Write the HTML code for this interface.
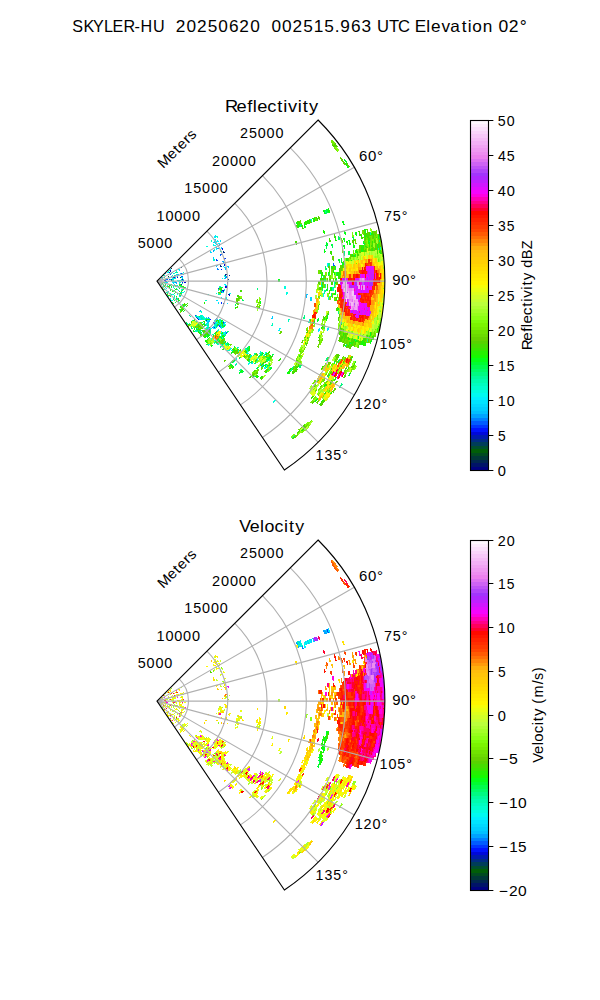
<!DOCTYPE html><html><head><meta charset="utf-8"><title>SKYLER-HU radar</title><style>html,body{margin:0;padding:0;background:#fff;overflow:hidden}svg{display:block}text{font-family:"Liberation Sans",sans-serif;fill:#000;white-space:pre}</style></head><body><svg width="600" height="1000" viewBox="0 0 600 1000"><rect width="600" height="1000" fill="#fff"/><defs><clipPath id="w0"><path d="M156.99 281.11L318.1 120A227.84 227.84 0 0 1 284.4 470Z"/></clipPath></defs><g clip-path="url(#w0)"><g shape-rendering="crispEdges"><path fill="#004b1f" d="M166 273.5l.2 .2 1.2-.9-.2-.3z"/><path fill="#005e07" d="M160 279.2l0 .1 1.3-.8-.1-.2zM159.2 280.2l0 .1 1.4-.6 0 0zM164.7 278.2l.1 .1 1.4-.5-.1-.2zM209.5 326.7l-1.1 1.2 1.1 1.1 1.1-1.3z"/><path fill="#004e2e" d="M164.6 273.7l.2 .2 1.1-1-.2-.2zM169.7 272.5l.2 .3 1.3-.8-.2-.3zM175.4 270.5l.2 .4 1.4-.7-.3-.5zM167.9 276.7l.1 .3 1.5-.6-.2-.3zM180.2 277l.1 .6 1.5-.3-.1-.5zM177 280.1l0 .4 1.6 0-.1-.5zM157 281.1l0 0 1.5 0 0 0zM166.4 281.1l0 .2 1.5 .1 .1-.3zM167.6 281.8l0 .3 1.5 .1 0-.2zM157 281.1l0 0 1.5 .2 0-.1zM175.8 282.8l-.1 .4 1.6 .2 0-.5zM169.9 282.5l-.1 .3 1.6 .2 0-.4z"/><path fill="#003d59" d="M157.8 280.3l.1 0 1.1-1-.1-.1zM170.1 269.3l.3 .3 1.2-1-.3-.3zM160.7 278.2l.1 .1 1.2-.9-.1-.1zM172.4 270.3l.3 .4 1.3-.9-.3-.4zM170.8 272.1l.2 .4 1.3-.9-.2-.3zM164.1 276.9l.1 .1 1.3-.7-.1-.2zM180.5 267.6l.3 .5 1.3-.7-.3-.6zM176.7 273.2l.1 .4 1.5-.5-.2-.5zM173.6 275.1l.1 .4 1.5-.5-.2-.5zM163.8 279.2l0 .1 1.5-.4 0-.2zM157 281.1l0 0 1.5-.4 0 0zM177.6 276l.1 .5 1.5-.4-.1-.5zM171 279.1l0 .4 1.6-.2-.1-.4zM171.1 280.4l0 .3 1.6 0-.1-.4zM165.2 281.1l0 .2 1.6 0 0-.2zM178.2 281.5l0 .5 1.5 0 0-.5zM161.7 281.5l0 .1 1.5 .2 0-.1z"/><path fill="#002b84" d="M157 281.1l0 0 2.1-1.7 0 0zM167.1 273l.2 .2 1.2-.9-.2-.3zM157.9 280.4l0 0 1.3-.9-.1-.1zM158.9 279.7l0 .1 1.3-.9-.1-.1zM158 280.5l0 0 1.3-.7 0-.1zM172.1 272l.3 .4 1.3-.8-.2-.4zM222.7 251.9l.6 1.5 1.5-.6-.7-1.6zM174 276.2l.1 .4 1.5-.3-.1-.5zM173 277.1l.1 .4 1.5-.3-.1-.5zM219.9 265.4l.3 1.5 1.5-.3-.3-1.5zM173.1 277.4l.1 .4 1.5-.3-.1-.4zM225 274l.1 1.6 1.5-.2-.1-1.6zM168.7 280.1l.1 .3 1.5-.1 0-.4zM171.1 280.1l0 .4 1.5-.1 0-.4zM181.7 279.4l0 .6 1.5-.1 0-.6zM178.2 280l0 .5 1.5 0 0-.6zM173.5 280.5l0 .4 1.5 0 0-.4zM227.7 278.6l0 1.7 1.5 0 0-1.7zM159.3 281.3l0 .1 1.6 .1 0-.1zM172.2 282.7l0 .4 1.5 .2 .1-.4zM227.8 293.6l-.3 1.7 1.5 .3 .3-1.7zM206.2 319.6l-.9 1.1 1.2 1 .9-1.2z"/><path fill="#001aaf" d="M163.7 274.4l.1 .2 1.1-1.1-.2-.1zM165.3 272.8l.2 .2 1.1-1.1-.2-.2zM165 274.2l.2 .1 1.1-.9-.1-.3zM169.4 272.1l.2 .3 1.3-.9-.3-.3zM166.6 276.6l.1 .3 1.4-.7-.1-.2zM164.6 278l.1 .2 1.4-.5 0-.3zM166 278.2l0 .2 1.5-.4-.1-.3zM168.4 278.1l0 .2 1.5-.3 0-.3zM166.1 278.8l.1 .2 1.5-.3-.1-.2zM160.4 280.3l.1 .1 1.5-.3-.1-.1zM172.2 279l0 .3 1.5-.1 0-.4zM228.6 274.8l.1 1.7 1.6-.1-.2-1.7zM159.3 280.9l0 .1 1.6-.1 0-.1zM165.2 281.4l0 .2 1.6 .1 0-.2zM180.4 284l-.1 .5 1.5 .3 .1-.6zM223.1 302.6l-.5 1.5 1.4 .6 .6-1.6z"/><path fill="#0008da" d="M157 281.1l0 0 1.1-1 0-.1zM160.4 277.8l.1 .1 1.1-1-.1-.1zM164.7 273.9l.2 .2 1.2-1.1-.2-.2zM169.8 270.7l.3 .3 1.2-.9-.3-.3zM168.6 273l.2 .3 1.2-.9-.2-.3zM176.6 270.3l.2 .4 1.4-.7-.3-.5zM221 248.5l.8 1.5 1.4-.7-.8-1.5zM157 281.1l0 0 1.4-.5 0 0zM157 281.1l0 0 1.5-.4 0 0zM171.8 277.1l.1 .4 1.5-.4-.1-.4zM223.3 264.6l.4 1.5 1.5-.3-.4-1.6zM173.1 277.7l.1 .4 1.5-.3-.1-.4zM165.1 279.5l0 .2 1.5-.2 0-.3zM176.7 277.3l0 .5 1.6-.3-.1-.5zM226.5 282.3l0 1.7 1.5 0 0-1.7zM160.5 281.2l0 .1 1.6 .1 0-.1zM178.2 281.8l0 .5 1.5 .1 0-.5zM184.1 282.1l0 .6 1.5 .1 0-.7zM225.2 285.9l-.2 1.6 1.6 .1 .1-1.6zM222.3 290.3l-.2 1.5 1.5 .3 .3-1.6zM228.9 293.8l-.3 1.7 1.5 .3 .4-1.7zM213.9 321l-.9 1.3 1.2 .9 1-1.3zM214.2 322.7l-1 1.3 1.2 .9 1-1.3zM197.3 317.4l-.9 .9 2 1.9 .9-1z"/><path fill="#0013ff" d="M157 281.1l0 0 1.1-1 0-.1zM158.7 279.5l.1 .1 1.1-1 0-.1zM157 281.1l0 0 1.3-.8 0 0zM162.3 278.6l.1 .1 1.4-.6-.1-.1zM173 273.6l.2 .4 1.4-.6-.2-.4zM157 281.1l0 0 1.4-.5 0-.1zM172.5 275.5l.1 .3 1.5-.5-.2-.4zM159.2 280.3l0 .1 1.5-.5 0-.1zM220.6 268.7l.3 1.5 1.5-.2-.3-1.6zM171 279.4l.1 .3 1.5-.1-.1-.4zM158.2 281l0 0 1.5-.1 0-.1zM157 281.1l0 0 1.5-.1 0 0zM162.9 280.6l0 .1 2.7-.1 0-.2zM173.5 281.1l0 .4 1.5 0 0-.4zM181.7 282l0 .6 1.5 0 .1-.6zM223.7 321.2l-1 1.5 1.3 .8 1-1.5zM210.1 318.3l-.9 1.2 1.2 .9 .9-1.2zM214.6 326.1l-1.1 1.3 1.2 1 1.1-1.4z"/><path fill="#0037ff" d="M163.8 274.6l.1 .1 1.2-1-.2-.2zM165.9 275.3l.1 .2 1.3-.8-.1-.2zM170.1 273.2l.2 .3 1.3-.7-.2-.4zM168.5 275.2l.2 .3 1.4-.7-.2-.3zM215.7 259.7l.5 1.4 1.4-.5-.5-1.4zM223.9 258.1l.5 1.6 1.4-.5-.5-1.6zM158.1 280.7l0 .1 1.5-.5 0 0zM180.5 273.5l.2 .5 1.5-.4-.2-.6zM172.8 276.3l.1 .4 1.5-.5-.2-.4zM176.3 275.9l.2 .5 1.4-.4-.1-.5zM178.2 280.7l0 .5 1.5 0 0-.5zM161.7 281.1l0 .1 1.5 .1 0-.2zM168.8 281.7l-.1 .3 1.6 .1 0-.3zM159.3 281.3l0 0 1.6 .2 0-.1zM181.6 283.7l-.1 .6 1.6 .2 0-.6zM217.9 287.5l-.1 1.4 1.5 .2 .2-1.4zM167.5 282.4l0 .2 1.5 .3 0-.3zM169.9 282.7l-.1 .3 1.5 .2 .1-.3zM220.9 301.9l-.5 1.5 1.4 .5 .5-1.6zM216 318l-.9 1.3 1.3 .9 .9-1.4zM219.7 325l-1 1.5 1.2 .9 1.1-1.5zM195.2 314.4l-.8 .8 1.2 1.1 .8-.9zM196.4 316.6l-.8 .9 1.1 1.1 .8-1z"/><path fill="#005cff" d="M164.5 275.4l.2 .2 1.2-.9-.2-.2zM164.7 275.7l.1 .2 1.3-.9-.1-.2zM163.8 276.5l.1 .2 1.3-.9-.1-.2zM167.2 275.2l.1 .3 1.4-.8-.2-.2zM169.7 274.9l.1 .3 1.4-.6-.1-.4zM177.4 272l.3 .5 1.4-.6-.3-.5zM178.7 271.9l.2 .5 1.4-.6-.2-.5zM219.9 254.4l.6 1.5 1.4-.6-.6-1.5zM170.6 277.2l.1 .3 1.5-.4-.1-.3zM181.9 274l.2 .6 1.5-.4-.2-.7zM167.4 278.9l0 .2 1.5-.2 0-.3zM181.3 276.4l.1 .6 1.5-.3-.1-.6zM166.3 279.5l0 .2 1.5-.2 0-.3zM169.8 279.1l0 .3 1.6-.2-.1-.4zM168.7 279.5l0 .2 1.5-.1 0-.3zM176.9 278.7l0 .4 1.6-.1-.1-.5zM168.7 279.9l0 .3 1.6-.2-.1-.3zM332.8 262.6l.4 4.2 1.5-.1-.4-4.2zM173.5 280l0 .3 1.5 0 0-.4zM182.9 280.2l0 .6 1.5 0 0-.6zM165.2 281.3l0 .1 1.6 .1 0-.2zM159.3 281.2l0 0 1.6 .1 0-.1zM221 291.2l-.2 1.6 1.5 .2 .2-1.5zM214.9 321.7l-1 1.3 1.3 .9 1-1.4zM226.6 331.7l-1.2 1.6 1.2 .9 1.2-1.6zM209.5 328.4l-1.1 1.2 1.1 1.1 1.2-1.3z"/><path fill="#0080ff" d="M161.9 277.8l.1 .1 1.2-.8-.1-.1zM158 280.5l0 0 1.3-.8 0-.1zM162.9 277.3l.1 .1 1.3-.8-.1-.2zM218.6 244.1l.9 1.4 1.3-.7-.9-1.5zM166.2 279.1l.1 .3 1.5-.3-.1-.3zM216.9 268.4l.3 1.4 1.5-.3-.3-1.5zM164 280.4l0 .1 1.6-.1-.1-.2zM160.5 280.8l0 .1 1.5-.1 0-.1zM225.2 276.3l.1 1.6 1.5 0-.1-1.7zM181.7 279.8l0 .6 1.6 0-.1-.7zM174.6 282l0 .5 1.5 .1 .1-.5zM173.4 282.5l0 .4 1.5 .2 .1-.4zM177 282.9l-.1 .4 1.5 .2 .1-.5zM223 322.3l-1 1.6 1.2 .8 1.1-1.6zM208.2 316.9l-.9 1.2 1.2 .9 .9-1.2zM218.8 324.4l-1.1 1.4 1.3 .9 1-1.5zM212.9 326.4l-1.1 1.3 1.1 .9 1.2-1.3zM197.9 316.7l-.8 .9 1.1 1.1 .9-1zM208.6 326l-1.1 1.2 1.1 1 1.1-1.2z"/><path fill="#00a4ff" d="M158.8 279.6l0 0 1.2-1-.1 0zM157 281.1l0 0 1.2-.9 0 0zM157 281.1l0 0 1.3-.8 0 0zM212.7 250.3l.7 1.3 1.3-.7-.7-1.4zM216.8 248l.7 1.4 1.4-.7-.8-1.5zM170.5 273.9l.2 .3 1.4-.6-.2-.4zM158.1 280.6l0 0 1.4-.6-.1-.1zM174.9 275.3l.2 .4 1.4-.4-.1-.5zM222.4 261.1l.4 1.6 1.5-.4-.5-1.6zM158.1 280.8l0 .1 1.5-.3 0-.1zM176.5 276.6l.1 .5 1.5-.3-.1-.5zM170.8 278.2l.1 .3 1.5-.3-.1-.3zM162.8 280.1l0 .1 1.5-.2 0-.2zM162.8 280.2l0 .1 1.6-.2-.1-.2zM165.2 280.2l0 .2 1.5-.1 0-.2zM180.5 279.1l0 .5 1.5-.1 0-.6zM169.9 280.7l.1 .3 1.5-.1 0-.3zM181.7 280.2l0 .6 1.6 0 0-.6zM174.7 280.8l0 .4 1.5 0 0-.4zM173.5 282l-.1 .4 1.6 .1 0-.4zM171.1 282.6l-.1 .3 1.5 .2 .1-.4zM175.7 283.1l0 .4 1.5 .2 .1-.5zM223.2 324.1l-1 1.6 1.2 .8 1.1-1.6zM200 310.1l-.7 1 1.2 .9 .8-1zM220.7 325.7l-1.1 1.5 1.3 .9 1.1-1.5zM216.1 324.1l-1 1.3 1.2 1 1-1.4zM200.6 315.2l-.8 1 1.2 1 .8-1zM222.9 332.6l-1.2 1.6 1.2 .9 1.2-1.5zM217.4 330.1l-1.1 1.4 1.1 1 1.2-1.5z"/><path fill="#00c1ff" d="M164.9 274l.1 .2 1.2-1-.2-.2zM213.9 241.2l1 1.4 1.2-.9-.9-1.4zM170.4 276.7l.1 .4 1.5-.5-.1-.3zM177.2 274.6l.1 .4 1.5-.4-.2-.5zM179.4 273.8l.2 .6 1.4-.5-.1-.5zM216.2 265.2l.3 1.4 1.5-.3-.3-1.4zM159.3 280.6l0 .1 1.5-.3 0-.1zM227.3 266.2l.3 1.6 1.5-.3-.3-1.7zM225.2 267.8l.3 1.7 1.6-.3-.3-1.7zM171 278.9l0 .3 1.5-.2 0-.3zM181.6 278.1l0 .6 1.5-.2 0-.6zM174.7 281.7l-.1 .4 1.6 .1 0-.4zM165.2 281.5l0 .2 1.5 .2 .1-.3zM175.8 282.1l0 .4 1.5 .2 .1-.5zM306.1 294.2l-.4 3.5 1.6 .1 .3-3.5zM199.5 310.9l-.7 .9 1.2 1 .7-1.1zM209.1 317.6l-.9 1.2 1.3 .9 .9-1.2zM209.4 319.2l-.9 1.2 1.2 1 1-1.3zM208.8 320.1l-1 1.2 1.2 1 1-1.3zM208.1 321l-1 1.2 1.2 1 1-1.2zM176.9 297.8l-.4 .4 1.1 1.1 .4-.5zM205.9 323.6l-1 1.2 1.1 1 1.1-1.2zM239.7 353l-1.7 1.9 1.1 1.1 1.8-2zM208.7 327.6l-1.1 1.2 1.1 1.1 1.1-1.2zM207.8 328.5l-1.1 1.2 1.1 1.1 1.2-1.2zM208.7 332.8l-1.3 1.2 1.1 1.1 1.2-1.2z"/><path fill="#00ceff" d="M166.2 271.9l.2 .3 1.1-1.1-.3-.2zM159.6 278.7l0 .1 1.2-1.1-.1 0zM160.9 278.5l.1 .1 1.3-.9-.1-.1zM216 244.3l.8 1.4 1.3-.8-.8-1.4zM165.1 276.3l.1 .1 1.3-.7-.1-.2zM172.3 272.3l.2 .3 1.4-.7-.3-.4zM160.1 279.4l.1 .1 1.3-.7 0-.1zM220.5 247.4l.7 1.5 1.4-.7-.8-1.6zM170.6 274.2l.2 .3 1.4-.7-.2-.3zM179.2 270.3l.3 .5 1.4-.7-.3-.5zM212.3 257.6l.6 1.3 1.4-.5-.6-1.4zM178.5 274.9l.2 .5 1.4-.3-.1-.6zM179.8 275l.1 .5 1.5-.3-.2-.6zM163.9 279.8l.1 .1 1.5-.2-.1-.2zM164 280.2l0 .2 1.6-.1-.1-.2zM180.5 282.8l0 .5 1.5 .1 0-.5zM173.3 283.4l0 .4 1.5 .2 0-.4zM157 281.1l0 0 1.5 .5 0-.1zM271.9 316.3l-.8 2.7 1.4 .4 .9-2.7zM164.8 283.8l-.1 .2 1.5 .5 0-.2zM215.6 320.6l-.9 1.4 1.2 .9 1-1.4zM161.7 284.7l-.1 .1 1.2 .9 .1-.1zM213.6 325.4l-1 1.3 1.2 1 1-1.4zM247.1 351.5l-1.7 2.1 1.2 1 1.7-2.2zM262.9 363.8l-2 2.5 1.2 1 2-2.5zM207.4 321.9l-1 1.2 1.2 1 1-1.2zM201.2 318.2l-.9 1.1 1.2 1 .9-1.1zM163.1 286.6l-.1 .2 1.1 1 .2-.1z"/><path fill="#00d9ff" d="M159.7 278.8l.1 .1 1.2-1-.1 0zM161.6 277.4l.1 .1 1.2-.9-.1-.2zM214.2 239.5l1 1.4 1.2-.9-1-1.4zM213 241.9l.9 1.3 1.3-.8-1-1.4zM214.6 242.2l.9 1.4 1.3-.8-.9-1.4zM219.3 240.7l.9 1.5 1.3-.9-1-1.5zM215.2 247.5l.7 1.4 1.4-.7-.8-1.4zM209.6 252l.6 1.2 1.4-.7-.7-1.3zM171.6 273.4l.1 .3 1.4-.7-.2-.4zM175.7 271.2l.3 .4 1.3-.7-.2-.5zM161.3 279.2l0 .1 1.5-.6-.1-.1zM164.6 277.9l.1 .2 1.4-.6-.1-.2zM157 281.1l0 0 1.5-.4 0 0zM171.7 276.9l.1 .3 1.5-.4-.1-.3zM182 274.4l.2 .6 1.5-.4-.2-.6zM165 279.3l.1 .1 1.5-.3-.1-.2zM223.9 266.9l.3 1.6 1.5-.3-.3-1.6zM174.3 277.7l.1 .4 1.5-.2-.1-.5zM173.3 278.5l0 .4 1.6-.2-.1-.4zM162.8 280.3l0 .1 1.6-.2-.1-.1zM169.9 279.5l0 .3 1.5-.1 0-.4zM182.8 278.8l.1 .7 1.5-.1-.1-.7zM174.6 279.9l.1 .4 1.5-.1 0-.4zM224.1 277.6l0 1.6 1.6-.1-.1-1.6zM179.4 280.7l0 .5 2.7 .1 0-.6zM174.7 281.1l0 .4 1.5 .1 0-.5zM178.2 281.1l0 .5 1.5 0 0-.5zM158.2 281.1l0 .1 1.5 0 0 0zM171.1 282.1l0 .3 1.5 .2 0-.4zM173.5 282.3l-.1 .3 1.5 .2 .1-.4zM310.5 297.2l-.4 3.7 1.5 .2 .5-3.7zM169.7 283.6l0 .3 1.5 .3 0-.3zM165.1 282.8l-.1 .2 1.5 .4 .1-.3zM159.3 281.6l0 .1 1.5 .4 0-.1zM183.3 287.7l-.2 .6 1.5 .4 .2-.7zM226.7 298.5l-.4 1.6 1.5 .4 .4-1.6zM158.1 281.4l0 0 1.5 .5 0-.1zM166 283.9l-.1 .2 1.5 .5 .1-.3zM181.8 288.7l-.2 .6 1.5 .5 .2-.7zM168.2 284.8l-.1 .2 1.5 .5 .1-.3zM176.4 292.3l-.3 .5 1.3 .8 .3-.5zM224.7 321.8l-1 1.6 1.3 .8 1-1.6zM180 295.5l-.4 .5 1.3 .9 .4-.6zM215.3 319l-.9 1.3 1.3 .9 .9-1.4zM207.5 317.8l-.9 1.2 1.3 .9 .9-1.2zM205 317.3l-.9 1.1 1.2 1 .9-1.2zM207.1 320.3l-.9 1.2 1.2 .9 .9-1.2zM223.9 333.3l-1.3 1.6 1.2 1 1.3-1.6zM200 316l-.8 1 1.2 1 .8-1.1zM198.5 316l-.8 .9 1.1 1 .9-1zM164.9 288.2l-.2 .2 1.1 1 .2-.2zM254.5 375.3l-2.3 2.2 1.1 1.1 2.3-2.3zM162.6 287.1l-.1 .2 1 1.1 .2-.1zM160.1 284.7l-.1 0 1 1.2 .1-.1zM157.7 282.1l0 0 .8 1.2 .1 0z"/><path fill="#00e4ff" d="M161.4 277.2l.1 .1 1.1-1-.1-.2zM166.8 272.6l.2 .2 1.2-.9-.3-.3zM168.9 271.5l.2 .3 1.2-1-.2-.3zM214.6 236.1l1 1.4 1.2-.9-1-1.4zM157.9 280.4l.1 0 1.2-.8 0-.1zM158 280.4l0 .1 1.2-.9 0 0zM165 276.1l.1 .2 1.3-.8-.1-.2zM158.1 280.7l0 0 1.4-.5 0-.1zM181.7 273.1l.1 .6 1.5-.5-.2-.6zM169.4 277.3l.1 .3 1.5-.4-.1-.3zM172.1 278.4l0 .4 1.6-.2-.1-.4zM167.6 280.6l0 .2 1.5 0 0-.3zM167.6 281.3l0 .2 1.5 .1 0-.3zM173.5 281.4l0 .4 1.5 0 0-.4zM164 281.8l0 .2 1.5 .2 0-.2zM166.4 282.3l-.1 .2 1.5 .2 .1-.3zM161.7 281.8l-.1 .1 1.6 .2 0-.1zM177.9 284.8l-.1 .5 1.5 .3 .1-.5zM221 297.1l-.4 1.5 1.5 .4 .4-1.6zM163.8 282.9l0 .2 1.4 .4 .1-.2zM327.7 326.9l-1.1 4 1.5 .4 1.1-4zM319 327.6l-1.1 3.8 1.4 .4 1.2-3.8zM216.7 299.4l-.4 1.4 1.4 .5 .5-1.5zM226.9 302.5l-.6 1.6 1.5 .5 .5-1.7zM218.3 302.2l-.5 1.4 1.4 .6 .5-1.5zM165.8 284.5l-.1 .2 1.4 .6 .1-.3zM177.6 289.9l-.2 .4 1.4 .7 .2-.5zM164.4 284.7l-.1 .2 1.4 .7 .1-.2zM161.2 283.2l-.1 .1 1.4 .8 .1-.2zM178 294.2l-.3 .5 1.2 .9 .4-.6zM217 318.6l-.9 1.4 1.2 .8 1-1.4zM267.7 353l-1.7 2.6 1.2 .8 1.8-2.6zM219.5 323.3l-1 1.4 1.3 .9 1-1.5zM164.7 286.5l-.1 .2 1.2 .9 .2-.2zM161.8 284.6l-.1 .1 1.2 .9 .1-.1zM171.3 291.5l-.3 .3 1.3 1 .2-.4zM225.6 331l-1.2 1.6 1.3 .9 1.2-1.6zM172.8 293.4l-.3 .4 1.2 1 .3-.4zM213.8 327.1l-1.1 1.3 1.1 1 1.2-1.3zM252.7 361.4l-1.9 2.2 1.1 1.1 2-2.3zM199.7 318.2l-.9 1 1.1 1 .9-1zM197.1 322.6l-1 1 1.1 1.1 1-.9zM164.1 289l-.2 .2 1 1.1 .2-.2zM170.5 299l-.5 .3 .9 1.2 .5-.3z"/><path fill="#00f0ff" d="M164.5 273.6l.2 .2 1.1-1.1-.2-.2zM157.9 280.3l0 0 1.1-1 0 0zM167.7 271.8l.2 .3 1.2-1-.3-.3zM169.4 270.3l.3 .3 1.2-1-.3-.3zM213.6 236.9l1.1 1.3 1.2-.9-1.1-1.4zM163.7 276.3l.1 .1 1.2-.9-.1-.1zM216.6 240.9l.9 1.4 1.3-.8-.9-1.4zM218 243l.8 1.5 1.4-.8-.9-1.5zM168.1 274.4l.2 .3 1.3-.8-.2-.3zM160.1 279.3l0 .1 1.3-.7 0-.1zM177.6 269.7l.3 .5 1.3-.7-.3-.6zM178.8 269.5l.3 .5 1.4-.7-.3-.5zM175.9 271.5l.2 .4 1.4-.6-.2-.5zM164.5 277.6l0 .2 1.5-.6-.1-.2zM223.8 261.9l.5 1.6 1.4-.4-.4-1.6zM160.5 280.6l0 .1 1.5-.2 0-.1zM172.2 279.2l0 .4 1.6-.1-.1-.4zM326.9 263.2l.4 4.1 1.5-.2-.3-4zM179.4 279.9l0 .6 1.5-.1 0-.5zM224.1 283.5l0 1.5 1.5 .1 .1-1.6zM172.3 282.4l-.1 .4 1.5 .2 .1-.4zM161.7 281.6l0 .1 1.5 .2 0-.1zM158.2 281.3l0 0 1.5 .2 0 0zM164 282.2l-.1 .2 1.6 .3 0-.2zM175.4 285l-.1 .5 1.5 .3 .1-.5zM181.2 286.3l-.1 .5 1.5 .4 .1-.6zM166.2 283.2l-.1 .2 1.5 .4 .1-.2zM180 286.4l-.2 .6 1.5 .3 .2-.5zM180.5 288.8l-.2 .5 1.5 .5 .2-.6zM279.1 328l-1.1 2.9 1.4 .5 1.1-2.9zM183 292.2l-.2 .6 1.4 .6 .2-.6zM157 281.1l0 0 1.4 .7 0 0zM177 293.6l-.3 .5 1.3 .8 .3-.5zM223.4 325.9l-1 1.6 1.2 .9 1.1-1.6zM217.1 324.7l-1.1 1.5 1.2 .9 1.1-1.4zM202.2 315.2l-.8 1 1.2 1 .8-1.1zM207.8 319.4l-.9 1.2 1.2 .9 .9-1.2zM162.6 285.5l-.1 .1 1.1 1 .2-.2zM221.1 331.2l-1.2 1.5 1.2 .9 1.2-1.5zM171.6 293l-.2 .3 1.1 1 .3-.4zM172.3 294l-.3 .3 1.2 1.1 .3-.4zM199.4 316.7l-.8 1 2 1.8 .9-1zM198.8 317.4l-.9 1 1.2 1.1 .9-1zM206.8 324.4l-1 1.2 1.1 1 1.1-1.2zM225.3 342.6l-1.5 1.6 1.2 1.1 1.4-1.7zM172.5 295.6l-.3 .3 1.1 1.1 .3-.4zM204.4 325.3l-1.1 1.1 1.1 1.1 1.1-1.1zM162.1 287.6l-.2 .1 .9 1.3 .2-.2zM159.8 284.9l-.1 .1 .8 1.2 .2 0zM163.1 289.8l-.2 .1 .8 1.3 .3-.1z"/><path fill="#00fbf1" d="M160.5 278l.1 0 1.1-1-.1-.1zM162.4 276.6l.1 .1 1.2-1-.1-.1zM164.2 275l.2 .2 1.2-.9-.2-.2zM166.9 272.8l.2 .2 1.2-.9-.2-.3zM167.2 273.1l.2 .3 1.2-.9-.2-.3zM157 281.1l0 0 1.3-.8-.1-.1zM167.6 273.7l.2 .2 1.3-.8-.2-.3zM215.6 241.6l.9 1.4 1.3-.9-.9-1.4zM214 245.5l.8 1.4 1.3-.8-.8-1.4zM160.1 279.4l0 .1 1.4-.7-.1-.1zM213.7 249.7l.7 1.3 1.4-.7-.8-1.4zM215.7 248.5l.8 1.4 1.4-.7-.8-1.4zM163.2 277.8l.1 .1 1.4-.6-.1-.2zM168.6 275.4l.2 .3 1.4-.6-.2-.3zM166.8 277.1l.1 .3 1.5-.6-.2-.2zM162.5 279l0 .1 1.5-.5-.1-.2zM168.2 277.5l.1 .2 1.5-.4-.1-.3zM222.4 266l.4 1.5 1.5-.3-.4-1.5zM181.4 276.8l.1 .6 1.5-.2-.1-.7zM161.6 280.4l.1 .1 1.5-.2 0-.2zM181.4 277.2l.1 .6 1.5-.2-.1-.6zM175.7 278.8l.1 .5 1.5-.2-.1-.5zM158.2 281l0 .1 1.5-.1 0-.1zM161.7 280.8l0 .1 1.5-.1 0-.1zM177 280.4l0 .5 1.6 0-.1-.5zM225.3 284.7l-.2 1.6 1.6 .1 .1-1.6zM164 281.6l0 .2 1.6 .1 0-.2zM322.8 292.7l-.4 3.9 1.6 .1 .3-3.9zM164 282.1l0 .2 1.5 .2 0-.2zM229.2 292.5l-.3 1.7 1.5 .3 .3-1.7zM173.2 284l0 .4 1.5 .3 0-.5zM181.1 286.7l-.1 .5 1.5 .4 .1-.6zM225.9 297l-.4 1.6 1.5 .4 .4-1.6zM165 283.2l-.1 .2 1.5 .5 0-.3zM179.8 287.2l-.2 .5 1.5 .5 .1-.6zM170.4 285.5l-.1 .3 1.5 .5 .1-.3zM161.4 282.6l0 .1 1.4 .6 .1-.2zM160.2 282.5l0 .1 2.4 1.2 .1-.2zM159.1 282.3l-.1 0 1.3 .8 .1-.1zM221 321.1l-1 1.5 1.3 .8 1-1.5zM214.6 320l-.9 1.3 1.3 .9 .9-1.4zM221.7 326.4l-1.1 1.5 1.2 .9 1.1-1.5zM206.6 317.1l-.9 1.2 1.2 .9 .9-1.2zM165.5 287.5l-.2 .2 1.2 .9 .2-.2zM204.1 316.6l-.9 1.1 1.2 .9 .9-1.1zM224.8 332.2l-1.3 1.6 1.2 .9 1.3-1.6zM267.1 364.1l-2 2.6 1.2 .9 2-2.6zM215.5 326.8l-1.1 1.4 1.2 1 1.1-1.4zM265.6 366l-2 2.5 1.2 1 2.1-2.6zM174.1 295.5l-.3 .4 1.2 1 .3-.4zM207.7 325.2l-1.1 1.2 1.2 1 1-1.2zM210.4 327.5l-1.1 1.2 1.1 1.1 1.1-1.3zM174.5 296.9l-.4 .4 1.1 1 .4-.4zM203.4 322.9l-1 1.1 1.1 1 1-1.1zM230.6 347.3l-1.6 1.8 1.1 1 1.6-1.7zM167.2 290.9l-.3 .3 1.1 1.1 .3-.3zM173.1 296.7l-.4 .3 1.1 1.1 .4-.4zM227.4 349.1l-1.7 1.6 1.1 1.1 1.7-1.7zM236.7 358.1l-1.9 1.8 1.1 1.1 1.9-1.9zM215.3 339.4l-1.4 1.4 1.1 1.1 1.4-1.4zM202 327.7l-1.1 1.1 1 1.1 1.2-1.1zM211.8 337.9l-1.3 1.3 1 1.1 1.4-1.3zM233.9 360.8l-1.9 1.8 1.1 1.1 1.9-1.8zM168.8 294.2l-.3 .3 1.8 2.1 .3-.3zM170.3 297.6l-.3 .3 .9 1.2 .4-.3zM172.6 300.3l-.5 .4 .9 1.2 .5-.4zM168.6 296l-.4 .2 1 1.3 .3-.3zM167.6 295.2l-.3 .3 .9 1.2 .4-.2zM171.2 299.9l-.5 .4 .9 1.2 .5-.3zM158.3 283l0 .1 .8 1.2 .1 0z"/><path fill="#00fee0" d="M160.6 278.1l.1 .1 1.2-1-.1-.1zM158.8 279.6l.1 .1 1.2-1-.1 0zM206.2 246.6l.8 1.2 1.3-.8-.8-1.2zM212.3 245.2l.9 1.3 1.3-.8-.9-1.4zM175.5 270.8l.3 .5 1.3-.7-.2-.5zM157 281.1l0 0 1.4-.7-.1 0zM172.9 273.4l.2 .3 1.4-.6-.2-.4zM174.2 273.4l.2 .4 1.4-.5-.2-.5zM182.6 272.3l.2 .6 1.5-.5-.2-.6zM171.6 276.4l.1 .3 1.4-.4-.1-.4zM160.4 280.3l0 0 1.5-.3 0-.1zM180 275.8l.1 .5 1.5-.3-.1-.5zM176.6 276.9l.1 .5 1.5-.3-.1-.5zM165.1 279.8l.1 .2 1.5-.2 0-.2zM158.2 280.9l0 .1 1.5-.2 0-.1zM173.3 278.8l.1 .4 1.5-.2-.1-.4zM223.9 275.3l.1 1.5 1.6-.1-.2-1.6zM182.9 279.3l0 .6 1.5-.1 0-.6zM221.7 277.7l.1 1.5 1.5 0 0-1.6zM171.1 280.6l0 .3 1.6 0 0-.3zM180.5 280.3l.1 .5 1.5 0 0-.6zM320.8 281.1l0 3.9 1.5 0 0-3.9zM284.2 285.6l-.1 2.9 1.5 .1 .1-3zM169.9 281.8l0 .3 1.5 .1 .1-.3zM286.1 292.4l-.3 3 1.6 .2 .3-3.1zM179.3 283.4l-.1 .6 1.5 .2 .1-.6zM222.2 291.4l-.3 1.6 1.5 .2 .3-1.5zM219.5 293.3l-.3 1.4 1.5 .3 .3-1.5zM163.9 282.6l0 .1 1.5 .4 0-.2zM169.7 283.8l-.1 .3 1.5 .4 .1-.4zM173.1 284.5l-.1 .4 1.5 .4 .1-.4zM163.8 283.1l-.1 .1 1.5 .5 .1-.2zM175.9 287.6l-.1 .5 1.4 .5 .2-.5zM180.2 289.6l-.2 .5 1.5 .6 .2-.6zM181.9 291.7l-.2 .6 1.4 .6 .3-.6zM176.9 291.3l-.2 .4 1.3 .8 .3-.5zM179.2 294.5l-.3 .5 1.3 .8 .3-.5zM219 319.8l-1 1.5 1.3 .8 1-1.5zM225 323.6l-1.1 1.6 1.3 .8 1.1-1.6zM217.3 320.3l-1 1.4 1.3 .8 1-1.4zM265.7 351.7l-1.7 2.6 1.3 .8 1.7-2.6zM216.6 321.3l-1 1.4 1.3 .9 1-1.4zM260.6 351l-1.7 2.4 1.2 .9 1.7-2.5zM164.6 286.7l-.1 .1 1.2 1 .2-.2zM203.1 315.9l-.8 1 1.2 1 .8-1.1zM214.4 324.4l-1 1.3 1.2 1 1-1.4zM257.7 357l-1.8 2.3 1.2 1 1.8-2.4zM248 352.2l-1.7 2.1 1.2 1 1.7-2.1zM207.5 323.5l-1 1.2 1.2 1 1-1.2zM221.1 334.9l-1.3 1.5 1.2 1 1.3-1.5zM249.5 361.5l-1.9 2.2 1.1 1 1.9-2.2zM168.4 291.4l-.3 .2 1.1 1.1 .3-.3zM275.3 399.4l-2.8 2.8 1.1 1.1 2.8-2.8zM209.3 343.4l-1.5 1.2 .9 1.2 1.5-1.2zM195.4 330.3l-1.1 .9 .9 1.3 1.2-1zM186.1 321.2l-1 .6 .9 1.3 1-.7zM172.5 303.3l-.5 .4 .9 1.2 .5-.3z"/><path fill="#00fdcf" d="M163.2 275.7l.1 .1 1.2-.9-.1-.2zM168.6 271.1l.2 .2 1.2-.9-.3-.3zM159.7 278.9l.1 0 1.2-.9-.1-.1zM216.3 236.4l1 1.4 1.3-.9-1.1-1.4zM161.8 277.7l.1 .1 1.3-.8-.1-.1zM168.7 273.2l.2 .3 1.3-.8-.2-.4zM159 279.9l0 0 1.4-.7-.1-.1zM162.3 278.5l0 .2 1.4-.7 0-.1zM164.4 277.5l.1 .2 1.4-.7-.1-.2zM157 281.1l0 0 1.4-.6 0 0zM213.1 259.6l.5 1.3 1.4-.5-.5-1.4zM171.4 275.9l.1 .3 1.5-.5-.2-.4zM175.9 274.6l.2 .4 1.4-.4-.1-.5zM181.8 273.5l.2 .6 1.4-.4-.1-.6zM158.1 280.8l0 .1 1.5-.4 0 0zM166.4 280l0 .2 1.5-.2 0-.2zM172.3 280.3l0 .4 1.5-.1 0-.4zM179.4 280.3l0 .6 1.5-.1 0-.5zM160.5 281.2l0 .1 1.6 0 0-.1zM172.3 281.4l0 .3 1.5 .1 0-.4zM174.7 281.4l0 .4 1.5 .1 0-.5zM173.5 281.7l0 .4 1.5 .1 0-.5zM179.4 282.3l-.1 .5 1.5 .1 .1-.5zM219.3 285.5l-.1 1.4 1.5 .2 .1-1.5zM176.9 283.6l-.1 .4 1.5 .2 .1-.5zM223.7 289.3l-.2 1.6 1.5 .2 .2-1.6zM217.7 289.6l-.2 1.5 1.5 .2 .2-1.4zM216 292.6l-.3 1.4 1.5 .3 .3-1.4zM309.1 319l-1 3.6 1.5 .4 1-3.6zM173.8 286.6l-.1 .4 1.4 .5 .2-.5zM173.5 287.4l-.2 .4 1.5 .6 .1-.4zM180.5 292.1l-.3 .5 1.4 .7 .3-.6zM158 281.6l0 .1 1.4 .7 0-.1zM158 281.7l0 0 1.3 .8 .1-.1zM161.1 283.4l0 .1 1.3 .8 .1-.2zM170.3 288.8l-.2 .3 1.3 .8 .2-.4zM220 320.5l-1 1.4 1.3 .9 1-1.5zM224 323l-1.1 1.5 1.3 .9 1.1-1.6zM178.5 295.6l-.4 .5 1.3 .9 .4-.5zM201 310.8l-.8 1 1.3 .9 .7-1.1zM218.5 322.6l-1 1.5 1.3 .9 1-1.5zM264.5 353.6l-1.8 2.5 1.3 .9 1.7-2.5zM180.2 297.3l-.4 .6 1.2 .9 .4-.6zM216.8 323l-1 1.4 1.3 .9 1-1.4zM215.3 325.1l-1 1.3 1.2 1 1.1-1.4zM223.8 331.5l-1.2 1.5 1.2 1 1.2-1.6zM245.5 347.8l-1.6 2 1.2 1 1.6-2.1zM204.4 318.1l-.9 1.1 1.2 1 .9-1.1zM251.7 355.1l-1.8 2.2 1.2 1 1.8-2.2zM172.6 293.7l-.3 .4 1.1 1 .4-.4zM174.4 295.2l-.3 .4 1.1 1 .4-.4zM208.3 322.6l-1 1.2 1.2 1 1-1.2zM220.2 332.3l-1.2 1.5 1.1 1 1.3-1.6zM163.3 286.4l-.1 .2 1.1 1 .2-.2zM177.8 298.5l-.5 .5 1.2 1 .4-.5zM222.9 336.4l-1.3 1.5 1.1 1.1 1.4-1.6zM163.2 286.5l-.1 .2 1.1 1 .2-.2zM166.6 289.8l-.2 .2 1.1 1.1 .3-.3zM170.1 292.9l-.3 .3 1.2 1.1 .3-.3zM195.5 315.8l-.8 .9 1.1 1.1 .9-1zM166.5 290l-.2 .2 1.1 1 .2-.2zM206.1 326.9l-1.1 1.2 1.1 1 1.1-1.1zM223.4 343l-1.5 1.5 1.1 1.1 1.5-1.6zM221.4 343.3l-1.5 1.5 1.1 1.1 1.5-1.5zM173.4 298.1l-.4 .3 1 1.2 .4-.4zM166.6 291.5l-.2 .2 1 1.1 .3-.2zM167.9 295l-.4 .3 1 1.2 .3-.3zM171.9 300.9l-.5 .3 .9 1.3 .5-.4zM161.7 287.9l-.1 .1 .8 1.3 .2-.2z"/><path fill="#00fcbf" d="M167 271.1l.2 .2 1.1-1-.2-.3zM162.9 275.4l.2 .1 1.1-1-.2-.2zM157 281.1l0 0 1.2-1-.1 0zM210.6 240.7l1 1.3 1.2-.9-.9-1.3zM158.9 279.8l.1 0 1.2-.8 0-.1zM219.5 250.6l.7 1.5 1.4-.6-.7-1.5zM175.3 273l.2 .4 1.4-.6-.2-.5zM171.9 277.4l0 .4 1.5-.4-.1-.4zM175.6 277.8l0 .5 1.5-.3 0-.4zM174.5 278.3l0 .5 1.5-.2 0-.5zM379.3 245.9l.8 5.2 1.5-.2-.8-5.2zM172.2 279.5l.1 .4 1.5-.2 0-.4zM158.2 281.1l0 0 1.5 0 0 0zM164.1 281l0 .2 1.5 0 0-.2zM328.4 296.1l-.4 4 1.5 .2 .4-4.1zM177.6 286.2l-.2 .5 1.5 .4 .2-.5zM207.3 293.7l-.3 1.1 1.5 .4 .3-1.2zM178.5 287.3l-.1 .5 1.4 .4 .2-.5zM288.4 318.8l-.9 3.1 1.4 .4 1-3.1zM183.6 290.8l-.3 .6 1.5 .6 .2-.7zM272.2 323l-1.1 2.7 1.5 .6 1-2.7zM205.4 299.7l-.4 1.1 1.4 .6 .4-1.2zM166.8 285.1l-.1 .2 1.4 .6 .1-.2zM176.7 289.1l-.2 .4 1.4 .6 .2-.5zM180.9 293.8l-.3 .6 1.4 .7 .3-.5zM164.1 285.2l-.1 .2 1.3 .8 .2-.2zM219.6 318.7l-.9 1.5 1.3 .8 .9-1.5zM222.7 320.6l-1 1.5 1.3 .8 1-1.5zM157 281.1l0 0 1.2 .9 0 0zM215.9 322.3l-1 1.4 1.2 .9 1-1.4zM159.9 283.2l-.1 .1 1.2 .9 .1-.1zM215.2 323.4l-1.1 1.3 1.3 1 1-1.4zM248.3 349.9l-1.7 2.1 1.2 1 1.7-2.2zM269.9 366.2l-2 2.7 1.2 .9 2.1-2.7zM202.5 316.7l-.9 1 2.1 1.7 .9-1.1zM218.3 329l-1.2 1.4 1.2 1 1.2-1.5zM159.7 283.3l0 .1 1.2 1 0-.1zM201 316.7l-.9 1 1.2 1 .8-1zM237.6 346.4l-1.6 1.9 1.2 .9 1.6-1.9zM250.4 356.8l-1.8 2.1 1.2 1 1.8-2.2zM176 297l-.4 .5 1.1 1 .4-.5zM206.6 322.8l-.9 1.1 1.1 1 1-1.1zM238.2 349.3l-1.6 1.9 1.2 1 1.6-1.9zM197 315.9l-.8 .9 1.1 1.1 .9-1zM221.9 337.6l-1.3 1.5 1.1 1 1.4-1.5zM224.6 339.9l-1.4 1.5 1.1 1.1 1.4-1.6zM232.3 348.9l-1.6 1.8 1.1 1 1.6-1.7zM177.7 300.4l-.5 .5 1.1 1.1 .5-.6zM213 333.4l-1.2 1.3 1.1 1 1.2-1.3zM229.4 348.6l-1.6 1.7 1.1 1.1 1.6-1.7zM223.1 345l-1.5 1.5 1.1 1.1 1.5-1.6zM174.5 298.6l-.4 .4 1 1.1 .5-.4zM218.7 342.8l-1.5 1.4 1 1.1 1.5-1.4zM235.3 359.4l-1.8 1.9 1 1.1 1.9-1.9zM164.4 288.7l-.2 .2 1 1.1 .2-.2zM201.8 332.7l-1.2 1 1 1.2 1.2-1zM163.8 289.2l-.2 .2 1 1.2 .2-.2zM166.1 291.9l-.3 .3 1 1.2 .3-.3zM160.7 285.7l-.1 .1 .9 1.2 .2-.1zM196.3 329.7l-1.2 .9 1.7 2.1 1.2-.9zM173.7 302.5l-.5 .4 .9 1.2 .5-.4zM189.6 322.9l-1 .8 1 1.2 1-.8zM166.5 294.6l-.4 .2 .9 1.3 .3-.2z"/><path fill="#00fbae" d="M167.8 272l.2 .3 1.2-1-.2-.3zM163.5 276l.1 .2 1.2-.9-.1-.2zM158 280.5l0 .1 1.4-.7 0-.1zM160.2 279.6l0 .1 1.4-.6 0-.1zM168.9 276l.1 .3 1.5-.5-.2-.4zM310 219.3l1.4 3.6 1.4-.5-1.4-3.7zM168.3 277.9l.1 .2 1.5-.4-.1-.3zM169.6 278.2l.1 .3 1.5-.3-.1-.4zM369.4 232.1l1.1 5 1.5-.3-1.1-5.1zM377 246.3l.7 5.2 1.6-.2-.8-5.3zM333.8 281.1l-.1 4.2 1.5 0 .1-4.2zM331.3 287.2l-.2 4.1 2.7 .2 .2-4.2zM181.6 283.3l0 .5 1.5 .2 .1-.6zM176.7 284.9l-.1 .5 1.5 .3 .1-.5zM218.3 293l-.3 1.5 1.5 .3 .3-1.5zM160.4 282l0 .1 1.5 .4 0-.1zM367.6 337.5l-1.4 5 1.5 .4 1.4-5zM158.1 281.5l0 0 1.5 .5 0-.1zM166.6 285.6l-.1 .2 1.4 .7 .1-.3zM165.5 285.2l-.1 .2 1.3 .7 .1-.2zM159.1 282.2l-.1 .1 1.4 .7 0-.1zM220.6 319.3l-.9 1.5 1.3 .9 .9-1.6zM220.2 322.2l-.9 1.5 1.2 .8 1-1.5zM291.4 368.4l-2.1 3.1 1.3 .9 2.1-3.2zM217.6 322l-1 1.4 1.2 .9 1-1.5zM201.2 314.4l-.8 1.1 1.2 .9 .9-1zM246.4 348.5l-1.6 2.1 1.2 .9 1.6-2.1zM253.9 354.2l-1.7 2.2 1.2 1 1.8-2.3zM201.6 315.9l-.9 1.1 1.2 .9 .9-1zM250.8 354.4l-1.8 2.2 1.2 1 1.8-2.3zM257.3 359.5l-1.9 2.3 1.2 1 1.9-2.4zM261 362.4l-1.9 2.4 1.1 1 2-2.5zM164.3 287l-.1 .2 1.1 1 .2-.2zM202.8 318.2l-.9 1.1 1.2 1 .9-1.1zM222 333.8l-1.2 1.5 1.1 1 1.3-1.6zM168.7 291l-.2 .2 1.1 1 .3-.3zM239.1 350l-1.6 2 1.1 1 1.7-2zM177.4 298.9l-.4 .5 1.2 1 .4-.5zM196.1 315.1l-.8 .9 1.1 1.1 .9-1zM182.4 304l-.6 .6 1.2 1 .5-.6zM226.2 343.4l-1.5 1.6 2 1.9 1.5-1.7zM168.2 291.6l-.3 .2 1.1 1.1 .3-.3zM176 298.8l-.5 .4 1.1 1.1 .5-.5zM196.2 320.3l-1 .9 1.1 1.1 .9-.9zM221.2 345.3l-1.6 1.5 1.1 1.1 1.5-1.5zM170.1 294.7l-.3 .3 1 1.1 .4-.3zM190.6 315.9l-.9 .7 1.1 1.2 .8-.8zM236.4 363.3l-2 1.9 1.1 1.1 2-1.9zM196.4 324.9l-1 .9 1 1.2 1-1zM166.3 291.8l-.3 .2 1 1.2 .3-.3zM197.2 327.4l-1.1 .9 1 1.2 1.1-1zM194.9 326.2l-1.1 .9 1 1.2 1.1-.9zM157 281.1l0 0 .9 1.3 0-.1zM187.5 323.1l-1 .7 .8 1.2 1.1-.7zM157.7 282.1l-.1 0 .9 1.3 0-.1z"/><path fill="#00fa9d" d="M163.4 278.1l.1 .2 1.4-.6-.1-.2zM175.1 272.6l.2 .5 1.4-.6-.2-.5zM176.4 272.5l.2 .4 1.4-.5-.2-.5zM324.1 210.2l1.6 4 1.4-.6-1.6-4zM173.8 275.6l.1 .4 1.5-.4-.1-.4zM169.8 279.3l.1 .3 1.5-.2-.1-.3zM162.9 280.9l0 .1 1.5 0 0-.1zM180.6 281.1l0 .6 1.5 0 0-.6zM324.3 284l-.1 4 1.5 0 .1-3.9zM333.7 284.2l-.1 4.2 1.5 0 .2-4.2zM324.1 289.9l-.2 3.9 1.5 .1 .2-4zM166.4 281.9l0 .3 1.5 .1 0-.2zM160.5 281.5l0 .1 1.5 .2 0-.2zM159.3 281.4l0 .1 1.5 .2 0 0zM159.3 281.5l0 .1 1.5 .3 0-.1zM163.9 282.5l0 .1 1.5 .3 0-.1zM181.3 285.8l-.1 .6 1.5 .3 .1-.6zM180 286l-.1 .6 1.5 .3 .1-.6zM182.4 286.5l-.2 .6 1.5 .3 .2-.6zM161.6 282.2l0 .1 1.4 .4 .1-.2zM169.4 284.9l-.1 .3 1.5 .5 .1-.4zM181.7 289.1l-.2 .6 1.4 .5 .2-.6zM175.8 288l-.1 .4 1.4 .6 .2-.5zM159.2 282l0 0 1.4 .7 0-.1zM170.1 286.4l-.1 .3 1.4 .6 .1-.3zM174.5 288.2l-.2 .4 1.4 .6 .2-.5zM180.7 291.7l-.3 .5 1.4 .7 .3-.6zM170.6 288.1l-.1 .3 1.3 .7 .2-.3zM178.8 292.7l-.2 .5 1.3 .8 .3-.6zM172.1 290.2l-.2 .4 1.3 .8 .3-.4zM173 291.1l-.3 .4 1.3 .8 .3-.4zM292.9 366l-2 3.2 1.3 .9 2-3.2zM167.9 288.2l-.2 .2 1.3 .9 .1-.3zM221.2 322.8l-1 1.5 1.3 .9 1-1.5zM171.6 291l-.2 .3 1.3 .9 .2-.3zM221.5 324.6l-1.1 1.5 1.3 .9 1-1.5zM261.5 351.6l-1.7 2.5 1.3 .9 1.7-2.5zM270.3 357.6l-1.8 2.6 1.2 .9 1.9-2.7zM255.2 352.5l-1.7 2.3 1.2 .9 1.7-2.3zM168.3 289.6l-.2 .3 1.2 .9 .2-.3zM225.7 332.9l-1.2 1.6 1.2 .9 1.2-1.6zM247.3 349.2l-1.6 2.1 1.2 1 1.7-2.2zM224.8 334.1l-1.3 1.6 1.2 .9 1.3-1.6zM165.2 287.8l-.1 .2 1.1 1 .2-.3zM201.9 317.5l-.9 1 1.2 1 .9-1.1zM208.5 324.3l-1.1 1.2 1.2 1 1-1.2zM222 335.7l-1.3 1.5 1.1 1 1.4-1.6zM164.1 287.3l-.1 .2 1.1 1 .2-.2zM171 293.7l-.3 .4 1.1 1 .3-.3zM184.1 305.6l-.5 .6 1.1 1 .6-.6zM207.8 326.8l-1.1 1.2 1.1 1.1 1.1-1.2zM210.4 329.2l-1.1 1.3 1.1 1 1.2-1.3zM157.9 281.9l-.1 0 1.1 1.1 .1 0zM219 339l-1.3 1.4 1.1 1.1 1.4-1.5zM210.4 332.7l-1.2 1.2 1 1.1 1.3-1.3zM157.8 281.9l0 .1 1.1 1.1 0-.1zM162 286.1l-.1 .1 1 1.1 .2-.1zM165.3 289.4l-.2 .2 1.1 1.1 .2-.2zM205.3 329.4l-1.1 1.2 1 1.1 1.2-1.2zM215.1 341.3l-1.4 1.4 1 1.1 1.5-1.4zM241.3 368.4l-2.1 2 1.1 1.1 2.1-2zM193.2 319.9l-1 .8 1.1 1.2 .9-.9zM295 434.4l-3.7 3.2 1 1.1 3.7-3.2zM199.5 330l-1.1 1 .9 1.2 1.2-1z"/><path fill="#00fa82" d="M163.3 278l.1 .2 1.4-.7-.1-.2zM299 223.7l1.4 3.4 1.4-.6-1.3-3.4zM165.1 279.4l0 .2 1.5-.3 0-.2zM343.2 251.6l.7 4.4 1.5-.2-.7-4.4zM328.1 263.1l.4 4.1 1.5-.2-.4-4zM320.8 284l-.1 3.8 1.5 .1 .1-3.9zM256.9 288.1l-.2 2.3 1.6 .2 .1-2.4zM331 293.3l-.3 4.1 1.5 .1 .3-4.1zM219.2 286.6l-.1 1.4 1.5 .2 .1-1.5zM217.8 288.6l-.2 1.4 1.5 .2 .2-1.4zM174.5 283.6l-.1 .4 1.5 .2 .1-.4zM220 290l-.2 1.4 1.5 .3 .2-1.5zM157 281.1l0 0 1.5 .3 0-.1zM338.6 309.9l-.8 4.2 1.6 .3 .7-4.3zM164 282.3l-.1 .2 1.5 .3 .1-.2zM184.7 287l-.2 .6 1.5 .4 .2-.7zM341.4 320.3l-.9 4.3 1.4 .4 1-4.4zM304 315l-.9 3.5 1.5 .4 .9-3.5zM159.3 281.7l0 0 1.4 .4 .1 0zM175.1 286.3l-.1 .4 1.5 .5 .1-.5zM172.8 285.9l-.1 .4 1.4 .5 .1-.4zM168.9 286.2l-.1 .3 1.4 .6 .1-.3zM327.1 356.8l-1.8 4 1.4 .7 1.8-4zM173.6 290l-.2 .4 1.4 .7 .2-.4zM341.5 383.4l-2.5 4.3 1.4 .8 2.4-4.4zM300.9 364.2l-2 3.4 1.3 .8 2-3.4zM161 283.5l0 .1 1.3 .9 0-.2zM179 294.8l-.4 .6 1.3 .8 .4-.5zM227.5 330.5l-1.2 1.6 1.2 .9 1.2-1.7zM248.7 345.3l-1.5 2.2 1.2 .9 1.6-2.2zM268 358.8l-1.9 2.6 1.3 .9 1.9-2.6zM160.8 283.9l-.1 .1 1.2 1 .1-.1zM205.9 318l-.8 1.1 1.2 1 .9-1.2zM205.3 318.8l-.9 1.2 1.2 .9 .9-1.1zM161.6 284.8l-.1 .1 1.2 1 .1-.1zM159.7 283.4l-.1 0 1.2 1.1 .1-.1zM159.7 283.4l-.1 .1 1.1 1 .1-.1zM173.9 295.8l-.4 .4 1.2 1 .3-.4zM227.3 342.2l-1.5 1.6 1.1 1.1 1.5-1.7zM201.7 321.3l-1 1.1 1.1 1 1-1zM219.2 337.1l-1.4 1.4 1.2 1.1 1.3-1.5zM159.6 283.5l-.1 .1 1.1 1.1 .1-.1zM210.4 330.9l-1.2 1.3 1.1 1.1 1.3-1.3zM198.7 322.8l-1 .9 1 1.2 1-1zM209.5 333.6l-1.3 1.2 1.1 1.1 1.3-1.2zM217.8 341.9l-1.4 1.5 1 1.1 1.5-1.5zM189.7 315l-.8 .8 1.1 1.1 .8-.8zM197.9 323.5l-1 .9 1.1 1.2 1-1zM202 329.4l-1.1 1 1 1.2 1.1-1.1zM206.8 334.5l-1.2 1.2 1 1.2 1.3-1.2zM198.7 329.1l-1.1 1 1 1.2 1.1-1zM191.8 325.7l-1 .8 .9 1.2 1.1-.8zM191.7 327.2l-1.1 .8 .9 1.3 1.2-.8z"/><path fill="#00fb67" d="M337.7 236.1l1 4.2 1.5-.3-1-4.3zM368.7 240l.9 5 1.5-.3-.9-5zM378 238.2l.9 5.2 1.5-.3-.9-5.2zM324.9 266.4l.3 4 1.5-.1-.3-4zM328.8 272.1l.2 4.1 1.5-.1-.2-4.1zM323.1 275.3l.1 3.9 1.5 0-.1-3.9zM324.3 278.2l0 3.9 1.6 0-.1-3.9zM320.4 292.5l-.3 3.9 1.5 .1 .3-3.9zM221.6 286.8l-.2 1.5 1.5 .1 .2-1.5zM176.8 283.9l0 .5 1.5 .2 0-.5zM162.8 282.2l-.1 .2 1.5 .3 .1-.2zM242.3 299.2l-.5 2 1.5 .4 .5-2zM177.7 285.9l-.2 .5 1.5 .3 .2-.5zM324.3 325.9l-1.1 4 1.5 .4 1.1-4zM235.2 303.5l-.6 1.9 1.5 .4 .5-1.9zM355.2 338l-1.4 4.6 1.5 .5 1.4-4.7zM350.8 340.4l-1.4 4.5 1.4 .5 1.5-4.6zM346.4 342.7l-1.5 4.4 1.5 .5 1.5-4.5zM165.9 284.3l-.1 .2 1.4 .6 .1-.2zM164.7 284.1l-.1 .1 1.4 .6 .1-.2zM179.9 290.4l-.2 .5 1.4 .6 .3-.5zM339.2 358.5l-1.8 4.2 1.4 .7 1.9-4.3zM329.7 373l-2.2 4 1.3 .7 2.3-4zM299.9 363.6l-2 3.3 1.3 .8 2-3.3zM177.2 293.2l-.3 .5 1.3 .8 .3-.5zM157 281.1l0 0 1.3 .9 0-.1zM161.9 284.3l0 .1 1.2 .9 .1-.1zM219.3 321.5l-1 1.5 1.3 .9 .9-1.5zM162.9 285.1l-.1 .1 1.2 .9 .1-.2zM220.5 323.9l-1 1.5 1.2 .9 1.1-1.5zM173.4 292.6l-.3 .4 1.3 .9 .3-.4zM260.3 353.4l-1.7 2.5 2.1 1.6 1.8-2.5zM216.3 325.8l-1.1 1.4 1.2 .9 1.1-1.4zM268.1 364.8l-2 2.6 1.2 .9 2-2.6zM268.4 368.2l-2 2.6 1.1 .9 2.1-2.6zM255.9 361.2l-1.9 2.3 1.2 1 1.9-2.3zM185 304.6l-.6 .6 1.2 1.1 .6-.7zM223.8 337.2l-1.3 1.5 1.1 1 1.4-1.5zM250 359.1l-1.9 2.2 1.2 1 1.9-2.2zM160.6 284.2l-.1 .1 1.1 1 .1-.1zM220.1 336l-1.3 1.5 1.2 1 1.3-1.5zM164 287.4l-.2 .2 1.2 1 .1-.2zM222.3 344.1l-1.5 1.6 1 1.1 1.6-1.6zM207 331.1l-1.2 1.2 1.1 1.1 1.2-1.2zM161.1 285.3l-.1 .1 1 1.2 .1-.1zM165.2 289.6l-.2 .2 1 1.1 .2-.2zM183.2 308.2l-.7 .6 1.1 1.2 .7-.7zM174.7 300.1l-.5 .4 1 1.1 .5-.4zM202.8 330.2l-1.2 1.1 1.1 1.1 1.2-1zM173.6 299.5l-.5 .4 1 1.1 .5-.4zM175.1 301.3l-.5 .4 1 1.1 .6-.4zM182.2 309.1l-.6 .6 1 1.2 .7-.6zM200.4 329.3l-1.2 1 1 1.1 1.2-1zM203.5 332.8l-1.2 1.1 1 1.1 1.2-1.1zM167 292.7l-.2 .2 .9 1.2 .3-.3zM200.3 330.9l-1.2 1 1 1.2 1.2-1zM197.1 329l-1.1 .9 1 1.2 1.1-1z"/><path fill="#00fc4c" d="M325.1 209.7l1.7 4 1.4-.5-1.7-4.1zM352.2 236l1 4.7 1.5-.4-1-4.6zM325.3 245.3l.8 4 1.5-.3-.8-4zM331.1 244.1l.8 4.1 1.5-.3-.8-4.1zM347.9 250.9l.6 4.5 1.6-.2-.7-4.6zM335.9 271.7l.2 4.3 1.5-.1-.2-4.2zM321.9 286.9l-.2 3.9 1.5 0 .2-3.9zM220.4 286.7l-.2 1.4 1.6 .2 .1-1.5zM159.3 281.5l0 0 1.5 .3 0-.1zM177.9 284.4l0 .5 1.5 .3 .1-.5zM180.1 285.6l-.1 .6 1.5 .3 .1-.6zM163.9 282.7l-.1 .2 1.5 .3 .1-.2zM182.9 289l-.2 .6 1.5 .5 .2-.6zM160.3 282.4l-.1 .1 1.4 .6 .1-.1zM158.1 281.6l0 0 1.4 .6 0 0zM171.1 287.1l-.1 .3 1.3 .7 .2-.4zM176.1 290.4l-.3 .5 1.4 .7 .2-.5zM181.4 293l-.3 .6 1.3 .7 .3-.6zM163.3 284.3l-.1 .2 1.4 .7 .1-.2zM169.2 288.2l-.1 .3 1.3 .8 .2-.4zM272.9 353.6l-1.7 2.7 1.3 .8 1.7-2.7zM222.5 325.3l-1.1 1.5 1.2 .9 1.1-1.6zM267.4 355.6l-1.8 2.6 2.2 1.5 1.8-2.6zM267 358.2l-1.8 2.5 1.2 .9 1.9-2.6zM247.6 346.9l-1.6 2.1 2.1 1.7 1.7-2.2zM259 355.2l-1.8 2.4 1.3 .9 1.7-2.4zM166.9 289.4l-.2 .3 1.2 1 .2-.3zM234.6 346.3l-1.5 1.8 1.1 1 1.6-1.9zM251.8 360.6l-1.9 2.3 1.1 1 2-2.3zM258.1 366l-2 2.3 1.1 1 2.1-2.4zM184.6 305.1l-.6 .6 1.1 1.1 .6-.7zM219.3 335.2l-1.3 1.5 1.1 1 1.3-1.5zM229 343.7l-1.5 1.7 1.2 1 1.5-1.7zM223.6 341l-1.5 1.6 1.1 1 1.5-1.5zM240.2 356l-1.8 2 1.1 1 1.8-2zM163 286.7l-.1 .2 1.1 1 .1-.1zM208.7 329.3l-1.1 1.2 1.1 1.1 1.1-1.2zM218.2 338.2l-1.4 1.4 1.1 1.1 1.4-1.5zM218 340.1l-1.4 1.4 1.1 1.1 1.4-1.5zM162.8 286.9l-.1 .2 1 1.1 .2-.2zM216.2 340.3l-1.5 1.4 1.1 1.1 1.4-1.4zM243 370.1l-2.2 2 1.1 1.1 2.1-2zM210.8 338.9l-1.3 1.2 1 1.2 1.4-1.3zM231.7 361.3l-1.9 1.7 1 1.1 2-1.7zM172.8 298.6l-.5 .4 1 1.2 .5-.4zM183 310l-.7 .6 1 1.2 .7-.7zM208.2 338l-1.3 1.2 1 1.2 1.4-1.2zM232.7 365.2l-2 1.7 1 1.2 2-1.8zM181 308.7l-.7 .5 1 1.2 .7-.6zM201.1 331.8l-1.2 1 .9 1.2 1.3-1zM164.6 290.1l-.2 .2 .9 1.2 .3-.2zM180 309.5l-.7 .5 .9 1.2 .7-.5zM191.1 323.2l-1 .8 .9 1.2 1.1-.8zM207.4 343.4l-1.5 1.2 1 1.2 1.5-1.2zM161.8 287.8l-.1 .1 .9 1.3 .1-.2zM186.8 322.1l-1 .7 .9 1.3 1-.8zM165.1 292.7l-.3 .2 .9 1.3 .3-.3zM188.1 325.5l-1.1 .7 .9 1.3 1.1-.7z"/><path fill="#00fd31" d="M343.8 159.8l2.8 4.4 1.3-.8-2.8-4.4zM326.2 209.3l1.7 4 1.4-.6-1.7-4zM297.9 224.2l1.4 3.3 1.4-.5-1.3-3.4zM300.1 223.3l1.4 3.4 1.4-.6-1.3-3.4zM325.8 242.1l.9 4 1.5-.3-.9-4zM362.9 241.1l.9 4.8 1.5-.2-.9-4.9zM354.2 253.4l.6 4.6 1.5-.1-.6-4.7zM338.3 258.8l.5 4.3 1.5-.1-.5-4.3zM340.6 258.6l.5 4.3 1.5-.2-.4-4.3zM334.3 265.6l.3 4.2 1.5-.1-.3-4.2zM319.2 269.8l.3 3.8 1.5-.1-.2-3.8zM320.7 275.4l.1 3.9 1.5-.1-.1-3.9zM322 284l-.2 3.9 1.6 0 .1-3.9zM326.6 287l-.2 4 1.5 .1 .2-4zM168.6 283l0 .2 1.5 .3 0-.3zM180.2 285.2l-.1 .5 1.5 .3 .1-.5zM184.8 286.5l-.2 .7 1.5 .3 .2-.7zM160.5 281.8l-.1 .1 1.5 .4 0-.1zM169.6 284l0 .3 1.4 .4 .1-.3zM317.8 318.2l-1 3.8 1.5 .4 .9-3.8zM170.7 284.5l-.1 .4 1.5 .4 .1-.4zM369.7 334.1l-1.3 5 1.5 .4 1.3-5zM358.5 335.1l-1.3 4.7 1.4 .5 1.4-4.8zM170.5 285.2l-.1 .4 1.5 .4 .1-.3zM179.4 288.4l-.2 .5 1.5 .5 .2-.5zM161.4 282.7l0 .1 1.4 .6 .1-.2zM170.3 285.9l-.1 .4 1.4 .5 .1-.3zM166.8 285.3l-.1 .2 1.4 .6 .1-.2zM178.7 290.3l-.2 .5 1.4 .7 .2-.6zM158.1 281.6l0 0 1.3 .7 .1-.1zM334.6 360.2l-1.9 4.2 1.4 .6 1.9-4.2zM350.3 371.3l-2.2 4.5 1.4 .7 2.2-4.6zM158.1 281.6l-.1 .1 1.4 .7 0-.1zM171.8 288.3l-.2 .4 1.4 .7 .2-.4zM160 282.9l0 .1 1.3 .8 0-.1zM170 289.2l-.2 .3 1.3 .9 .2-.4zM172 290.5l-.2 .3 1.2 .9 .3-.4zM170.8 290.1l-.2 .3 1.3 .9 .2-.4zM169.7 289.7l-.2 .3 1.2 .9 .3-.4zM262.5 352.3l-1.7 2.4 1.3 .9 1.7-2.5zM158 281.8l-.1 0 1.3 .9 0 0zM158.9 282.5l0 0 1.2 1 0-.1zM269.5 362.8l-2 2.7 1.3 .9 1.9-2.7zM270.9 366.9l-2.1 2.7 1.2 .9 2.1-2.7zM169.1 290.5l-.3 .3 1.2 1 .3-.3zM175.6 295.6l-.4 .5 1.2 .9 .4-.4zM263.8 364.5l-2 2.5 1.2 1 2-2.5zM199.1 315.2l-.8 1 1.2 1 .8-1zM160.6 284.1l-.1 .1 1.2 1 .1-.1zM178.7 299.3l-.5 .5 1.2 1 .4-.5zM215.7 332.1l-1.2 1.4 1.1 1 1.3-1.4zM221 336.8l-1.3 1.5 1.1 1 1.4-1.5zM228.1 343l-1.4 1.6 1.1 1.1 1.5-1.7zM204.3 323.7l-1 1.1 1.1 1 1-1.1zM168 291.8l-.2 .2 1 1.1 .3-.3zM207.9 330.2l-1.2 1.2 1.1 1.1 1.2-1.2zM217.2 339.2l-1.4 1.4 1.1 1.1 1.4-1.4zM157 281.1l0 0 1 1.1 .1 0zM193.8 319.3l-.9 .8 1.1 1.1 .9-.8zM170.7 295.8l-.4 .3 1 1.1 .4-.3zM207.6 335.4l-1.3 1.2 1.1 1.1 1.3-1.2zM209.2 337.1l-1.3 1.2 1 1.2 1.4-1.2zM240.6 370.7l-2.2 2 1.1 1.1 2.1-1.9zM181.4 308.3l-.6 .5 1 1.2 .7-.6zM204.3 333.7l-1.2 1.1 1 1.1 1.2-1.1zM231.1 363.4l-1.9 1.8 1 1.1 1.9-1.7zM196.4 328.1l-1.1 .9 .9 1.2 1.2-1zM199.4 331.7l-1.2 1 1 1.1 1.2-1zM159.2 283.9l0 0 .9 1.2 .1-.1zM172.6 301.8l-.5 .4 .9 1.2 .5-.4zM159.7 285l-.1 0 .9 1.3 .1-.1z"/><path fill="#05ff17" d="M344.9 163.7l2.7 4.5 1.3-.8-2.7-4.5zM295.8 222.2l1.4 3.3 1.4-.6-1.3-3.3zM323 210.7l1.6 3.9 1.4-.6-1.6-3.9zM313.2 218l1.5 3.7 1.4-.6-1.4-3.7zM303.3 224.9l1.3 3.5 1.4-.5-1.2-3.5zM341.9 221l1.4 4.4 1.5-.4-1.4-4.5zM343.7 231.1l1.1 4.4 1.5-.4-1.1-4.4zM354.8 231.8l1.1 4.7 1.5-.4-1.1-4.7zM364 229.5l1.1 4.9 1.5-.3-1.1-5zM343 238.2l1 4.4 1.5-.4-1-4.4zM348.3 240.4l1 4.6 1.5-.3-1-4.6zM377.2 234.3l1 5.2 1.5-.3-1-5.2zM323.6 248.7l.7 4 1.5-.3-.7-4zM343.2 244.9l.8 4.4 1.6-.3-.9-4.4zM352.5 243.1l.8 4.6 1.6-.2-.9-4.7zM362.4 244.9l.8 4.8 1.5-.2-.8-4.9zM364.7 244.5l.8 4.9 1.6-.2-.9-5zM376.3 242.4l.9 5.2 1.5-.2-.8-5.2zM361.9 248.7l.7 4.8 1.5-.2-.7-4.9zM351.9 253.7l.6 4.6 1.5-.2-.6-4.6zM342.2 261.6l.4 4.4 1.5-.1-.4-4.4zM327.6 272.2l.2 4 1.5-.1-.1-4zM338.2 271.6l.2 4.3 1.5-.1-.1-4.3zM278.4 279l0 2.9 1.5 0 0-2.9zM334.9 278l0 4.2 1.6 0 0-4.2zM334.9 281.1l0 4.2 1.5 0 .1-4.2zM330.1 287.2l-.2 4 1.6 .1 .2-4.1zM334.7 290.4l-.3 4.2 1.6 .1 .2-4.2zM337.9 306.5l-.7 4.3 1.5 .2 .7-4.3zM179 285l-.1 .5 1.5 .3 .2-.5zM260 301.1l-.5 2.4 1.4 .4 .6-2.5zM327 314.2l-.8 4 1.5 .3 .9-4zM162.8 282.3l-.1 .2 1.5 .3 .1-.1zM370.6 330.4l-1.2 5 1.4 .4 1.3-5zM157 281.1l0 0 1.5 .4 0 0zM313.7 320.2l-1 3.6 1.5 .5 .9-3.8zM371 338.5l-1.4 5 1.5 .4 1.4-5.1zM362 339.9l-1.4 4.8 1.5 .5 1.4-4.9zM169.2 285.5l-.1 .3 1.4 .6 .1-.3zM161.3 283l0 .1 1.4 .6 0-.2zM174.3 288.5l-.1 .4 1.4 .6 .2-.4zM168.7 286.6l-.1 .3 1.4 .6 .1-.3zM180.3 292.5l-.3 .5 1.4 .7 .3-.6zM173.5 290.3l-.2 .3 1.3 .8 .2-.4zM165.2 285.8l-.2 .2 1.4 .8 .1-.2zM179.4 294.1l-.3 .5 1.3 .8 .4-.6zM221.6 320l-.9 1.5 1.3 .8 1-1.6zM325.7 382.5l-2.4 3.9 1.3 .8 2.4-3.9zM218 319.2l-1 1.4 1.3 .9 1-1.5zM224.2 324.8l-1 1.5 1.2 .9 1.1-1.6zM270.7 354.9l-1.8 2.7 1.2 .8 1.8-2.6zM269.3 356.9l-1.8 2.6 1.3 .9 1.8-2.6zM288.9 370.1l-2.1 3.1 1.2 .8 2.2-3.1zM208.5 318.5l-.9 1.2 1.2 .9 .9-1.2zM317.2 397.5l-2.8 3.7 1.2 1 2.8-3.8zM206.9 318.7l-.9 1.2 1.2 .9 .9-1.2zM266.2 363.4l-2 2.5 1.2 1 2-2.6zM159.8 283.3l-.1 .1 1.2 .9 .1-.1zM165.4 287.6l-.2 .2 1.2 1 .2-.2zM223.9 335.3l-1.3 1.5 1.1 1 1.3-1.6zM183.3 304.8l-.6 .6 1.1 1 .6-.6zM232 351l-1.7 1.8 1.1 1.1 1.7-1.8zM209.6 331.9l-1.3 1.2 1.1 1.1 1.3-1.3zM213.8 336l-1.3 1.3 1.1 1.1 1.3-1.4zM206.2 330.3l-1.2 1.1 1 1.1 1.2-1.1zM182.4 307.4l-.7 .6 1.1 1.1 .6-.6zM208.6 334.5l-1.3 1.2 1 1.1 1.3-1.2zM180.3 306.1l-.6 .5 1 1.2 .6-.6zM205.2 332.8l-1.2 1.1 1 1.2 1.3-1.2zM205.9 335.4l-1.3 1.1 1 1.2 1.3-1.2zM159.3 283.8l-.1 0 1 1.2 .1-.1zM204.9 336.3l-1.3 1.1 1 1.1 1.3-1.1zM211.9 344.3l-1.5 1.2 1 1.2 1.5-1.3zM207 340.7l-1.4 1.2 1.7 2.1 1.4-1.2zM162.9 288.4l-.1 .2 .9 1.2 .2-.2zM193.9 330.1l-1.2 .8 .9 1.3 1.2-.9z"/><path fill="#16fa00" d="M327.3 208.8l1.7 4 1.4-.5-1.7-4.1zM296.9 224.6l1.2 3.3 1.5-.5-1.3-3.4zM303.4 222l1.4 3.4 1.4-.5-1.4-3.5zM305.6 221.1l1.4 3.5 1.4-.6-1.4-3.5zM312.2 218.4l1.4 3.7 1.4-.5-1.4-3.8zM322.7 230.5l1.1 3.9 1.5-.4-1.2-4zM334.2 236.9l1 4.2 1.5-.3-1-4.3zM363.7 233.4l1.1 4.9 1.5-.3-1.1-5zM370.6 231.8l1.1 5 1.5-.3-1.1-5zM346 240.9l.9 4.5 1.5-.3-.9-4.5zM366.8 236.5l1 5 1.5-.3-1-5zM367.5 240.2l.9 5 1.6-.3-1-5zM360.1 245.3l.8 4.8 1.5-.2-.8-4.9zM368.2 243.9l.8 5 1.6-.3-.9-5zM356 249.6l.7 4.7 1.5-.2-.7-4.8zM360.7 248.8l.7 4.9 1.5-.2-.7-4.9zM378.7 249.9l.7 5.3 1.5-.2-.7-5.3zM332.2 268.9l.2 4.1 1.5-.1-.2-4.1zM321.8 272.5l.1 3.9 1.5-.1-.1-3.9zM333.5 271.9l.2 4.1 1.5 0-.1-4.2zM160.5 281.7l0 .1 1.5 .3 0-.1zM165.1 282.5l0 .2 1.5 .3 0-.2zM324.1 316.6l-.8 4 1.4 .3 .9-3.9zM326.4 317.1l-.8 4 1.4 .4 .9-4.1zM237 301.1l-.5 1.8 1.5 .5 .5-2zM258.8 306.5l-.7 2.4 1.5 .4 .6-2.4zM372 334.7l-1.4 5.1 1.5 .4 1.4-5.1zM236.7 302.5l-.5 1.8 1.4 .5 .6-1.9zM343.7 331.1l-1.2 4.4 1.4 .4 1.3-4.4zM164.9 283.4l0 .2 1.4 .4 .1-.2zM348.4 336l-1.3 4.5 1.5 .5 1.3-4.6zM356.4 338.3l-1.4 4.7 1.4 .4 1.4-4.7zM363.2 340.2l-1.5 4.9 1.5 .4 1.4-4.8zM365.4 340.9l-1.4 4.9 1.4 .4 1.5-4.9zM164.9 283.5l-.1 .2 1.5 .5 0-.2zM349.7 340l-1.4 4.6 1.4 .4 1.5-4.5zM166 284l-.1 .2 1.4 .5 .1-.2zM235.4 306.6l-.6 1.8 1.5 .6 .6-1.9zM348.7 343.4l-1.6 4.5 1.5 .5 1.5-4.5zM169.2 285.3l-.1 .3 1.5 .6 .1-.4zM175.4 288.9l-.2 .5 1.4 .6 .2-.5zM171 287.3l-.2 .4 1.4 .6 .2-.3zM173.9 289.4l-.2 .4 1.4 .7 .2-.5zM168.5 287l-.1 .3 1.3 .7 .2-.3zM336 376.3l-2.3 4.2 1.3 .7 2.3-4.2zM172.5 289.7l-.3 .3 1.4 .8 .2-.4zM166.2 286.4l-.1 .2 1.3 .8 .1-.2zM166.1 286.6l-.1 .2 1.2 .8 .2-.2zM175.2 292l-.3 .5 1.3 .8 .3-.5zM180.2 295.1l-.3 .5 1.3 .8 .3-.5zM318.6 378.2l-2.3 3.8 1.3 .8 2.3-3.8zM249.7 346l-1.6 2.2 1.2 .9 1.6-2.2zM324 398.1l-2.8 3.9 1.2 .9 2.9-4zM222 331.9l-1.2 1.5 1.2 1 1.2-1.6zM222.9 334.5l-1.2 1.5 1.1 1 1.3-1.5zM266.9 370.1l-2.1 2.6 1.1 1 2.2-2.6zM165 288.1l-.2 .2 1.2 1 .2-.2zM175.7 297.3l-.4 .5 1.1 1 .4-.4zM204.1 322.1l-.9 1.1 1.1 1 1-1.1zM234.4 348.4l-1.6 1.8 2 1.8 1.6-1.8zM157.9 281.9l-.1 0 1.2 1.1 0-.1zM165.8 289l-.2 .2 1.1 1.1 .2-.3zM200.9 322.1l-.9 1 1.1 1.1 1-1.1zM213.9 334.2l-1.3 1.3 1.1 1.1 1.3-1.4zM257.8 375.1l-2.2 2.4 1.1 1.1 2.3-2.4zM218.9 340.9l-1.4 1.4 1 1.1 1.5-1.5zM181.2 305.3l-.6 .5 1 1.1 .6-.5zM234.5 358.6l-1.9 1.8 1.1 1.1 1.9-1.8zM242.1 369.3l-2.1 2 1.1 1.1 2.1-2zM198.8 325.9l-1.1 1 1 1.1 1.1-1zM206 333.7l-1.2 1.1 1 1.2 1.3-1.2zM158.6 282.9l-.1 0 1 1.2 .1-.1zM201.7 334.4l-1.3 1 1 1.2 1.3-1.1zM206.2 339.8l-1.4 1.1 1 1.2 1.4-1.1zM194.8 327.8l-1.1 .9 .9 1.2 1.2-.9zM160.5 285.8l-.1 .1 .9 1.2 .2-.1zM188.9 323.5l-1 .7 .9 1.2 1-.7zM158.4 283l-.1 0 .9 1.3 .1 0z"/><path fill="#26f000" d="M298 221.2l1.4 3.4 1.4-.6-1.4-3.4zM306.7 220.6l1.4 3.6 2.5-1-1.4-3.6zM371.7 231.5l1.1 5.1 1.5-.3-1.1-5.1zM371 239.5l.9 5.1 1.5-.3-.9-5.1zM354.9 249.8l.7 4.6 1.5-.2-.7-4.7zM371.2 247.2l.7 5 1.5-.2-.7-5.1zM374.7 246.6l.7 5.2 1.5-.2-.7-5.2zM379.9 249.8l.7 5.2 1.5-.1-.7-5.3zM345.3 258l.5 4.4 2.7-.2-.5-4.5zM330.7 265.9l.4 4.1 2.7-.2-.4-4.1zM337.1 271.7l.1 4.2 1.6 0-.2-4.3zM339.4 271.5l.2 4.3 1.5 0-.2-4.3zM320.8 278.3l0 3.8 1.5 0 0-3.9zM335.4 296.7l-.4 4.2 1.5 .2 .5-4.2zM220.2 288.9l-.2 1.5 1.5 .2 .2-1.5zM169.8 282.9l0 .3 1.5 .3 0-.4zM182.7 284.7l-.1 .6 1.5 .3 .1-.7zM170.9 283.6l0 .3 1.5 .3 0-.4zM379.8 320.4l-1 5.2 1.5 .3 1-5.2zM159.3 281.6l0 0 1.5 .3 0 0zM239.1 297.1l-.4 1.9 1.5 .3 .4-1.9zM378 324.1l-1.1 5.2 1.5 .3 1.1-5.2zM157 281.1l0 0 1.5 .4 0-.1zM377.2 327.9l-1.2 5.2 1.5 .3 1.2-5.2zM170.8 284.3l-.1 .3 1.5 .4 .1-.4zM174.2 285.1l-.1 .4 1.5 .4 .1-.5zM340.7 323.5l-1 4.3 1.5 .4 1-4.3zM367.4 333.6l-1.3 4.9 1.5 .4 1.3-5zM322.1 325.3l-1.1 3.9 1.4 .4 1.1-3.9zM364.2 336.6l-1.4 4.9 1.5 .4 1.4-4.9zM342.8 334.4l-1.3 4.3 1.4 .5 1.4-4.4zM349.6 336.3l-1.4 4.6 1.5 .4 1.3-4.5zM354.1 337.6l-1.4 4.7 1.5 .4 1.4-4.6zM364.3 340.6l-1.5 4.8 1.5 .5 1.5-4.9zM352 340.7l-1.5 4.6 2.6 .8 1.5-4.6zM319.5 333.9l-1.3 3.8 1.5 .5 1.3-3.8zM182.5 290.4l-.3 .6 1.5 .5 .2-.6zM181 290.8l-.2 .6 1.4 .6 .3-.6zM305.6 341.1l-1.5 3.5 1.4 .6 1.5-3.5zM354.8 361l-2 4.7 1.4 .6 2-4.7zM162.4 283.4l0 .1 1.4 .7 0-.2zM167.8 285.9l-.2 .3 1.4 .6 .2-.3zM204.4 302.2l-.5 1.1 1.3 .7 .6-1.2zM341.8 367.3l-2.1 4.3 1.4 .7 2.1-4.4zM159.1 282.2l0 0 1.3 .8 .1-.1zM165.4 285.4l-.1 .2 1.3 .7 .2-.2zM299.8 353.9l-1.8 3.3 1.4 .7 1.8-3.3zM162.1 284l0 .1 2.3 1.4 .1-.2zM174.5 290.8l-.2 .4 1.3 .8 .3-.4zM297.4 365.5l-2 3.3 1.3 .8 2-3.3zM222 321.7l-1 1.5 1.3 .9 1-1.6zM279.9 357.9l-1.8 2.9 1.3 .8 1.8-2.9zM293.9 366.7l-2 3.2 1.2 .8 2.1-3.2zM331.9 390.4l-2.6 4.1 1.2 .8 2.7-4.1zM171.8 290.7l-.2 .4 1.3 .8 .2-.3zM216.3 319.6l-.9 1.4 1.2 .9 1-1.4zM222.2 323.5l-1 1.5 1.3 .9 1-1.6zM266.7 352.4l-1.7 2.5 1.3 .9 1.7-2.6zM290.4 367.8l-2.1 3.1 1.3 .8 2.1-3.1zM289.9 370.7l-2.2 3.1 1.3 .9 2.1-3.1zM217.8 323.7l-1 1.4 1.2 .9 1.1-1.4zM249.5 348.3l-1.6 2.2 1.2 .9 1.6-2.2zM160.7 284l-.1 .1 1.2 1 .1-.1zM185.8 303.6l-.6 .7 1.2 .9 .6-.7zM246.1 350.8l-1.6 2 1.2 1 1.7-2.1zM240.3 348.6l-1.6 1.9 1.2 1 1.6-1.9zM157 281.1l0 0 1.1 1.1 0-.1zM262.1 375.7l-2.3 2.5 1.1 1 2.3-2.4zM202.7 323.7l-1 1.1 1.1 1 1-1zM209.6 330.1l-1.2 1.3 1.1 1 1.2-1.2zM219.9 339.8l-1.4 1.4 1.1 1.1 1.4-1.5zM257 374.3l-2.3 2.4 1.1 1 2.3-2.3zM162.9 286.8l-.1 .2 1.1 1.1 .1-.2zM174.8 298.3l-.4 .4 1.1 1.1 .4-.4zM194.5 318.6l-.9 .9 1.1 1.1 .9-.9zM202.8 326.9l-1.1 1.1 1.1 1.1 1.1-1.1zM223.7 347.8l-1.6 1.5 1 1.1 1.6-1.5zM303.7 427.8l-3.5 3.4 1 1.1 3.5-3.4zM180.7 305.7l-.6 .5 1.1 1.2 .6-.6zM199.6 325.2l-1.1 1 1.1 1.1 1-1zM207.7 333.7l-1.2 1.2 1 1.1 1.3-1.2zM233.1 359.9l-1.9 1.8 1.1 1.1 1.9-1.7zM203.6 331.1l-1.2 1.1 1 1.1 1.3-1.1zM160.1 284.6l0 .1 1 1.1 .1 0zM231.9 364.3l-2 1.8 1 1.1 2-1.8zM233.5 366.1l-2 1.7 1 1.2 2-1.8zM198.7 330.8l-1.2 .9 .9 1.2 1.2-1zM179.2 308.6l-.6 .5 .9 1.2 .7-.5zM158.4 283l0 0 .9 1.2 .1 0zM159.1 284l-.1 0 .9 1.3 .1-.1zM170.2 299.2l-.5 .3 .9 1.3 .5-.3z"/><path fill="#37e600" d="M295.8 225l1.2 3.3 1.5-.5-1.3-3.3zM304.5 221.5l1.4 3.5 1.4-.5-1.4-3.6zM315.4 217.1l1.5 3.7 1.4-.5-1.4-3.8zM333.4 233.8l1.1 4.2 1.5-.4-1.1-4.2zM360.2 234.2l1.1 4.8 1.5-.3-1.1-4.9zM364.8 233.1l1.1 4.9 1.5-.3-1.1-4.9zM364.5 237l1 4.9 1.5-.3-1-4.9zM367.9 236.3l1 5 1.5-.3-1-5zM372.6 235.3l1 5.1 1.5-.3-1-5.1zM374.9 234.8l1 5.1 1.5-.2-1-5.2zM329.9 250.6l.7 4.1 1.5-.2-.7-4.1zM361.3 245.1l.7 4.8 1.6-.2-.8-4.9zM377.5 242.2l.9 5.2 1.5-.2-.9-5.2zM363 248.5l.7 4.8 1.5-.2-.7-4.9zM353.1 253.6l.5 4.6 1.6-.2-.6-4.7zM356.6 253.1l.6 4.7 1.5-.2-.6-4.8zM350 257.4l.5 4.6 1.5-.2-.5-4.6zM341.3 265l.3 4.3 1.6-.1-.4-4.4zM328.6 269.1l.3 4.1 1.5-.1-.2-4.1zM338.4 274.8l.1 4.3 1.5-.1-.1-4.3zM237.1 295.2l-.4 1.9 1.5 .3 .4-1.9zM182.4 286.1l-.1 .6 1.5 .3 .1-.7zM339.6 323.3l-1.1 4.3 1.5 .3 1.1-4.3zM340 326.7l-1.2 4.3 1.5 .4 1.1-4.3zM346 331.7l-1.3 4.5 1.5 .4 1.2-4.5zM345 335l-1.3 4.4 1.5 .5 1.3-4.4zM357.5 338.6l-1.4 4.7 1.5 .5 1.4-4.8zM360.9 339.6l-1.4 4.8 1.4 .4 1.5-4.8zM163.6 283.5l0 .2 1.4 .5 .1-.1zM179.6 291.2l-.2 .5 1.3 .7 .3-.6zM346.5 365.5l-2.1 4.4 1.4 .7 2.1-4.5zM168.6 286.8l-.1 .3 1.4 .7 .1-.3zM322.9 365.6l-2 3.9 1.3 .8 2.1-4zM332.2 378.2l-2.3 4.1 1.3 .8 2.4-4.1zM172.3 289.9l-.2 .4 1.3 .8 .2-.4zM170.1 289l-.2 .3 1.3 .8 .2-.3zM296.4 364.9l-2 3.2 1.3 .9 2-3.3zM326.7 383.1l-2.4 4 1.2 .8 2.5-4zM268.9 351.1l-1.7 2.6 1.3 .8 1.7-2.6zM218.3 320.9l-1 1.4 1.3 .9 1-1.5zM293.4 369.7l-2.1 3.2 1.2 .8 2.2-3.2zM187.5 303.3l-.5 .7 1.2 .9 .5-.7zM313.4 394.7l-2.8 3.7 1.3 .9 2.7-3.7zM321.9 400.9l-2.8 3.9 1.2 .9 2.9-3.9zM263.3 361.3l-1.9 2.4 1.2 1 2-2.5zM158.8 282.6l0 0 1.2 1 .1-.1zM157 281.1l0 0 1.1 1 .1 0zM184.1 303.8l-.6 .7 1.2 1 .5-.7zM249.1 358.4l-1.9 2.1 1.2 1 1.8-2.1zM217.5 333.7l-1.3 1.4 1.2 1 1.2-1.4zM225.5 340.6l-1.4 1.6 1.1 1.1 1.4-1.7zM215.7 333.9l-1.3 1.4 1.1 1.1 1.3-1.4zM257.7 371.8l-2.2 2.3 1.2 1.1 2.1-2.4zM183.3 306.5l-.6 .6 1 1.1 .7-.6zM207 329.4l-1.1 1.2 1 1.1 1.2-1.2zM219.7 341.7l-1.4 1.5 1.1 1 1.4-1.4zM253.6 374.4l-2.2 2.3 1.1 1.1 2.2-2.3zM157 281.1l0 0 1 1.2 0-.1zM199.6 328.4l-1.2 1 1 1.2 1.2-1.1zM181.7 309.6l-.6 .5 .9 1.2 .7-.6zM191.8 321.1l-1 .8 1 1.2 1-.8zM198 328.2l-1.2 1 1 1.2 1.2-1zM202.6 333.6l-1.2 1 .9 1.2 1.3-1.1zM200.2 332.6l-1.3 1 1 1.2 1.3-1.1zM162 287.7l-.2 .1 .9 1.3 .2-.2z"/><path fill="#47dd00" d="M332.5 144l3.2 4.2 1.2-1-3.2-4.2zM296.9 221.7l1.4 3.3 1.4-.5-1.4-3.4zM301.1 225.8l1.3 3.4 1.4-.5-1.2-3.5zM295.2 241.5l.9 3.2 1.5-.3-.9-3.3zM328.5 238.3l1 4.1 1.5-.3-1-4.1zM358.2 230.9l1.2 4.8 1.5-.3-1.2-4.8zM366 232.9l1.1 4.9 3.8-.8-1.1-5zM378.3 234.1l1.1 5.2 1.5-.3-1.1-5.3zM373.3 239.1l1 5.1 1.5-.3-1-5.1zM379.1 237.9l1 5.3 1.5-.3-1-5.3zM365.9 244.3l.8 4.9 1.5-.2-.8-5zM370.5 243.5l.9 5 2.6-.4-.8-5.1zM378.7 242l.8 5.3 1.5-.3-.8-5.2zM364.2 248.3l.7 4.9 1.5-.2-.7-4.9zM370 247.4l.7 5 1.6-.2-.8-5.1zM378.2 246.1l.7 5.2 1.5-.2-.7-5.3zM376.4 250.3l.7 5.2 1.5-.2-.7-5.2zM320.4 269.7l.2 3.8 1.6 0-.3-3.9zM339.2 268.4l.3 4.3 1.5-.1-.3-4.3zM320.6 272.5l.1 3.9 1.6-.1-.2-3.8zM322 278.2l0 3.9 1.5 0 0-3.9zM326.7 278.1l0 4 1.5 .1 0-4.1zM329 278.1l.1 4.1 1.5 0 0-4.1zM331.4 281.1l0 4.1 1.5 .1 0-4.2zM326.7 284.1l-.1 4 1.5 0 .1-4zM319.5 286.8l-.2 3.8 1.6 .1 .2-3.9zM240.2 289.9l-.2 1.9 1.5 .2 .2-2zM179.2 284.2l-.1 .5 1.5 .3 .1-.6zM336.7 306.4l-.6 4.2 1.5 .2 .6-4.2zM166.3 282.7l-.1 .3 1.5 .3 .1-.3zM238.2 295.4l-.3 1.9 1.5 .3 .3-1.9zM338.6 316.4l-.9 4.3 1.5 .3 .9-4.3zM183.4 287.2l-.1 .6 1.4 .4 .2-.6zM236.2 299.4l-.4 1.9 1.5 .3 .4-1.9zM373.1 335l-1.3 5.1 1.5 .4 1.3-5.1zM176.3 286.3l-.1 .4 1.5 .5 .1-.5zM339.1 329.9l-1.2 4.3 2.6 .8 1.2-4.4zM363 336.3l-1.3 4.9 1.4 .4 1.4-4.9zM365.3 336.9l-1.4 4.9 1.5 .5 1.4-5zM351.8 337l-1.3 4.6 1.4 .4 1.4-4.6zM358.6 338.9l-1.4 4.8 2.6 .8 1.4-4.8zM237 305.6l-.6 1.9 1.5 .4 .6-1.9zM340.7 337.3l-1.4 4.3 1.5 .5 1.4-4.4zM355.3 341.8l-1.4 4.6 1.4 .5 1.5-4.7zM358.7 342.8l-1.5 4.7 1.5 .5 1.5-4.8zM344.2 341.9l-1.5 4.4 1.4 .5 1.5-4.4zM163.7 283.4l-.1 .2 1.5 .5 0-.2zM351.7 355.9l-1.8 4.5 1.4 .6 1.9-4.6zM162.5 283.3l-.1 .1 1.4 .7 .1-.2zM338.4 354.4l-1.8 4.2 1.4 .7 1.8-4.3zM343.6 360.3l-1.9 4.4 1.4 .6 1.9-4.4zM301.2 348.3l-1.6 3.4 1.3 .7 1.7-3.4zM339.6 366.3l-2 4.3 1.4 .6 2-4.3zM166.5 285.8l-.1 .2 1.4 .7 .1-.3zM180.1 292.9l-.3 .5 1.4 .7 .3-.5zM331.3 369.9l-2.1 4.1 1.3 .7 2.2-4.1zM164.2 285.1l-.1 .2 1.3 .8 .1-.2zM297.2 358.8l-1.9 3.3 1.3 .8 1.9-3.3zM298.9 363l-2 3.3 1.3 .8 2-3.3zM330.5 381.3l-2.4 4 1.3 .8 2.4-4.1zM295.9 367.9l-2.1 3.3 2.3 1.5 2.1-3.3zM169.8 289.5l-.2 .3 1.3 .8 .2-.3zM269.7 354.3l-1.8 2.6 1.3 .9 1.8-2.7zM271.6 355.6l-1.7 2.6 1.2 .9 1.8-2.7zM294.4 370.3l-2.2 3.2 1.3 .9 2.2-3.2zM326 390.9l-2.6 3.9 1.2 .9 2.7-4zM266.4 354.9l-1.8 2.6 1.3 .9 1.8-2.6zM256.1 353.2l-1.7 2.3 1.2 .9 1.8-2.3zM270.5 363.5l-2 2.7 1.2 .9 2-2.7zM157.9 281.8l0 0 1.2 1 .1-.1zM173 293.2l-.3 .3 1.2 1 .3-.4zM256.4 358.7l-1.9 2.4 1.2 .9 1.9-2.3zM261.9 363.1l-1.9 2.4 1.2 1 1.9-2.5zM267.5 367.5l-2.1 2.5 1.2 1 2.1-2.6zM184.5 303.4l-.6 .6 1.2 1 .6-.7zM248.6 355.3l-1.8 2.1 1.2 1 1.8-2.2zM185.9 305.4l-.6 .6 1.2 1 .6-.7zM203.9 320.5l-.9 1.1 1.1 1 1-1.1zM216.6 331.1l-1.2 1.4 1.1 1 1.2-1.4zM237.3 348.5l-1.6 1.9 1.2 1 1.6-1.9zM222.8 338.3l-1.4 1.6 1.2 1 1.4-1.6zM237.9 351.5l-1.6 1.9 1.1 1 1.7-1.9zM178 300l-.4 .5 1.1 1.1 .5-.5zM205.2 324.5l-1.1 1.1 1.1 1.1 1.1-1.2zM234.1 350.5l-1.7 1.8 2 1.9 1.7-1.9zM255.1 369.4l-2.1 2.3 1.1 1.1 2.1-2.3zM222.5 342.2l-1.5 1.5 1.1 1.1 1.5-1.6zM201.9 324.5l-1 1 1.1 1.1 1-1zM208.7 331l-1.2 1.3 1.1 1 1.2-1.2zM304.5 423.6l-3.4 3.4 1.9 1.9 3.4-3.5zM182.8 306.9l-.6 .6 1.1 1.2 .6-.7zM251.2 375.3l-2.3 2.2 1.1 1.1 2.2-2.2zM157.8 282l0 0 1 1.1 .1 0zM162.7 287l-.1 .2 1 1.1 .2-.2zM175.8 300.6l-.4 .4 1 1.2 .5-.5zM184 309.1l-.7 .6 1.1 1.1 .7-.6zM204.5 330.3l-1.2 1.1 1.8 2 1.3-1.2zM300.3 429.5l-3.6 3.3 1.1 1.1 3.5-3.3zM182.7 308.7l-.6 .6 1 1.1 .7-.6zM198 325.1l-1.1 .9 1.1 1.2 1-1zM295.8 435.2l-3.7 3.3 1 1.1 3.7-3.2zM169.4 295.3l-.4 .3 1.8 2.1 .3-.3zM204.2 335.4l-1.3 1.1 .9 1.1 1.4-1.1zM231.2 366.5l-2 1.7 1 1.2 2-1.7zM180.5 309.1l-.7 .5 1 1.2 .7-.5zM168.1 294.8l-.3 .3 .9 1.2 .4-.3zM173.3 302.8l-.5 .3 .9 1.3 .5-.4z"/><path fill="#57d300" d="M331.6 144.7l3.1 4.2 1.3-1-3.2-4.1zM333.4 143.3l3.2 4.1 1.3-.9-3.3-4.2zM345.9 163.1l2.7 4.5 1.3-.8-2.7-4.5zM308.9 219.7l1.4 3.6 1.4-.5-1.4-3.6zM317.6 216.2l1.5 3.8 1.4-.5-1.5-3.9zM362.8 229.8l1.2 4.9 1.5-.4-1.2-4.9zM351.8 239.7l.9 4.6 1.5-.3-.9-4.6zM374.5 238.8l.9 5.2 1.5-.3-.9-5.2zM374 242.8l.9 5.2 1.5-.3-.9-5.1zM358.4 249.2l.7 4.8 2.6-.4-.7-4.8zM375.8 246.5l.8 5.1 1.5-.2-.8-5.2zM350.7 253.9l.6 4.6 1.5-.2-.6-4.6zM357.7 252.9l.6 4.7 1.6-.1-.7-4.8zM381.6 253.5l.6 5.3 1.5-.1-.6-5.4zM319.6 278.3l0 3.8 1.6 0-.1-3.9zM318.4 281.1l0 3.8 1.5 0 .1-3.8zM322 281.1l-.1 3.9 1.6 0 0-3.9zM318.3 286.7l-.1 3.8 1.5 .1 .2-3.8zM318 303.7l-.5 3.8 1.5 .3 .6-3.8zM218.5 292l-.3 1.4 1.5 .3 .3-1.5zM157 281.1l0 0 1.5 .3 0 0zM258.8 300.9l-.5 2.4 1.5 .3 .5-2.4zM379.1 324.3l-1.1 5.2 1.5 .3 1.1-5.2zM310.2 319.3l-.9 3.6 1.5 .4 .9-3.6zM343.4 327.6l-1.2 4.4 1.5 .4 1.2-4.4zM344.8 331.4l-1.2 4.4 1.5 .5 1.2-4.5zM161.5 282.4l0 .1 1.5 .5 0-.2zM341.6 334.1l-1.3 4.3 1.5 .5 1.3-4.4zM353 337.3l-1.4 4.6 1.5 .5 1.3-4.7zM159.2 281.8l0 .1 1.5 .4 0-.1zM339.6 336.9l-1.4 4.3 1.5 .5 1.3-4.3zM341.8 337.6l-1.4 4.4 1.5 .4 1.4-4.3zM344.1 338.3l-1.4 4.4 1.4 .5 1.4-4.4zM307.2 329.9l-1.2 3.5 1.4 .5 1.2-3.5zM350.9 344.1l-1.5 4.6 1.4 .5 1.6-4.6zM319.7 337.1l-1.4 3.8 1.5 .6 1.3-3.9zM307.6 335.9l-1.3 3.6 1.4 .5 1.3-3.5zM337.3 354l-1.8 4.2 1.4 .6 1.8-4.3zM344.9 357l-1.8 4.4 1.4 .7 1.9-4.5zM165.7 284.8l-.1 .2 1.4 .6 .1-.2zM180.9 291.2l-.3 .6 1.4 .6 .3-.6zM336 357.1l-1.9 4.2 1.4 .6 1.9-4.2zM352.3 364l-2 4.6 2.4 1.1 2.1-4.6zM342.2 363.6l-2 4.3 1.4 .7 2-4.4zM348.6 366.4l-2 4.5 1.4 .7 2-4.5zM164.5 284.6l-.1 .2 1.4 .7 .1-.3zM331.8 366.4l-2.1 4 1.4 .7 2-4.1zM345.5 373.1l-2.2 4.4 1.4 .7 2.2-4.5zM158 281.7l0 0 1.3 .9 0-.1zM315.1 383.8l-2.4 3.7 1.2 .9 2.5-3.8zM325 398.7l-2.9 4 1.3 .9 2.8-4zM265.7 360.1l-1.9 2.5 1.2 .9 1.9-2.5zM322.9 401.6l-2.9 3.9 1.2 .9 2.9-3.9zM175.8 295.3l-.3 .4 1.2 1 .3-.5zM314.2 399.6l-2.9 3.6 1.2 1 2.9-3.7zM178.4 297.8l-.4 .5 1.1 1 .5-.6zM186.7 304.3l-.5 .7 1.1 1 .6-.7zM245.2 350l-1.6 2.1 1.2 1 1.6-2.1zM249.9 353.7l-1.8 2.1 1.2 1 1.8-2.2zM244.6 354.6l-1.8 2 1.2 1 1.7-2zM248.2 357.6l-1.9 2.1 1.2 1.1 1.8-2.2zM233.5 347.6l-1.6 1.8 1.1 1 1.6-1.8zM236.2 349.9l-1.7 1.9 1.1 1 1.7-1.9zM217.4 335.5l-1.3 1.4 1.1 1.1 1.4-1.5zM221.8 339.5l-1.4 1.5 2 1.8 1.4-1.5zM263 376.5l-2.3 2.5 1.1 1 2.3-2.4zM167.3 290.8l-.2 .2 1.1 1.1 .3-.3zM182.8 305.2l-.5 .6 1.1 1.1 .6-.6zM201.1 323.7l-1 1 1 1.1 1.1-1.1zM252.8 373.6l-2.2 2.2 1.1 1.1 2.2-2.2zM166.2 290.3l-.3 .2 1.1 1.1 .2-.2zM182 306.1l-.6 .6 1.1 1.1 .6-.6zM207.8 331.9l-1.2 1.2 1.1 1.1 1.2-1.2zM217 341.1l-1.4 1.4 1 1.1 1.5-1.4zM194.7 320.1l-1 .9 1.1 1.1 .9-.9zM198.7 324.3l-1 1 1.1 1.1 1-1zM203.7 329.4l-1.2 1.1 1 1.1 1.2-1.1zM206.9 332.8l-1.2 1.2 1 1.1 1.3-1.2zM170.4 296l-.4 .3 1 1.2 .4-.4zM198 326.7l-1.1 .9 1.8 2.1 1.1-1zM205.1 334.5l-1.3 1.2 1 1.1 1.3-1.1zM229.7 364.7l-2 1.7 1 1.2 2-1.7zM159.3 283.8l-.1 .1 1 1.2 0-.1zM181.2 310l-.7 .6 1 1.2 .7-.6zM200.9 333.5l-1.2 1 .9 1.2 1.3-1.1zM164.1 290.5l-.2 .2 .9 1.2 .2-.2zM189.6 324.4l-1 .8 .9 1.2 1-.8z"/><path fill="#66d200" d="M339.7 157.9l2.8 4.3 1.3-.8-2.8-4.4zM341.8 161.1l2.8 4.4 1.3-.8-2.8-4.5zM366.3 228.9l1.1 5 1.5-.4-1.2-4.9zM372.9 231.3l1.1 5.1 2.6-.6-1.1-5.1zM363.3 237.3l1 4.8 1.5-.3-1-4.9zM371.4 235.5l1 5.1 1.5-.3-1-5.1zM358.9 245.5l.8 4.8 1.5-.3-.8-4.8zM375.2 242.6l.8 5.2 1.5-.2-.8-5.2zM368.8 247.6l.8 5 1.5-.2-.7-5.1zM372.3 247l.8 5.1 2.7-.4-.8-5.1zM332 256.5l.6 4.1 1.5-.1-.5-4.2zM349.6 254l.5 4.6 1.6-.2-.6-4.6zM381.1 249.6l.6 5.3 1.6-.2-.7-5.3zM347.7 257.7l.5 4.5 1.5-.2-.5-4.5zM343.3 261.5l.5 4.4 1.5-.1-.4-4.4zM328.4 266.1l.3 4.1 1.5-.1-.3-4.1zM333.1 265.7l.3 4.2 1.5-.1-.3-4.2zM340.1 265.1l.4 4.3 1.5-.1-.3-4.3zM340.4 268.3l.2 4.3 1.6-.1-.3-4.3zM324.2 275.3l.1 3.9 1.6 0-.1-4zM336.1 281.1l0 4.2 1.5 .1 .1-4.3zM328.8 290.1l-.2 4.1 1.5 .1 .2-4.1zM219.1 287.6l-.2 1.5 2.7 .3 .2-1.5zM219 288.7l-.2 1.5 1.5 .2 .2-1.5zM239.4 295.6l-.4 2 1.5 .3 .4-2zM256.8 298.7l-.4 2.4 1.5 .3 .4-2.4zM339.2 313.2l-.8 4.3 1.5 .3 .8-4.3zM238 296.9l-.4 1.9 1.5 .3 .4-2zM240.3 297.3l-.4 2 1.5 .3 .4-2zM325.9 313.9l-.8 4 1.5 .3 .8-4zM236.5 298l-.4 1.9 2.6 .6 .5-1.9zM323 316.4l-.9 3.9 1.5 .3 .9-3.9zM171.9 284.6l-.1 .3 1.5 .4 .1-.4zM237.4 299.7l-.5 1.9 1.5 .3 .5-1.9zM371.7 330.7l-1.2 5 1.5 .4 1.2-5.1zM374 331.2l-1.2 5.1 1.5 .4 1.2-5.1zM341.1 327l-1.1 4.3 1.4 .4 1.2-4.3zM347.1 332l-1.3 4.5 1.5 .4 1.3-4.5zM368.7 337.8l-1.4 5 1.5 .4 1.4-5zM183 288.6l-.1 .6 1.4 .4 .2-.6zM343.9 334.7l-1.3 4.4 1.5 .5 1.3-4.5zM346.2 335.4l-1.4 4.4 2.6 .8 1.4-4.5zM321.5 331.4l-1.2 3.9 1.5 .5 1.2-3.9zM354.2 341.4l-1.5 4.6 1.5 .5 1.5-4.6zM347.5 343l-1.5 4.5 1.5 .5 1.5-4.5zM349.8 343.7l-1.6 4.6 1.5 .5 1.5-4.6zM305.4 335.1l-1.3 3.5 1.4 .6 1.3-3.6zM319.8 340.4l-1.5 3.8 1.5 .5 1.4-3.8zM350.6 355.4l-1.8 4.6 1.4 .6 1.9-4.6zM175.6 288.6l-.2 .5 1.4 .6 .2-.5zM302.3 339.8l-1.4 3.4 1.4 .6 1.4-3.4zM306.7 341.6l-1.5 3.5 1.4 .6 1.5-3.5zM342.7 356.2l-1.8 4.3 1.4 .6 1.9-4.4zM328.2 357.3l-1.9 4 1.4 .7 1.9-4.1zM329 361.3l-2 4 1.4 .7 1.9-4.1zM166.4 285.9l-.1 .2 1.4 .8 .1-.3zM332.4 370.5l-2.2 4.1 1.3 .7 2.2-4.1zM328.7 372.4l-2.2 4 1.3 .8 2.2-4.1zM336.3 380.5l-2.4 4.2 1.4 .8 2.4-4.2zM169.1 288.4l-.2 .3 1.3 .8 .2-.3zM334.8 387.9l-2.6 4.2 1.3 .8 2.6-4.2zM321.9 384.2l-2.5 3.8 1.3 .9 2.5-3.9zM170.3 290.8l-.2 .3 1.2 .9 .3-.3zM162.6 285.4l-.1 .1 1.2 .9 .2-.1zM170 291.3l-.2 .3 1.1 .9 .3-.3zM266 369.4l-2.1 2.5 1.1 1 2.2-2.6zM245.5 355.3l-1.8 2.1 1.1 1 1.8-2.1zM223.7 339.1l-1.4 1.6 1.1 1 1.5-1.6zM237 350.7l-1.6 1.9 1.1 1 1.7-1.9zM224.4 341.8l-1.4 1.6 1.1 1.1 1.5-1.6zM256.8 371l-2.1 2.3 1.1 1.1 2.2-2.4zM221.6 341.4l-1.4 1.5 1.1 1.1 1.5-1.6zM254.4 371.9l-2.2 2.3 1.1 1.1 2.2-2.3zM157 281.1l0 0 1.1 1.1 0 0zM202.8 325.3l-1.1 1.1 1.1 1.1 1.1-1.1zM220.6 342.5l-1.5 1.5 1.1 1.1 1.5-1.5zM306.2 425.2l-3.4 3.5 1 1.1 3.5-3.5zM200.3 324.4l-1 1.1 1 1.1 1.1-1.1zM200.4 326l-1.1 1 1.8 2 1.2-1zM206.1 332l-1.2 1.1 1 1.1 1.3-1.1zM181.9 307.8l-.6 .6 1 1.2 .7-.7zM195.7 325.6l-1.1 .9 1 1.2 1.1-1zM203.4 334.5l-1.3 1.1 1 1.1 1.3-1.1zM225 359.4l-1.8 1.6 .9 1.1 1.9-1.6zM167.4 293.9l-.3 .3 .9 1.2 .3-.3z"/><path fill="#6cdb00" d="M299.1 220.8l1.4 3.4 1.4-.6-1.4-3.4zM314.3 217.5l1.5 3.8 1.4-.6-1.4-3.7zM340.7 238.7l1 4.3 1.5-.3-1-4.4zM375.2 230.7l1.1 5.2 1.5-.3-1.1-5.2zM354.1 239.2l.9 4.7 1.6-.3-1-4.7zM369.1 236l1 5 1.5-.2-1-5.1zM364.1 240.9l.9 4.8 1.5-.2-.9-4.9zM376.8 238.4l.9 5.2 1.5-.3-.9-5.2zM379.8 241.8l.9 5.3 1.5-.3-.9-5.2zM367.7 247.7l.7 5 1.5-.2-.7-5zM342.5 264.9l.3 4.4 1.5-.1-.3-4.5zM339.5 274.7l.1 4.3 1.6 0-.1-4.3zM332.6 278l0 4.2 1.5 0 0-4.2zM317.8 295.2l-.3 3.8 1.5 .1 .4-3.8zM327.6 311.2l-.8 4 1.5 .3 .8-4zM175.4 285.4l-.1 .4 1.4 .4 .2-.5zM259.2 304.7l-.6 2.4 1.5 .4 .6-2.5zM314.3 317.4l-.9 3.7 1.5 .4 .9-3.7zM167.3 283.7l-.1 .2 1.5 .4 .1-.3zM366.3 333.3l-1.3 4.9 1.4 .4 1.3-4.9zM341.4 330.5l-1.2 4.4 1.5 .4 1.2-4.4zM172.9 285.7l-.2 .3 1.5 .5 .1-.4zM340.5 333.7l-1.3 4.3 1.5 .5 1.3-4.3zM160.4 282.1l-.1 .1 1.5 .5 0-.1zM346.3 339l-1.4 4.4 2.6 .9 1.4-4.5zM321.9 337.9l-1.4 3.9 1.5 .5 1.4-3.9zM318.7 343.2l-1.5 3.8 1.4 .6 1.6-3.9zM280.5 331l-1.2 2.9 1.4 .6 1.2-2.9zM336.2 353.5l-1.8 4.2 1.4 .6 1.8-4.2zM337.1 357.5l-1.9 4.3 1.4 .6 1.9-4.3zM304.5 346.8l-1.6 3.4 1.4 .7 1.6-3.5zM330 361.8l-1.9 4 1.3 .7 2-4.1zM345 368.8l-2.1 4.4 1.3 .7 2.2-4.5zM327.4 379.5l-2.3 4 1.3 .8 2.4-4zM295.4 364.3l-2 3.2 1.3 .8 2-3.2zM329.9 389.1l-2.6 4.1 1.3 .8 2.6-4zM163.8 285.8l-.2 .2 1.3 .9 .1-.2zM257.1 353.8l-1.7 2.4 1.2 .9 1.7-2.4zM319.1 398.9l-2.8 3.8 1.2 .9 2.8-3.8zM249.5 356l-1.8 2.2 1.2 1 1.8-2.2zM262.3 366.4l-2 2.5 1.1 .9 2.1-2.4zM224.7 337.9l-1.4 1.6 1.2 1 1.4-1.6zM183.7 304.3l-.6 .6 1.2 1.1 .5-.7zM235.8 352.1l-1.7 1.8 1.1 1.1 1.8-1.9zM200.1 321.3l-1 1 1.1 1.1 1-1.1zM220.8 340.6l-1.4 1.5 1 1 1.5-1.5zM255.2 372.7l-2.1 2.3 1.1 1.1 2.2-2.3zM308.7 422.6l-3.4 3.5 1.1 1.1 3.4-3.6zM302 426.1l-3.5 3.4 1.1 1.1 3.5-3.4zM197.2 324.2l-1 .9 1 1.2 1-1zM200.4 327.7l-1.1 1 1 1.1 1.1-1zM204.4 332l-1.2 1.1 1 1.1 1.3-1.1zM298.4 432.8l-3.6 3.3 1.1 1.1 3.6-3.3zM197.2 325.8l-1.1 .9 1 1.2 1.1-1zM162.4 287.3l-.1 .2 .9 1.1 .2-.1zM196.4 326.5l-1.1 .9 1 1.2 1.1-1zM210.3 342.5l-1.4 1.2 1 1.2 1.4-1.3zM188.9 325l-1.1 .7 .9 1.3 1.1-.8z"/><path fill="#71e300" d="M361.7 230.1l1.1 4.8 1.5-.3-1.1-4.9zM365.6 236.8l1 4.9 1.5-.3-1-5zM373.7 235l1 5.2 1.5-.3-1-5.2zM369.9 239.7l.9 5.1 1.5-.3-.9-5.1zM341.5 248.6l.7 4.3 1.6-.2-.8-4.4zM363.6 244.7l.8 4.9 1.5-.3-.8-4.9zM365.3 248.1l.8 4.9 1.5-.2-.7-4.9zM318.1 269.8l.2 3.8 1.5 0-.2-3.9zM331 268.9l.2 4.1 1.6 0-.3-4.2zM341.6 268.2l.2 4.4 1.5-.1-.2-4.4zM328.9 275.1l.1 4.1 1.6-.1-.1-4zM323.1 284l-.1 3.9 1.6 .1 .1-4zM320.7 286.8l-.2 3.9 1.6 .1 .1-3.9zM332.2 293.4l-.4 4.1 1.5 .1 .4-4.1zM334.3 296.6l-.4 4.2 1.5 .2 .4-4.2zM174.3 284.8l-.1 .4 1.5 .3 .1-.4zM374.9 327.4l-1.2 5.1 1.5 .4 1.2-5.2zM378.3 328.2l-1.2 5.2 1.5 .3 1.2-5.2zM256.9 304.2l-.6 2.3 1.5 .4 .6-2.4zM375.2 331.5l-1.3 5.1 1.5 .4 1.3-5.2zM338.8 326.4l-1.1 4.3 1.5 .4 1.1-4.3zM342.2 327.3l-1.1 4.3 1.5 .5 1.1-4.4zM237.8 302.8l-.5 1.9 1.5 .4 .5-1.9zM323.2 325.6l-1.1 3.9 1.5 .5 1.1-4zM342.5 330.8l-1.2 4.4 1.5 .4 1.2-4.4zM366.4 337.2l-1.3 5 1.4 .4 1.4-5zM342.9 338l-1.3 4.3 1.4 .5 1.4-4.4zM345.2 338.7l-1.4 4.4 1.4 .5 1.5-4.5zM348.6 339.7l-1.5 4.5 1.5 .5 1.4-4.6zM305.5 338.1l-1.4 3.5 1.5 .6 1.4-3.5zM307.7 339l-1.4 3.5 1.4 .6 1.5-3.6zM336.8 361.2l-1.9 4.2 1.3 .6 2-4.2zM303.3 349.3l-1.6 3.5 1.3 .7 1.7-3.5zM297.5 355.8l-1.8 3.3 1.3 .7 1.8-3.3zM326.6 371.3l-2.2 4 1.4 .7 2.2-4zM296.8 361.8l-1.9 3.3 1.3 .8 1.9-3.3zM324.4 377.7l-2.4 4 1.4 .8 2.3-4zM331.5 381.9l-2.4 4.1 1.3 .8 2.4-4.2zM294.9 367.3l-2.1 3.2 1.3 .9 2.1-3.3zM320.1 387l-2.6 3.8 1.3 .9 2.6-3.8zM316.2 388.5l-2.5 3.7 1.2 .9 2.6-3.7zM320.2 391.2l-2.7 3.8 1.3 .9 2.6-3.9zM185.4 304.1l-.6 .7 1.2 1 .6-.7zM246.7 353.8l-1.7 2.1 1.2 1 1.7-2.1zM231 343.2l-1.5 1.8 1.2 1 1.5-1.8zM258.4 369.3l-2.1 2.3 1.1 1 2.1-2.3zM203.6 326.1l-1.1 1.1 1.1 1.1 1.1-1.1zM199.5 323.6l-1 1 1 1.1 1.1-1zM202 326.1l-1.1 1.1 1.1 1.1 1.1-1.1z"/><path fill="#76ec00" d="M330.1 140.9l3.2 4.2 2.2-1.7-3.3-4.2zM333.9 147.8l3.1 4.2 1.3-.9-3.1-4.2zM370.3 235.8l1 5 1.5-.3-1.1-5zM376 234.6l1.1 5.1 1.5-.3-1.1-5.2zM365.2 240.6l.9 5 1.5-.3-.9-5zM352.5 250.1l.7 4.7 1.5-.3-.6-4.6zM357 256.5l.5 4.8 1.6-.2-.6-4.7zM355.1 260.3l.4 4.7 1.5-.2-.4-4.7zM377.3 258l.5 5.1 1.5-.1-.4-5.2zM331.2 272l.1 4.1 1.6-.1-.2-4.1zM334.8 274.9l.1 4.2 1.6 0-.1-4.3zM336.9 293.7l-.4 4.2 1.5 .2 .4-4.3zM319 295.3l-.4 3.8 1.6 .2 .3-3.9zM329.6 296.2l-.4 4.1 1.5 .1 .4-4.1zM337.8 296.9l-.4 4.3 1.5 .2 .4-4.3zM377.6 312.1l-.8 5.2 1.5 .2 .8-5.2zM317.6 306.6l-.6 3.7 1.5 .3 .6-3.8zM325.3 316.9l-.9 3.9 1.5 .4 .9-4zM339.1 319.8l-.9 4.3 1.5 .4 .9-4.4zM322.3 319.3l-.9 3.9 1.5 .3 .9-3.9zM257.6 306.2l-.6 2.4 1.5 .4 .6-2.4zM323.9 322.7l-1 4 1.5 .4 1-4zM370.8 334.4l-1.3 5 1.5 .5 1.3-5.1zM369.9 338.1l-1.4 5 1.4 .5 1.4-5.1zM306.9 326.9l-1.1 3.6 1.4 .4 1.1-3.5zM350.4 359.3l-1.9 4.5 1.4 .6 1.9-4.6zM354.4 364.9l-2 4.6 1.4 .7 2-4.7zM351.9 367.9l-2.1 4.5 1.3 .7 2.2-4.6zM346 369.3l-2.1 4.4 1.4 .7 2.1-4.5zM327.5 364.3l-2 4 1.4 .7 2-4zM300.8 354.4l-1.7 3.4 1.3 .7 1.8-3.4zM300.3 360.5l-1.9 3.4 1.3 .8 1.9-3.4zM323.4 377.2l-2.4 3.8 1.4 .8 2.3-3.9zM324.7 381.9l-2.4 3.9 1.3 .8 2.4-3.9zM314.9 379.8l-2.4 3.7 1.3 .8 2.4-3.7zM262.8 358l-1.8 2.5 1.2 .9 1.9-2.5zM315.3 396.1l-2.8 3.7 1.2 .9 2.8-3.7zM313.2 398.8l-2.8 3.7 1.2 .9 2.9-3.6zM257.5 368.5l-2.1 2.3 1.1 1.1 2.2-2.4zM311.1 419.9l-3.3 3.6 1.1 1 3.4-3.6zM201.8 322.9l-1 1 1.1 1.1 1-1.1zM199.4 322l-1 1 1.9 2 1-1.1zM206.2 328.6l-1.2 1.1 1.1 1.1 1.2-1.1zM201.2 325.3l-1.1 1 1.1 1.1 1-1zM181.1 307l-.6 .5 1 1.2 .6-.6zM208 339.8l-1.4 1.2 1 1.2 1.4-1.2zM230.4 365.6l-2 1.7 1 1.2 2-1.7zM180.2 310.8l-.7 .6 .9 1.2 .8-.6z"/><path fill="#7bf400" d="M372.2 239.3l.9 5.1 1.5-.3-.9-5.1zM367.1 244.1l.8 4.9 1.5-.2-.8-5zM369.4 243.7l.8 5 1.5-.3-.8-5zM380.5 245.7l.8 5.3 1.5-.2-.8-5.3zM325.3 272.3l.1 4 1.6-.1-.2-4zM317.2 286.7l-.2 3.8 1.5 .1 .2-3.8zM219.7 292.2l-.3 1.4 1.5 .3 .3-1.5zM259.1 299.1l-.4 2.4 1.5 .3 .4-2.4zM343 324.1l-1 4.3 1.4 .4 1.1-4.4zM235.9 300.8l-.5 1.8 1.5 .4 .5-1.8zM362.8 332.4l-1.2 4.9 1.4 .4 1.3-4.9zM368.5 333.9l-1.3 4.9 1.5 .4 1.3-5zM350.7 336.7l-1.4 4.5 1.5 .5 1.4-4.6zM357.6 342.4l-1.5 4.8 1.5 .4 1.5-4.7zM309.4 330.6l-1.2 3.6 1.5 .5 1.2-3.6zM308.7 336.3l-1.3 3.6 1.4 .5 1.3-3.5zM320.9 340.8l-1.5 3.8 1.5 .6 1.4-3.9zM343.8 356.6l-1.8 4.4 1.4 .6 1.9-4.4zM302.3 345.8l-1.5 3.4 1.4 .7 1.5-3.5zM341.1 363.1l-2 4.3 1.4 .6 2-4.3zM300.1 347.8l-1.6 3.4 1.4 .7 1.6-3.4zM302.3 348.8l-1.7 3.4 1.4 .7 1.6-3.4zM332.2 362.8l-2 4.1 1.4 .7 1.9-4.2zM301 351.4l-1.6 3.3 1.3 .7 1.7-3.4zM325.4 363.3l-2 3.9 1.4 .7 2-4zM299.5 356.9l-1.8 3.3 1.4 .8 1.8-3.4zM333.2 378.8l-2.3 4.1 1.3 .8 2.4-4.1zM321.7 380l-2.4 3.9 1.3 .8 2.4-3.9zM330.7 385.5l-2.5 4.1 1.3 .8 2.6-4.1zM268.7 353.6l-1.8 2.7 1.3 .8 1.8-2.6zM316.1 384.4l-2.5 3.8 1.3 .8 2.5-3.7zM314.3 387.2l-2.6 3.7 1.3 .9 2.6-3.7zM324.1 393.8l-2.7 3.9 1.2 .9 2.7-3.9zM263.2 355.5l-1.8 2.4 2.2 1.7 1.8-2.6zM259.6 358.4l-1.9 2.4 1.2 1 1.9-2.5zM247.7 354.5l-1.8 2.1 1.2 1 1.8-2.1zM246.4 356.1l-1.8 2.1 1.1 1 1.8-2.1zM256 370.2l-2.2 2.3 1.1 1.1 2.2-2.4zM182 304.4l-.6 .6 1.1 1.1 .6-.6zM253.5 371.1l-2.1 2.3 1.1 1 2.1-2.2zM309.5 423.4l-3.3 3.5 1.1 1.1 3.4-3.6zM304.5 428.6l-3.5 3.4 1 1.2 3.6-3.5zM199.6 326.8l-1.1 1 1 1.1 1.1-1zM193.3 326l-1 .8 .9 1.2 1.1-.8z"/><path fill="#80fc09" d="M351.4 232.6l1.1 4.6 1.5-.3-1.1-4.6zM366.4 240.4l.9 5 1.5-.3-.9-5zM348.8 257.6l.5 4.5 1.6-.2-.6-4.5zM352.3 257.1l.5 4.6 1.6-.1-.5-4.7zM348 261l.5 4.5 1.5-.1-.4-4.5zM334.7 271.8l.2 4.2 1.5-.1-.2-4.2zM383.2 285.1l-.1 5.3 1.5 .1 .2-5.4zM327.5 293l-.4 4 1.6 .2 .3-4.1zM380.4 308.5l-.7 5.3 1.5 .2 .7-5.3zM377 316l-.9 5.1 1.5 .3 .9-5.2zM380.5 316.5l-.9 5.3 1.5 .2 .9-5.3zM366 329.4l-1.2 4.9 1.5 .3 1.2-4.9zM372.9 330.9l-1.3 5.1 1.5 .4 1.3-5.1zM348 328.7l-1.2 4.5 1.5 .4 1.1-4.5zM352.5 329.9l-1.2 4.6 1.5 .4 1.2-4.7zM314.1 323.2l-1.1 3.7 1.5 .4 1.1-3.7zM360.8 335.7l-1.4 4.8 1.5 .4 1.3-4.8zM320.6 334.3l-1.3 3.8 1.5 .5 1.3-3.8zM320.8 337.5l-1.4 3.9 1.5 .5 1.3-3.9zM348.4 354.6l-1.8 4.5 1.5 .6 1.8-4.6zM340.3 358.9l-1.9 4.3 1.4 .7 1.9-4.4zM344.7 360.8l-2 4.4 1.4 .6 2-4.4zM333.2 363.3l-2 4.1 1.4 .7 2-4.2zM338.1 369.5l-2.1 4.2 1.3 .7 2.2-4.3zM301.9 354.9l-1.8 3.4 1.4 .8 1.8-3.5zM330.3 369.4l-2.2 4 1.4 .8 2.1-4.1zM298.2 359.4l-1.9 3.3 2.4 1.4 1.9-3.4zM327.9 387.9l-2.6 4 1.3 .8 2.6-4zM271.3 358.2l-1.8 2.7 1.2 .9 1.9-2.7zM269.4 368.9l-2.1 2.6 1.1 1 2.2-2.7zM235.5 347l-1.5 1.8 1.1 1.1 1.6-1.9zM227.7 347l-1.6 1.7 1.1 1 1.6-1.6zM307.8 421.8l-3.3 3.5 1.1 1 3.3-3.5zM210.6 340.7l-1.4 1.2 1 1.2 1.4-1.3zM294.2 433.5l-3.6 3.2 1 1.2 3.6-3.3zM208.5 342.5l-1.5 1.2 1 1.2 1.5-1.2z"/><path fill="#8cff13" d="M334.9 147.1l3.1 4.2 1.2-.9-3.1-4.3zM369.7 228.1l1.2 5 1.5-.3-1.2-5.1zM357.2 249.4l.7 4.7 1.5-.2-.7-4.7zM363.6 252.1l.6 4.9 1.5-.2-.6-4.9zM374.6 254.4l.5 5.1 1.6-.1-.6-5.2zM376.9 254.1l.6 5.2 1.5-.2-.6-5.2zM331.3 275l.1 4.1 1.5 0-.1-4.1zM382.4 300.8l-.5 5.3 1.5 .2 .5-5.3zM339 306.7l-.6 4.3 1.5 .2 .7-4.3zM259.4 297.3l-.4 2.4 1.5 .3 .4-2.4zM240.6 295.8l-.4 2 1.5 .3 .4-2zM316 309.1l-.7 3.8 2.6 .5 .8-3.8zM256.5 300.4l-.5 2.4 1.5 .3 .5-2.4zM343.7 320.8l-.9 4.4 1.4 .3 1-4.4zM376 327.7l-1.1 5.1 1.4 .4 1.2-5.2zM338.4 323l-1 4.3 1.5 .3 1-4.3zM345.3 324.6l-1.1 4.4 1.5 .4 1.1-4.5zM368.3 329.9l-1.2 5 1.5 .3 1.2-5zM321.7 322.2l-1.1 3.8 1.5 .4 1-3.9zM351.4 329.6l-1.2 4.5 1.5 .4 1.2-4.6zM352.8 333.6l-1.3 4.6 1.5 .4 1.3-4.6zM357.3 334.8l-1.3 4.7 1.5 .4 1.3-4.7zM312.5 328.7l-1.1 3.6 1.4 .5 1.2-3.7zM356.5 342.1l-1.5 4.7 1.4 .5 1.5-4.8zM310.5 331l-1.2 3.6 1.5 .5 1.2-3.6zM304.4 337.7l-1.4 3.5 1.5 .5 1.4-3.4zM304.5 343.7l-1.5 3.5 1.4 .6 1.5-3.5zM334.9 356.6l-1.8 4.2 1.4 .6 1.8-4.2zM349 362.6l-2 4.5 1.4 .6 2-4.5zM355.5 365.4l-2 4.6 1.4 .7 2-4.7zM347.1 369.8l-2.1 4.4 1.3 .7 2.2-4.5zM339.2 370l-2.2 4.2 1.4 .7 2.2-4.3zM298.7 353.3l-1.7 3.4 1.4 .7 1.7-3.4zM328.2 368.3l-2.2 4 1.4 .8 2.1-4.1zM324.9 386l-2.5 4 1.3 .8 2.5-4zM328.9 388.5l-2.6 4 1.3 .9 2.6-4.1zM319.2 390.5l-2.6 3.8 1.2 .9 2.6-3.8zM265.1 356.8l-1.8 2.5 1.2 1 1.9-2.6zM316.2 396.8l-2.8 3.7 1.3 .9 2.8-3.7zM269 365.5l-2 2.6 1.2 1 2-2.7zM258.2 360.2l-1.9 2.4 1.2 .9 1.9-2.4zM236.4 347.8l-1.6 1.8 1.2 1 1.6-1.8zM220.9 338.7l-1.3 1.5 1.1 1 1.4-1.5zM212.8 336.9l-1.3 1.3 1.1 1.2 1.3-1.4zM196.3 321.8l-1 .9 1.1 1.1 1-.9zM301.1 430.3l-3.6 3.4 1.1 1.1 3.5-3.4zM211.6 339.7l-1.3 1.3 1 1.1 1.4-1.3zM209 338.9l-1.3 1.2 1 1.2 1.4-1.2zM211.4 341.5l-1.4 1.3 1 1.2 1.4-1.3zM194.1 325.3l-1 .9 .9 1.2 1.1-.9z"/><path fill="#98ff1d" d="M372.9 243l.8 5.1 1.5-.2-.8-5.1zM368.2 251.4l.7 5 1.5-.2-.7-5zM344.1 258.1l.5 4.4 1.6-.1-.5-4.5zM353.5 257l.5 4.6 1.5-.1-.5-4.7zM375.7 254.3l.6 5.1 1.5-.1-.6-5.2zM378.1 254l.5 5.2 1.6-.2-.6-5.2zM378.5 257.8l.5 5.3 1.5-.2-.5-5.2zM382.7 265.3l.3 5.3 1.6 0-.4-5.4zM334.9 284.2l-.1 4.2 1.5 .1 .2-4.3zM379.2 308.4l-.7 5.2 1.5 .2 .8-5.2zM374.7 315.6l-.9 5.1 1.5 .3 .9-5.2zM376.3 319.8l-.9 5.1 1.5 .3 1-5.1zM378.7 320.2l-1 5.2 1.5 .3 1-5.2zM238.8 298.5l-.4 1.9 1.5 .4 .4-2zM372.6 326.9l-1.2 5.1 1.5 .3 1.2-5.1zM369.4 330.2l-1.2 4.9 1.5 .4 1.2-5zM344.5 327.9l-1.1 4.4 2.6 .7 1.2-4.5zM360.5 331.9l-1.2 4.7 1.5 .4 1.2-4.8zM257.2 308l-.7 2.3 1.5 .4 .6-2.4zM353.7 360.6l-2 4.6 1.5 .6 1.9-4.7zM301.3 345.3l-1.6 3.4 1.4 .7 1.6-3.4zM349.7 366.9l-2.1 4.5 1.4 .7 2.1-4.6zM328.6 364.8l-2 4 1.3 .7 2.1-4zM301.3 361.1l-1.9 3.4 1.3 .7 1.9-3.4zM320.9 372l-2.2 3.8 1.3 .8 2.2-3.9zM297.8 362.4l-1.9 3.3 1.3 .8 2-3.3zM322.9 384.8l-2.5 3.9 1.3 .8 2.5-3.9zM322.1 388.3l-2.6 3.9 1.2 .8 2.6-3.9zM272.3 358.9l-1.9 2.7 1.3 .9 1.9-2.8zM261.5 359.8l-1.9 2.5 1.2 .9 1.9-2.4zM220 337.9l-1.3 1.5 1.1 1 1.4-1.5zM256.1 373.5l-2.2 2.3 1.1 1.1 2.2-2.3zM307.9 426.8l-3.5 3.5 1.1 1.1 3.5-3.5zM194.8 323.1l-1 .9 1 1.2 1.1-.9zM209.8 339.8l-1.4 1.2 1 1.2 1.5-1.3zM211.1 343.4l-1.5 1.2 1 1.2 1.5-1.3z"/><path fill="#a4ff27" d="M375.6 238.6l1 5.2 1.5-.3-1-5.2zM355.4 253.2l.6 4.7 1.5-.2-.6-4.7zM358.9 252.7l.6 4.8 1.5-.2-.6-4.8zM370.6 251.1l.6 5 1.5-.1-.6-5.1zM374.1 250.6l.6 5.1 1.5-.2-.6-5.1zM351.2 257.3l.5 4.5 1.5-.1-.5-4.6zM355.8 256.7l.6 4.7 1.5-.2-.5-4.7zM359.4 256.3l.5 4.7 1.5-.1-.5-4.8zM373.4 254.5l.6 5.1 1.5-.1-.6-5.1zM382 257.5l.5 5.3 1.5-.2-.5-5.3zM325.5 278.2l0 3.9 1.5 0 0-4zM317.2 283.9l-.1 3.8 1.6 0 .1-3.8zM315.9 289.4l-.3 3.8 1.6 .1 .2-3.8zM320.6 289.7l-.3 3.8 1.6 .2 .2-3.9zM321.6 292.6l-.3 3.9 1.5 .1 .3-3.9zM377.7 300.4l-.5 5.2 1.5 .2 .5-5.2zM378.2 316.1l-.9 5.2 1.5 .3 .9-5.2zM339.8 316.6l-.9 4.3 1.5 .4 .9-4.4zM258.4 302.7l-.5 2.4 1.5 .3 .5-2.4zM369.1 326.2l-1.1 5 1.5 .3 1.1-5zM344.2 324.3l-1.1 4.4 1.5 .4 1.1-4.4zM346.5 324.9l-1.1 4.4 1.5 .4 1.1-4.5zM367.1 329.6l-1.2 5 1.5 .3 1.2-4.9zM349.1 329l-1.2 4.5 1.5 .4 1.2-4.5zM310.7 322.3l-1 3.6 1.4 .4 1-3.6zM323.5 328.9l-1.2 3.9 1.5 .4 1.2-3.9zM311.4 328.3l-1.2 3.6 1.5 .5 1.2-3.6zM298.5 356.4l-1.8 3.3 1.3 .7 1.9-3.3zM300.6 357.5l-1.8 3.3 1.3 .8 1.8-3.4zM317.1 385.1l-2.5 3.7 1.3 .9 2.5-3.8zM323 388.9l-2.5 3.9 1.2 .9 2.6-3.9zM311.4 385.2l-2.5 3.6 1.2 .9 2.5-3.6zM254.5 357.3l-1.8 2.3 1.2 .9 1.8-2.3zM264.6 374.7l-2.2 2.5 1.1 1 2.3-2.5zM227.9 345l-1.5 1.6 1.1 1.1 1.6-1.7zM238.4 354.4l-1.7 1.9 1.1 1.1 1.8-1.9zM312 420.7l-3.3 3.6 1.1 1.1 3.3-3.7zM195.5 321l-1 .8 1.1 1.2 .9-.9zM212.7 338.8l-1.4 1.3 2.6 2.8 1.5-1.3zM193.3 322.9l-1 .9 1 1.1 1-.8zM208.8 340.7l-1.4 1.2 1.7 2.1 1.5-1.3z"/><path fill="#afff32" d="M360.1 252.6l.6 4.8 1.5-.2-.6-4.8zM365.9 251.8l.6 4.9 1.5-.2-.6-5zM371.7 250.9l.7 5.1 1.5-.2-.7-5.1zM377.6 250.1l.6 5.2 1.6-.2-.7-5.2zM361.7 256l.5 4.8 1.6-.1-.6-4.9zM379.2 253.8l.6 5.3 1.5-.2-.5-5.3zM379.7 257.7l.5 5.3 2.7-.3-.5-5.3zM343.7 264.8l.3 4.4 1.5-.1-.3-4.5zM315.5 295l-.4 3.7 1.5 .2 .4-3.8zM379.7 304.5l-.6 5.3 1.5 .2 .6-5.3zM375.8 315.8l-.9 5.1 1.6 .3 .8-5.2zM379.3 316.3l-.9 5.2 1.5 .3 .9-5.2zM340.4 313.4l-.8 4.4 1.5 .3 .8-4.4zM374 319.4l-.9 5.1 2.6 .5 1-5.2zM374.5 323.4l-1.1 5.1 3.8 .8 1.1-5.2zM373.7 327.2l-1.1 5.1 1.5 .3 1.1-5.1zM324.6 319.8l-.9 4 1.5 .3 .9-3.9zM364 332.7l-1.3 4.9 1.5 .4 1.3-4.9zM349.4 332.7l-1.3 4.5 1.5 .4 1.3-4.5zM353.9 333.9l-1.3 4.6 1.5 .4 1.3-4.6zM321.8 334.6l-1.4 3.9 1.5 .5 1.3-3.9zM309.7 333.7l-1.3 3.6 1.4 .5 1.3-3.6zM325 366.7l-2.1 3.9 1.4 .8 2.1-4zM325.6 370.7l-2.2 4 1.3 .7 2.2-3.9zM333.9 375.2l-2.3 4.1 1.4 .8 2.2-4.2zM321.1 387.7l-2.6 3.8 1.3 .9 2.5-3.9zM312.3 385.9l-2.5 3.6 1.3 .9 2.5-3.7zM260 355.9l-1.8 2.4 2.1 1.7 1.9-2.5zM264.7 359.4l-1.8 2.5 1.2 .9 1.9-2.5zM268.5 362.2l-1.9 2.6 1.2 .9 2-2.6zM260.5 359.1l-1.8 2.4 1.2 1 1.8-2.5zM255.4 358l-1.8 2.3 1.2 1 1.8-2.3zM259.6 364.2l-2 2.4 1.2 1 2-2.5zM225.1 344.6l-1.5 1.6 1.1 1.1 1.5-1.7zM224.8 346.6l-1.6 1.6 1.1 1.1 1.6-1.6zM210 338l-1.3 1.2 1 1.2 1.4-1.3zM191.8 322.6l-.9 .8 1.6 2.2 1.1-.9zM192.6 325.1l-1.1 .8 1 1.2 1.1-.8z"/><path fill="#bbff3b" d="M367.1 251.6l.6 4.9 1.5-.1-.6-5zM369.4 251.3l.6 5 1.6-.2-.7-5.1zM372.9 250.8l.6 5.1 1.6-.2-.7-5.1zM375.2 250.4l.7 5.2 1.5-.2-.7-5.2zM354.7 256.8l.5 4.7 1.5-.1-.5-4.7zM350.4 260.8l.4 4.5 1.5-.1-.4-4.6zM382.4 261.4l.4 5.3 1.5-.1-.4-5.3zM333.7 274.9l.1 4.2 1.5 0-.1-4.2zM383 293l-.4 5.3 1.5 .1 .4-5.4zM381.5 296.8l-.4 5.3 1.5 .1 .5-5.3zM378.7 312.3l-.8 5.2 2.7 .4 .8-5.3zM339.7 310.1l-.7 4.3 1.5 .2 .8-4.3zM371.7 319l-.9 5 1.5 .3 .9-5.1zM372.2 322.9l-1.1 5.1 1.5 .3 1.1-5.1zM340.3 320.1l-1 4.3 1.5 .3 1-4.3zM342.6 320.6l-1 4.3 1.5 .4 1-4.4zM347.6 325.1l-1.1 4.5 1.5 .4 1.1-4.5zM350.2 329.3l-1.1 4.5 1.4 .4 1.2-4.5zM357.1 331l-1.2 4.7 1.5 .4 1.2-4.7zM303.4 343.3l-1.5 3.4 1.4 .6 1.6-3.4zM333.8 356.2l-1.8 4.1 1.4 .6 1.8-4.1zM303.4 346.3l-1.6 3.4 1.4 .7 1.6-3.5zM330.7 365.8l-2 4.1 1.3 .7 2.1-4.1zM331.8 374.1l-2.2 4.1 1.3 .7 2.3-4.1zM318.9 382.3l-2.4 3.8 1.3 .8 2.4-3.8zM330.9 389.8l-2.6 4 1.3 .9 2.6-4.1zM324 389.6l-2.6 3.9 1.3 .9 2.6-4zM325 394.5l-2.7 3.9 1.3 .9 2.7-4zM266.1 357.5l-1.9 2.5 1.3 .9 1.8-2.5zM269.9 360.2l-1.9 2.6 1.3 .9 1.9-2.6zM271.9 361.5l-2 2.7 1.3 .9 1.9-2.7zM262.4 360.5l-1.9 2.5 1.2 1 1.9-2.5zM251.3 357.5l-1.8 2.2 1.2 1 1.8-2.2zM247.3 356.9l-1.8 2.1 1.1 1 1.8-2.2zM307 426l-3.4 3.5 1.1 1.1 3.4-3.5zM302.8 426.9l-3.5 3.4 1.1 1.1 3.5-3.4zM212.5 340.6l-1.5 1.3 1.8 2 1.5-1.3zM194.1 322.3l-1 .8 1 1.2 1-.9zM191.1 324.8l-1 .7 .9 1.3 1-.8z"/><path fill="#c7ff31" d="M364.7 251.9l.7 4.9 1.5-.2-.7-4.9zM358.2 256.4l.5 4.8 1.5-.2-.5-4.8zM366.4 255.4l.5 4.9 1.5-.1-.5-5zM372.2 254.7l.6 5.1 1.5-.2-.6-5.1zM344.5 261.4l.4 4.4 1.6-.1-.5-4.5zM352.7 260.5l.5 4.7 1.5-.2-.5-4.6zM376.2 258.1l.4 5.1 1.6-.1-.5-5.2zM319.4 289.6l-.2 3.8 1.5 .2 .2-3.9zM382.7 296.9l-.4 5.3 1.5 .1 .4-5.3zM378.5 304.4l-.6 5.2 1.5 .2 .6-5.2zM380.9 304.6l-.7 5.3 1.6 .2 .6-5.3zM318.4 300.9l-.5 3.8 1.5 .2 .5-3.8zM373.3 323.2l-1 5 1.5 .4 1-5.1zM353 322.8l-1.1 4.6 1.5 .3 1.1-4.6zM371.4 326.7l-1.1 5 1.5 .4 1.1-5.1zM361.4 328.3l-1.2 4.8 1.5 .4 1.2-4.9zM353.7 330.1l-1.2 4.7 1.4 .4 1.3-4.7zM361.7 332.1l-1.3 4.9 1.5 .4 1.3-4.9zM365.1 333l-1.3 4.9 1.5 .4 1.3-4.9zM355.1 334.2l-1.3 4.6 1.4 .5 1.3-4.7zM306.6 338.5l-1.4 3.6 1.4 .5 1.5-3.5zM295.8 361.2l-1.9 3.3 1.3 .8 1.9-3.3zM328 396.4l-2.8 4 1.3 .9 2.7-4zM311.5 389.3l-2.6 3.6 2.1 1.6 2.7-3.7zM226.8 346.2l-1.5 1.6 1 1.1 1.6-1.6zM194 320.8l-1 .8 1.8 2 1-.9zM193.4 324.4l-1.1 .9 1 1.2 1-.9z"/><path fill="#d2ff27" d="M361.2 252.4l.6 4.8 1.6-.2-.7-4.8zM380.4 253.7l.6 5.2 1.5-.1-.6-5.3zM358.6 259.9l.4 4.8 1.6-.1-.5-4.8zM380.1 261.6l.4 5.3 1.5-.1-.4-5.3zM344.1 271.3l.2 4.4 1.5 0-.2-4.5zM383.2 277.2l.1 5.3 1.5 0 0-5.4zM380.1 300.6l-.6 5.3 1.6 .1 .5-5.2zM381.1 312.6l-.8 5.3 1.5 .2 .8-5.3zM326.4 311l-.7 4 1.5 .3 .7-4zM342.1 317.1l-.9 4.3 1.5 .4 .9-4.4zM356 330.7l-1.3 4.7 1.5 .4 1.2-4.7zM348.2 332.4l-1.2 4.4 1.4 .5 1.3-4.6zM350.5 333l-1.3 4.5 1.5 .4 1.3-4.5zM361.9 336l-1.4 4.8 1.5 .5 1.4-4.9zM350.8 367.4l-2.1 4.5 1.4 .7 2.1-4.6zM303.2 352.4l-1.8 3.4 1.4 .7 1.7-3.4zM313.3 386.6l-2.5 3.6 1.2 .9 2.6-3.7zM315.3 392l-2.6 3.7 1.2 .9 2.7-3.8zM256.8 356.3l-1.8 2.3 1.2 1 1.8-2.4zM244.9 352.3l-1.7 2.1 1.2 1 1.7-2.1zM252.2 358.2l-1.8 2.3 1.2 1 1.8-2.3zM240.6 353.8l-1.7 1.9 1.1 1.1 1.8-2zM190.3 325.3l-1 .8 .9 1.3 1-.8z"/><path fill="#deff1d" d="M366.5 247.9l.7 5 1.6-.2-.8-5zM362.4 252.2l.6 4.9 1.5-.2-.6-4.9zM365.2 255.5l.5 5 1.6-.2-.6-4.9zM345.7 261.3l.4 4.4 1.5-.1-.4-4.5zM349.2 260.9l.4 4.5 1.6-.1-.5-4.6zM351.6 260.7l.4 4.5 1.5-.1-.4-4.6zM351.9 264.1l.3 4.6 1.6-.1-.4-4.7zM348.8 271.1l.2 4.5 1.5-.1-.1-4.5zM378 296.6l-.4 5.2 1.5 .1 .4-5.2zM376.9 308.1l-.7 5.2 1.5 .2 .7-5.2zM371.2 315l-.9 5.1 1.5 .2 .9-5zM377.5 320l-1 5.2 1.5 .3 1-5.2zM346 321.3l-1 4.4 1.5 .4 1-4.5zM356.8 327.2l-1.1 4.7 1.4 .4 1.2-4.7zM354.8 330.4l-1.2 4.7 1.5 .4 1.2-4.7zM359.6 335.4l-1.3 4.8 1.5 .4 1.3-4.8zM320.4 331.1l-1.2 3.8 1.4 .5 1.3-3.9zM306.5 335.5l-1.3 3.5 1.4 .6 1.3-3.6zM336.4 364.8l-2 4.2 1.4 .7 2-4.3zM315.3 387.9l-2.6 3.7 1.3 .9 2.5-3.8zM326 395.1l-2.7 4 1.2 .9 2.8-4zM262.2 354.8l-1.7 2.4 1.2 1 1.8-2.5zM313.4 390.6l-2.6 3.7 1.2 .9 2.6-3.7zM263.8 358.7l-1.9 2.5 1.2 .9 1.9-2.5zM254.9 354.9l-1.8 2.3 2.1 1.6 1.8-2.3zM244.3 349.3l-1.6 2 1.1 1 1.7-2zM253.6 356.6l-1.8 2.2 1.2 1 1.8-2.3zM242.2 350.1l-1.7 2 1.2 1 1.7-2.1zM244 351.6l-1.7 2 1.2 1 1.7-2.1zM241.9 352.3l-1.7 2 1.1 1 1.7-2zM195.6 322.5l-1 .9 1 1.1 1-.9zM193.3 321.4l-1 .8 1 1.2 1-.9zM192.6 322l-1 .8 1 1.2 1-.8zM191.9 324.2l-1.1 .8 1 1.2 1-.9z"/><path fill="#eaff12" d="M360.5 256.1l.6 4.8 1.5-.1-.6-4.9zM378.9 261.7l.4 5.2 1.5-.1-.4-5.2zM382.1 281.1l-.1 5.3 1.6 0 0-5.3zM378.2 292.7l-.3 5.2 1.5 .1 .4-5.2zM381.2 300.7l-.5 5.3 1.5 .2 .6-5.3zM378.1 308.3l-.7 5.2 1.5 .2 .7-5.3zM381.6 308.7l-.7 5.3 1.5 .2 .7-5.3zM370.3 326.4l-1.2 5.1 1.5 .3 1.1-5zM341.9 323.8l-1.1 4.3 1.5 .4 1.1-4.4zM351.1 325.9l-1.2 4.6 1.5 .4 1.1-4.6zM359.4 331.6l-1.3 4.7 1.5 .4 1.3-4.8zM351.6 333.3l-1.2 4.5 1.4 .5 1.3-4.6zM306.3 332.5l-1.2 3.5 1.4 .6 1.3-3.6zM333.9 367.4l-2.1 4.1 1.4 .7 2.1-4.1zM330.2 377.1l-2.4 4 1.4 .8 2.3-4.1zM329.5 380.7l-2.4 4 1.3 .8 2.4-4zM328.7 384.3l-2.5 4 1.3 .8 2.5-4zM321.1 391.8l-2.6 3.9 1.2 .8 2.7-3.8zM314.3 391.3l-2.6 3.7 1.2 .9 2.7-3.7zM261.9 357.3l-1.9 2.5 1.3 .9 1.8-2.5zM252.6 355.8l-1.7 2.3 1.1 .9 1.9-2.2zM254.1 359.7l-1.9 2.3 1.2 1 1.9-2.3zM217.5 331.9l-1.2 1.4 1.1 1 1.3-1.5zM228.8 345.8l-1.5 1.6 1.1 1.1 1.5-1.7zM224.2 343.8l-1.5 1.6 1.1 1 1.5-1.6zM228.5 347.8l-1.6 1.7 1.1 1.1 1.7-1.7zM225.7 347.4l-1.6 1.6 1.9 1.9 1.6-1.6zM197.8 321.9l-.9 1 1 1.1 1-1zM194.1 323.8l-1 .9 1.7 2.1 1.1-1z"/><path fill="#f6fd08" d="M346.9 261.2l.4 4.4 1.5-.1-.4-4.5zM381.2 261.5l.4 5.3 1.6-.1-.4-5.3zM345.1 268l.3 4.4 1.5-.1-.3-4.5zM317 289.5l-.2 3.8 1.5 .1 .3-3.8zM372.9 319.2l-1 5 1.5 .4 1-5.2zM344.9 321l-1 4.5 1.5 .3 1-4.4zM347.2 321.5l-1 4.5 1.5 .4 1-4.5zM348.8 325.4l-1.1 4.5 1.4 .4 1.2-4.6zM362.5 328.6l-1.1 4.8 2.6 .7 1.2-4.9zM346.8 328.4l-1.2 4.5 1.5 .4 1.2-4.5zM356.2 334.5l-1.3 4.7 1.5 .4 1.3-4.7zM308.5 333.3l-1.2 3.5 1.4 .6 1.3-3.6zM330.8 373.5l-2.3 4.1 1.4 .7 2.2-4.1zM328.5 380.1l-2.4 4 1.3 .8 2.4-4zM329 392.8l-2.7 4 1.3 .9 2.7-4.1zM219.3 331.5l-1.2 1.5 1.1 1 1.3-1.5zM243.1 350.8l-1.7 2 1.2 1 1.7-2zM245.8 353l-1.7 2.1 1.2 1 1.7-2.1zM242.4 355.3l-1.8 2 1.1 1.1 1.8-2.1zM225.9 345.4l-1.5 1.6 1.1 1.1 1.6-1.6zM196.4 323.3l-1 1 1 1.1 1-.9zM195.6 324l-1 .9 1 1.2 1.1-.9z"/><path fill="#fff600" d="M364 255.7l.6 4.9 1.5-.2-.5-4.9zM347.2 264.5l.3 4.5 1.6-.1-.4-4.6zM360.1 263.3l.4 4.8 2.7-.1-.4-4.9zM374.2 262.1l.4 5.1 1.5-.1-.4-5.1zM377.7 261.8l.4 5.2 1.5-.1-.4-5.2zM342.7 268.1l.3 4.4 1.5-.1-.2-4.4zM378 265.7l.3 5.2 1.5-.1-.3-5.3zM347.6 271.1l.2 4.5 1.6 0-.2-4.6zM375.4 300.2l-.6 5.2 1.6 .1 .5-5.2zM382 304.8l-.6 5.3 1.5 .2 .6-5.4zM355.3 323.3l-1.1 4.6 1.5 .4 1.1-4.7zM367.9 325.9l-1.1 5 1.5 .4 1.1-5zM352.2 326.2l-1.1 4.6 1.5 .3 1.1-4.6zM311.4 319.6l-1 3.6 1.5 .4 1-3.6zM304.5 340.7l-1.4 3.5 1.4 .6 1.4-3.5zM324 373.7l-2.3 3.9 1.4 .8 2.2-4zM331.2 377.7l-2.3 4 1.3 .8 2.3-4.1zM328 392.2l-2.7 3.9 1.3 .9 2.7-4zM218.4 330.8l-1.2 1.4 1.1 1 1.2-1.4zM218.4 332.6l-1.2 1.5 1.1 1 1.3-1.5zM243.7 353.8l-1.8 2.1 1.2 1 1.7-2.1zM241.5 354.6l-1.8 1.9 1.2 1.1 1.7-2zM192.5 320.5l-1 .8 1 1.2 1-.8z"/><path fill="#fff000" d="M356.2 260.2l.5 4.7 1.5-.2-.4-4.7zM362.1 259.6l.5 4.8 1.5-.1-.5-4.9zM372.6 258.4l.5 5.1 1.5-.1-.4-5.1zM346.3 267.9l.2 4.4 1.6 0-.3-4.5zM351 267.5l.2 4.6 1.6-.1-.3-4.6zM356.8 267.1l.3 4.7 1.6 0-.3-4.8zM346.5 271.2l.2 4.4 1.5 0-.2-4.5zM382.1 277.2l0 5.3 1.5 0 0-5.3zM383.1 289l-.2 5.3 1.5 .1 .3-5.3zM379.2 296.6l-.4 5.3 1.5 .1 .4-5.2zM375 304l-.6 5.2 1.5 .1 .6-5.1zM377.3 304.3l-.6 5.2 1.5 .1 .7-5.2zM374.1 311.6l-.8 5.1 1.5 .3 .8-5.2zM376.4 311.9l-.8 5.2 1.5 .3 .8-5.2zM340.9 316.9l-.9 4.3 1.5 .3 .9-4.3zM343.2 317.3l-.9 4.4 1.5 .3 .9-4.4zM354.1 323l-1 4.6 1.5 .4 1-4.7zM357.6 323.7l-1.1 4.8 2.6 .6 1.1-4.8zM363.3 325l-1.1 4.8 1.5 .4 1.1-4.9zM366.8 325.7l-1.1 4.9 1.5 .4 1.1-5zM355.6 327l-1.1 4.6 1.5 .4 1.1-4.7zM308.3 330.3l-1.2 3.5 1.4 .5 1.3-3.6zM334.9 367.9l-2.1 4.2 1.4 .7 2.1-4.2zM326.9 387.3l-2.6 3.9 1.3 .9 2.6-4zM327 391.5l-2.7 4 1.3 .8 2.7-4zM220.1 330.4l-1.1 1.5 1.1 1 1.2-1.5z"/><path fill="#ffea00" d="M369.9 255l.5 5 1.6-.2-.6-5zM363.3 259.4l.4 4.9 1.6-.1-.5-4.9zM373.8 258.3l.5 5.1 1.5-.1-.5-5.1zM347.4 267.8l.3 4.5 1.5-.1-.2-4.5zM355.7 267.2l.2 4.7 1.6-.1-.3-4.7zM381.9 273.3l.2 5.3 1.5-.1-.1-5.3zM383.3 281.1l-.1 5.3 1.5 .1 .1-5.4zM379.4 292.8l-.3 5.2 1.5 .1 .4-5.3zM319.2 292.5l-.3 3.8 1.5 .1 .4-3.8zM317.6 298l-.5 3.8 1.5 .2 .5-3.9zM316.9 303.6l-.6 3.7 1.5 .3 .6-3.8zM345.6 317.8l-1 4.4 1.5 .3 1-4.4zM359.9 324.2l-1.1 4.8 1.5 .4 1.1-4.8zM362.2 324.7l-1.1 4.8 1.5 .4 1.1-4.9zM365.6 325.5l-1.1 4.9 1.5 .3 1.1-4.9zM354.5 326.7l-1.1 4.6 1.5 .4 1.1-4.6zM329.6 365.3l-2 4.1 1.4 .7 2-4.1zM332.8 374.6l-2.2 4.1 1.3 .8 2.3-4.2zM329.1 376.5l-2.3 4.1 1.4 .7 2.3-4zM320.6 379.4l-2.3 3.9 1.3 .8 2.4-3.9zM322.1 392.5l-2.7 3.8 1.3 .9 2.7-3.9zM327 395.8l-2.8 4 1.3 .8 2.8-4zM241 351.6l-1.7 1.9 1.1 1 1.7-2zM229.7 346.6l-1.6 1.7 1.1 1 1.6-1.7z"/><path fill="#ffe300" d="M346 264.6l.3 4.4 1.6-.1-.4-4.5zM348.4 264.4l.3 4.5 1.5-.1-.3-4.6zM352.1 267.5l.3 4.6 2.7-.2-.2-4.6zM380.4 265.5l.3 5.3 1.5-.1-.3-5.3zM341.8 271.4l.1 4.4 1.6-.1-.2-4.4zM351.2 270.9l.2 4.6 1.5 0-.2-4.6zM381.8 269.3l.2 5.3 2.7 0-.2-5.4zM378.4 273.4l.1 5.2 1.6 0-.2-5.3zM319.6 281.1l0 3.8 1.5 .1 .1-3.9zM374.6 307.8l-.7 5.1 1.5 .3 .7-5.2zM369.4 318.6l-1 5 1.5 .3 1-5.1zM313.2 311.5l-.8 3.6 1.5 .4 .8-3.7zM367.5 322l-1 5 1.5 .3 1-5zM350.7 322.3l-1.1 4.5 1.5 .4 1.1-4.6zM364.5 325.2l-1.1 4.9 1.5 .3 1.1-4.9zM312 316.9l-.9 3.6 1.5 .4 .9-3.7zM349.9 325.6l-1.1 4.6 1.5 .4 1.1-4.6zM358.2 331.3l-1.2 4.7 1.5 .4 1.2-4.7zM307.4 332.9l-1.2 3.5 1.4 .6 1.3-3.6zM342.5 359.9l-1.9 4.3 1.4 .6 1.9-4.4zM334.3 363.8l-2 4.1 1.4 .7 2-4.2zM322.3 376.6l-2.3 3.8 1.3 .8 2.4-3.9zM330 393.4l-2.7 4.1 1.2 .8 2.7-4zM240 350.8l-1.6 1.9 1.1 1.1 1.7-2zM216.6 332.9l-1.3 1.4 1.2 1 1.2-1.4z"/><path fill="#ffdd00" d="M353.9 260.4l.4 4.7 1.6-.2-.5-4.6zM359.8 259.8l.4 4.8 1.5-.1-.4-4.9zM369.1 258.8l.5 5 1.5-.1-.4-5zM349.5 264.3l.4 4.5 2.7-.2-.4-4.6zM354.2 263.9l.4 4.6 2.7-.2-.4-4.7zM375.4 262l.3 5.2 2.8-.2-.4-5.2zM354.5 267.3l.3 4.7 1.5-.1-.3-4.7zM381.5 265.4l.3 5.3 1.6-.1-.3-5.3zM340.7 274.7l.1 4.3 1.6 0-.1-4.4zM380.9 277.2l0 5.3 1.5 0 0-5.3zM380.9 285l-.2 5.3 2.7 .1 .2-5.3zM380.8 288.9l-.3 5.3 2.7 .2 .3-5.4zM380.4 296.7l-.5 5.3 1.6 .1 .4-5.3zM316.1 300.6l-.5 3.8 1.5 .2 .5-3.8zM341.5 313.6l-.8 4.4 1.5 .3 .8-4.4zM364.1 321.4l-1 4.8 1.5 .4 1-4.9zM366.4 321.8l-1 4.9 1.5 .4 1-5zM349.5 322l-1 4.6 1.5 .3 1-4.6zM360.2 328l-1.1 4.8 1.5 .4 1.1-4.8zM364.8 329.1l-1.2 4.9 1.5 .4 1.2-5zM310.3 328l-1.2 3.6 1.5 .4 1.1-3.6zM336 368.4l-2.1 4.2 1.4 .7 2.1-4.2zM321.9 372.5l-2.2 3.9 1.3 .8 2.3-3.9zM325 374.2l-2.2 4 1.3 .7 2.2-3.9zM319.3 374.8l-2.3 3.8 2.3 1.4 2.3-3.8zM334.6 383.6l-2.5 4.2 1.3 .8 2.5-4.2zM331.8 386.1l-2.6 4.1 1.3 .8 2.6-4.1zM218.4 334.5l-1.3 1.4 1.1 1 1.3-1.4zM238.8 352.2l-1.7 1.9 1.2 1.1 1.7-2z"/><path fill="#ffd701" d="M362.9 255.8l.5 4.9 1.5-.2-.5-4.9zM367.5 255.3l.6 4.9 1.5-.1-.5-5zM356.6 263.6l.3 4.8 1.6-.1-.4-4.8zM373 262.2l.4 5.1 1.5-.1-.4-5.1zM343.9 268l.3 4.4 1.5 0-.3-4.5zM340.6 271.5l.2 4.3 1.5 0-.2-4.4zM350 271l.2 4.5 1.5 0-.2-4.6zM379.4 269.5l.2 5.2 2.7-.1-.2-5.3zM380.6 292.8l-.3 5.3 2.7 .2 .3-5.3zM378.9 300.5l-.5 5.2 1.5 .2 .5-5.2zM373.8 303.9l-.6 5.1 1.5 .2 .6-5.1zM375.7 308l-.7 5.1 1.6 .2 .6-5.1zM375.2 311.8l-.8 5.1 1.6 .3 .7-5.2zM373.5 315.4l-.9 5.1 1.5 .3 .9-5.2zM344.4 317.5l-.9 4.4 1.5 .4 .9-4.5zM371 322.7l-1 5 1.5 .4 1-5.1zM356.4 323.5l-1 4.7 1.5 .3 1-4.7zM361 324.5l-1 4.8 1.4 .3 1.1-4.8zM313.2 317.2l-.9 3.6 1.5 .4 .9-3.7zM359.1 327.8l-1.2 4.7 1.5 .4 1.2-4.8zM349.5 355l-1.8 4.5 1.5 .6 1.8-4.5zM345.8 361.2l-2 4.5 1.4 .6 2-4.5zM324 366.2l-2.1 3.9 1.3 .7 2.1-3.9zM327.7 383.7l-2.5 4 1.3 .8 2.5-4z"/><path fill="#ffd004" d="M368.7 255.1l.6 5 1.5-.1-.6-5.1zM371.1 254.8l.5 5.1 1.5-.2-.5-5.1zM357.4 260l.5 4.8 1.5-.2-.5-4.7zM366.8 259.1l.4 4.9 1.6-.1-.5-5zM375 258.2l.5 5.1 1.5-.1-.5-5.2zM352.4 270.9l.1 4.6 1.6-.1-.2-4.6zM383.1 273.2l.1 5.3 1.6 0-.1-5.3zM377.4 281.1l-.1 5.2 1.5 0 .1-5.2zM318.1 292.4l-.4 3.8 1.6 .1 .3-3.8zM376.5 300.3l-.5 5.2 1.5 .2 .6-5.2zM317.2 300.8l-.5 3.8 1.6 .2 .5-3.8zM367.1 318.2l-1 4.9 1.5 .3 1-5zM365.2 321.6l-1 4.9 1.5 .3 1-4.9zM368.7 322.3l-1 4.9 2.6 .6 1.1-5zM348.3 321.8l-1 4.5 1.5 .3 1-4.5zM353.4 326.4l-1.2 4.7 1.5 .3 1.1-4.6zM309.1 327.6l-1.1 3.6 1.5 .5 1.1-3.6zM335.4 364.3l-2 4.2 1.3 .6 2.1-4.2zM338.6 365.8l-2.1 4.2 1.4 .7 2.1-4.3zM326.5 363.8l-2 3.9 1.3 .7 2-4zM332.8 366.9l-2 4.1 1.3 .7 2.1-4.2zM327.1 367.8l-2.1 4 1.4 .7 2.1-4zM332.5 382.5l-2.4 4.1 1.3 .8 2.5-4.2zM329.7 384.9l-2.5 4 1.3 .9 2.5-4.1zM325.9 386.7l-2.5 3.9 1.2 .8 2.6-3.9zM323.1 393.1l-2.7 3.9 1.2 .9 2.8-3.9zM320.1 395.3l-2.7 3.9 1.2 .9 2.8-3.9zM219.3 333.4l-1.3 1.4 1.2 1 1.3-1.4z"/><path fill="#ffca07" d="M344.8 264.7l.4 4.4 1.5-.1-.3-4.5zM353.1 264l.3 4.6 1.5-.1-.3-4.7zM362.4 263.1l.4 4.9 1.5-.1-.3-4.9zM348.6 267.7l.3 4.5 2.7-.1-.3-4.6zM379.6 288.9l-.3 5.2 1.6 .1 .2-5.3zM372.1 296.2l-.4 5 1.5 .2 .5-5.1zM376.2 304.1l-.6 5.2 1.5 .2 .6-5.2zM338.3 303.4l-.6 4.2 1.5 .3 .6-4.3zM372.9 311.5l-.8 5 1.5 .3 .8-5.1zM342.1 310.4l-.8 4.4 1.5 .2 .8-4.3zM372.3 315.2l-.8 5.1 1.5 .3 .8-5.1zM347.3 314.7l-.8 4.4 1.5 .3 .8-4.5zM370.5 318.8l-.9 5 1.5 .3 1-5.1zM346.7 318l-.9 4.4 1.5 .4 .9-4.5zM351.8 322.5l-1 4.6 1.5 .4 1-4.7zM357.9 327.5l-1.1 4.7 1.5 .4 1.1-4.8zM346.8 361.7l-1.9 4.4 1.4 .7 1.9-4.5zM340.7 366.8l-2.1 4.3 1.4 .7 2.1-4.4zM326.1 367.2l-2.1 4 1.3 .7 2.1-4zM319.6 378.8l-2.3 3.8 1.3 .9 2.3-3.9zM214.7 335l-1.2 1.3 1.1 1.1 1.3-1.4z"/><path fill="#ffc40a" d="M360.9 259.7l.5 4.8 1.5-.1-.4-4.9zM358.9 263.4l.4 4.8 1.5-.1-.4-4.8zM360.4 266.9l.3 4.8 1.5-.1-.3-4.8zM379.2 265.6l.3 5.2 1.5-.1-.3-5.2zM354.7 270.7l.2 4.7 1.5 0-.2-4.7zM345.4 274.5l.1 4.5 2.8-.1-.2-4.5zM375 284.9l-.2 5.1 1.6 .1 .1-5.2zM371 296.1l-.5 5 1.6 .2 .4-5.1zM373.3 296.2l-.4 5.1 1.5 .2 .4-5.2zM376.8 296.5l-.4 5.2 1.5 .1 .5-5.2zM339.5 303.5l-.6 4.3 1.5 .2 .6-4.3zM373.4 307.7l-.7 5.1 1.5 .2 .7-5.1zM315.7 303.4l-.6 3.7 1.6 .3 .5-3.8zM371.7 311.3l-.7 5 1.5 .3 .7-5.1zM342.7 313.9l-.8 4.3 2.6 .6 .9-4.5zM349.7 315.1l-.9 4.5 1.5 .3 .9-4.6zM368.2 318.4l-.9 4.9 1.5 .3 .9-5zM349 318.4l-.9 4.6 1.5 .3 .9-4.6zM351.3 318.9l-.9 4.6 1.5 .3 .9-4.6zM361.8 320.9l-1 4.8 1.5 .4 1-4.9zM340 362.6l-2 4.3 1.4 .6 2-4.3zM343.2 364l-2 4.4 1.4 .7 2-4.4zM337.5 365.3l-2 4.2 1.3 .7 2.1-4.3zM322.9 373.1l-2.2 3.9 1.4 .8 2.2-4zM213.7 337.8l-1.4 1.3 1.1 1.1 1.3-1.3z"/><path fill="#ffbd0d" d="M371.5 258.6l.4 5 1.6-.1-.5-5.1zM363.6 263l.4 4.9 1.5-.1-.4-4.9zM374.5 265.9l.3 5.1 2.7-.1-.3-5.2zM358.2 270.6l.2 4.7 1.6 0-.2-4.8zM343.1 274.6l.1 4.4 1.5 0-.1-4.4zM376.2 281.1l-.1 5.2 1.6 0 0-5.2zM378.6 281.1l-.1 5.2 3.9 .1 0-5.3zM379.7 285l-.2 5.2 1.6 .1 .1-5.3zM373.7 288.7l-.2 5.1 2.7 .1 .2-5.1zM378.4 288.8l-.2 5.3 1.5 0 .2-5.2zM375.7 296.4l-.5 5.1 1.6 .2 .4-5.2zM340.2 306.9l-.6 4.3 1.5 .2 .6-4.3zM370.6 311.1l-.8 5 1.5 .3 .8-5.1zM315.3 306.2l-.6 3.7 2.6 .5 .7-3.8zM370 314.8l-.9 5.1 1.6 .2 .8-5zM314.8 308.9l-.7 3.8 1.5 .3 .7-3.8zM345 314.3l-.8 4.4 2.6 .5 .9-4.5zM348.5 314.9l-.9 4.5 1.5 .3 .9-4.6zM364.7 317.7l-.9 4.9 2.7 .6 .9-5zM354.8 319.6l-.9 4.6 3.8 .8 .9-4.7zM360.6 320.7l-1 4.8 1.5 .3 1-4.8zM344.3 364.5l-2 4.4 1.4 .7 2-4.5zM332.8 386.7l-2.6 4.1 1.3 .9 2.6-4.2z"/><path fill="#ffb00d" d="M364.4 259.3l.5 4.9 1.5-.1-.4-5zM357.7 263.5l.4 4.8 1.5-.1-.3-4.8zM371.8 262.3l.4 5.1 1.5-.1-.3-5.1zM362.7 266.7l.3 4.9 1.5-.1-.2-4.9zM376.8 265.7l.3 5.2 1.6-.1-.3-5.2zM345.3 271.2l.2 4.5 1.5-.1-.2-4.4zM357.1 270.6l.2 4.7 1.5 0-.2-4.8zM347.8 274.4l.1 4.5 1.5 0-.1-4.5zM350.1 274.4l.2 4.5 2.7 0-.1-4.6zM377.3 285l-.1 5.1 2.7 .2 .1-5.3zM372.4 292.4l-.4 5.1 1.6 .1 .3-5.1zM375.9 292.6l-.3 5.1 2.7 .2 .3-5.2zM374.2 300.1l-.5 5.1 1.5 .2 .5-5.2zM316.4 297.9l-.4 3.7 1.5 .2 .4-3.8zM338.7 300.2l-.5 4.3 1.5 .2 .5-4.3zM370.3 303.5l-.6 5 3.9 .5 .6-5.1zM369.9 307.2l-.7 5.1 3.9 .5 .6-5.1zM340.9 310.2l-.7 4.4 1.5 .2 .7-4.3zM344.4 310.8l-.8 4.4 1.6 .3 .7-4.5zM347.9 318.2l-1 4.5 1.5 .3 1-4.5zM350.2 318.7l-1 4.5 1.5 .3 1-4.5zM352.5 319.1l-1 4.6 1.5 .3 1-4.6zM358.3 320.2l-1 4.8 2.7 .5 .9-4.7zM347.9 362.2l-1.9 4.4 1.4 .7 1.9-4.5zM321.3 376l-2.3 3.8 1.3 .8 2.3-3.9zM333.6 383l-2.5 4.2 1.3 .8 2.5-4.2zM321.1 396l-2.7 3.9 1.2 .9 2.8-3.9zM216.5 336.6l-1.4 1.4 1.1 1 1.4-1.4zM214.6 336.8l-1.3 1.3 1.1 1.1 1.3-1.4z"/><path fill="#ff9a0a" d="M365.6 259.2l.5 4.9 1.5-.1-.5-5zM358 267.1l.3 4.7 2.7-.1-.3-4.8zM353.5 270.8l.2 4.6 1.6 0-.2-4.7zM355.9 270.7l.2 4.7 1.5-.1-.2-4.7zM378.2 269.5l.3 5.2 1.5 0-.2-5.3zM341.9 274.7l.1 4.3 1.5 0-.1-4.4zM380.8 273.3l.1 5.3 1.5 0-.1-5.4zM379.7 277.2l0 5.3 1.6 0-.1-5.3zM377.2 288.8l-.2 5.2 1.5 .1 .3-5.2zM374.7 292.5l-.3 5.1 1.5 .2 .3-5.2zM374.5 296.3l-.4 5.1 1.5 .2 .4-5.2zM370.7 299.8l-.5 5 3.8 .5 .5-5.2zM343.2 310.6l-.7 4.4 1.5 .3 .7-4.5zM368.8 314.7l-.8 4.9 1.5 .3 .9-5zM313.7 308.7l-.7 3.7 1.5 .3 .7-3.7zM353.7 319.3l-1 4.7 1.5 .3 1-4.7zM362.9 321.1l-1 4.9 1.5 .3 1-4.9z"/><path fill="#ff8508" d="M370.3 258.7l.5 5 1.5-.1-.5-5.1zM373.5 292.5l-.3 5.1 1.5 .1 .4-5.2zM341.4 307l-.7 4.4 1.5 .2 .7-4.4zM312.5 319.9l-.9 3.6 1.4 .4 1-3.6zM309.9 325l-1 3.6 3.7 1.1 1.1-3.7zM218.3 336.3l-1.3 1.4 1.1 1.1 1.3-1.5zM216.3 338.4l-1.3 1.4 1 1.1 1.4-1.4z"/><path fill="#ff7006" d="M342.9 271.4l.2 4.3 1.5 0-.1-4.4zM377.1 269.6l.2 5.2 1.5-.1-.2-5.2zM344.3 274.6l.1 4.4 1.5 0-.1-4.5zM376.1 288.8l-.3 5.1 1.5 .1 .3-5.2zM346 357.5l-1.8 4.4 1.4 .6 1.8-4.4zM216.5 334.7l-1.2 1.4 1.1 1.1 1.3-1.4zM217.3 337.4l-1.3 1.4 1.1 1 1.3-1.4zM215.5 337.6l-1.4 1.4 1.1 1 1.4-1.3z"/><path fill="#ff5b03" d="M368.3 262.6l.4 5 1.5-.1-.4-5zM376.2 284.9l-.2 5.2 1.5 .1 .2-5.2zM337.5 300.1l-.5 4.2 1.5 .2 .5-4.3zM346.5 304.4l-.6 4.4 1.5 .3 .6-4.5zM347.2 307.8l-.7 4.5 1.5 .3 .7-4.5zM311.8 322.6l-1 3.6 1.5 .5 1-3.7zM338.9 362.1l-1.9 4.3 1.4 .6 1.9-4.3z"/><path fill="#ff4701" d="M367.1 262.7l.4 5 1.5-.1-.3-5zM377.2 273.4l.2 5.2 1.5 0-.1-5.2zM372.5 288.6l-.2 5.1 1.5 .1 .3-5.1zM339.4 290.7l-.3 4.3 1.6 .1 .2-4.4zM359.4 291.7l-.3 4.8 1.5 .1 .3-4.8zM361.8 291.8l-.3 4.9 1.5 .1 .3-4.9zM368.8 292.2l-.3 5 1.5 .1 .4-5zM366.3 295.7l-.4 5 1.5 .1 .4-5zM345.7 300.9l-.5 4.5 1.5 .2 .5-4.5zM314.5 303.3l-.5 3.7 1.5 .2 .6-3.7zM346.7 311.2l-.7 4.4 1.5 .3 .7-4.5zM352.5 312.1l-.7 4.6 1.5 .3 .8-4.7zM348.2 358.4l-1.9 4.5 1.4 .6 1.9-4.6zM341.4 359.4l-1.9 4.3 1.4 .6 1.9-4.3z"/><path fill="#ff3a00" d="M368 258.9l.4 5 1.6-.1-.5-5zM366 262.8l.3 5 1.6-.1-.4-5zM370.7 262.4l.3 5.1 1.6-.1-.4-5.1zM374.7 269.7l.2 5.1 1.6 0-.3-5.2zM349 274.4l.1 4.5 1.5 0-.1-4.5zM358.4 274.1l.1 4.7 1.5 0-.1-4.8zM373.8 277.3l0 5.1 1.6 0-.1-5.1zM376.2 277.3l0 5.1 1.5 .1 0-5.2zM372.7 281.1l-.1 5.1 1.5 0 .1-5.1zM371.3 288.6l-.2 5 1.5 .1 .3-5.1zM366.5 292.1l-.3 4.9 1.5 .1 .3-4.9zM371.2 292.3l-.3 5.1 1.5 .1 .3-5.1zM341.6 294l-.4 4.4 1.5 .1 .4-4.4zM362.7 295.5l-.4 4.8 1.6 .2 .4-4.9zM363.6 299.2l-.5 4.8 2.7 .3 .5-4.9zM368.3 299.6l-.5 5 1.5 .1 .5-5zM339.8 300.3l-.5 4.3 1.5 .2 .6-4.3zM342.2 300.6l-.5 4.3 1.5 .2 .5-4.4zM344.9 307.5l-.7 4.4 1.5 .3 .7-4.5zM350.2 311.7l-.8 4.6 1.5 .2 .8-4.5zM364.2 313.9l-.8 4.9 1.5 .3 .8-4.9zM358.9 316.7l-.9 4.8 1.5 .3 .9-4.8zM361.3 317.1l-.9 4.8 1.5 .3 .9-4.8zM363.6 317.5l-.9 4.9 1.5 .3 .9-4.9zM349.3 358.8l-1.9 4.5 1.4 .6 1.9-4.5z"/><path fill="#ff2e00" d="M369.5 262.5l.4 5 1.5-.1-.4-5zM365.1 266.6l.3 4.9 1.5-.1-.3-4.9zM359.4 270.5l.2 4.8 1.5-.1-.2-4.8zM373.5 269.8l.2 5.1 1.6-.1-.2-5.1zM354.9 274.2l.1 4.7 1.5-.1-.1-4.7zM351.4 277.7l0 4.6 1.6 0-.1-4.6zM375 277.3l0 5.1 1.5 .1 0-5.2zM377.3 277.3l.1 5.2 1.5 0 0-5.3zM372.6 284.9l-.1 5.1 1.5 0 .2-5.1zM340.7 287.5l-.2 4.4 1.6 0 .2-4.3zM360.6 291.8l-.3 4.8 1.5 .1 .3-4.8zM367.7 292.1l-.4 5 1.6 .1 .3-5zM361.6 295.4l-.4 4.8 1.5 .2 .4-4.9zM363.9 295.6l-.4 4.8 1.5 .2 .4-4.9zM368.6 295.9l-.4 5 2.7 .2 .4-5zM340.1 297.1l-.4 4.3 2.7 .3 .4-4.3zM343.7 297.4l-.5 4.4 1.5 .2 .5-4.4zM367.1 299.5l-.5 4.9 1.6 .2 .5-5zM366.8 303.2l-.6 4.9 1.5 .2 .6-5zM341.8 303.8l-.6 4.3 1.5 .3 .6-4.4zM347.7 304.5l-.6 4.5 1.5 .2 .6-4.5zM349.6 308.2l-.7 4.5 1.5 .3 .7-4.6zM349.1 311.5l-.8 4.5 1.5 .3 .8-4.5zM351.4 311.9l-.8 4.6 1.5 .2 .8-4.6zM360.7 313.4l-.8 4.8 1.5 .2 .8-4.8zM367.7 314.5l-.9 4.9 1.5 .3 .9-5zM352 315.5l-.9 4.6 1.5 .3 .9-4.6zM355.5 316.1l-.9 4.7 1.5 .3 .9-4.7zM357.8 316.5l-.9 4.7 1.5 .3 .9-4.7zM315.5 311.9l-.8 3.7 1.5 .4 .8-3.8zM215.6 335.8l-1.3 1.3 1.1 1.1 1.3-1.4z"/><path fill="#ff2200" d="M373.3 266l.3 5.1 1.5-.1-.3-5.1zM360.6 270.4l.2 4.8 1.5 0-.2-4.8zM364.1 270.3l.2 4.8 2.7 0-.2-5zM353.7 274.2l.1 4.7 1.5 0-.1-4.7zM357.2 274.1l.1 4.7 1.6 0-.2-4.7zM349.1 277.8l0 4.5 1.5 0 0-4.6zM375 281.1l0 5.1 1.5 .1 0-5.2zM338.5 284.3l-.2 4.3 2.7 .1 .2-4.4zM371.4 284.9l-.1 5 1.5 .1 .2-5.1zM373.8 284.9l-.1 5.1 1.5 .1 .1-5.2zM337.2 287.4l-.2 4.2 1.5 .1 .2-4.2zM369 288.5l-.2 5 2.7 .2 .2-5.1zM340.6 290.7l-.3 4.4 1.5 .1 .3-4.4zM362.9 291.9l-.3 4.9 1.6 .1 .3-4.9zM365.3 292l-.3 4.9 1.5 .1 .3-4.9zM370 292.3l-.3 5 1.5 .1 .3-5zM339.2 293.9l-.3 4.2 1.5 .2 .3-4.3zM339 297l-.5 4.3 1.6 .2 .4-4.3zM342.5 297.3l-.4 4.4 1.5 .2 .4-4.4zM360.1 298.9l-.5 4.8 2.7 .3 .5-4.9zM366 299.4l-.5 4.9 1.5 .2 .5-5zM341 300.4l-.5 4.4 1.5 .2 .5-4.4zM343.3 300.7l-.5 4.4 2.7 .3 .5-4.4zM368 303.3l-.6 4.9 2.7 .4 .6-5zM340.6 303.7l-.5 4.3 1.5 .2 .6-4.4zM346.1 307.7l-.7 4.4 1.5 .3 .7-4.5zM348.4 308l-.7 4.5 1.5 .3 .7-4.6zM345.6 311l-.8 4.4 1.5 .3 .8-4.5zM347.9 311.3l-.8 4.5 1.5 .3 .8-4.5zM365.3 314.1l-.8 4.9 2.7 .5 .8-5zM353.1 315.7l-.8 4.6 1.5 .3 .8-4.6zM314.9 314.7l-.8 3.7 1.5 .3 .8-3.7zM336.6 372.6l-2.3 4.2 1.4 .7 2.2-4.2z"/><path fill="#ff1600" d="M364.8 262.9l.4 4.9 1.5-.1-.4-4.9zM362.9 270.3l.2 4.9 1.6-.1-.2-4.9zM352.5 274.3l.1 4.6 1.5 0-.1-4.7zM364.3 273.9l.1 4.9 1.5-.1-.1-4.9zM373.7 273.5l.1 5.1 1.6 0-.2-5.1zM376.1 273.5l.1 5.1 1.5 0-.1-5.2zM339.6 277.9l.1 4.3 2.7 0-.1-4.3zM350.2 277.7l.1 4.6 1.5 0 0-4.6zM352.6 277.7l0 4.6 1.6 0-.1-4.6zM378.5 277.2l0 5.3 1.6 0-.1-5.3zM352.6 281.1l0 4.6 1.5 .1 .1-4.7zM338.4 287.4l-.2 4.3 2.7 .2 .2-4.4zM358.2 291.7l-.3 4.7 1.6 .1 .3-4.8zM364.1 292l-.3 4.8 1.5 .2 .4-5zM340.4 293.9l-.4 4.4 1.6 .1 .3-4.4zM360.4 295.3l-.4 4.8 1.5 .2 .4-4.9zM365.1 295.7l-.4 4.9 1.5 .1 .4-4.9zM367.4 295.8l-.4 5 1.6 .1 .4-5zM362.4 299.1l-.4 4.8 1.5 .2 .5-4.9zM369.5 299.7l-.5 5 1.5 .2 .5-5.1zM343 303.9l-.6 4.4 3.8 .6 .6-4.5zM342.6 307.2l-.7 4.4 1.5 .2 .7-4.4zM354.9 312.5l-.8 4.6 1.5 .3 .8-4.7zM363 313.7l-.8 4.9 1.5 .3 .8-4.9zM350.8 315.3l-.8 4.5 1.5 .3 .8-4.5zM354.3 315.9l-.9 4.6 1.5 .3 .9-4.6zM362.4 317.3l-.9 4.9 1.5 .3 .9-4.9zM314.3 311.7l-.7 3.7 1.5 .3 .7-3.7zM312.6 314.2l-.8 3.6 1.5 .4 .8-3.7zM347.1 357.9l-1.8 4.5 1.4 .6 1.8-4.5zM340.2 370.5l-2.1 4.3 1.3 .7 2.2-4.3zM339.7 374.2l-2.2 4.3 1.3 .7 2.3-4.3z"/><path fill="#ff0900" d="M363.9 266.6l.3 4.9 1.5-.1-.3-4.9zM361.8 270.4l.2 4.8 1.5 0-.2-4.9zM375.9 269.6l.2 5.2 1.5 0-.2-5.2zM356 274.2l.1 4.7 1.6-.1-.1-4.7zM379.6 273.3l.1 5.3 1.5 0-.1-5.3zM347.9 277.8l0 4.5 1.5 0 0-4.5zM353.8 277.7l0 4.6 1.5 0 0-4.7zM351.4 281.1l0 4.6 1.5 0 .1-4.6zM373.8 281.1l0 5.1 1.5 .1 .1-5.2zM343.7 307.4l-.7 4.3 1.6 .3 .6-4.4zM359.5 313.2l-.8 4.8 1.5 .2 .8-4.8zM361.9 313.6l-.9 4.8 1.5 .2 .9-4.8zM360.1 316.9l-.9 4.8 1.5 .3 .9-4.8zM313.8 314.4l-.9 3.7 1.5 .4 .9-3.7zM341.3 371l-2.2 4.3 1.4 .7 2.2-4.3zM343.4 372l-2.2 4.4 1.4 .7 2.2-4.4zM335.5 372.1l-2.2 4.1 1.4 .8 2.2-4.2z"/><path fill="#ff002e" d="M361.6 266.8l.2 4.8 1.6 0-.3-4.9zM353.7 312.3l-.8 4.6 1.5 .3 .8-4.7zM356.6 316.3l-.9 4.7 1.5 .3 .9-4.7zM337.1 368.9l-2.2 4.3 1.4 .7 2.1-4.3zM333.4 371l-2.2 4.1 1.4 .8 2.2-4.2z"/><path fill="#ff005c" d="M341.8 290.8l-.3 4.3 1.5 .2 .3-4.4z"/><path fill="#ff0089" d="M372.6 277.3l.1 5.1 1.5 0 0-5.1zM358.5 281.1l0 4.8 1.5 0 0-4.8zM366.7 284.8l-.1 4.9 1.5 .1 .2-5zM348.8 304.7l-.6 4.5 1.5 .2 .6-4.5zM358.9 309.5l-.7 4.7 1.5 .3 .7-4.8z"/><path fill="#ff00b7" d="M366.5 270.1l.2 5 1.5-.1-.2-4.9zM340.8 281.1l0 4.3 1.5 .1 .1-4.4zM362 284.7l-.1 4.8 1.5 .1 .2-4.9zM353.7 288l-.2 4.6 1.5 .1 .2-4.7zM343.9 294.2l-.3 4.4 1.5 .1 .3-4.4zM358.9 298.8l-.4 4.7 1.5 .2 .4-4.8zM364 306.5l-.6 4.9 1.5 .2 .7-4.9zM367.5 307l-.6 4.9 1.5 .2 .7-5zM338.7 373.7l-2.3 4.2 1.4 .8 2.2-4.3z"/><path fill="#ff00e5" d="M372.1 266.1l.3 5 1.6 0-.3-5.1zM361.9 274l.1 4.8 1.6 0-.1-4.9zM367.8 273.7l.1 5 1.6 0-.2-5zM374.9 273.5l.1 5.1 1.5 0-.1-5.2zM344.3 277.8l.1 4.5 1.5 0 0-4.5zM364.4 277.5l0 4.9 1.5 0 0-4.9zM369.1 277.4l0 5 1.6 0-.1-5zM350.3 281.1l-.1 4.6 1.5 0 .1-4.6zM359.7 281.1l-.1 4.8 1.6 0 0-4.8zM367.9 281.1l0 5 1.5 0 .1-5zM349.1 284.5l-.2 4.5 1.6 0 .1-4.5zM357.3 284.6l-.1 4.7 1.5 .1 .1-4.8zM364.4 284.7l-.2 4.9 1.6 .1 .1-4.9zM341.9 287.6l-.2 4.3 1.5 .1 .2-4.4zM358.4 288.1l-.2 4.8 1.5 .1 .2-4.8zM357.1 291.6l-.3 4.7 1.5 .1 .3-4.7zM342.7 294.1l-.3 4.4 1.5 .1 .4-4.4zM344.8 297.5l-.4 4.5 1.5 .1 .5-4.4zM358.6 302.3l-.6 4.7 1.5 .2 .6-4.7zM364.4 302.9l-.5 4.9 1.5 .2 .6-4.9zM350 304.8l-.6 4.5 1.5 .3 .6-4.6zM361.7 306.2l-.7 4.9 1.6 .2 .6-4.9zM368.7 307.1l-.7 5 1.6 .2 .6-5zM353.1 308.7l-.8 4.6 1.6 .2 .7-4.6zM365.9 310.5l-.8 4.9 1.6 .2 .7-4.9zM342.4 371.5l-2.2 4.4 1.3 .7 2.2-4.4z"/><path fill="#f505fd" d="M366.3 266.5l.2 4.9 3.9-.2-.3-5zM360.7 274l.2 4.8 1.5 0-.1-4.9zM363.1 273.9l.1 4.9 1.5 0-.1-4.9zM366.6 273.8l.2 4.9 1.5 0-.1-5zM370.2 273.7l.1 5 1.5 0-.1-5.1zM342 277.9l0 4.3 1.5 0 0-4.3zM346.7 277.8l0 4.5 1.6 0-.1-4.5zM355 277.7l0 4.6 1.5 0 0-4.7zM365.6 277.5l0 4.9 1.5 0 0-5zM367.9 277.4l0 5 1.6 0-.1-5zM347.9 281.1l0 4.5 1.5 0 0-4.5zM340.8 284.3l-.1 4.3 1.5 .1 .1-4.4zM355 284.6l-.2 4.6 1.5 .1 .2-4.7zM369.1 284.8l-.2 5 2.8 .1 .1-5zM354.9 288l-.3 4.7 1.6 .1 .2-4.7zM364.3 288.3l-.2 4.9 1.5 .1 .2-4.9zM342.9 290.9l-.2 4.3 2.7 .2 .2-4.4zM355.9 291.5l-.3 4.7 1.5 .1 .3-4.7zM355.7 295l-.4 4.7 1.5 .1 .4-4.7zM346.9 301.1l-.6 4.4 1.6 .2 .5-4.5zM359.8 302.4l-.6 4.8 3.9 .5 .5-4.9zM359.4 306l-.7 4.7 2.7 .4 .6-4.8zM362.9 306.4l-.7 4.8 1.5 .3 .7-4.9zM365.2 306.7l-.7 4.9 1.6 .2 .6-4.9zM350.7 308.3l-.7 4.6 1.5 .2 .7-4.6zM363.6 310.1l-.8 4.9 1.5 .2 .8-4.8zM368.2 310.8l-.7 5 1.5 .2 .7-5zM357.2 312.8l-.8 4.7 1.5 .3 .8-4.7z"/><path fill="#e30eff" d="M365.5 273.8l.1 4.9 1.5 0-.1-4.9zM345.5 277.8l0 4.5 1.6 0 0-4.5zM356.1 277.6l.1 4.7 2.7 0-.1-4.7zM349.1 281.1l-.1 4.5 1.6 .1 0-4.6zM353.8 281.1l-.1 4.6 1.6 .1 0-4.7zM360.9 281.1l-.1 4.8 1.5 0 .1-4.8zM365.6 281.1l-.1 4.9 1.6 .1 0-5zM359.7 284.6l-.2 4.8 1.6 .1 .1-4.8zM365.6 284.7l-.2 5 1.5 0 .2-4.9zM367.9 284.8l-.1 5 1.5 0 .1-5zM357.2 288.1l-.2 4.7 1.5 .1 .2-4.7zM359.6 288.2l-.3 4.8 1.6 0 .2-4.8zM361.9 288.3l-.2 4.8 2.7 .2 .2-4.9zM365.5 288.4l-.3 4.9 1.6 .1 .2-5zM367.8 288.5l-.2 4.9 1.5 .1 .2-5zM353.5 291.4l-.3 4.6 1.6 .2 .3-4.7zM356.8 295.1l-.3 4.7 1.5 .1 .4-4.7zM347.2 297.7l-.5 4.5 1.6 .2 .4-4.5zM357.7 298.7l-.4 4.7 1.5 .2 .5-4.8zM363.3 302.8l-.6 4.8 1.5 .2 .6-4.8zM365.6 303l-.6 4.9 1.6 .2 .5-4.9zM358.2 305.8l-.7 4.7 1.6 .3 .6-4.8zM354.2 308.8l-.7 4.7 1.5 .2 .7-4.7zM356.6 309.2l-.8 4.6 2.7 .5 .7-4.8zM360.1 309.6l-.8 4.8 1.5 .3 .8-4.8zM362.4 310l-.7 4.8 1.5 .3 .7-4.9zM367.1 310.6l-.8 5 1.5 .2 .8-5zM356 312.6l-.8 4.7 1.5 .3 .8-4.7zM334.5 371.5l-2.2 4.2 1.3 .7 2.2-4.2z"/><path fill="#d117ff" d="M369.8 266.2l.3 5 2.7-.1-.3-5.1zM368.8 270l.2 5 5.1-.1-.2-5.2zM369 273.7l.1 5 1.5 0-.1-5zM370.3 277.4l0 5 1.5 0 0-5zM342 281.1l0 4.4 1.5 0 0-4.4zM346.7 281.1l0 4.5 1.5 0 .1-4.5zM356.2 281.1l-.1 4.7 1.5 0 .1-4.7zM363.2 281.1l0 4.9 2.7 0 0-4.9zM366.8 281.1l-.1 5 1.5 0 .1-5zM353.8 284.5l-.2 4.7 1.6 0 .1-4.6zM356.1 284.6l-.1 4.7 1.5 0 .2-4.7zM366.6 288.4l-.2 5 1.5 .1 .3-5zM358 295.2l-.4 4.7 1.6 .1 .4-4.7zM366.4 306.8l-.7 4.9 1.5 .3 .7-5zM355.4 309l-.7 4.7 1.5 .2 .7-4.7zM361.2 309.8l-.7 4.8 1.5 .3 .7-4.9zM364.7 310.3l-.7 4.9 1.5 .2 .7-4.9z"/><path fill="#c020ff" d="M367.7 270.1l.2 4.9 1.5 0-.2-5zM359.6 274l.1 4.8 1.5 0-.1-4.8zM371.3 273.6l.2 5.1 2.7-.1-.1-5.1zM343.2 277.9l0 4.3 1.5 .1 0-4.5zM371.4 277.4l.1 5 1.5 0 0-5.1zM339.7 281.1l-.1 4.3 1.5 0 .1-4.3zM369.1 281.1l0 5 1.5 0 .1-5zM351.4 284.5l-.1 4.6 2.7 .1 .1-4.6zM356 288.1l-.2 4.6 1.5 .1 .3-4.7zM360.7 288.2l-.2 4.8 1.6 .1 .2-4.8zM354.7 291.5l-.3 4.6 1.5 .1 .3-4.6zM348 301.2l-.5 4.5 1.5 .2 .6-4.6zM369.4 311l-.8 5 1.5 .2 .8-5zM358.4 313l-.8 4.7 1.5 .3 .8-4.8z"/><path fill="#ae29ff" d="M366.7 277.4l.1 5 1.5 0 0-5zM350.2 284.5l-.1 4.5 1.5 .1 .2-4.6zM359.2 295.2l-.4 4.8 1.5 .2 .4-4.8zM351.9 308.5l-.7 4.6 1.5 .2 .7-4.6z"/><path fill="#a135fd" d="M355 281.1l-.1 4.7 1.6 0 0-4.7zM370.3 281.1l-.1 5 2.8 .1 0-5.1z"/><path fill="#b044fa" d="M346.5 291l-.3 4.5 1.5 .1 .3-4.5z"/><path fill="#bf53f7" d="M362.1 281.1l-.1 4.8 1.5 .1 .1-4.9zM353.9 301.8l-.5 4.6 1.5 .2 .5-4.6z"/><path fill="#ce63f4" d="M358.5 277.6l0 4.7 1.5 0 0-4.7zM351.3 287.9l-.2 4.6 1.5 .1 .3-4.7zM348.4 297.9l-.5 4.5 1.5 .1 .5-4.5z"/><path fill="#de72f1" d="M363.2 277.5l0 4.9 1.6 0-.1-4.9zM347.9 284.4l-.2 4.5 1.6 .1 .1-4.5zM351.9 298.2l-.5 4.5 1.5 .2 .5-4.6zM350.4 301.4l-.6 4.6 1.6 .2 .5-4.6zM353.5 305.2l-.6 4.7 1.5 .2 .6-4.7z"/><path fill="#ec81ee" d="M360.8 277.6l.1 4.8 1.5 0 0-4.9zM344.4 281.1l-.1 4.4 1.6 .1 0-4.5zM357.3 281.1l0 4.7 1.5 .1 .1-4.8zM344.3 284.4l-.1 4.4 1.5 .1 .2-4.5zM349 287.8l-.2 4.5 2.7 .2 .2-4.6zM349.5 298l-.4 4.5 1.5 .2 .5-4.6zM354.2 298.4l-.4 4.6 1.5 .2 .5-4.7zM357.4 302.2l-.5 4.7 1.5 .2 .5-4.8zM357 305.7l-.6 4.7 1.5 .2 .6-4.7z"/><path fill="#ee8df0" d="M359.7 277.6l0 4.7 1.5 .1 0-4.9zM343.2 284.4l-.2 4.3 1.6 .1 .1-4.4zM346.7 284.4l-.1 4.5 1.5 .1 .1-4.6zM343.1 287.6l-.2 4.4 1.5 .1 .2-4.4zM346.6 287.7l-.2 4.5 2.7 .2 .2-4.6zM348.8 291.2l-.3 4.5 2.7 .2 .3-4.6zM346.3 294.3l-.4 4.5 1.5 .1 .4-4.4zM350.7 298.1l-.4 4.5 1.5 .2 .4-4.6zM352.3 305.1l-.6 4.6 1.5 .2 .7-4.6z"/><path fill="#ef99f1" d="M342 284.3l-.1 4.4 1.5 .1 .1-4.4zM360.8 284.7l-.1 4.8 1.5 0 .2-4.8zM363.2 284.7l-.1 4.9 1.5 0 .1-4.9zM352.5 287.9l-.2 4.6 1.5 .1 .2-4.6zM348.6 294.5l-.3 4.5 5 .5 .4-4.6zM354.7 305.4l-.7 4.6 1.6 .3 .6-4.7z"/><path fill="#f1a4f3" d="M362 277.5l0 4.9 1.6 0 0-4.9zM343.2 281.1l-.1 4.4 1.6 0 0-4.4zM358.5 284.6l-.2 4.8 1.6 0 .1-4.7zM351.2 291.3l-.3 4.6 1.5 .1 .3-4.6zM355.4 298.5l-.5 4.6 2.7 .3 .5-4.7zM349.2 301.3l-.5 4.5 1.5 .2 .5-4.5zM352.7 301.7l-.5 4.6 1.5 .2 .5-4.7zM355.1 301.9l-.6 4.7 1.5 .2 .6-4.7zM351.2 305l-.7 4.5 1.6 .2 .6-4.6zM355.8 305.5l-.6 4.7 1.5 .2 .7-4.7z"/><path fill="#f3b0f5" d="M345.1 294.3l-.4 4.4 1.6 .1 .3-4.4zM353.3 294.8l-.4 4.7 1.6 .1 .4-4.7zM353.1 298.3l-.5 4.6 1.5 .1 .5-4.6zM356.2 302.1l-.5 4.6 1.5 .2 .6-4.7z"/><path fill="#f5bcf6" d="M345.6 281.1l-.1 4.5 1.5 0 .1-4.5zM345.5 284.4l-.1 4.4 1.5 .1 .2-4.5zM345.4 287.7l-.2 4.4 1.6 .1 .2-4.5zM345.3 291l-.3 4.4 1.5 .1 .3-4.4zM347.6 291.1l-.2 4.5 1.5 .1 .3-4.5zM347.4 294.4l-.3 4.5 1.5 .2 .4-4.6zM354.5 294.9l-.4 4.7 1.5 .1 .4-4.7zM351.6 301.6l-.6 4.5 1.5 .2 .6-4.6z"/><path fill="#f7c8f8" d="M352.4 291.3l-.3 4.6 1.5 .2 .3-4.7z"/><path fill="#f9d4f9" d="M344.3 287.6l-.2 4.5 1.5 0 .2-4.4z"/><path fill="#fae0fb" d="M346 297.6l-.4 4.5 1.5 .2 .4-4.5z"/></g></g><path d="M179.21 258.89A31.43 31.43 0 0 1 174.57 307.16M206.99 231.11A70.71 70.71 0 0 1 196.53 339.73M234.77 203.33A109.99 109.99 0 0 1 218.5 372.3M262.55 175.55A149.28 149.28 0 0 1 240.47 404.87M290.32 147.78A188.56 188.56 0 0 1 262.43 437.43M156.99 281.11L354.31 167.19M156.99 281.11L377.07 222.14M156.99 281.11L384.84 281.11M156.99 281.11L377.07 340.08M156.99 281.11L354.31 395.03M156.99 281.11L318.1 442.22" stroke="#b0b0b0" stroke-width="1.11" fill="none"/><path d="M156.99 281.11L318.1 120A227.84 227.84 0 0 1 284.4 470Z" stroke="#000" stroke-width="1.11" fill="none" stroke-linejoin="miter"/><g shape-rendering="crispEdges"><rect x="470.25" y="466.5" width="17.5" height="3.5" fill="#000080"/><rect x="470.25" y="463" width="17.5" height="3.5" fill="#001368"/><rect x="470.25" y="459.5" width="17.5" height="3.5" fill="#002650"/><rect x="470.25" y="456" width="17.5" height="3.5" fill="#003837"/><rect x="470.25" y="452.5" width="17.5" height="3.5" fill="#004b1f"/><rect x="470.25" y="449" width="17.5" height="3.5" fill="#005e07"/><rect x="470.25" y="445.5" width="17.5" height="3.5" fill="#004e2e"/><rect x="470.25" y="442" width="17.5" height="3.5" fill="#003d59"/><rect x="470.25" y="438.5" width="17.5" height="3.5" fill="#002b84"/><rect x="470.25" y="435" width="17.5" height="3.5" fill="#001aaf"/><rect x="470.25" y="431.5" width="17.5" height="3.5" fill="#0008da"/><rect x="470.25" y="428" width="17.5" height="3.5" fill="#0013ff"/><rect x="470.25" y="424.5" width="17.5" height="3.5" fill="#0037ff"/><rect x="470.25" y="421" width="17.5" height="3.5" fill="#005cff"/><rect x="470.25" y="417.5" width="17.5" height="3.5" fill="#0080ff"/><rect x="470.25" y="414" width="17.5" height="3.5" fill="#00a4ff"/><rect x="470.25" y="410.5" width="17.5" height="3.5" fill="#00c1ff"/><rect x="470.25" y="407" width="17.5" height="3.5" fill="#00ceff"/><rect x="470.25" y="403.5" width="17.5" height="3.5" fill="#00d9ff"/><rect x="470.25" y="400" width="17.5" height="3.5" fill="#00e4ff"/><rect x="470.25" y="396.5" width="17.5" height="3.5" fill="#00f0ff"/><rect x="470.25" y="393" width="17.5" height="3.5" fill="#00fbf1"/><rect x="470.25" y="389.5" width="17.5" height="3.5" fill="#00fee0"/><rect x="470.25" y="386" width="17.5" height="3.5" fill="#00fdcf"/><rect x="470.25" y="382.5" width="17.5" height="3.5" fill="#00fcbf"/><rect x="470.25" y="379" width="17.5" height="3.5" fill="#00fbae"/><rect x="470.25" y="375.5" width="17.5" height="3.5" fill="#00fa9d"/><rect x="470.25" y="372" width="17.5" height="3.5" fill="#00fa82"/><rect x="470.25" y="368.5" width="17.5" height="3.5" fill="#00fb67"/><rect x="470.25" y="365" width="17.5" height="3.5" fill="#00fc4c"/><rect x="470.25" y="361.5" width="17.5" height="3.5" fill="#00fd31"/><rect x="470.25" y="358" width="17.5" height="3.5" fill="#05ff17"/><rect x="470.25" y="354.5" width="17.5" height="3.5" fill="#16fa00"/><rect x="470.25" y="351" width="17.5" height="3.5" fill="#26f000"/><rect x="470.25" y="347.5" width="17.5" height="3.5" fill="#37e600"/><rect x="470.25" y="344" width="17.5" height="3.5" fill="#47dd00"/><rect x="470.25" y="340.5" width="17.5" height="3.5" fill="#57d300"/><rect x="470.25" y="337" width="17.5" height="3.5" fill="#66d200"/><rect x="470.25" y="333.5" width="17.5" height="3.5" fill="#6cdb00"/><rect x="470.25" y="330" width="17.5" height="3.5" fill="#71e300"/><rect x="470.25" y="326.5" width="17.5" height="3.5" fill="#76ec00"/><rect x="470.25" y="323" width="17.5" height="3.5" fill="#7bf400"/><rect x="470.25" y="319.5" width="17.5" height="3.5" fill="#80fc09"/><rect x="470.25" y="316" width="17.5" height="3.5" fill="#8cff13"/><rect x="470.25" y="312.5" width="17.5" height="3.5" fill="#98ff1d"/><rect x="470.25" y="309" width="17.5" height="3.5" fill="#a4ff27"/><rect x="470.25" y="305.5" width="17.5" height="3.5" fill="#afff32"/><rect x="470.25" y="302" width="17.5" height="3.5" fill="#bbff3b"/><rect x="470.25" y="298.5" width="17.5" height="3.5" fill="#c7ff31"/><rect x="470.25" y="295" width="17.5" height="3.5" fill="#d2ff27"/><rect x="470.25" y="291.5" width="17.5" height="3.5" fill="#deff1d"/><rect x="470.25" y="288" width="17.5" height="3.5" fill="#eaff12"/><rect x="470.25" y="284.5" width="17.5" height="3.5" fill="#f6fd08"/><rect x="470.25" y="281" width="17.5" height="3.5" fill="#fff600"/><rect x="470.25" y="277.5" width="17.5" height="3.5" fill="#fff000"/><rect x="470.25" y="274" width="17.5" height="3.5" fill="#ffea00"/><rect x="470.25" y="270.5" width="17.5" height="3.5" fill="#ffe300"/><rect x="470.25" y="267" width="17.5" height="3.5" fill="#ffdd00"/><rect x="470.25" y="263.5" width="17.5" height="3.5" fill="#ffd701"/><rect x="470.25" y="260" width="17.5" height="3.5" fill="#ffd004"/><rect x="470.25" y="256.5" width="17.5" height="3.5" fill="#ffca07"/><rect x="470.25" y="253" width="17.5" height="3.5" fill="#ffc40a"/><rect x="470.25" y="249.5" width="17.5" height="3.5" fill="#ffbd0d"/><rect x="470.25" y="246" width="17.5" height="3.5" fill="#ffb00d"/><rect x="470.25" y="242.5" width="17.5" height="3.5" fill="#ff9a0a"/><rect x="470.25" y="239" width="17.5" height="3.5" fill="#ff8508"/><rect x="470.25" y="235.5" width="17.5" height="3.5" fill="#ff7006"/><rect x="470.25" y="232" width="17.5" height="3.5" fill="#ff5b03"/><rect x="470.25" y="228.5" width="17.5" height="3.5" fill="#ff4701"/><rect x="470.25" y="225" width="17.5" height="3.5" fill="#ff3a00"/><rect x="470.25" y="221.5" width="17.5" height="3.5" fill="#ff2e00"/><rect x="470.25" y="218" width="17.5" height="3.5" fill="#ff2200"/><rect x="470.25" y="214.5" width="17.5" height="3.5" fill="#ff1600"/><rect x="470.25" y="211" width="17.5" height="3.5" fill="#ff0900"/><rect x="470.25" y="207.5" width="17.5" height="3.5" fill="#ff002e"/><rect x="470.25" y="204" width="17.5" height="3.5" fill="#ff005c"/><rect x="470.25" y="200.5" width="17.5" height="3.5" fill="#ff0089"/><rect x="470.25" y="197" width="17.5" height="3.5" fill="#ff00b7"/><rect x="470.25" y="193.5" width="17.5" height="3.5" fill="#ff00e5"/><rect x="470.25" y="190" width="17.5" height="3.5" fill="#f505fd"/><rect x="470.25" y="186.5" width="17.5" height="3.5" fill="#e30eff"/><rect x="470.25" y="183" width="17.5" height="3.5" fill="#d117ff"/><rect x="470.25" y="179.5" width="17.5" height="3.5" fill="#c020ff"/><rect x="470.25" y="176" width="17.5" height="3.5" fill="#ae29ff"/><rect x="470.25" y="172.5" width="17.5" height="3.5" fill="#a135fd"/><rect x="470.25" y="169" width="17.5" height="3.5" fill="#b044fa"/><rect x="470.25" y="165.5" width="17.5" height="3.5" fill="#bf53f7"/><rect x="470.25" y="162" width="17.5" height="3.5" fill="#ce63f4"/><rect x="470.25" y="158.5" width="17.5" height="3.5" fill="#de72f1"/><rect x="470.25" y="155" width="17.5" height="3.5" fill="#ec81ee"/><rect x="470.25" y="151.5" width="17.5" height="3.5" fill="#ee8df0"/><rect x="470.25" y="148" width="17.5" height="3.5" fill="#ef99f1"/><rect x="470.25" y="144.5" width="17.5" height="3.5" fill="#f1a4f3"/><rect x="470.25" y="141" width="17.5" height="3.5" fill="#f3b0f5"/><rect x="470.25" y="137.5" width="17.5" height="3.5" fill="#f5bcf6"/><rect x="470.25" y="134" width="17.5" height="3.5" fill="#f7c8f8"/><rect x="470.25" y="130.5" width="17.5" height="3.5" fill="#f9d4f9"/><rect x="470.25" y="127" width="17.5" height="3.5" fill="#fae0fb"/><rect x="470.25" y="123.5" width="17.5" height="3.5" fill="#fcecfc"/><rect x="470.25" y="120" width="17.5" height="3.5" fill="#fef8fe"/></g><rect x="470.5" y="120.5" width="18" height="350" fill="none" stroke="#000" stroke-width="1.11"/><path d="M488.5 470.5h4.86M488.5 435.5h4.86M488.5 400.5h4.86M488.5 365.5h4.86M488.5 330.5h4.86M488.5 295.5h4.86M488.5 260.5h4.86M488.5 225.5h4.86M488.5 190.5h4.86M488.5 155.5h4.86M488.5 120.5h4.86" stroke="#000" stroke-width="1.11" fill="none"/><defs><clipPath id="w1"><path d="M156.99 701.11L318.1 540A227.84 227.84 0 0 1 284.4 890Z"/></clipPath></defs><g clip-path="url(#w1)"><g shape-rendering="crispEdges"><path fill="#0037ff" d="M326.2 629.3l1.7 4 1.4-.6-1.7-4z"/><path fill="#0080ff" d="M301.1 645.8l1.3 3.4 1.4-.5-1.2-3.5z"/><path fill="#00a4ff" d="M295.8 642.2l1.4 3.3 1.4-.6-1.3-3.3zM323 630.7l1.6 3.9 2.5-1-1.6-4zM296.9 644.6l1.2 3.3 1.5-.5-1.3-3.4z"/><path fill="#00c1ff" d="M298 641.2l1.4 3.4 1.4-.6-1.4-3.4zM325.1 629.7l1.7 4 1.4-.5-1.7-4.1zM306.7 640.6l1.4 3.6 1.4-.6-1.4-3.5z"/><path fill="#00ceff" d="M310 639.3l1.4 3.6 1.4-.5-1.4-3.7zM312.2 638.4l1.4 3.7 1.4-.5-1.4-3.8z"/><path fill="#00d9ff" d="M299 643.7l1.4 3.4 1.4-.6-1.3-3.4zM304.5 641.5l1.4 3.5 1.4-.5-1.4-3.6z"/><path fill="#00e4ff" d="M299.1 640.8l1.4 3.4 1.4-.6-1.4-3.4zM327.3 628.8l1.7 4 1.4-.5-1.7-4.1zM297.9 644.2l1.4 3.3 1.4-.5-1.3-3.4zM308.9 639.7l1.4 3.6 1.4-.5-1.4-3.6z"/><path fill="#00f0ff" d="M303.3 644.9l1.3 3.5 1.4-.5-1.2-3.5z"/><path fill="#00fbf1" d="M303.4 642l1.4 3.4 1.4-.5-1.4-3.5zM305.6 641.1l1.4 3.5 1.4-.6-1.4-3.5z"/><path fill="#00fee0" d="M307.8 640.2l1.4 3.6 1.4-.6-1.4-3.6z"/><path fill="#00fdcf" d="M300.1 643.3l1.4 3.4 1.4-.6-1.3-3.4z"/><path fill="#00fbae" d="M296.9 641.7l1.4 3.3 1.4-.5-1.4-3.4z"/><path fill="#00fb67" d="M319.8 760.4l-1.5 3.8 1.5 .5 1.4-3.8z"/><path fill="#00fc4c" d="M325.3 736.9l-.9 3.9 1.5 .4 .9-4z"/><path fill="#00fd31" d="M326.4 731l-.7 4 1.5 .3 .7-4zM322.3 739.3l-.9 3.9 1.5 .3 .9-3.9zM323.9 742.7l-1 4 1.5 .4 1-4zM319.5 753.9l-1.3 3.8 1.5 .5 1.3-3.8zM319.7 757.1l-1.4 3.8 1.5 .6 1.3-3.9zM318.7 763.2l-1.5 3.8 1.4 .6 1.6-3.9z"/><path fill="#05ff17" d="M325.9 733.9l-.8 4 1.5 .3 .8-4zM323.2 745.6l-1.1 3.9 2.6 .8 1.1-4zM323.5 748.9l-1.2 3.9 1.5 .4 1.2-3.9zM320.6 754.3l-1.3 3.8 1.5 .5 1.3-3.8zM321.9 757.9l-1.4 3.9 1.5 .5 1.4-3.9z"/><path fill="#16fa00" d="M327.6 731.2l-.8 4 1.5 .3 .8-4zM323 736.4l-.9 3.9 1.5 .3 .9-3.9zM322.1 745.3l-1.1 3.9 1.4 .4 1.1-3.9zM320.9 760.8l-1.5 3.8 1.5 .6 1.4-3.9z"/><path fill="#26f000" d="M324.1 736.6l-.8 4 1.4 .3 .9-3.9zM324.6 739.8l-.9 4 1.5 .3 .9-3.9zM321.7 742.2l-1.1 3.8 1.5 .4 1-3.9zM320.4 751.1l-1.2 3.8 2.6 .9 1.2-3.9zM321.8 754.6l-1.4 3.9 1.5 .5 1.3-3.9zM320.8 757.5l-1.4 3.9 1.5 .5 1.3-3.9z"/><path fill="#37e600" d="M326.4 737.1l-.8 4 1.4 .4 .9-4.1z"/><path fill="#57d300" d="M209.6 672l.6 1.2 1.4-.7-.7-1.3zM327 734.2l-.8 4 1.5 .3 .9-4zM157 701.1l0 0 1.4 .7 0 0z"/><path fill="#6cdb00" d="M249.7 766l-1.6 2.2 1.2 .9 1.6-2.2z"/><path fill="#71e300" d="M158.2 701.1l0 0 1.5 0 0 0zM179.4 714.1l-.3 .5 1.3 .8 .4-.6z"/><path fill="#76ec00" d="M340.3 778.9l-1.9 4.3 1.4 .7 1.9-4.4zM299.9 783.6l-2 3.3 1.3 .8 2-3.3zM175.7 717.3l-.4 .5 1.1 1 .4-.4zM181.2 725.3l-.6 .5 1 1.1 .6-.5zM198 748.2l-1.2 1 1 1.2 1.2-1z"/><path fill="#7bf400" d="M220.5 667.4l.7 1.5 1.4-.7-.8-1.6zM172.5 695.5l.1 .3 1.5-.5-.2-.4zM170.6 697.2l.1 .3 1.5-.4-.1-.3zM171 699.1l0 .4 1.6-.2-.1-.4zM164.8 703.8l-.1 .2 1.5 .5 0-.2zM334.6 780.2l-1.9 4.2 1.4 .6 1.9-4.2zM330.9 809.8l-2.6 4 1.3 .9 2.6-4.1zM224.2 744.8l-1 1.5 1.2 .9 1.1-1.6zM240 770.8l-1.6 1.9 1.1 1.1 1.7-2zM215.7 752.1l-1.2 1.4 1.1 1 1.3-1.4zM263 796.5l-2.3 2.5 1.1 1 2.3-2.4zM205.3 751.1l-1.2 1.2 1 1.1 1.3-1.2zM162.4 707.3l-.1 .2 .9 1.1 .2-.1z"/><path fill="#80fc09" d="M212.7 670.3l.7 1.3 1.3-.7-.7-1.4zM166.6 696.6l.1 .3 1.4-.7-.1-.2zM181.4 696.8l.1 .6 1.5-.2-.1-.7zM173.3 703.4l0 .4 1.5 .2 0-.4zM330.7 785.8l-2 4.1 1.3 .7 2.1-4.1zM315.1 803.8l-2.4 3.7 1.2 .9 2.5-3.8zM270.3 777.6l-1.8 2.6 1.2 .9 1.9-2.7zM196.1 735.1l-.8 .9 1.1 1.1 .9-1zM206.1 746.9l-1.1 1.2 1.1 1 1.1-1.1zM301.1 850.3l-3.6 3.4 1.1 1.1 3.5-3.4z"/><path fill="#8cff13" d="M166 698.2l0 .2 1.5-.4-.1-.3zM310.5 717.2l-.4 3.7 1.5 .2 .5-3.7zM164 702.3l-.1 .2 1.5 .3 .1-.2zM337.5 785.3l-2 4.2 1.3 .7 2.1-4.3zM332.2 798.2l-2.3 4.1 1.3 .8 2.4-4.1zM328.5 800.1l-2.4 4 1.3 .8 2.4-4zM170.1 709l-.2 .3 1.3 .8 .2-.3zM165.2 709.6l-.2 .2 1 1.1 .2-.2zM193.2 739.9l-1 .8 1.1 1.2 .9-.9zM197.2 744.2l-1 .9 1 1.2 1-1zM207.6 755.4l-1.3 1.2 1.1 1.1 1.3-1.2zM182.2 729.1l-.6 .6 1 1.2 .7-.6zM208.5 762.5l-1.5 1.2 1 1.2 1.5-1.2zM162.9 708.4l-.1 .2 .9 1.2 .2-.2zM192.6 745.1l-1.1 .8 1 1.2 1.1-.8zM187.5 743.1l-1 .7 .8 1.2 1.1-.7z"/><path fill="#98ff1d" d="M213.9 661.2l1 1.4 1.2-.9-.9-1.4zM157 701.1l0 0 1.3-.8 0 0zM177.4 692l.3 .5 1.4-.6-.3-.5zM164.6 697.9l.1 .2 1.4-.6-.1-.2zM164.6 698l.1 .2 1.4-.5 0-.3zM227.7 698.6l0 1.7 1.5 0 0-1.7zM221.6 706.8l-.2 1.5 1.5 .1 .2-1.5zM306.1 714.2l-.4 3.5 1.6 .1 .3-3.5zM169.9 702.7l-.1 .3 1.5 .2 .1-.3zM159.3 701.4l0 .1 1.5 .2 0 0zM240.6 715.8l-.4 2 1.5 .3 .4-2zM175.4 705l-.1 .5 1.5 .3 .1-.5zM226.7 718.5l-.4 1.6 1.5 .4 .4-1.6zM172.8 705.9l-.1 .4 1.4 .5 .1-.4zM218.3 722.2l-.5 1.4 1.4 .6 .5-1.5zM353.7 780.6l-2 4.6 2.5 1.1 2-4.7zM177.6 709.9l-.2 .4 1.4 .7 .2-.5zM180.5 712.1l-.3 .5 1.4 .7 .3-.6zM326.6 791.3l-2.2 4 1.4 .7 2.2-4zM329.7 793l-2.2 4 1.3 .7 2.3-4zM341.5 803.4l-2.5 4.3 1.4 .8 2.4-4.4zM210.1 738.3l-.9 1.2 1.2 .9 .9-1.2zM216.8 743l-1 1.4 1.3 .9 1-1.4zM269.9 780.2l-1.9 2.6 1.3 .9 1.9-2.6zM314.3 811.3l-2.6 3.7 1.2 .9 2.7-3.7zM161.7 704.7l-.1 .1 1.2 .9 .1-.1zM254.9 774.9l-1.8 2.3 2.1 1.6 1.8-2.3zM263.8 784.5l-2 2.5 1.2 1 2-2.5zM269.4 788.9l-2.1 2.6 1.1 1 2.2-2.7zM262.3 786.4l-2 2.5 1.1 .9 2.1-2.4zM206.6 742.8l-.9 1.1 1.1 1 1-1.1zM160.6 704.2l-.1 .1 1.1 1 .1-.1zM183.3 726.5l-.6 .6 1 1.1 .7-.6zM201.1 743.7l-1 1 1 1.1 1.1-1.1zM207 749.4l-1.1 1.2 1 1.1 1.2-1.2zM194.5 738.6l-.9 .9 1.1 1.1 .9-.9z"/><path fill="#a4ff27" d="M164.7 693.9l.2 .2 1.2-1.1-.2-.2zM170.1 689.3l.3 .3 1.2-1-.3-.3zM158.8 699.6l.1 .1 1.2-1-.1 0zM158.9 699.7l0 .1 1.3-.9-.1-.1zM161.9 697.8l.1 .1 1.2-.8-.1-.1zM168.2 697.5l.1 .2 1.5-.4-.1-.3zM222.4 681.1l.4 1.6 1.5-.4-.5-1.6zM168.4 698.1l0 .2 1.5-.3 0-.3zM176.3 695.9l.2 .5 1.4-.4-.1-.5zM225.2 696.3l.1 1.6 1.5 0-.1-1.7zM177 700.4l0 .5 1.6 0-.1-.5zM158.2 701.1l0 .1 1.5 0 0 0zM173.5 701.4l0 .4 1.5 0 0-.4zM161.6 702.2l0 .1 1.4 .4 .1-.2zM259.2 724.7l-.6 2.4 1.5 .4 .6-2.5zM235.9 720.8l-.5 1.8 1.5 .4 .5-1.8zM334.9 776.6l-1.8 4.2 1.4 .6 1.8-4.2zM336.8 781.2l-1.9 4.2 1.3 .6 2-4.2zM334.9 787.9l-2.1 4.2 1.4 .7 2.1-4.2zM159.1 702.2l0 0 1.3 .8 .1-.1zM300.3 780.5l-1.9 3.4 1.3 .8 1.9-3.4zM333.6 803l-2.5 4.2 1.3 .8 2.5-4.2zM329.7 804.9l-2.5 4 1.3 .9 2.5-4.1zM179 714.8l-.4 .6 1.3 .8 .4-.5zM222 741.7l-1 1.5 1.3 .9 1-1.6zM321.1 807.7l-2.6 3.8 1.3 .9 2.5-3.9zM315.3 807.9l-2.6 3.7 1.3 .9 2.5-3.8zM221.7 746.4l-1.1 1.5 1.2 .9 1.1-1.5zM206.6 737.1l-.9 1.2 1.2 .9 .9-1.2zM159.7 703.4l-.1 0 1.2 1.1 .1-.1zM221.1 754.9l-1.3 1.5 1.2 1 1.3-1.5zM208.6 746l-1.1 1.2 1.1 1 1.1-1.2zM218.4 754.5l-1.3 1.4 1.1 1 1.3-1.4zM216.5 754.7l-1.2 1.4 1.1 1.1 1.3-1.4zM308.7 842.6l-3.4 3.5 1.1 1.1 3.4-3.6zM218 760.1l-1.4 1.4 1.1 1.1 1.4-1.5zM225.7 767.4l-1.6 1.6 1.1 1.1 1.6-1.6zM254.5 795.3l-2.3 2.2 1.1 1.1 2.3-2.3zM166.2 710.3l-.3 .2 1.1 1.1 .2-.2zM217 761.1l-1.4 1.4 1 1.1 1.5-1.4zM215.1 761.3l-1.4 1.4 1 1.1 1.5-1.4zM194.8 743.1l-1 .9 1.8 2.1 1.1-.9zM166.3 711.8l-.3 .2 1 1.2 .3-.3zM191.7 747.2l-1.1 .8 .9 1.3 1.2-.8z"/><path fill="#afff32" d="M167 691.1l.2 .2 1.1-1-.2-.3zM221 668.5l.8 1.5 1.4-.7-.8-1.5zM163.4 698.1l.1 .2 1.4-.6-.1-.2zM157 701.1l0 0 1.5-.4 0 0zM222.4 686l.4 1.5 1.5-.3-.4-1.5zM173.1 697.7l.1 .4 1.5-.3-.1-.4zM365.6 656.8l1 4.9 1.5-.3-1-5zM168.7 699.5l0 .2 1.5-.1 0-.3zM158.2 701l0 0 1.5-.1 0-.1zM172.3 700.3l0 .4 1.5-.1 0-.4zM169.9 700.7l.1 .3 1.5-.1 0-.3zM182.9 700.2l0 .6 1.5 0 0-.6zM278.4 699l0 2.9 1.5 0 0-2.9zM174.7 701.1l0 .4 1.5 .1 0-.5zM219.3 705.5l-.1 1.4 1.5 .2 .1-1.5zM182.7 704.7l-.1 .6 1.5 .3 .1-.7zM220 710l-.2 1.4 1.5 .3 .2-1.5zM170.9 703.6l0 .3 1.5 .3 0-.4zM163.9 702.5l0 .1 1.5 .3 0-.1zM176.7 704.9l-.1 .5 1.5 .3 .1-.5zM237.4 719.7l-.5 1.9 1.5 .3 .5-1.9zM237 721.1l-.5 1.8 1.5 .5 .5-2zM163.8 702.9l0 .2 1.4 .4 .1-.2zM327.7 746.9l-1.1 4 1.5 .4 1.1-4zM161.5 702.4l0 .1 1.5 .5 0-.2zM319 747.6l-1.1 3.8 1.4 .4 1.2-3.8zM173.5 707.4l-.2 .4 1.5 .6 .1-.4zM166.8 705.3l-.1 .2 1.4 .6 .1-.2zM174.3 708.5l-.1 .4 1.4 .6 .2-.4zM167.8 705.9l-.2 .3 1.4 .6 .2-.3zM179.6 711.2l-.2 .5 1.3 .7 .3-.6zM166.5 705.8l-.1 .2 1.4 .7 .1-.3zM339.2 790l-2.2 4.2 1.4 .7 2.2-4.3zM326.1 787.2l-2.1 4 1.3 .7 2.1-4zM158 701.7l0 0 1.3 .8 .1-.1zM336.3 800.5l-2.4 4.2 1.4 .8 2.4-4.2zM177.2 713.2l-.3 .5 1.3 .8 .3-.5zM179.2 714.5l-.3 .5 1.3 .8 .3-.5zM320.6 799.4l-2.3 3.9 2.3 1.4 2.4-3.9zM223.2 744.1l-1 1.6 1.2 .8 1.1-1.6zM272.3 778.9l-1.9 2.7 1.3 .9 1.9-2.8zM199.5 730.9l-.7 .9 1.2 1 .7-1.1zM158.9 702.5l0 0 1.2 1 0-.1zM263.8 778.7l-1.9 2.5 1.2 .9 1.9-2.5zM206.9 738.7l-.9 1.2 1.2 .9 .9-1.2zM215.3 745.1l-1 1.3 1.2 1 1.1-1.4zM178.4 717.8l-.4 .5 1.1 1 .5-.6zM205.3 738.8l-.9 1.2 1.2 .9 .9-1.1zM256.4 778.7l-1.9 2.4 1.2 .9 1.9-2.3zM261.9 783.1l-1.9 2.4 1.2 1 1.9-2.5zM165.2 707.8l-.1 .2 1.1 1 .2-.3zM171.6 713l-.2 .3 1.1 1 .3-.4zM223.9 755.3l-1.3 1.5 1.1 1 1.3-1.6zM244.9 772.3l-1.7 2.1 1.2 1 1.7-2.1zM185.9 725.4l-.6 .6 1.2 1 .6-.7zM219.3 753.4l-1.3 1.4 1.2 1 1.3-1.4zM241 771.6l-1.7 1.9 1.1 1 1.7-2zM184.6 725.1l-.6 .6 1.1 1.1 .6-.7zM249.5 781.5l-1.9 2.2 1.1 1 1.9-2.2zM227.9 765l-1.5 1.6 1.1 1.1 1.6-1.7zM202.7 743.7l-1 1.1 1.1 1 1-1zM224.2 763.8l-1.5 1.6 1.1 1 1.5-1.6zM307.8 841.8l-3.3 3.5 1.1 1 3.3-3.5zM174.8 718.3l-.4 .4 1.1 1.1 .4-.4zM217.2 759.2l-1.4 1.4 1.1 1.1 1.4-1.4zM223.1 765l-1.5 1.5 1.1 1.1 1.5-1.6zM253.6 794.4l-2.2 2.3 1.1 1.1 2.2-2.3zM306.2 845.2l-3.4 3.5 1 1.1 3.5-3.5zM182 726.1l-.6 .6 1.1 1.1 .6-.6zM197.8 741.9l-.9 1 1 1.1 1-1zM199.5 743.6l-1 1 1 1.1 1.1-1zM212.7 758.8l-1.4 1.3 1 1.1 1.4-1.3zM242.1 789.3l-2.1 2 1.1 1.1 2.1-2zM203.6 751.1l-1.2 1.1 1 1.1 1.3-1.1zM212.5 760.6l-1.5 1.3 1.1 1.1 1.4-1.3zM170.4 716l-.4 .3 1 1.2 .4-.4zM203.5 752.8l-1.2 1.1 1 1.1 1.2-1.1zM193.3 742.9l-1 .9 1 1.1 1-.8zM211.1 763.4l-1.5 1.2 1 1.2 1.5-1.3zM198.7 750.8l-1.2 .9 .9 1.2 1.2-1zM160.5 705.8l-.1 .1 .9 1.2 .2-.1zM162 707.7l-.2 .1 .9 1.3 .2-.2zM164.1 710.5l-.2 .2 .9 1.2 .2-.2zM186.8 742.1l-1 .7 .9 1.3 1-.8zM157.7 702.1l-.1 0 .9 1.3 0-.1z"/><path fill="#bbff3b" d="M162.9 695.4l.2 .1 1.1-1-.2-.2zM159.6 698.7l0 .1 1.2-1.1-.1 0zM168.1 694.4l.2 .3 1.3-.8-.2-.3zM215.2 667.5l.7 1.4 1.4-.7-.8-1.4zM160.1 699.4l0 .1 1.4-.7-.1-.1zM168.6 695.4l.2 .3 1.4-.6-.2-.3zM219.5 670.6l.7 1.5 1.4-.6-.7-1.5zM159.2 700.2l0 .1 1.4-.6 0 0zM164.7 698.2l.1 .1 1.4-.5-.1-.2zM215.7 679.7l.5 1.4 1.4-.5-.5-1.4zM157 701.1l0 0 1.5-.4 0 0zM182 694.4l.2 .6 1.5-.4-.2-.6zM181.3 696.4l.1 .6 1.5-.3-.1-.6zM166.3 699.5l0 .2 1.5-.2 0-.3zM164 700.2l0 .2 1.6-.1-.1-.2zM166.4 700l0 .2 1.5-.2 0-.2zM182.8 698.8l.1 .7 1.5-.1-.1-.7zM178.2 700l0 .5 1.5 0 0-.6zM180.5 700.3l.1 .5 2.7 0 0-.6zM165.2 701.3l0 .1 1.6 .1 0-.2zM174.6 702l0 .5 1.5 .1 .1-.5zM217.9 707.5l-.1 1.4 1.5 .2 .2-1.4zM223.7 709.3l-.2 1.6 1.5 .2 .2-1.6zM237.1 715.2l-.4 1.9 1.5 .3 .4-1.9zM239.4 715.6l-.4 2 1.5 .3 .4-2zM180 706l-.1 .6 1.5 .3 .1-.6zM170.4 705.5l-.1 .3 1.5 .5 .1-.3zM169.2 705.3l-.1 .3 1.5 .6 .1-.4zM165.9 704.3l-.1 .2 1.4 .6 .1-.2zM170.1 706.4l-.1 .3 1.4 .6 .1-.3zM175.6 708.6l-.2 .5 1.4 .6 .2-.5zM179.9 710.4l-.2 .5 1.4 .6 .3-.5zM280.5 751l-1.2 2.9 1.4 .6 1.2-2.9zM162.4 703.4l0 .1 1.4 .7 0-.2zM328.2 777.3l-1.9 4 1.4 .7 1.9-4.1zM335.4 784.3l-2 4.2 1.3 .6 2.1-4.2zM331.8 786.4l-2.1 4 1.4 .7 2-4.1zM336 788.4l-2.1 4.2 1.4 .7 2.1-4.2zM173.5 710.3l-.2 .3 1.3 .8 .2-.4zM329.1 796.5l-2.3 4.1 1.4 .7 2.3-4zM319.6 798.8l-2.3 3.8 1.3 .9 2.3-3.9zM224 743l-1.1 1.5 1.3 .9 1.1-1.6zM171.8 710.7l-.2 .4 1.3 .8 .2-.3zM265.7 771.7l-1.7 2.6 1.3 .8 1.7-2.6zM267.7 773l-1.7 2.6 1.2 .8 1.8-2.6zM317.1 805.1l-2.5 3.7 1.3 .9 2.5-3.8zM222.5 745.3l-1.1 1.5 1.2 .9 1.1-1.6zM268.4 776.2l-1.8 2.6 1.2 .9 1.8-2.6zM173.4 712.6l-.3 .4 1.3 .9 .3-.4zM208.2 736.9l-.9 1.2 1.2 .9 .9-1.2zM267 778.2l-1.8 2.5 1.2 .9 1.9-2.6zM320.1 815.3l-2.7 3.9 1.2 .9 2.8-3.9zM256.1 773.2l-1.7 2.3 1.2 .9 1.8-2.3zM260 775.9l-1.8 2.4 1.2 1 1.8-2.5zM266.2 783.4l-2 2.5 1.2 1 2-2.6zM186.7 724.3l-.5 .7 1.1 1 .6-.7zM223.9 753.3l-1.3 1.6 1.2 1 1.3-1.6zM185.4 724.1l-.6 .7 1.2 1 .6-.7zM240.3 768.6l-1.6 1.9 1.2 1 1.6-1.9zM216.6 751.1l-1.2 1.4 2 1.8 1.3-1.5zM245.5 775.3l-1.8 2.1 1.1 1 1.8-2.1zM248.2 777.6l-1.9 2.1 1.2 1.1 1.8-2.2zM250 779.1l-1.9 2.2 1.2 1 1.9-2.2zM252.7 781.4l-1.9 2.2 1.1 1.1 2-2.3zM163.2 706.5l-.1 .2 1.1 1 .2-.2zM182.4 724l-.6 .6 1.2 1 .5-.6zM205.2 744.5l-1.1 1.1 1.1 1.1 1.1-1.2zM215.7 753.9l-1.3 1.4 1.1 1.1 1.3-1.4zM182 724.4l-.6 .6 1.1 1.1 .6-.6zM209.6 750.1l-1.2 1.3 1.1 1 1.2-1.2zM214.7 755l-1.2 1.3 2.7 2.7 1.4-1.4zM218.2 758.2l-1.4 1.4 1.1 1.1 1.4-1.5zM232 771l-1.7 1.8 1.1 1.1 1.7-1.8zM254.4 791.9l-2.2 2.3 1.1 1.1 2.2-2.3zM173.1 716.7l-.4 .3 1.1 1.1 .4-.4zM200.2 742.9l-1 1 1.1 1.1 1-1.1zM208.7 751l-1.2 1.3 1.1 1 1.2-1.2zM214.6 756.8l-1.3 1.3 1.1 1.1 1.3-1.4zM157 701.1l0 0 1 1.1 .1 0zM215.3 759.4l-1.4 1.4 1.1 1.1 1.4-1.4zM204.5 750.3l-1.2 1.1 1 1.1 1.2-1.1zM160.1 704.7l-.1 0 1 1.2 .1-.1zM192.6 742l-1 .8 1 1.2 1-.8zM203.4 754.5l-1.3 1.1 1 1.1 1.3-1.1zM211.9 764.3l-1.5 1.2 1 1.2 1.5-1.3zM193.4 744.4l-1.1 .9 1 1.2 1-.9zM194.8 747.8l-1.1 .9 .9 1.2 1.2-.9zM189.6 744.4l-1 .8 .9 1.2 1-.8zM157.7 702.1l0 0 .8 1.2 .1 0z"/><path fill="#c7ff31" d="M161.4 697.2l.1 .1 1.1-1-.1-.2zM166.8 692.6l.2 .2 1.2-.9-.3-.3zM162.4 696.6l.1 .1 1.2-1-.1-.1zM164.2 695l.2 .2 1.2-.9-.2-.2zM157.9 700.4l0 0 1.3-.9-.1-.1zM163.5 696l.1 .2 1.2-.9-.1-.2zM163.7 696.3l.1 .1 1.2-.9-.1-.1zM168.6 693l.2 .3 1.2-.9-.2-.3zM169.7 692.5l.2 .3 1.3-.8-.2-.3zM180.5 687.6l.3 .5 1.3-.7-.3-.6zM158 700.5l0 .1 1.4-.7 0-.1zM157 701.1l0 0 1.4-.5 0 0zM181.9 694l.2 .6 1.5-.4-.2-.7zM157 701.1l0 0 1.5-.4 0 0zM177.6 696l.1 .5 1.5-.4-.1-.5zM219.9 685.4l.3 1.5 1.5-.3-.3-1.5zM169.6 698.2l.1 .3 1.5-.3-.1-.4zM176.5 696.6l.1 .5 1.5-.3-.1-.5zM228.6 694.8l.1 1.7 1.6-.1-.2-1.7zM174.6 699.9l.1 .4 1.5-.1 0-.4zM324.3 698.2l0 3.9 1.6 0-.1-3.9zM173.5 701.1l0 .4 1.5 0 0-.4zM172.3 701.4l0 .3 1.5 .1 0-.4zM178.2 701.5l0 .5 1.5 0 0-.5zM159.3 701.2l0 0 2.8 .2 0-.1zM174.5 703.6l-.1 .4 1.5 .2 .1-.4zM180.1 705.6l-.1 .6 1.5 .3 .1-.6zM184.8 706.5l-.2 .7 1.5 .3 .2-.7zM216 712.6l-.3 1.4 1.5 .3 .3-1.4zM238 716.9l-.4 1.9 1.5 .3 .4-2zM173.1 704.5l-.1 .4 1.5 .4 .1-.4zM181.2 706.3l-.1 .5 1.5 .4 .1-.6zM177.6 706.2l-.2 .5 1.5 .4 .2-.5zM257.6 726.2l-.6 2.4 1.5 .4 .6-2.4zM235.2 723.5l-.6 1.9 1.5 .4 .5-1.9zM159.2 701.8l0 .1 1.5 .4 0-.1zM237 725.6l-.6 1.9 1.5 .4 .6-1.9zM173.8 706.6l-.1 .4 1.4 .5 .2-.5zM181.7 709.1l-.2 .6 1.4 .5 .2-.6zM174.5 708.2l-.2 .4 1.4 .6 .2-.5zM176.7 709.1l-.2 .4 1.4 .6 .2-.5zM338.9 782.1l-1.9 4.3 1.4 .6 1.9-4.3zM181.4 713l-.3 .6 1.3 .7 .3-.6zM326.5 783.8l-2 3.9 1.3 .7 2-4zM328.6 784.8l-2 4 1.3 .7 2.1-4zM332.8 786.9l-2 4.1 1.3 .7 2.1-4.2zM328.2 788.3l-2.2 4 1.4 .8 2.1-4.1zM331.3 789.9l-2.1 4.1 2.3 1.3 2.2-4.1zM159.1 702.2l-.1 .1 1.4 .7 0-.1zM328.7 792.4l-2.2 4 1.3 .8 2.2-4.1zM170.3 708.8l-.2 .3 1.3 .8 .2-.4zM297.8 782.4l-1.9 3.3 1.3 .8 2-3.3zM323.4 797.2l-2.4 3.8 2.4 1.5 2.3-4zM328.7 804.3l-2.5 4 1.3 .8 2.5-4zM173 711.1l-.3 .4 1.3 .8 .3-.4zM221 741.1l-1 1.5 1.3 .8 1-1.5zM161.9 704.3l0 .1 1.2 .9 .1-.1zM320.1 807l-2.6 3.8 1.3 .9 2.6-3.8zM201 730.8l-.8 1 1.3 .9 .7-1.1zM313.3 806.6l-2.5 3.6 1.2 .9 2.6-3.7zM321.1 811.8l-2.6 3.9 1.2 .8 2.7-3.8zM327 815.8l-2.8 4 1.3 .8 2.8-4zM271.9 781.5l-2 2.7 1.3 .9 1.9-2.7zM315.3 812l-2.6 3.7 1.2 .9 2.7-3.8zM170.3 710.8l-.2 .3 1.2 .9 .3-.3zM214.2 742.7l-1 1.3 1.2 .9 1-1.3zM261.9 777.3l-1.9 2.5 2.2 1.6 1.9-2.5zM162.6 705.4l-.1 .1 1.2 .9 .2-.1zM203.1 735.9l-.8 1 1.2 1 .8-1.1zM246.4 768.5l-1.6 2.1 1.2 .9 1.6-2.1zM261.5 779.8l-1.9 2.5 1.2 .9 1.9-2.4zM269.9 786.2l-2 2.7 1.2 .9 2.1-2.7zM162.6 705.5l-.1 .1 1.1 1 .2-.2zM245.2 770l-1.6 2.1 1.2 1 1.6-2.1zM248 772.2l-1.7 2.1 1.2 1 1.7-2.1zM174.4 715.2l-.3 .4 1.1 1 .4-.4zM243.1 770.8l-1.7 2 1.2 1 1.7-2zM246.7 773.8l-1.7 2.1 1.2 1 1.7-2.1zM223.8 757.2l-1.3 1.5 2 1.8 1.4-1.6zM231 763.2l-1.5 1.8 1.2 1 1.5-1.8zM239.1 770l-1.6 2 1.1 1 1.7-2zM183.7 724.3l-.6 .6 1.2 1.1 .5-.7zM199.7 738.2l-.9 1 1.1 1 .9-1zM206.8 744.4l-1 1.2 1.1 1 1.1-1.2zM219.3 755.2l-1.3 1.5 1.1 1 1.3-1.5zM236.2 769.9l-1.7 1.9 1.1 1 1.7-1.9zM237.9 771.5l-1.6 1.9 2 1.8 1.7-2zM264.6 794.7l-2.2 2.5 1.1 1 2.3-2.5zM164 707.4l-.2 .2 1.2 1 .1-.2zM195.5 735.8l-.8 .9 1.1 1.1 .9-1zM198.2 738.2l-.9 .9 1.1 1.1 .9-1zM218.3 756.3l-1.3 1.4 1.1 1.1 1.3-1.5zM226.2 763.4l-1.5 1.6 1.1 1.1 1.5-1.7zM255.1 789.4l-2.1 2.3 1.1 1.1 2.1-2.3zM200.9 742.1l-.9 1 1.1 1.1 1-1.1zM213 753.4l-1.2 1.3 1.1 1 1.2-1.3zM220.8 760.6l-1.4 1.5 1 1 1.5-1.5zM199.4 742l-1 1 1.1 1.1 1-1zM201.9 744.5l-1 1 1.1 1.1 1-1zM209.5 753.6l-1.3 1.2 1.1 1.1 1.3-1.2zM235.3 779.4l-1.8 1.9 1 1.1 1.9-1.9zM180.7 725.7l-.6 .5 1.1 1.2 .6-.6zM182.4 727.4l-.7 .6 1.1 1.1 .6-.6zM193.8 739.3l-.9 .8 1.1 1.1 .9-.8zM200.4 746l-1.1 1 1 1.2 1.1-1.1zM206.9 752.8l-1.2 1.2 1 1.1 1.3-1.2zM181.1 727l-.6 .5 1 1.2 .6-.6zM182.7 728.7l-.6 .6 1 1.1 .7-.6zM199.6 746.8l-1.1 1 1 1.1 1.1-1zM213.3 761.4l-1.5 1.4 1 1.1 1.5-1.3zM169.6 715.1l-.3 .3 1 1.2 .3-.3zM208.2 758l-1.3 1.2 1 1.2 1.4-1.2zM209.8 759.8l-1.4 1.2 1 1.2 1.5-1.3zM295.8 855.2l-3.7 3.3 1 1.1 3.7-3.2zM170.1 716.2l-.3 .3 1 1.2 .3-.3zM196.4 746.5l-1.1 .9 1 1.2 1.1-1zM201.1 751.8l-1.2 1 .9 1.2 1.3-1zM204.2 755.4l-1.3 1.1 .9 1.1 1.4-1.1zM197.1 749l-1.1 .9 1 1.2 1.1-1zM201.7 754.4l-1.3 1 1 1.2 1.3-1.1zM180 729.5l-.7 .5 .9 1.2 .7-.5zM162.1 707.6l-.2 .1 .9 1.3 .2-.2zM168.6 716l-.4 .2 1 1.3 .3-.3zM158.4 703l-.1 0 .9 1.3 .1 0z"/><path fill="#d2ff27" d="M157 701.1l0 0 1.1-1 0-.1zM213.6 656.9l1.1 1.3 1.2-.9-1.1-1.4zM219.3 660.7l.9 1.5 1.3-.9-1-1.5zM158 700.5l0 0 1.3-.7 0-.1zM172.1 692l.3 .4 1.3-.8-.2-.4zM160.1 699.3l0 .1 1.3-.7 0-.1zM164.5 697.6l0 .2 1.5-.6-.1-.2zM167.9 696.7l.1 .3 1.5-.6-.2-.3zM176.7 693.2l.1 .4 1.5-.5-.2-.5zM158.1 700.7l0 .1 1.5-.5 0 0zM169.4 697.3l.1 .3 1.5-.4-.1-.3zM168.3 697.9l.1 .2 1.5-.4-.1-.3zM171.8 697.1l.1 .4 1.5-.4-.1-.4zM179.8 695l.1 .5 1.5-.3-.2-.6zM166.1 698.8l.1 .2 1.5-.3-.1-.2zM180 695.8l.1 .5 1.5-.3-.1-.5zM169.8 699.1l0 .3 1.6-.2-.1-.4zM172.2 699.5l.1 .4 1.5-.2 0-.4zM173.5 700l0 .3 1.5 0 0-.4zM157 701.1l0 0 1.5 0 0 0zM226.5 702.3l0 1.7 1.5 0 0-1.7zM169.9 701.8l0 .3 1.5 .1 .1-.3zM159.3 701.3l0 0 1.6 .2 0-.1zM327.5 713l-.4 4 1.6 .2 .3-4.1zM159.3 701.3l0 .1 1.6 .1 0-.1zM164 701.8l0 .2 1.5 .2 0-.2zM217.7 709.6l-.2 1.5 1.5 .2 .2-1.4zM159.3 701.5l0 0 1.5 .3 0-.1zM164 702.2l-.1 .2 1.6 .3 0-.2zM159.3 701.5l0 .1 1.5 .3 0-.1zM159.3 701.6l0 0 1.5 .3 0 0zM237.7 718.3l-.4 1.9 1.4 .3 .5-1.9zM159.3 701.6l0 .1 1.5 .4 0-.1zM163.9 702.7l-.1 .2 1.5 .3 .1-.2zM256.9 724.2l-.6 2.3 1.5 .4 .6-2.4zM164.9 703.4l0 .2 1.4 .4 .1-.2zM172.9 705.7l-.2 .3 1.5 .5 .1-.4zM183 708.6l-.1 .6 1.4 .4 .2-.6zM169.2 705.5l-.1 .3 2.5 1 .1-.3zM183.6 710.8l-.3 .6 1.5 .6 .2-.7zM162.5 703.3l-.1 .1 1.4 .7 .1-.2zM166.8 705.1l-.1 .2 1.4 .6 .1-.2zM305.6 761.1l-1.5 3.5 1.4 .6 1.5-3.5zM338.4 774.4l-1.8 4.2 1.4 .7 1.8-4.3zM348.2 778.4l-1.9 4.5 1.4 .6 1.9-4.6zM336 777.1l-1.9 4.2 1.4 .6 1.9-4.2zM339.2 778.5l-1.8 4.2 1.4 .7 1.9-4.3zM171 707.3l-.2 .4 1.4 .6 .2-.3zM303.3 769.3l-1.6 3.5 1.3 .7 1.7-3.5zM158.1 701.6l-.1 .1 1.4 .7 0-.1zM171.8 708.3l-.2 .4 1.4 .7 .2-.4zM176.1 710.4l-.3 .5 1.4 .7 .2-.5zM345.5 793.1l-2.2 4.4 1.4 .7 2.2-4.5zM322.9 785.6l-2 3.9 1.3 .8 2.1-4zM325 786.7l-2.1 3.9 1.4 .8 2.1-4zM327.1 787.8l-2.1 4 1.4 .7 2.1-4zM338.7 793.7l-2.3 4.2 1.4 .8 2.2-4.3zM325.6 790.7l-2.2 4 1.3 .7 2.2-3.9zM336 796.3l-2.3 4.2 1.3 .7 2.3-4.2zM320.3 795.4l-2.3 3.8 2.3 1.4 2.3-3.9zM220.6 739.3l-.9 1.5 1.3 .9 .9-1.6zM223.7 741.2l-1 1.5 2.3 1.5 1-1.6zM327.7 803.7l-2.5 4 1.3 .8 2.5-4zM330.7 805.5l-2.5 4.1 1.3 .8 2.6-4.1zM223 742.3l-1 1.6 1.2 .8 1.1-1.6zM268.9 771.1l-1.7 2.6 1.3 .8 1.7-2.6zM314.9 799.8l-2.4 3.7 1.3 .8 2.4-3.7zM321.9 804.2l-2.5 3.8 1.3 .9 2.5-3.9zM216.3 739.6l-.9 1.4 1.2 .9 1-1.4zM271.6 775.6l-1.7 2.6 1.2 .9 1.8-2.7zM323 808.9l-2.5 3.9 1.2 .9 2.6-3.9zM223.4 745.9l-1 1.6 1.2 .9 1.1-1.6zM271.3 778.2l-1.8 2.7 1.2 .9 1.9-2.7zM312.3 805.9l-2.5 3.6 1.3 .9 2.5-3.7zM158 701.8l-.1 0 1.3 .9 0 0zM219.7 745l-1 1.5 1.2 .9 1.1-1.5zM227.5 750.5l-1.2 1.6 1.2 .9 1.2-1.7zM268 778.8l-1.9 2.6 1.3 .9 1.9-2.6zM321.1 816l-2.7 3.9 1.2 .9 2.8-3.9zM325 818.7l-2.9 4 1.3 .9 2.8-4zM161.8 704.6l-.1 .1 1.2 .9 .1-.1zM209.4 739.2l-.9 1.2 1.2 1 1-1.3zM264.7 779.4l-1.8 2.5 1.2 .9 1.9-2.5zM157.9 701.8l0 0 1.2 1 .1-.1zM160.8 703.9l-.1 .1 1.2 1 .1-.1zM175.8 715.3l-.3 .4 1.2 1 .3-.5zM204.1 736.6l-.9 1.1 1.2 .9 .9-1.1zM216.3 745.8l-1.1 1.4 1.2 .9 1.1-1.4zM259.6 778.4l-1.9 2.4 1.2 1 1.9-2.5zM204.4 738.1l-.9 1.1 1.2 1 .9-1.1zM253.6 776.6l-1.8 2.2 1.2 1 1.8-2.3zM257.3 779.5l-1.9 2.3 1.2 1 1.9-2.4zM244 771.6l-1.7 2 1.2 1 1.7-2.1zM163.3 706.4l-.1 .2 1.1 1 .2-.2zM166.9 709.4l-.2 .3 1.2 1 .2-.3zM168.7 711l-.2 .2 1.1 1 .3-.3zM176.9 717.8l-.4 .4 1.1 1.1 .4-.5zM241.9 772.3l-1.7 2 1.1 1 1.7-2zM165 708.1l-.2 .2 1.2 1 .2-.2zM221 756.8l-1.3 1.5 1.1 1 1.4-1.5zM222.8 758.3l-1.4 1.6 1.2 1 1.4-1.6zM228.1 763l-1.4 1.6 1.1 1.1 1.5-1.7zM165.8 709l-.2 .2 1.1 1.1 .2-.3zM184.1 725.6l-.5 .6 1.1 1 .6-.6zM201.7 741.3l-1 1.1 1.1 1 1-1zM207.8 746.8l-1.1 1.2 1.1 1.1 1.1-1.2zM217.4 755.5l-1.3 1.4 1.1 1.1 1.4-1.5zM235.8 772.1l-1.7 1.8 1.1 1.1 1.8-1.9zM256.8 791l-2.1 2.3 1.1 1.1 2.2-2.4zM163 706.7l-.1 .2 1.1 1 .1-.1zM219 759l-1.3 1.4 1.1 1.1 1.4-1.5zM221.6 761.4l-1.4 1.5 1.1 1.1 1.5-1.6zM202.8 745.3l-1.1 1.1 1.1 1.1 1.1-1.1zM213.8 756l-1.3 1.3 1.1 1.1 1.3-1.4zM215.5 757.6l-1.4 1.4 1.1 1 1.4-1.3zM220.6 762.5l-1.5 1.5 1.1 1.1 1.5-1.5zM224.8 766.6l-1.6 1.6 1.1 1.1 1.6-1.6zM252.8 793.6l-2.2 2.2 1.1 1.1 2.2-2.2zM304.5 843.6l-3.4 3.4 1.1 1.1 3.4-3.5zM162 706.1l-.1 .1 1 1.1 .2-.1zM202.8 746.9l-1.1 1.1 1.1 1.1 1.1-1.1zM207.8 751.9l-1.2 1.2 1.1 1.1 1.2-1.2zM175.8 720.6l-.4 .4 1 1.2 .5-.5zM196.3 741.8l-1 .9 1.1 1.1 1-.9zM198.7 744.3l-1 1 1.9 2 1-1zM201.2 746.9l-1.1 1 1 1.1 1.2-1zM207.7 753.7l-1.2 1.2 1 1.1 1.3-1.2zM211.8 757.9l-1.3 1.3 1 1.1 1.4-1.3zM233.9 780.8l-1.9 1.8 1.1 1.1 1.9-1.8zM174.7 720.1l-.5 .4 1 1.1 .5-.4zM195.6 742.5l-1 .9 1 1.1 1-.9zM198.8 745.9l-1.1 1 1 1.1 1.1-1zM206.8 754.5l-1.2 1.2 1 1.2 1.3-1.2zM231.7 781.3l-1.9 1.7 1 1.1 2-1.7zM192.5 740.5l-1 .8 1 1.2 1-.8zM194.1 742.3l-1 .8 1 1.2 1-.9zM197.2 745.8l-1.1 .9 1.8 2.1 1.1-1zM199.6 748.4l-1.2 1 1 1.2 1.2-1.1zM232.7 785.2l-2 1.7 1 1.2 2-1.8zM295 854.4l-3.7 3.2 1 1.1 3.7-3.2zM167 712.7l-.2 .2 .9 1.2 .3-.3zM191.8 741.1l-1 .8 1 1.2 1-.8zM208.8 760.7l-1.4 1.2 1 1.2 1.4-1.2zM159.3 703.8l-.1 .1 1 1.2 0-.1zM200.2 752.6l-1.3 1 1 1.2 1.3-1.1zM207.7 761.6l-1.4 1.2 1 1.2 1.4-1.2zM209.3 763.4l-1.5 1.2 .9 1.2 1.5-1.2zM160.7 705.7l-.1 .1 .9 1.2 .2-.1zM207.4 763.4l-1.5 1.2 1 1.2 1.5-1.2zM167.9 715l-.4 .3 1 1.2 .3-.3zM170.5 719l-.5 .3 .9 1.2 .5-.3zM172.6 721.8l-.5 .4 .9 1.2 .5-.4z"/><path fill="#deff1d" d="M165.3 692.8l.2 .2 1.1-1.1-.2-.2zM163.8 694.6l.1 .1 1.2-1-.2-.2zM164.9 694l.1 .2 1.2-1-.2-.2zM158.8 699.6l0 0 1.2-1-.1 0zM169.4 690.3l.3 .3 1.2-1-.3-.3zM166.9 692.8l.2 .2 1.2-.9-.2-.3zM168.9 691.5l.2 .3 1.2-1-.2-.3zM216.6 660.9l.9 1.4 1.3-.8-.9-1.4zM158 700.5l0 0 1.3-.8 0-.1zM165 696.1l.1 .2 1.3-.8-.1-.2zM218.6 664.1l.9 1.4 1.3-.7-.9-1.5zM172.3 692.3l.2 .3 1.4-.7-.3-.4zM175.4 690.5l.2 .4 1.4-.7-.3-.5zM177.6 689.7l.3 .5 1.3-.7-.3-.6zM213.7 669.7l.7 1.3 1.4-.7-.8-1.4zM171.6 693.4l.1 .3 1.4-.7-.2-.4zM168.5 695.2l.2 .3 1.4-.7-.2-.3zM170.6 694.2l.2 .3 1.4-.7-.2-.3zM158.1 700.6l0 0 1.4-.6-.1-.1zM172.9 693.4l.2 .3 1.4-.6-.2-.4zM157 701.1l0 0 1.4-.6 0 0zM219.9 674.4l.6 1.5 1.4-.6-.6-1.5zM158.1 700.7l0 0 1.4-.5 0-.1zM171.4 695.9l.1 .3 1.5-.5-.2-.4zM181.7 693.1l.1 .6 1.5-.5-.2-.6zM171.7 696.9l.1 .3 1.5-.4-.1-.3zM172.1 698.4l0 .4 1.6-.2-.1-.4zM161.6 700.4l.1 .1 1.5-.2 0-.2zM174.5 698.3l0 .5 1.5-.2 0-.5zM162.8 700.3l0 .1 1.6-.2-.1-.1zM172.2 699.2l0 .4 1.6-.1-.1-.4zM165.2 700.2l0 .2 1.5-.1 0-.2zM157 701.1l0 0 1.5-.1 0 0zM171.1 700.1l0 .4 1.5-.1 0-.4zM171.1 700.4l0 .3 1.6 0-.1-.4zM173.5 700.5l0 .4 1.5 0 0-.4zM180.6 701.1l0 .6 1.5 0 0-.6zM175.8 702.1l0 .4 1.5 .2 .1-.5zM167.6 701.8l0 .3 1.5 .1 0-.2zM180.5 702.8l0 .5 1.5 .1 0-.5zM166.4 701.9l0 .3 1.5 .1 0-.2zM175.8 702.8l-.1 .4 1.6 .2 0-.5zM167.5 702.4l0 .2 1.5 .3 0-.3zM173.2 704l0 .4 1.5 .3 0-.5zM157 701.1l0 0 1.5 .3 0 0zM162.8 702.2l-.1 .2 1.5 .3 .1-.2zM236.7 722.5l-.5 1.8 1.4 .5 .6-1.9zM163.8 703.1l-.1 .1 1.5 .5 .1-.2zM164.9 703.5l-.1 .2 2.6 .9 .1-.3zM271.9 736.3l-.8 2.7 1.4 .4 .9-2.7zM180.5 708.8l-.2 .5 1.5 .5 .2-.6zM159.2 702l0 0 1.4 .7 0-.1zM342.7 776.2l-1.8 4.3 1.4 .6 1.9-4.4zM346 777.5l-1.8 4.4 1.4 .6 1.8-4.4zM168.9 706.2l-.1 .3 1.4 .6 .1-.3zM171.1 707.1l-.1 .3 1.3 .7 .2-.4zM178.7 710.3l-.2 .5 1.4 .7 .2-.6zM349 782.6l-2 4.5 1.4 .6 2-4.5zM352.3 784l-2 4.6 1.3 .6 2.1-4.6zM355.5 785.4l-2 4.6 1.4 .7 2-4.7zM327.1 776.8l-1.8 4 1.4 .7 1.8-4zM343.2 784l-2 4.4 2.5 1.2 2-4.5zM166.6 705.6l-.1 .2 1.4 .7 .1-.3zM329 781.3l-2 4 1.4 .7 1.9-4.1zM332.2 782.8l-2 4.1 1.4 .7 1.9-4.2zM336.4 784.8l-2 4.2 1.4 .7 2-4.3zM338.6 785.8l-2.1 4.2 1.4 .7 2.1-4.3zM340.7 786.8l-2.1 4.3 1.4 .7 2.1-4.4zM180.3 712.5l-.3 .5 1.4 .7 .3-.6zM342.4 791.5l-2.2 4.4 1.3 .7 2.2-4.4zM168.5 707l-.1 .3 1.3 .7 .2-.3zM300.8 774.4l-1.7 3.4 1.3 .7 1.8-3.4zM298.5 776.4l-1.8 3.3 1.3 .7 1.9-3.3zM163.2 704.5l-.1 .2 1.3 .8 .1-.2zM301.3 781.1l-1.9 3.4 1.3 .7 1.9-3.4zM169.2 708.2l-.1 .3 1.3 .8 .2-.4zM298.9 783l-2 3.3 1.3 .8 2-3.3zM175.2 712l-.3 .5 1.3 .8 .3-.5zM326.7 803.1l-2.4 4 1.2 .8 2.5-4zM180 715.5l-.4 .5 1.3 .9 .4-.6zM279.9 777.9l-1.8 2.9 1.3 .8 1.8-2.9zM218.3 740.9l-1 1.4 2.3 1.6 .9-1.5zM294.4 790.3l-2.2 3.2 1.3 .9 2.2-3.2zM261.5 771.6l-1.7 2.5 1.3 .9 1.7-2.5zM314.3 807.2l-2.6 3.7 1.3 .9 2.6-3.7zM326 815.1l-2.7 4 1.2 .9 2.8-4zM209.1 737.6l-.9 1.2 1.3 .9 .9-1.2zM324 818.1l-2.8 3.9 1.2 .9 2.9-4zM164.6 706.7l-.1 .1 1.2 1 .2-.2zM215.2 743.4l-1.1 1.3 1.3 1 1-1.4zM257.1 773.8l-1.7 2.4 1.2 .9 1.7-2.4zM245.5 767.8l-1.6 2 1.2 1 1.6-2.1zM262.4 780.5l-1.9 2.5 1.2 1 1.9-2.5zM159.8 703.3l-.1 .1 1.2 .9 .1-.1zM172.8 713.4l-.3 .4 1.2 1 .3-.4zM175.6 715.6l-.4 .5 1.2 .9 .4-.4zM202.5 736.7l-.9 1 1.2 1 .9-1.1zM206.2 739.6l-.9 1.1 1.2 1 .9-1.2zM214.6 746.1l-1.1 1.3 1.2 1 1.1-1.4zM249.9 773.7l-1.8 2.1 1.2 1 1.8-2.2zM267.5 787.5l-2.1 2.5 1.2 1 2.1-2.6zM172.6 713.7l-.3 .4 1.1 1 .4-.4zM202.8 738.2l-.9 1.1 1.2 1 .9-1.1zM245.8 773l-1.7 2.1 1.2 1 1.7-2.1zM266 789.4l-2.1 2.5 1.1 1 2.2-2.6zM184.1 723.8l-.6 .7 1.2 1 .5-.7zM199.4 736.7l-.8 1 2 1.8 .9-1zM247.3 776.9l-1.8 2.1 1.1 1 1.8-2.2zM251.8 780.6l-1.9 2.3 1.1 1 2-2.3zM159.7 703.4l-.1 .1 1.1 1 .1-.1zM198.8 737.4l-.9 1 1.2 1.1 .9-1zM204.1 742.1l-.9 1.1 1.1 1 1-1.1zM207.7 745.2l-1.1 1.2 1.2 1 1-1.2zM239.7 773l-1.7 1.9 1.1 1.1 1.8-2zM258.4 789.3l-2.1 2.3 1.1 1 2.1-2.3zM157.9 701.9l-.1 0 1.2 1.1 0-.1zM166.6 709.8l-.2 .2 1.1 1.1 .3-.3zM204.3 743.7l-1 1.1 1.1 1 1-1.1zM209.5 748.4l-1.1 1.2 1.1 1.1 1.2-1.3zM167.3 710.8l-.2 .2 1.1 1.1 .3-.3zM177.7 720.4l-.5 .5 1.1 1.1 .5-.6zM182.8 725.2l-.5 .6 1.1 1.1 .6-.6zM222.5 762.2l-1.5 1.5 1.1 1.1 1.5-1.6zM225.9 765.4l-1.5 1.6 1.1 1.1 1.6-1.6zM257.8 795.1l-2.2 2.4 1.1 1.1 2.3-2.4zM165.3 709.4l-.2 .2 1.1 1.1 .2-.2zM216.2 760.3l-1.5 1.4 1.1 1.1 1.4-1.4zM221.2 765.3l-1.6 1.5 1.1 1.1 1.5-1.5zM223.7 767.8l-1.6 1.5 1 1.1 1.6-1.5zM234.5 778.6l-1.9 1.8 1.1 1.1 1.9-1.8zM302 846.1l-3.5 3.4 1.1 1.1 3.5-3.4zM303.7 847.8l-3.5 3.4 1 1.1 3.5-3.4zM173.4 718.1l-.4 .3 1 1.2 .4-.4zM183.2 728.2l-.7 .6 1.1 1.2 .7-.7zM157 701.1l0 0 1 1.2 0-.1zM162.6 707.1l-.1 .2 1 1.1 .2-.1zM196.4 743.3l-1 1 1 1.1 1-.9zM209.2 757.1l-1.3 1.2 1 1.2 1.4-1.2zM158.6 702.9l-.1 0 1 1.2 .1-.1zM168.8 714.2l-.3 .3 1 1.2 .3-.3zM173.6 719.5l-.5 .4 1 1.1 .5-.4zM205.1 754.5l-1.3 1.2 1 1.1 1.3-1.1zM209.6 761.6l-1.5 1.2 1 1.2 1.5-1.3zM181.2 730l-.7 .6 1 1.2 .7-.6zM192.6 743.5l-1 .9 .9 1.2 1.1-.9zM206.2 759.8l-1.4 1.1 1 1.2 1.4-1.1zM171.2 719.9l-.5 .4 .9 1.2 .5-.3zM188.9 743.5l-1 .7 .9 1.2 1-.7zM159.8 704.9l-.1 .1 .8 1.2 .2 0zM161.7 707.9l-.1 .1 .8 1.3 .2-.2z"/><path fill="#eaff12" d="M157 701.1l0 0 1.1-1 0-.1zM160.4 697.8l.1 .1 1.1-1-.1-.1zM160.7 698.2l.1 .1 1.2-.9-.1-.1zM160.9 698.5l.1 .1 1.3-.9-.1-.1zM212.3 665.2l.9 1.3 1.3-.8-.9-1.4zM157 701.1l0 0 1.3-.8 0 0zM175.1 692.6l.2 .5 1.4-.6-.2-.5zM161.3 699.2l0 .1 1.5-.6-.1-.1zM173.6 695.1l.1 .4 1.5-.5-.2-.5zM223.9 678.1l.5 1.6 1.4-.5-.5-1.6zM170.4 696.7l.1 .4 2.6-.8-.1-.4zM180.5 693.5l.2 .5 1.5-.4-.2-.6zM163.8 699.2l0 .1 1.5-.4 0-.2zM223.8 681.9l.5 1.6 1.4-.4-.4-1.6zM173.1 697.4l.1 .4 1.5-.3-.1-.4zM176.6 696.9l.1 .5 1.5-.3-.1-.5zM165.1 699.5l0 .2 1.5-.2 0-.3zM174.3 697.7l.1 .4 1.5-.2-.1-.5zM180.2 697l.1 .6 1.5-.3-.1-.5zM173.3 698.5l0 .4 1.6-.2-.1-.4zM158.2 700.9l0 .1 1.5-.2 0-.1zM168.7 700.1l.1 .3 1.5-.1 0-.4zM180.5 699.1l0 .5 1.5-.1 0-.6zM159.3 700.9l0 .1 1.6-.1 0-.1zM224.1 697.6l0 1.6 1.6-.1-.1-1.6zM162.9 700.9l0 .1 1.5 0 0-.1zM164.1 701l0 .2 1.5 0 0-.2zM166.4 701.1l0 .2 1.5 .1 .1-.3zM160.5 701.2l0 .1 1.6 0 0-.1zM326.7 704.1l-.1 4 1.5 0 .1-4zM172.3 702.4l-.1 .4 1.5 .2 .1-.4zM172.2 702.7l0 .4 1.5 .2 .1-.4zM181.6 703.7l-.1 .6 1.6 .2 0-.6zM240.2 709.9l-.2 1.9 1.5 .2 .2-2zM219 708.7l-.2 1.5 1.5 .2 .2-1.5zM160.5 701.7l0 .1 1.5 .3 0-.1zM179 705l-.1 .5 1.5 .3 .2-.5zM219.7 712.2l-.3 1.4 1.5 .3 .3-1.5zM259.1 719.1l-.4 2.4 1.5 .3 .4-2.4zM169.7 703.6l0 .3 1.5 .3 0-.3zM239.1 717.1l-.4 1.9 1.5 .3 .4-1.9zM160.5 701.8l-.1 .1 1.5 .4 0-.1zM165.1 702.8l-.1 .2 1.5 .4 .1-.3zM169.7 703.8l-.1 .3 1.5 .4 .1-.4zM174.3 704.8l-.1 .4 1.5 .3 .1-.4zM183.3 707.7l-.2 .6 1.5 .4 .2-.7zM181.8 708.7l-.2 .6 1.5 .5 .2-.7zM235.4 726.6l-.6 1.8 1.5 .6 .6-1.9zM161.4 702.7l0 .1 1.4 .6 .1-.2zM182.5 710.4l-.3 .6 1.5 .5 .2-.6zM165.8 704.5l-.1 .2 1.4 .6 .1-.3zM279.1 748l-1.1 2.9 1.4 .5 1.1-2.9zM307.7 759l-1.4 3.5 1.4 .6 1.5-3.6zM161.3 703l0 .1 1.4 .6 0-.2zM183 712.2l-.2 .6 1.4 .6 .2-.6zM342.5 779.9l-1.9 4.3 2.5 1.1 1.9-4.4zM342.2 783.6l-2 4.3 1.4 .7 2-4.4zM349.7 786.9l-2.1 4.5 1.4 .7 2.1-4.6zM347.1 789.8l-2.1 4.4 1.3 .7 2.2-4.5zM168.6 706.8l-.1 .3 1.4 .7 .1-.3zM173.9 709.4l-.2 .4 1.4 .7 .2-.5zM301 771.4l-1.6 3.3 1.3 .7 1.7-3.4zM325.4 783.3l-2 3.9 1.4 .7 2-4zM161.2 703.2l-.1 .1 1.4 .8 .1-.2zM163.3 704.3l-.1 .2 1.4 .7 .1-.2zM300.6 777.5l-1.8 3.3 1.3 .8 1.8-3.4zM330.8 793.5l-2.3 4.1 1.4 .7 2.2-4.1zM332.8 794.6l-2.2 4.1 1.3 .8 2.3-4.2zM159.1 702.3l-.1 0 1.3 .8 .1-.1zM174.5 710.8l-.2 .4 1.3 .8 .3-.4zM332.5 802.5l-2.4 4.1 1.3 .8 2.5-4.2zM160 702.9l0 .1 1.3 .8 0-.1zM166.1 706.6l-.1 .2 1.2 .8 .2-.2zM180.2 715.1l-.3 .5 1.3 .8 .3-.5zM219 739.8l-1 1.5 1.3 .8 1-1.5zM293.9 786.7l-2 3.2 1.2 .8 2.1-3.2zM326.9 807.3l-2.6 3.9 1.3 .9 2.6-4zM331.9 810.4l-2.6 4.1 1.2 .8 2.7-4.1zM215.3 739l-.9 1.3 1.3 .9 .9-1.4zM269.7 774.3l-1.8 2.6 1.3 .9 1.8-2.7zM322.1 808.3l-2.6 3.9 1.2 .8 2.6-3.9zM169.7 709.7l-.2 .3 1.2 .9 .3-.4zM200 730.1l-.7 1 1.2 .9 .8-1zM214.6 740l-.9 1.3 1.3 .9 .9-1.4zM264.5 773.6l-1.8 2.5 1.3 .9 1.7-2.5zM266.4 774.9l-1.8 2.6 1.3 .9 1.8-2.6zM311.4 805.2l-2.5 3.6 1.2 .9 2.5-3.6zM316.2 808.5l-2.5 3.7 1.2 .9 2.6-3.7zM323.1 813.1l-2.7 3.9 1.2 .9 2.8-3.9zM325 814.5l-2.7 3.9 1.3 .9 2.7-4zM328 816.4l-2.8 4 1.3 .9 2.7-4zM157 701.1l0 0 1.2 .9 0 0zM180.2 717.3l-.4 .6 1.2 .9 .4-.6zM217.8 743.7l-1 1.4 1.2 .9 1.1-1.4zM261.3 774.1l-1.8 2.4 1.2 1 1.8-2.5zM159.9 703.2l-.1 .1 1.2 .9 .1-.1zM265.7 780.1l-1.9 2.5 1.2 .9 1.9-2.5zM269.5 782.8l-2 2.7 1.3 .9 1.9-2.7zM316.2 816.8l-2.8 3.7 1.3 .9 2.8-3.7zM214.4 744.4l-1 1.3 1.2 1 1-1.4zM223.8 751.5l-1.2 1.5 1.2 1 1.2-1.6zM247.3 769.2l-1.6 2.1 1.2 1 1.7-2.2zM267.1 784.1l-2 2.6 1.2 .9 2-2.6zM158.8 702.6l0 0 1.2 1 .1-.1zM185.8 723.6l-.6 .7 1.2 .9 .6-.7zM208.1 741l-1 1.2 1.2 1 1-1.2zM215.5 746.8l-1.1 1.4 1.2 1 1.1-1.4zM244.3 769.3l-1.6 2 1.1 1 1.7-2zM254.5 777.3l-1.8 2.3 1.2 .9 1.8-2.3zM161.6 704.8l-.1 .1 1.2 1 .1-.1zM164.3 707l-.1 .2 1.1 1 .2-.2zM184.5 723.4l-.6 .6 1.2 1 .6-.7zM213.8 747.1l-1.1 1.3 1.1 1 1.2-1.3zM218.4 750.8l-1.2 1.4 1.1 1 1.2-1.4zM252.2 778.2l-1.8 2.3 1.2 1 1.8-2.3zM238.2 769.3l-1.6 1.9 1.2 1 1.6-1.9zM246.4 776.1l-1.8 2.1 1.1 1 1.8-2.1zM173.9 715.8l-.4 .4 1.2 1 .3-.4zM197 735.9l-.8 .9 1.1 1.1 .9-1zM234.4 768.4l-1.6 1.8 1.1 1 1.6-1.8zM170.1 712.9l-.3 .3 1.2 1.1 .3-.3zM183.3 724.8l-.6 .6 1.1 1 .6-.6zM203.4 742.9l-1 1.1 1.1 1 1-1.1zM223.6 761l-1.5 1.6 1.1 1 1.5-1.5zM230.6 767.3l-1.6 1.8 1.1 1 1.6-1.7zM234.9 771.3l-1.6 1.8 1.1 1.1 1.7-1.9zM240.2 776l-1.8 2 1.1 1 1.8-2zM262.1 795.7l-2.3 2.5 1.1 1 2.3-2.4zM176 718.8l-.5 .4 1.1 1.1 .5-.5zM208.7 749.3l-1.1 1.2 1.1 1.1 1.1-1.2zM225.1 764.6l-1.5 1.6 1.1 1.1 1.5-1.7zM228.5 767.8l-1.6 1.7 1.1 1.1 1.7-1.7zM253.5 791.1l-2.1 2.3 1.1 1 2.1-2.2zM255.2 792.7l-2.1 2.3 1.1 1.1 2.2-2.3zM309.5 843.4l-3.3 3.5 1.1 1.1 3.4-3.6zM162.9 706.8l-.1 .2 1.1 1.1 .1-.2zM203.6 746.1l-1.1 1.1 1.1 1.1 1.1-1.1zM206.2 748.6l-1.2 1.1 1.1 1.1 1.2-1.1zM216.3 758.4l-1.3 1.4 1 1.1 1.4-1.4zM208.7 752.8l-1.3 1.2 1.1 1.1 1.2-1.2zM213.7 757.8l-1.4 1.3 1.1 1.1 1.3-1.3zM302.8 846.9l-3.5 3.4 1.1 1.1 3.5-3.4zM197.1 742.6l-1 1 1.9 2 1-1zM206.1 752l-1.2 1.1 1 1.1 1.3-1.1zM213.5 759.6l-1.4 1.3 1 1.1 1.4-1.3zM200.4 747.7l-1.1 1 1 1.1 1.1-1zM210 758l-1.3 1.2 1 1.2 1.4-1.3zM211.6 759.7l-1.3 1.3 1 1.1 1.4-1.3zM198.8 747.5l-1.1 1 1 1.2 1.1-1zM200.4 749.3l-1.2 1 1 1.1 1.2-1zM294.2 853.5l-3.6 3.2 1 1.2 3.6-3.3zM181.7 729.6l-.6 .5 .9 1.2 .7-.6zM194.9 744.7l-1.1 .9 1 1.2 1.1-1zM197.2 747.4l-1.1 .9 1 1.2 1.1-1zM199.5 750l-1.1 1 .9 1.2 1.2-1zM200.9 753.5l-1.2 1 .9 1.2 1.3-1.1zM197 750.6l-1.1 .9 .9 1.2 1.2-.9zM189.6 742.9l-1 .8 1 1.2 1-.8zM191.8 745.7l-1 .8 .9 1.2 1.1-.8zM157 701.1l0 0 .9 1.3 0-.1zM172.5 723.3l-.5 .4 .9 1.2 .5-.3z"/><path fill="#f6fd08" d="M157 701.1l0 0 1.2-1-.1 0zM158.7 699.5l.1 .1 1.1-1 0-.1zM160.5 698l.1 0 1.1-1-.1-.1zM159.7 698.8l.1 .1 1.2-1-.1 0zM169.8 690.7l.3 .3 1.2-.9-.3-.3zM157 701.1l0 0 1.2-.9 0 0zM157.9 700.4l.1 0 1.2-.8 0-.1zM214.2 659.5l1 1.4 1.2-.9-1-1.4zM158.9 699.8l.1 0 1.2-.8 0-.1zM163.8 696.5l.1 .2 1.3-.9-.1-.2zM218 663l.8 1.5 1.4-.8-.9-1.5zM159 699.9l0 0 1.4-.7-.1-.1zM170.1 693.2l.2 .3 1.3-.7-.2-.4zM176.6 690.3l.2 .4 1.4-.7-.3-.5zM215.7 668.5l.8 1.4 1.4-.7-.8-1.4zM222.7 671.9l.6 1.5 1.5-.6-.7-1.6zM157 701.1l0 0 1.4-.5 0-.1zM295.8 645l1.2 3.3 1.5-.5-1.3-3.3zM175.9 694.6l.2 .4 1.4-.4-.1-.5zM182.6 692.3l.2 .6 1.5-.5-.2-.6zM174 696.2l.1 .4 1.5-.3-.1-.5zM160.4 700.3l0 0 1.5-.3 0-.1zM158.1 700.8l0 .1 1.5-.3 0-.1zM167.4 698.9l0 .2 1.5-.2 0-.3zM171 699.4l.1 .3 1.5-.1-.1-.4zM181.6 698.1l0 .6 1.5-.2 0-.6zM160.5 700.8l0 .1 1.5-.1 0-.1zM158.2 701l0 .1 1.5-.1 0-.1zM181.7 699.8l0 .6 1.6 0-.1-.7zM180.6 700.7l0 .6 1.5 0 0-.6zM174.7 701.7l-.1 .4 1.6 .1 0-.4zM184.1 702.1l0 .6 1.5 .1 0-.7zM171.1 702.1l0 .3 1.5 .2 0-.4zM157 701.1l0 0 1.5 .2 0-.1zM220.4 706.7l-.2 1.4 1.6 .2 .1-1.5zM161.7 701.6l0 .1 1.5 .2 0-.1zM179.3 703.4l-.1 .6 1.5 .2 .1-.6zM219.1 707.6l-.2 1.5 2.7 .3 .2-1.5zM180.4 704l-.1 .5 1.5 .3 .1-.6zM217.8 708.6l-.2 1.4 1.5 .2 .2-1.4zM220.2 708.9l-.2 1.5 1.5 .2 .2-1.5zM168.6 703l0 .2 1.5 .3 0-.3zM177.9 704.4l0 .5 1.5 .3 .1-.5zM229.2 712.5l-.3 1.7 1.5 .3 .3-1.7zM218.5 712l-.3 1.4 1.5 .3 .3-1.5zM228.9 713.8l-.3 1.7 1.5 .3 .4-1.7zM181.3 705.8l-.1 .6 2.6 .6 .1-.7zM256.5 720.4l-.5 2.4 1.5 .3 .5-2.4zM157 701.1l0 0 1.5 .4 0-.1zM236.5 718l-.4 1.9 1.5 .3 .4-1.9zM174.2 705.1l-.1 .4 1.5 .4 .1-.5zM180 706.4l-.2 .6 1.5 .3 .2-.5zM183.4 707.2l-.1 .6 1.4 .4 .2-.6zM258.8 726.5l-.7 2.4 1.5 .4 .6-2.4zM158.1 701.4l0 0 1.5 .5 0-.1zM178.5 707.3l-.1 .5 1.4 .4 .2-.5zM158.1 701.5l0 0 1.5 .5 0-.1zM169.4 704.9l-.1 .3 1.5 .5 .1-.4zM312.5 748.7l-1.1 3.6 1.4 .5 1.2-3.7zM168.2 704.8l-.1 .2 1.5 .5 .1-.3zM175.9 707.6l-.1 .5 1.4 .5 .2-.5zM164.7 704.1l-.1 .1 1.4 .6 .1-.2zM304.4 757.7l-1.4 3.5 1.5 .5 1.4-3.4zM336.2 773.5l-1.8 4.2 2.5 1.1 1.8-4.3zM343.8 776.6l-1.8 4.4 1.4 .6 1.9-4.4zM165.7 704.8l-.1 .2 1.4 .6 .1-.2zM345.8 781.2l-2 4.5 1.4 .6 2-4.5zM348.6 786.4l-2 4.5 1.4 .7 2-4.5zM164.5 704.6l-.1 .2 1.4 .7 .1-.3zM339.6 786.3l-2 4.3 1.4 .6 2-4.3zM341.3 791l-2.2 4.3 1.4 .7 2.2-4.3zM298.7 773.3l-1.7 3.4 1.4 .7 1.7-3.4zM301.9 774.9l-1.8 3.4 1.4 .8 1.8-3.5zM336.6 792.6l-2.3 4.2 1.4 .7 2.2-4.2zM172.5 709.7l-.3 .3 1.4 .8 .2-.4zM297.2 778.8l-1.9 3.3 1.3 .8 1.9-3.3zM322.9 793.1l-2.2 3.9 1.4 .8 2.2-4zM325 794.2l-2.2 4 1.3 .7 2.2-3.9zM333.2 798.8l-2.3 4.1 1.3 .8 2.4-4.1zM176.4 712.3l-.3 .5 1.3 .8 .3-.5zM172.1 710.2l-.2 .4 1.3 .8 .3-.4zM324.7 801.9l-2.4 3.9 2.3 1.4 2.4-3.9zM216 738l-.9 1.3 1.3 .9 .9-1.4zM221.2 742.8l-1 1.5 1.3 .9 1-1.5zM316.1 804.4l-2.5 3.8 1.3 .8 2.5-3.7zM327 811.5l-2.7 4 1.3 .8 2.7-4zM215.6 740.6l-.9 1.4 2.2 1.6 1-1.4zM219.5 743.3l-1 1.4 2.2 1.6 1.1-1.5zM320.2 811.2l-2.7 3.8 1.3 .9 2.6-3.9zM324.1 813.8l-2.7 3.9 1.2 .9 2.7-3.9zM163.8 705.8l-.2 .2 2.2 1.6 .2-.2zM214.9 741.7l-1 1.3 1.3 .9 1-1.4zM220.7 745.7l-1.1 1.5 1.3 .9 1.1-1.5zM264.1 776.1l-1.7 2.5 1.2 1 1.8-2.6zM312.4 809.9l-2.6 3.7 1.2 .9 2.7-3.7zM187.5 723.3l-.5 .7 1.2 .9 .5-.7zM207.5 737.8l-.9 1.2 1.3 .9 .9-1.2zM217.1 744.7l-1.1 1.5 1.2 .9 1.1-1.4zM207.8 739.4l-.9 1.2 2.1 1.7 1-1.3zM225.7 752.9l-1.2 1.6 1.2 .9 1.2-1.6zM256.8 776.3l-1.8 2.3 1.2 1 1.8-2.4zM313.2 818.8l-2.8 3.7 1.2 .9 2.9-3.6zM160.7 704l-.1 .1 1.2 1 .1-.1zM165.4 707.6l-.2 .2 1.2 1 .2-.2zM203.4 737.4l-.8 1.1 1.1 .9 .9-1.1zM218.3 749l-1.2 1.4 1.2 1 1.2-1.5zM222.9 752.6l-1.2 1.6 1.2 .9 1.2-1.5zM262.9 783.8l-2 2.5 1.2 1 2-2.5zM265.6 786l-2 2.5 1.2 1 2.1-2.6zM201.9 737.5l-.9 1 1.2 1 .9-1.1zM222 753.8l-1.2 1.5 1.1 1 1.3-1.6zM259.6 784.2l-2 2.4 1.2 1 2-2.5zM174.1 715.5l-.3 .4 1.2 1 .3-.4zM178.7 719.3l-.5 .5 1.2 1 .4-.5zM177.4 718.9l-.4 .5 1.2 1 .4-.5zM197.9 736.7l-.8 .9 1.1 1.1 .9-1zM223.7 759.1l-1.4 1.6 2.9 2.6 1.4-1.7zM233.5 767.6l-1.6 1.8 1.1 1 1.6-1.8zM235.3 769.1l-1.7 1.9 1.2 1 1.6-1.8zM221.8 759.5l-1.4 1.5 1.1 1 1.4-1.5zM225.3 762.6l-1.5 1.6 1.2 1.1 1.4-1.7zM207.8 748.5l-1.1 1.2 1.1 1.1 1.2-1.2zM217.3 757.4l-1.3 1.4 1.1 1 1.3-1.4zM223.4 763l-1.5 1.5 1.1 1.1 1.5-1.6zM168 711.8l-.2 .2 1 1.1 .3-.3zM209.6 751.9l-1.3 1.2 1.9 1.9 1.3-1.3zM307.9 846.8l-3.5 3.5 1.1 1.1 3.5-3.5zM162.8 706.9l-.1 .2 1 1.1 .2-.2zM174.5 718.6l-.4 .4 1 1.1 .5-.4zM198.7 742.8l-1 .9 1 1.2 1-1zM202 746.1l-1.1 1.1 1.1 1.1 1.1-1.1zM251.2 795.3l-2.3 2.2 1.1 1.1 2.2-2.2zM189.7 735l-.8 .8 1.1 1.1 .8-.8zM233.1 779.9l-1.9 1.8 1.1 1.1 1.9-1.7zM241.3 788.4l-2.1 2 1.1 1.1 2.1-2zM198 745.1l-1.1 .9 1.1 1.2 1-1zM204.4 752l-1.2 1.1 1 1.1 1.3-1.1zM175.1 721.3l-.5 .4 1 1.1 .6-.4zM210.6 760.7l-1.4 1.2 1 1.2 1.4-1.3zM169.4 715.3l-.4 .3 1 1.2 .4-.3zM194.1 743.8l-1 .9 1 1.1 1-.8zM230.4 785.6l-2 1.7 1 1.2 2-1.7zM179.2 728.6l-.6 .5 .9 1.2 .7-.5zM191.1 743.2l-1 .8 .9 1.2 1.1-.8zM180.2 730.8l-.7 .6 .9 1.2 .8-.6zM167.6 715.2l-.3 .3 .9 1.2 .4-.2zM171.9 720.9l-.5 .3 .9 1.3 .5-.4zM186.1 741.2l-1 .6 .9 1.3 1-.7zM163.1 709.8l-.2 .1 .8 1.3 .3-.1z"/><path fill="#fff600" d="M160.6 698.1l.1 .1 1.2-1-.1-.1zM159.7 698.9l.1 0 1.2-.9-.1-.1zM164.5 695.4l.2 .2 1.2-.9-.2-.2zM167.6 693.7l.2 .2 1.3-.8-.2-.3zM206.2 666.6l.8 1.2 1.3-.8-.8-1.2zM213 661.9l.9 1.3 1.3-.8-1-1.4zM160 699.2l0 .1 1.3-.8-.1-.2zM162.9 697.3l.1 .1 1.3-.8-.1-.2zM165.9 695.3l.1 .2 1.3-.8-.1-.2zM164.1 696.9l.1 .1 2.3-1.3-.1-.2zM167.2 695.2l.1 .3 1.4-.8-.2-.2zM216.8 668l.7 1.4 1.4-.7-.8-1.5zM162.3 698.5l0 .2 1.4-.7 0-.1zM178.7 691.9l.2 .5 1.4-.6-.2-.5zM159.2 700.3l0 .1 1.5-.5 0-.1zM174.9 695.3l.2 .4 1.4-.4-.1-.5zM179.4 693.8l.2 .6 1.4-.5-.1-.5zM163.9 699.8l.1 .1 1.5-.2-.1-.2zM171 698.9l0 .3 1.5-.2 0-.3zM160.5 700.6l0 .1 1.5-.2 0-.1zM174.7 700.8l0 .4 1.5 0 0-.4zM178.2 701.8l0 .5 1.5 .1 0-.5zM332.5 707.2l-.2 4.2 1.5 .1 .2-4.2zM168.8 701.7l-.1 .3 1.6 .1 0-.3zM324.1 709.9l-.2 3.9 1.5 .1 .2-4zM331 713.3l-.3 4.1 1.5 .1 .3-4.1zM181.6 703.3l0 .5 1.5 .2 .1-.6zM176.9 703.6l-.1 .4 1.5 .2 .1-.5zM222.3 710.3l-.2 1.5 1.5 .3 .3-1.6zM259.4 717.3l-.4 2.4 1.5 .3 .4-2.4zM182.4 706.5l-.2 .6 1.5 .3 .2-.6zM238.8 718.5l-.4 1.9 1.5 .4 .4-2zM169.6 704l0 .3 1.4 .4 .1-.3zM177.7 705.9l-.2 .5 1.5 .3 .2-.5zM236.2 719.4l-.4 1.9 1.5 .3 .4-1.9zM170.7 704.5l-.1 .4 1.5 .4 .1-.4zM176.3 706.3l-.1 .4 1.5 .5 .1-.5zM179.8 707.2l-.2 .5 1.5 .5 .1-.6zM175.1 706.3l-.1 .4 1.5 .5 .1-.5zM163.7 703.4l-.1 .2 1.5 .5 0-.2zM349.5 775l-1.8 4.5 2.5 1.1 1.9-4.6zM181 710.8l-.2 .6 1.4 .6 .3-.6zM304.5 760.7l-1.4 3.5 1.4 .6 1.4-3.5zM344.9 777l-1.8 4.4 1.4 .7 1.9-4.5zM175.4 708.9l-.2 .5 1.4 .6 .2-.5zM180.9 711.2l-.3 .6 2.5 1.1 .3-.6zM346.8 781.7l-1.9 4.4 1.4 .7 1.9-4.5zM303.4 766.3l-1.6 3.4 1.4 .7 1.6-3.5zM333.2 783.3l-2 4.1 1.4 .7 2-4.2zM337.1 788.9l-2.2 4.3 1.4 .7 2.1-4.3zM340.2 790.5l-2.1 4.3 1.3 .7 2.2-4.3zM165.4 705.4l-.1 .2 1.3 .7 .2-.2zM334.5 791.5l-2.2 4.2 1.3 .7 2.2-4.2zM339.7 794.2l-2.2 4.3 1.3 .7 2.3-4.3zM173.6 710l-.2 .4 1.4 .7 .2-.4zM180.9 713.8l-.3 .6 1.4 .7 .3-.5zM297.5 775.8l-1.8 3.3 1.3 .7 1.8-3.3zM161.1 703.4l0 .1 1.3 .8 .1-.2zM320.9 792l-2.2 3.8 1.3 .8 2.2-3.9zM324 793.7l-2.3 3.9 1.4 .8 2.2-4zM331.2 797.7l-2.3 4 1.3 .8 2.3-4.1zM165.2 705.8l-.2 .2 1.4 .8 .1-.2zM295.4 784.3l-2 3.2 1.3 .8 2-3.2zM332.8 806.7l-2.6 4.1 1.3 .9 2.6-4.2zM334.8 807.9l-2.6 4.2 1.3 .8 2.6-4.2zM170 709.2l-.2 .3 1.3 .9 .2-.4zM177 713.6l-.3 .5 1.3 .8 .3-.5zM220 740.5l-1 1.4 1.3 .9 1-1.5zM272.9 773.6l-1.7 2.7 1.3 .8 1.7-2.7zM296.9 788.5l-2.1 3.3 1.3 .9 2.1-3.3zM318.9 802.3l-2.4 3.8 1.3 .8 2.4-3.8zM324.9 806l-2.5 4 2.2 1.4 2.6-3.9zM157 701.1l0 0 1.3 .9 0-.1zM270.7 774.9l-1.8 2.7 1.2 .8 1.8-2.6zM208.5 738.5l-.9 1.2 1.2 .9 .9-1.2zM255.2 772.5l-1.7 2.3 1.2 .9 1.7-2.3zM202.2 735.2l-.8 1 1.2 1 .8-1.1zM224.8 752.2l-1.3 1.6 1.2 .9 1.3-1.6zM257.7 777l-1.8 2.3 1.2 1 1.8-2.4zM246.1 770.8l-1.6 2 1.2 1 1.7-2.1zM207.4 741.9l-1 1.2 1.2 1 1-1.2zM250.4 776.8l-1.8 2.1 1.2 1 1.8-2.2zM201.2 738.2l-.9 1.1 1.2 1 .9-1.1zM222 755.7l-1.3 1.5 2 1.8 1.4-1.6zM236.4 767.8l-1.6 1.8 2.1 1.8 1.6-1.9zM243.7 773.8l-1.8 2.1 1.2 1 1.7-2.1zM164.1 707.3l-.1 .2 1.1 1 .2-.2zM195.2 734.4l-.8 .8 1.2 1.1 .8-.9zM210.4 747.5l-1.1 1.2 1.1 1.1 1.1-1.3zM174.5 716.9l-.4 .4 1.1 1 .4-.4zM178 720l-.4 .5 1.1 1.1 .5-.5zM228.8 765.8l-1.5 1.6 1.1 1.1 1.5-1.7zM232.3 768.9l-1.6 1.8 1.1 1 1.6-1.7zM311.1 839.9l-3.3 3.6 1.1 1 3.4-3.6zM172.5 715.6l-.3 .3 1.1 1.1 .3-.4zM200.1 741.3l-1 1 1.1 1.1 1-1.1zM226.8 766.2l-1.5 1.6 1 1.1 1.6-1.6zM229.4 768.6l-1.6 1.7 1.1 1.1 1.6-1.7zM256.1 793.5l-2.2 2.3 1.1 1.1 2.2-2.3zM222.3 764.1l-1.5 1.6 1 1.1 1.6-1.6zM307 846l-3.4 3.5 1.1 1.1 3.4-3.5zM212.8 756.9l-1.3 1.3 1.1 1.2 1.3-1.4zM162.7 707l-.1 .2 1 1.1 .2-.2zM164.4 708.7l-.2 .2 1 1.1 .2-.2zM190.6 735.9l-.9 .7 1.1 1.2 .8-.8zM203.7 749.4l-1.2 1.1 1 1.1 1.2-1.1zM170.7 715.8l-.4 .3 1 1.1 .4-.3zM202 749.4l-1.1 1 1 1.2 1.1-1.1zM172.8 718.6l-.5 .4 1 1.2 .5-.4zM181.4 728.3l-.6 .5 1 1.2 .7-.6zM231.9 784.3l-2 1.8 1 1.1 2-1.8zM233.5 786.1l-2 1.7 1 1.2 2-1.8zM181 728.7l-.7 .5 1 1.2 .7-.6zM163.8 709.2l-.2 .2 1.7 2.1 .3-.2zM196.3 749.7l-1.2 .9 1 1.2 1.2-1zM173.3 722.8l-.5 .3 .9 1.3 .5-.4zM158.3 703l0 .1 .8 1.2 .1 0zM159.7 705l-.1 0 .9 1.3 .1-.1zM165.1 712.7l-.3 .2 .9 1.3 .3-.3z"/><path fill="#fff000" d="M167.7 691.8l.2 .3 1.2-1-.3-.3zM157 701.1l0 0 1.2-.9 0-.1zM161.6 697.4l.1 .1 1.2-.9-.1-.2zM161.8 697.7l.1 .1 1.3-.8-.1-.1zM164.7 695.7l.1 .2 1.3-.9-.1-.2zM172.4 690.3l.3 .4 1.3-.9-.3-.4zM215.6 661.6l.9 1.4 1.3-.9-.9-1.4zM216 664.3l.8 1.4 1.3-.8-.8-1.4zM160.1 699.4l.1 .1 1.3-.7 0-.1zM177.2 694.6l.1 .4 1.5-.4-.2-.5zM178.5 694.9l.2 .5 1.4-.3-.1-.6zM165.1 699.4l0 .2 1.5-.3 0-.2zM356.6 673.1l.6 4.7 1.5-.2-.6-4.8zM169.9 699.5l0 .3 1.5-.1 0-.4zM168.7 699.9l0 .3 1.6-.2-.1-.3zM161.7 700.8l0 .1 1.5-.1 0-.1zM181.7 699.4l0 .6 1.5-.1 0-.6zM177 700.1l0 .4 1.6 0-.1-.5zM179.4 700.3l0 .6 1.5-.1 0-.5zM167.6 701.3l0 .2 1.5 .1 0-.3zM165.2 701.5l0 .2 1.5 .2 .1-.3zM179.4 702.3l-.1 .5 1.5 .1 .1-.5zM225.3 704.7l-.2 1.6 1.6 .1 .1-1.6zM171.1 702.6l-.1 .3 1.5 .2 .1-.4zM175.7 703.1l0 .4 1.5 .2 .1-.5zM176.8 703.9l0 .5 1.5 .2 0-.5zM180.2 705.2l-.1 .5 1.5 .3 .1-.5zM260 721.1l-.5 2.4 1.4 .4 .6-2.5zM162.8 702.3l-.1 .2 1.5 .3 .1-.1zM242.3 719.2l-.5 2 1.5 .4 .5-2zM166.2 703.2l-.1 .2 1.5 .4 .1-.2zM157 701.1l0 0 1.5 .4 0 0zM165 703.2l-.1 .2 1.5 .5 0-.3zM237.8 722.8l-.5 1.9 1.5 .4 .5-1.9zM226.9 722.5l-.6 1.6 1.5 .5 .5-1.7zM272.2 743l-1.1 2.7 1.5 .6 1-2.7zM306.6 758.5l-1.4 3.6 1.4 .5 1.5-3.5zM302.3 759.8l-1.4 3.4 1.4 .6 1.4-3.4zM306.7 761.6l-1.5 3.5 1.4 .6 1.5-3.5zM347.1 777.9l-1.8 4.5 1.4 .6 1.8-4.5zM349.3 778.8l-1.9 4.5 1.4 .6 1.9-4.5zM353.3 784.5l-2 4.6 2.5 1.1 2-4.7zM158.1 701.6l0 0 1.3 .7 .1-.1zM160.2 702.5l0 .1 1.4 .7 0-.1zM341.1 783.1l-2 4.3 1.4 .6 2-4.3zM351.9 787.9l-2.1 4.5 1.3 .7 2.2-4.6zM346 789.3l-2.1 4.4 1.4 .7 2.1-4.5zM333.9 787.4l-2.1 4.1 1.4 .7 2.1-4.1zM338.1 789.5l-2.1 4.2 1.3 .7 2.2-4.3zM176.9 711.3l-.2 .4 1.3 .8 .3-.5zM299.5 776.9l-1.8 3.3 1.4 .8 1.8-3.4zM333.9 795.2l-2.3 4.1 1.4 .8 2.2-4.2zM164.2 705.1l-.1 .2 1.3 .8 .1-.2zM321.9 792.5l-2.2 3.9 1.3 .8 2.3-3.9zM295.8 781.2l-1.9 3.3 1.3 .8 1.9-3.3zM219.6 738.7l-.9 1.5 1.3 .8 .9-1.5zM318.6 798.2l-2.3 3.8 1.3 .8 2.3-3.8zM268.7 773.6l-1.8 2.7 1.3 .8 1.8-2.6zM293.4 789.7l-2.1 3.2 1.2 .8 2.2-3.2zM328 812.2l-2.7 3.9 1.3 .9 2.7-4zM171.6 711l-.2 .3 1.3 .9 .2-.3zM289.9 790.7l-2.2 3.1 1.3 .9 2.1-3.1zM319.2 810.5l-2.6 3.8 1.2 .9 2.6-3.8zM215.9 742.3l-1 1.4 1.2 .9 1-1.4zM248.7 765.3l-1.5 2.2 1.2 .9 1.6-2.2zM313.4 810.6l-2.6 3.7 1.2 .9 2.6-3.7zM216.1 744.1l-1 1.3 1.2 1 1-1.4zM225.6 751l-1.2 1.6 2.2 1.6 1.2-1.6zM315.3 816.1l-2.8 3.7 1.2 .9 2.8-3.7zM317.2 817.5l-2.8 3.7 1.2 1 2.8-3.8zM319.1 818.9l-2.8 3.8 1.2 .9 2.8-3.8zM248.3 769.9l-1.7 2.1 1.2 1 1.7-2.2zM270.9 786.9l-2.1 2.7 1.2 .9 2.1-2.7zM169.1 710.5l-.3 .3 1.2 1 .3-.3zM201.6 735.9l-.9 1.1 1.2 .9 .9-1zM213.6 745.4l-1 1.3 1.2 1 1-1.4zM250.8 774.4l-1.8 2.2 1.2 1 1.8-2.3zM268.4 788.2l-2 2.6 1.1 .9 2.1-2.6zM159.7 703.3l0 .1 1.2 1 0-.1zM199.1 735.2l-.8 1 1.2 1 .8-1zM219.3 751.5l-1.2 1.5 1.1 1 1.3-1.5zM222.9 754.5l-1.2 1.5 1.1 1 1.3-1.5zM237.6 766.4l-1.6 1.9 1.2 .9 1.6-1.9zM247.7 774.5l-1.8 2.1 1.2 1 1.8-2.1zM177.8 718.5l-.5 .5 1.2 1 .4-.5zM218.4 752.6l-1.2 1.5 1.1 1 1.3-1.5zM249.1 778.4l-1.9 2.1 1.2 1 1.8-2.1zM221.9 757.6l-1.3 1.5 1.1 1 1.4-1.5zM240.6 773.8l-1.7 1.9 2.8 2.7 1.8-2.1zM257.5 788.5l-2.1 2.3 1.1 1.1 2.2-2.4zM168.4 711.4l-.3 .2 1.1 1.1 .3-.3zM229.7 766.6l-1.6 1.7 1.1 1 1.6-1.7zM238.4 774.4l-1.7 1.9 1.1 1.1 1.8-1.9zM257.7 791.8l-2.2 2.3 1.2 1.1 2.1-2.4zM159.6 703.5l-.1 .1 1.1 1.1 .1-.1zM168.2 711.6l-.3 .2 1.1 1.1 .3-.3zM204.4 745.3l-1.1 1.1 1.1 1.1 1.1-1.1zM207.9 750.2l-1.2 1.2 1.1 1.1 1.2-1.2zM206.2 750.3l-1.2 1.1 1 1.1 1.2-1.1zM217.8 761.9l-1.4 1.5 1.8 1.9 1.5-1.4zM236.4 783.3l-2 1.9 1.1 1.1 2-1.9zM166.6 711.5l-.2 .2 1 1.1 .3-.2zM180.3 726.1l-.6 .5 1 1.2 .6-.6zM194.8 741.6l-1 .9 1 1.1 1-.9zM205.2 752.8l-1.2 1.1 1 1.2 1.3-1.2zM240.6 790.7l-2.2 2 1.1 1.1 2.1-1.9zM298.4 852.8l-3.6 3.3 1.1 1.1 3.6-3.3zM160.1 704.6l0 .1 1 1.1 .1 0zM180.5 729.1l-.7 .5 1 1.2 .7-.5zM199.4 751.7l-1.2 1 1 1.1 1.2-1zM167.4 713.9l-.3 .3 .9 1.2 .3-.3zM173.7 722.5l-.5 .4 .9 1.2 .5-.4zM191.1 744.8l-1 .7 .9 1.3 1-.8zM193.9 750.1l-1.2 .8 .9 1.3 1.2-.9zM166.5 714.6l-.4 .2 .9 1.3 .3-.2z"/><path fill="#ffea00" d="M163.7 694.4l.1 .2 1.1-1.1-.2-.1zM214.6 656.1l1 1.4 1.2-.9-1-1.4zM216.3 656.4l1 1.4 1.3-.9-1.1-1.4zM214.6 662.2l.9 1.4 1.3-.8-.9-1.4zM170.8 692.1l.2 .4 1.3-.9-.2-.3zM175.7 691.2l.3 .4 1.3-.7-.2-.5zM163.3 698l.1 .2 1.4-.7-.1-.2zM179.2 690.3l.3 .5 1.4-.7-.3-.5zM168.9 696l.1 .3 1.5-.5-.2-.4zM212.3 677.6l.6 1.3 1.4-.5-.6-1.4zM166.8 697.1l.1 .3 1.5-.6-.2-.2zM162.5 699l0 .1 1.5-.5-.1-.2zM172.8 696.3l.1 .4 1.5-.5-.2-.4zM181.8 693.5l.2 .6 1.4-.4-.1-.6zM216.2 685.2l.3 1.4 1.5-.3-.3-1.4zM179.4 699.9l0 .6 1.5-.1 0-.5zM224.1 703.5l0 1.5 1.5 .1 .1-1.6zM161.7 701.5l0 .1 1.5 .2 0-.1zM219.2 706.6l-.1 1.4 1.5 .2 .1-1.5zM286.1 712.4l-.3 3 1.6 .2 .3-3.1zM179.2 704.2l-.1 .5 1.5 .3 .1-.6zM166.3 702.7l-.1 .3 1.5 .3 .1-.3zM163.9 702.6l0 .1 1.5 .4 0-.2zM258.4 722.7l-.5 2.4 1.5 .3 .5-2.4zM171.9 704.6l-.1 .3 1.5 .4 .1-.4zM181.1 706.7l-.1 .5 1.5 .4 .1-.6zM221 717.1l-.4 1.5 1.5 .4 .4-1.6zM288.4 738.8l-.9 3.1 1.4 .4 1-3.1zM160.4 702.1l-.1 .1 1.5 .5 0-.1zM179.4 708.4l-.2 .5 1.5 .5 .2-.5zM175.8 708l-.1 .4 1.4 .6 .2-.5zM180.2 709.6l-.2 .5 1.5 .6 .2-.6zM301.3 765.3l-1.6 3.4 1.4 .7 1.6-3.4zM304.5 766.8l-1.6 3.4 1.4 .7 1.6-3.5zM346.5 785.5l-2.1 4.4 1.4 .7 2.1-4.5zM302.3 768.8l-1.7 3.4 1.4 .7 1.6-3.4zM334.3 783.8l-2 4.1 1.4 .7 2-4.2zM345 788.8l-2.1 4.4 1.3 .7 2.2-4.5zM165.5 705.2l-.1 .2 1.3 .7 .1-.2zM343.4 792l-2.2 4.4 1.4 .7 2.2-4.4zM166.4 705.9l-.1 .2 1.4 .8 .1-.3zM180.1 712.9l-.3 .5 1.4 .7 .3-.5zM299.8 773.9l-1.8 3.3 1.4 .7 1.8-3.3zM299.2 780l-1.9 3.3 1.4 .8 1.9-3.4zM300.9 784.2l-2 3.4 1.3 .8 2-3.4zM327.4 799.5l-2.3 4 1.3 .8 2.4-4zM221.6 740l-.9 1.5 1.3 .8 1-1.6zM297.4 785.5l-2 3.3 1.3 .8 2-3.3zM172 710.5l-.2 .3 1.2 .9 .3-.4zM167.9 708.2l-.2 .2 1.3 .9 .1-.3zM220.2 742.2l-.9 1.5 1.2 .8 1-1.5zM266.7 772.4l-1.7 2.5 1.3 .9 1.7-2.6zM326 810.9l-2.6 3.9 1.2 .9 2.7-4zM267.4 775.6l-1.8 2.6 1.3 .8 1.8-2.6zM322.1 812.5l-2.7 3.8 1.3 .9 2.7-3.9zM205.9 738l-.8 1.1 1.2 1 .9-1.2zM170 711.3l-.2 .3 1.1 .9 .3-.3zM207.1 740.3l-.9 1.2 1.2 .9 .9-1.2zM222 751.9l-1.2 1.5 1.2 1 1.2-1.6zM255.4 778l-1.8 2.3 1.2 1 1.8-2.3zM217.4 750.1l-1.1 1.4 1.1 1 1.2-1.5zM157 701.1l0 0 1.1 1 .1 0zM244.6 774.6l-1.8 2 1.2 1 1.7-2zM205.9 743.6l-1 1.2 1.1 1 1.1-1.2zM209.5 746.7l-1.1 1.2 1.1 1.1 1.1-1.3zM163.1 706.6l-.1 .2 1.1 1 .2-.1zM171 713.7l-.3 .4 1.1 1 .3-.3zM220.9 758.7l-1.3 1.5 1.1 1 1.4-1.5zM227.1 764.2l-1.5 1.6 1.1 1.1 1.5-1.7zM210.4 750.9l-1.2 1.3 1.1 1.1 1.3-1.3zM257 794.3l-2.3 2.4 1.1 1 2.3-2.3zM218.9 760.9l-1.4 1.4 1 1.1 1.5-1.5zM157.8 701.9l0 .1 1.1 1.1 0-.1zM201.2 745.3l-1.1 1 1.1 1.1 1-1zM205.3 749.4l-1.1 1.2 1 1.1 1.2-1.2zM275.3 819.4l-2.8 2.8 1.1 1.1 2.8-2.8zM194.7 740.1l-1 .9 1.9 2 .9-.9zM208.6 754.5l-1.3 1.2 1 1.1 1.3-1.2zM181.9 727.8l-.6 .6 1 1.2 .7-.7zM204.3 753.7l-1.2 1.1 1 1.1 1.2-1.1zM194.1 745.3l-1 .9 .9 1.2 1.1-.9zM190.3 745.3l-1 .8 .9 1.3 1-.8zM188.9 745l-1.1 .7 .9 1.3 1.1-.8z"/><path fill="#ffe300" d="M166.2 691.9l.2 .3 1.1-1.1-.3-.2zM157.8 700.3l.1 0 1.1-1-.1-.1zM167.8 692l.2 .3 1.2-1-.2-.3zM168.7 693.2l.2 .3 1.3-.8-.2-.4zM214 665.5l.8 1.4 1.3-.8-.8-1.4zM178.8 689.5l.3 .5 1.4-.7-.3-.5zM174.2 693.4l.2 .4 2.5-1-.2-.5zM213.1 679.6l.5 1.3 1.4-.5-.5-1.4zM341.9 641l1.4 4.4 1.5-.4-1.4-4.5zM295.2 661.5l.9 3.2 1.5-.3-.9-3.3zM171.9 697.4l0 .4 1.5-.4-.1-.4zM223.3 684.6l.4 1.5 1.5-.3-.4-1.6zM351.8 659.7l.9 4.6 1.5-.3-.9-4.6zM225.2 687.8l.3 1.7 1.6-.3-.3-1.7zM181.4 697.2l.1 .6 1.5-.2-.1-.6zM338.3 678.8l.5 4.3 1.5-.1-.5-4.3zM323.1 695.3l.1 3.9 1.5 0-.1-3.9zM331.3 695l.1 4.1 1.5 0-.1-4.1zM225.2 705.9l-.2 1.6 1.6 .1 .1-1.6zM256.9 708.1l-.2 2.3 1.6 .2 .1-2.4zM161.7 701.8l-.1 .1 1.6 .2 0-.1zM157 701.1l0 0 1.5 .3 0-.1zM258.8 720.9l-.5 2.4 1.5 .3 .5-2.4zM313.2 731.5l-.8 3.6 1.5 .4 .8-3.7zM175.4 705.4l-.1 .4 1.4 .4 .2-.5zM225.9 717l-.4 1.6 1.5 .4 .4-1.6zM257.2 728l-.7 2.3 1.5 .4 .6-2.4zM309.9 745l-1 3.6 1.4 .4 1.1-3.6zM182.9 709l-.2 .6 1.5 .5 .2-.6zM306.9 746.9l-1.1 3.6 1.4 .4 1.1-3.5zM311.4 748.3l-1.2 3.6 1.5 .5 1.2-3.6zM308.3 750.3l-1.2 3.5 3.7 1.3 1.2-3.6zM306.3 752.5l-1.2 3.5 1.4 .6 1.3-3.6zM308.5 753.3l-1.2 3.5 1.4 .6 1.3-3.6zM306.5 755.5l-1.3 3.5 1.4 .6 1.3-3.6zM303.4 763.3l-1.5 3.4 2.5 1.1 1.5-3.5zM344.7 780.8l-2 4.4 1.4 .6 2-4.4zM302.3 765.8l-1.5 3.4 1.4 .7 1.5-3.5zM340 782.6l-2 4.3 1.4 .6 2-4.3zM168.7 706.6l-.1 .3 1.4 .6 .1-.3zM301.2 768.3l-1.6 3.4 1.3 .7 1.7-3.4zM333.4 791l-2.2 4.1 1.4 .8 2.2-4.2zM322.3 796.6l-2.3 3.8 1.3 .8 2.4-3.9zM329.5 800.7l-2.4 4 1.3 .8 2.4-4zM170.8 710.1l-.2 .3 1.3 .9 .2-.4zM217.3 740.3l-1 1.4 1.3 .8 1-1.4zM290.4 787.8l-2.1 3.1 2.3 1.5 2.1-3.2zM218.5 742.6l-1 1.5 1.3 .9 1-1.5zM266.1 777.5l-1.9 2.5 1.3 .9 1.8-2.5zM311.5 809.3l-2.6 3.6 1.2 .9 2.6-3.7zM247.6 766.9l-1.6 2.1 1.2 1 1.6-2.2zM260.9 776.6l-1.8 2.4 1.2 1 1.9-2.5zM270.5 783.5l-2 2.7 1.2 .9 2-2.7zM168.3 709.6l-.2 .3 1.2 .9 .2-.3zM201 736.7l-.9 1 1.2 1 .8-1zM208.3 742.6l-1 1.2 1.2 1 1-1.2zM266.9 790.1l-2.1 2.6 1.1 1 2.2-2.6zM207.5 743.5l-1 1.2 1.2 1 1-1.2zM234.6 766.3l-1.5 1.8 1.1 1 1.6-1.9zM258.1 786l-2 2.3 1.1 1 2.1-2.4zM229 763.7l-1.5 1.7 1.2 1 1.5-1.7zM164.9 708.2l-.2 .2 1.1 1 .2-.2zM167.2 710.9l-.3 .3 1.1 1.1 .3-.3zM219.7 761.7l-1.4 1.5 1.1 1 1.4-1.4zM226.5 768.2l-1.6 1.7 1.1 1 1.6-1.6zM236.7 778.1l-1.9 1.8 1.1 1.1 1.9-1.9zM305.3 844.4l-3.4 3.4 1.1 1.1 3.4-3.5zM157.8 702l0 0 1 1.1 .1 0zM184 729.1l-.7 .6 1.1 1.1 .7-.6zM202 747.7l-1.1 1.1 1 1.1 1.2-1.1zM183 730l-.7 .6 1 1.2 .7-.7zM211.4 761.5l-1.4 1.3 1 1.2 1.4-1.3zM231.1 783.4l-1.9 1.8 1 1.1 1.9-1.7zM210.3 762.5l-1.4 1.2 1 1.2 1.4-1.3zM166.1 711.9l-.3 .3 1 1.2 .3-.3zM196.4 748.1l-1.1 .9 .9 1.2 1.2-1zM195.4 750.3l-1.1 .9 .9 1.3 1.2-1zM159.1 704l-.1 0 .9 1.3 .1-.1zM161.8 707.8l-.1 .1 .9 1.3 .1-.2z"/><path fill="#ffdd00" d="M164.6 693.7l.2 .2 1.1-1-.2-.2zM168.6 691.1l.2 .2 1.2-.9-.3-.3zM166 693.5l.2 .2 1.2-.9-.2-.3zM169.4 692.1l.2 .3 1.3-.9-.3-.3zM159.3 700.6l0 .1 1.5-.3 0-.1zM220.6 688.7l.3 1.5 1.5-.2-.3-1.6zM162.8 700.2l0 .1 1.6-.2-.1-.2zM355.4 673.2l.6 4.7 1.5-.2-.6-4.7zM176.9 698.7l0 .4 1.6-.1-.1-.5zM328.8 692.1l.2 4.1 1.5-.1-.2-4.1zM178.2 700.7l0 .5 1.5 0 0-.5zM165.2 701.1l0 .2 1.6 0 0-.2zM178.2 701.1l0 .5 1.5 0 0-.5zM342 701.1l0 4.4 1.5 0 0-4.4zM164 702.1l0 .2 1.5 .2 0-.2zM318 723.7l-.5 3.8 1.5 .3 .6-3.8zM221 711.2l-.2 1.6 1.5 .2 .2-1.5zM256.8 718.7l-.4 2.4 1.5 .3 .4-2.4zM316 729.1l-.7 3.8 1.5 .3 .7-3.8zM304 735l-.9 3.5 1.5 .4 .9-3.5zM312.5 739.9l-.9 3.6 1.4 .4 1-3.6zM308.7 756.3l-1.3 3.6 1.4 .5 1.3-3.5zM205.4 719.7l-.4 1.1 1.4 .6 .4-1.2zM305.5 758.1l-1.4 3.5 1.5 .6 1.4-3.5zM204.4 722.2l-.5 1.1 1.3 .7 .6-1.2zM341.8 787.3l-2.1 4.3 1.4 .7 2.1-4.4zM164.4 704.7l-.1 .2 1.4 .7 .1-.2zM170.6 708.1l-.1 .3 1.3 .7 .2-.3zM330.3 789.4l-2.2 4 1.4 .8 2.1-4.1zM330.2 797.1l-2.4 4 1.4 .8 2.3-4.1zM172.3 709.9l-.2 .4 1.3 .8 .2-.4zM296.8 781.8l-1.9 3.3 1.3 .8 1.9-3.3zM331.5 801.9l-2.4 4.1 1.3 .8 2.4-4.2zM225 743.6l-1.1 1.6 1.3 .8 1.1-1.6zM292.9 786l-2 3.2 1.3 .9 2-3.2zM322.9 804.8l-2.5 3.9 1.3 .8 2.5-3.9zM288.9 790.1l-2.1 3.1 1.2 .8 2.2-3.1zM263.2 775.5l-1.8 2.4 1.2 1 1.8-2.6zM321.9 820.9l-2.8 3.9 1.2 .9 2.9-3.9zM205 737.3l-.9 1.1 1.2 1 .9-1.2zM314.2 819.6l-2.9 3.6 1.2 1 2.9-3.7zM251.7 775.1l-1.8 2.2 1.2 1 1.8-2.2zM198.5 736l-.8 .9 1.1 1 .9-1zM237 770.7l-1.6 1.9 1.1 1 1.7-1.9zM234.1 770.5l-1.7 1.8 1.1 1.1 1.7-1.9zM166.5 710l-.2 .2 1.1 1 .2-.2zM182.8 726.9l-.6 .6 1.1 1.2 .6-.7zM196.2 740.3l-1 .9 1.1 1.1 .9-.9zM200.3 744.4l-1 1.1 1 1.1 1.1-1.1zM300.3 849.5l-3.6 3.3 1.1 1.1 3.5-3.3zM159.3 703.8l-.1 0 1 1.2 .1-.1zM195.7 745.6l-1.1 .9 1 1.2 1.1-1zM200.3 750.9l-1.2 1 1 1.2 1.2-1zM201.8 752.7l-1.2 1 1 1.2 1.2-1zM225 779.4l-1.8 1.6 .9 1.1 1.9-1.6zM194.9 746.2l-1.1 .9 1 1.2 1.1-.9zM207 760.7l-1.4 1.2 .9 1.2 1.5-1.2zM168.1 714.8l-.3 .3 .9 1.2 .4-.3z"/><path fill="#ffd701" d="M175.9 691.5l.2 .4 1.4-.6-.2-.5zM169.7 694.9l.1 .3 1.4-.6-.1-.4zM362.9 661.1l.9 4.8 1.5-.2-.9-4.9zM162.8 700.1l0 .1 1.5-.2 0-.2zM361.3 665.1l.7 4.8 1.6-.2-.8-4.9zM175.7 698.8l.1 .5 1.5-.2-.1-.5zM331.9 685.8l.3 4.1 1.6-.1-.4-4.1zM320.8 701.1l0 3.9 1.5 0 0-3.9zM339.7 701.1l-.1 4.3 1.5 0 .1-4.3zM322 704l-.2 3.9 1.6 0 .1-3.9zM340.8 704.3l-.1 4.3 1.5 .1 .1-4.4zM284.2 705.6l-.1 2.9 1.5 .1 .1-3zM330.1 707.2l-.2 4 1.6 .1 .2-4.1zM340.4 713.9l-.4 4.4 1.6 .1 .3-4.4zM329.6 716.2l-.4 4.1 1.5 .1 .4-4.1zM341 720.4l-.5 4.4 1.5 .2 .5-4.4zM238.2 715.4l-.3 1.9 1.5 .3 .3-1.9zM218.3 713l-.3 1.5 1.5 .3 .3-1.5zM170.8 704.3l-.1 .3 1.5 .4 .1-.4zM312 736.9l-.9 3.6 1.5 .4 .9-3.7zM313.7 740.2l-1 3.6 1.5 .5 .9-3.8zM160.4 702l0 .1 1.5 .4 0-.1zM314.1 743.2l-1.1 3.7 1.5 .4 1.1-3.7zM216.7 719.4l-.4 1.4 1.4 .5 .5-1.5zM161.4 702.6l0 .1 1.4 .6 .1-.2zM305.4 755.1l-1.3 3.5 1.4 .6 1.3-3.6zM351.7 775.9l-1.8 4.5 1.4 .6 1.9-4.6zM164.1 705.2l-.1 .2 1.3 .8 .2-.2zM294.9 787.3l-2.1 3.2 1.3 .9 2.1-3.3zM171.3 711.5l-.3 .3 1.3 1 .2-.4zM268.5 782.2l-1.9 2.6 1.2 .9 2-2.6zM201.2 734.4l-.8 1.1 1.2 .9 .9-1zM200 736l-.8 1 1.2 1 .8-1.1zM255.9 781.2l-1.9 2.3 1.2 1 1.9-2.3zM185 724.6l-.6 .6 1.2 1.1 .6-.7zM201.8 742.9l-1 1 1.1 1.1 1-1.1zM219.9 759.8l-1.4 1.4 1.1 1.1 1.4-1.5zM304.5 848.6l-3.5 3.4 1 1.2 3.6-3.5zM170.2 719.2l-.5 .3 .9 1.3 .5-.3zM188.1 745.5l-1.1 .7 .9 1.3 1.1-.7z"/><path fill="#ffd004" d="M158 700.4l0 .1 1.2-.9 0 0zM165 699.3l.1 .1 1.5-.3-.1-.2zM216.9 688.4l.3 1.4 1.5-.3-.3-1.5zM328.1 683.1l.4 4.1 1.5-.2-.4-4zM328.6 689.1l.3 4.1 1.5-.1-.2-4.1zM321.8 692.5l.1 3.9 1.5-.1-.1-3.9zM333.5 691.9l.2 4.1 1.5 0-.1-4.2zM161.7 701.1l0 .1 1.5 .1 0-.2zM173.5 702l-.1 .4 1.6 .1 0-.4zM319.4 709.6l-.2 3.8 1.5 .2 .2-3.9zM321.6 712.6l-.3 3.9 1.5 .1 .3-3.9zM319 715.3l-.4 3.8 1.6 .2 .3-3.9zM317.6 718l-.5 3.8 1.5 .2 .5-3.9zM227.8 713.6l-.3 1.7 1.5 .3 .3-1.7zM240.3 717.3l-.4 2 1.5 .3 .4-2zM314.3 731.7l-.7 3.7 1.5 .3 .7-3.7zM313.2 737.2l-.9 3.6 1.5 .4 .9-3.7zM307.4 752.9l-1.2 3.5 1.4 .6 1.3-3.6zM309.7 753.7l-1.3 3.6 1.4 .5 1.3-3.6zM348.4 774.6l-1.8 4.5 1.5 .6 1.8-4.6zM350.3 791.3l-2.2 4.5 1.4 .7 2.2-4.6zM330.5 801.3l-2.4 4 1.3 .8 2.4-4.1zM235.5 767l-1.5 1.8 1.1 1.1 1.6-1.9z"/><path fill="#ffca07" d="M173.3 698.8l.1 .4 1.5-.2-.1-.4zM330.7 685.9l.4 4.1 1.5-.1-.3-4.1zM331 688.9l.2 4.1 1.6 0-.3-4.2zM334.7 691.8l.2 4.2 1.5-.1-.2-4.2zM328.9 695.1l.1 4.1 1.6-.1-.1-4zM320.8 698.3l0 3.8 1.5 0 0-3.9zM322 701.1l-.1 3.9 1.6 0 0-3.9zM334.9 701.1l0 4.2 1.5 0 .1-4.2zM324.3 704l-.1 4 1.5 0 .1-3.9zM346.6 707.7l-.2 4.5 1.5 .1 .2-4.5zM322.8 712.7l-.4 3.9 1.6 .1 .3-3.9zM335.4 716.7l-.4 4.2 1.5 .2 .5-4.2zM169.9 702.5l-.1 .3 1.6 .2 0-.4zM318.4 720.9l-.5 3.8 1.5 .2 .5-3.8zM222.2 711.4l-.3 1.6 1.5 .2 .3-1.5zM315.3 726.2l-.6 3.7 1.5 .3 .6-3.8zM317.6 726.6l-.6 3.7 1.5 .3 .6-3.8zM207.3 713.7l-.3 1.1 1.5 .4 .3-1.2zM310.7 742.3l-1 3.6 1.4 .4 1-3.6zM220.9 721.9l-.5 1.5 1.4 .5 .5-1.6zM307.2 749.9l-1.2 3.5 1.4 .5 1.2-3.5zM169.1 708.4l-.2 .3 1.3 .8 .2-.3zM329.9 809.1l-2.6 4.1 1.3 .8 2.6-4zM265.1 776.8l-1.8 2.5 1.2 1 1.9-2.6zM173 713.2l-.3 .3 1.2 1 .3-.4zM220.1 750.4l-1.1 1.5 2.1 1.7 1.2-1.5zM172.3 714l-.3 .3 1.2 1.1 .3-.4zM222.7 760.3l-1.4 1.5 1.1 1 1.4-1.5zM312 840.7l-3.3 3.6 1.1 1.1 3.3-3.7zM193.3 741.4l-1 .8 1 1.2 1-.9z"/><path fill="#ffc40a" d="M210.6 660.7l1 1.3 1.2-.9-.9-1.3zM328.5 658.3l1 4.1 1.5-.3-1-4.1zM223.9 686.9l.3 1.6 1.5-.3-.3-1.6zM331.1 664.1l.8 4.1 1.5-.3-.8-4.1zM343.2 664.9l.8 4.4 1.6-.3-.9-4.4zM223.9 695.3l.1 1.5 1.6-.1-.2-1.6zM328.4 686.1l.3 4.1 1.5-.1-.3-4.1zM333.1 685.7l.3 4.2 1.5-.1-.3-4.2zM221.7 697.7l.1 1.5 1.5 0 0-1.6zM333.7 694.9l.1 4.2 1.5 0-.1-4.2zM333.7 704.2l-.1 4.2 1.5 0 .2-4.2zM315.9 709.4l-.3 3.8 1.6 .1 .2-3.8zM344.1 710.9l-.3 4.4 1.6 .1 .2-4.4zM339.2 713.9l-.3 4.2 1.5 .2 .3-4.3zM317.8 715.2l-.3 3.8 1.5 .1 .4-3.8zM316.4 717.9l-.4 3.7 1.5 .2 .4-3.8zM344.5 720.8l-.5 4.4 1.5 .2 .5-4.4zM315.7 723.4l-.6 3.7 1.6 .3 .5-3.8zM315.5 731.9l-.8 3.7 1.5 .4 .8-3.8zM311.4 739.6l-1 3.6 1.5 .4 1-3.6zM309.1 747.6l-1.1 3.6 1.5 .5 1.1-3.6zM307.6 755.9l-1.3 3.6 1.4 .5 1.3-3.5zM295.9 787.9l-2.1 3.3 1.3 .8 2.1-3.3z"/><path fill="#ffbd0d" d="M356 669.6l.7 4.7 1.5-.2-.7-4.8zM334.3 685.6l.3 4.2 1.5-.1-.3-4.2zM332.2 688.9l.2 4.1 1.5-.1-.2-4.1zM320.6 692.5l.1 3.9 1.6-.1-.2-3.8zM320.7 695.4l.1 3.9 1.5-.1-.1-3.9zM324.2 695.3l.1 3.9 1.6 0-.1-4zM331.4 701.1l0 4.1 1.5 .1 0-4.2zM319.5 706.8l-.2 3.8 1.6 .1 .2-3.9zM326.6 707l-.2 4 1.5 .1 .2-4zM345.4 707.7l-.2 4.4 1.6 .1 .2-4.5zM320.6 709.7l-.3 3.8 1.6 .2 .2-3.9zM339.4 710.7l-.3 4.3 1.6 .1 .2-4.4zM318.1 712.4l-.4 3.8 1.6 .1 .3-3.8zM332.2 713.4l-.4 4.1 1.5 .1 .4-4.1zM341.6 714l-.4 4.4 2.7 .2 .4-4.4zM345.1 714.3l-.4 4.4 1.6 .1 .3-4.4zM315.5 715l-.4 3.7 1.5 .2 .4-3.8zM342.2 720.6l-.5 4.3 1.5 .2 .5-4.4zM314.5 723.3l-.5 3.7 1.5 .2 .6-3.7zM314.8 728.9l-.7 3.8 1.5 .3 .7-3.8zM314.3 737.4l-.9 3.7 1.5 .4 .9-3.7zM167.3 703.7l-.1 .2 1.5 .4 .1-.3zM311.1 745.3l-1.1 3.6 1.4 .5 1.1-3.7zM310.3 748l-1.2 3.6 1.5 .4 1.1-3.6zM350.4 779.3l-1.9 4.5 1.4 .6 1.9-4.6zM224.4 761.8l-1.4 1.6 1.1 1.1 1.5-1.6zM210.8 758.9l-1.3 1.2 1 1.2 1.4-1.3z"/><path fill="#ffb00d" d="M352.2 656l1 4.7 1.5-.4-1-4.6zM363.7 653.4l1.1 4.9 1.5-.3-1.1-5zM357.2 669.4l.7 4.7 1.5-.2-.7-4.7zM318.4 701.1l0 3.8 1.5 0 .1-3.8zM317.2 703.9l-.1 3.8 1.6 0 .1-3.8zM345.5 704.4l-.1 4.4 1.5 .1 .2-4.5zM338.4 707.4l-.2 4.3 1.5 .1 .2-4.3zM317 709.5l-.2 3.8 1.5 .1 .3-3.8zM341.8 710.8l-.3 4.3 2.7 .2 .3-4.4zM345.6 731l-.8 4.4 1.5 .3 .8-4.5zM339.2 733.2l-.8 4.3 1.5 .3 .8-4.3zM345 734.3l-.8 4.4 1.5 .3 .8-4.5zM314.9 734.7l-.8 3.7 1.5 .3 .8-3.7zM309.1 739l-1 3.6 1.5 .4 1-3.6zM312.2 745.6l-1.1 3.7 1.5 .4 1.1-3.7z"/><path fill="#ff9a0a" d="M331 560.2l3.3 4.1 1.2-.9-3.3-4.2zM332.5 564l3.2 4.2 1.2-1-3.2-4.2zM351.4 652.6l1.1 4.6 1.5-.3-1.1-4.6zM348.3 660.4l1 4.6 1.5-.3-1-4.6zM354.1 659.2l.9 4.7 1.6-.3-1-4.7zM360.1 665.3l.8 4.8 1.5-.2-.8-4.9zM343.2 671.6l.7 4.4 1.5-.2-.7-4.4zM361.9 668.7l.7 4.8 1.5-.2-.7-4.9zM350.7 673.9l.6 4.6 1.5-.2-.6-4.6zM358.9 672.7l.6 4.8 1.5-.2-.6-4.8zM324.9 686.4l.3 4 1.5-.1-.3-4zM331.2 692l.1 4.1 1.6-.1-.2-4.1zM325.5 698.2l0 3.9 2.7 .1 0-4.1zM319.6 701.1l0 3.8 1.5 .1 .1-3.9zM317.2 706.7l-.2 3.8 1.5 .1 .2-3.8zM347.8 707.8l-.2 4.5 1.5 .1 .2-4.6zM345.3 711l-.3 4.4 1.5 .1 .3-4.4zM347.6 711.1l-.2 4.5 1.5 .1 .3-4.5zM343.9 714.2l-.3 4.4 1.5 .1 .3-4.4zM344.8 717.5l-.4 4.5 2.7 .3 .4-4.5zM339.8 720.3l-.5 4.3 1.5 .2 .6-4.3zM316.1 720.6l-.5 3.8 1.5 .2 .5-3.8zM316.9 723.6l-.6 3.7 1.5 .3 .6-3.8zM336.7 726.4l-.6 4.2 1.5 .2 .6-4.2zM340.4 733.4l-.8 4.4 1.5 .3 .8-4.4zM343.8 734.1l-.8 4.4 1.5 .3 .9-4.5zM339.8 736.6l-.9 4.3 2.6 .6 .9-4.3zM313.8 734.4l-.9 3.7 1.5 .4 .9-3.7zM339.1 739.8l-.9 4.3 1.5 .4 .9-4.4zM311.8 742.6l-1 3.6 1.5 .5 1-3.7zM340.7 757.3l-1.4 4.3 1.5 .5 1.4-4.4z"/><path fill="#ff8508" d="M167.1 693l.2 .2 1.2-.9-.2-.3zM333.4 563.3l3.2 4.1 1.3-.9-3.3-4.2zM334.9 567.1l3.1 4.2 1.2-.9-3.1-4.3zM337.7 656.1l1 4.2 1.5-.3-1-4.3zM325.3 665.3l.8 4 1.5-.3-.8-4zM362.4 672.2l.6 4.9 1.5-.2-.6-4.9zM340.6 678.6l.5 4.3 1.5-.2-.4-4.3zM332.6 698l0 4.2 1.5 0 0-4.2zM334.9 704.2l-.1 4.2 1.5 .1 .2-4.3zM346.7 704.4l-.1 4.5 1.5 .1 .1-4.6zM318.3 706.7l-.1 3.8 1.5 .1 .2-3.8zM321.9 706.9l-.2 3.9 1.5 0 .2-3.9zM328.8 710.1l-.2 4.1 1.5 .1 .2-4.1zM346.5 711l-.3 4.5 1.5 .1 .3-4.5zM320.4 712.5l-.3 3.9 1.5 .1 .3-3.9zM346.3 714.3l-.4 4.5 2.7 .3 .4-4.6zM343.7 717.4l-.5 4.4 1.5 .2 .5-4.4zM317.2 720.8l-.5 3.8 1.6 .2 .5-3.8zM339.7 730.1l-.7 4.3 1.5 .2 .8-4.3zM313.7 728.7l-.7 3.7 1.5 .3 .7-3.7zM346.2 734.5l-.9 4.4 1.5 .3 .9-4.5zM338.6 736.4l-.9 4.3 1.5 .3 .9-4.3zM343.2 737.3l-.9 4.4 1.5 .3 .9-4.4zM312.6 734.2l-.8 3.6 1.5 .4 .8-3.7zM340.3 740.1l-1 4.3 1.5 .3 1-4.3zM340.5 753.7l-1.3 4.3 1.5 .5 1.3-4.3zM339.6 756.9l-1.4 4.3 1.5 .5 1.3-4.3zM345.2 758.7l-1.4 4.4 1.4 .5 1.5-4.5zM296.4 784.9l-2 3.2 1.3 .9 2-3.3z"/><path fill="#ff7006" d="M364.8 653.1l1.1 4.9 1.5-.3-1.1-4.9zM362.4 664.9l.8 4.8 1.5-.2-.8-4.9zM354.2 673.4l.6 4.6 1.5-.1-.6-4.7zM225 694l.1 1.6 1.5-.2-.1-1.6zM318.1 689.8l.2 3.8 1.5 0-.2-3.9zM335.9 691.7l.2 4.3 1.5-.1-.2-4.2zM333.8 701.1l-.1 4.2 1.5 0 .1-4.2zM347.9 704.4l-.2 4.5 1.6 .1 .1-4.5zM340.7 707.5l-.2 4.4 2.7 .1 .2-4.4zM344.3 707.6l-.2 4.5 1.5 0 .2-4.4zM319.2 712.5l-.3 3.8 1.5 .1 .4-3.8zM348.6 714.5l-.3 4.5 1.5 .2 .3-4.6zM334.3 716.6l-.4 4.2 1.5 .2 .4-4.2zM355.4 718.5l-.5 4.6 1.6 .2 .4-4.7zM357.7 718.7l-.4 4.7 1.5 .2 .5-4.8zM344.1 724.1l-.5 4.4 1.5 .2 .6-4.4zM316.5 726.4l-.7 3.7 1.5 .3 .7-3.8zM338.6 729.9l-.8 4.2 1.6 .3 .7-4.3zM340.9 730.2l-.7 4.4 1.5 .2 .7-4.3zM344.4 730.8l-.8 4.4 1.6 .3 .7-4.5zM346.7 731.2l-.7 4.4 2.6 .5 .8-4.5zM342.7 733.9l-.8 4.3 1.5 .3 .8-4.4zM350.2 738.7l-1 4.5 1.5 .3 1-4.5zM338.4 743l-1 4.3 1.5 .3 1-4.3zM341.4 750.5l-1.2 4.4 1.5 .4 1.2-4.4zM356.2 754.5l-1.3 4.7 1.5 .4 1.3-4.7zM341.6 754.1l-1.3 4.3 1.5 .5 1.3-4.4zM344.1 758.3l-1.4 4.4 1.4 .5 1.4-4.4zM344.2 761.9l-1.5 4.4 1.4 .5 1.5-4.4z"/><path fill="#ff5b03" d="M330.1 560.9l3.2 4.2 1.3-1-3.3-4.1zM331.6 564.7l3.1 4.2 1.3-1-3.2-4.1zM333.9 567.8l3.1 4.2 1.3-.9-3.1-4.2zM341.8 581.1l2.8 4.4 1.3-.8-2.8-4.5zM325.8 662.1l.9 4 1.5-.3-.9-4zM363.3 657.3l1 4.8 1.5-.3-1-4.9zM341.5 668.6l.7 4.3 1.6-.2-.8-4.4zM358.4 669.2l.7 4.8 1.5-.2-.7-4.8zM364.7 671.9l.7 4.9 1.5-.2-.7-4.9zM340.1 685.1l.4 4.3 1.5-.1-.3-4.3zM339.2 688.4l.3 4.3 1.5-.1-.3-4.3zM342.7 688.1l.3 4.4 1.5-.1-.2-4.4zM350.1 694.4l.2 4.5 1.5 0-.1-4.6zM319.6 698.3l0 3.8 1.6 0-.1-3.9zM329 698.1l.1 4.1 1.5 0 0-4.1zM336.1 701.1l0 4.2 1.5 .1 .1-4.3zM346.7 701.1l0 4.5 1.5 0 .1-4.5zM339.6 704.3l-.1 4.3 1.5 .1 .2-4.4zM344.3 704.4l-.1 4.4 1.5 .1 .2-4.5zM320.7 706.8l-.2 3.9 1.6 .1 .1-3.9zM339.5 707.5l-.2 4.3 1.6 .1 .2-4.4zM340.6 710.7l-.3 4.4 1.5 .1 .3-4.4zM348.8 711.2l-.3 4.5 1.6 .1 .3-4.6zM341.3 717.2l-.4 4.4 2.7 .3 .4-4.4zM343.3 720.7l-.5 4.4 1.6 .2 .5-4.4zM355.1 721.9l-.6 4.7 1.5 .2 .6-4.7zM344.9 727.5l-.7 4.4 2.7 .5 .7-4.5zM349.1 731.5l-.8 4.5 1.5 .3 .8-4.5zM341.5 733.6l-.8 4.4 1.5 .3 .8-4.4zM347.3 734.7l-.8 4.4 1.5 .3 .8-4.5zM351.1 745.9l-1.2 4.6 1.5 .4 1.1-4.6zM342.2 747.3l-1.1 4.3 2.6 .8 1.2-4.4zM354.8 750.4l-1.2 4.7 1.5 .4 1.2-4.7zM357.1 751l-1.2 4.7 1.5 .4 1.2-4.7zM355.1 754.2l-1.3 4.6 1.4 .5 1.3-4.7zM346.2 755.4l-1.4 4.4 2.6 .8 1.4-4.5zM356.4 758.3l-1.4 4.7 1.4 .4 1.4-4.7zM341.8 757.6l-1.4 4.4 1.5 .4 1.4-4.3zM354.2 761.4l-1.5 4.6 2.6 .9 1.5-4.7z"/><path fill="#ff4701" d="M343.7 651.1l1.1 4.4 1.5-.4-1.1-4.4zM340.7 658.7l1 4.3 1.5-.3-1-4.4zM352.5 663.1l.8 4.6 1.6-.2-.9-4.7zM364.1 660.9l.9 4.8 1.5-.2-.9-4.9zM363.6 664.7l.8 4.9 1.5-.3-.8-4.9zM359.5 669l.7 4.8 1.5-.2-.7-4.8zM347.6 691.1l.2 4.5 1.6 0-.2-4.6zM334.8 694.9l.1 4.2 1.6 0-.1-4.3zM338.4 694.8l.1 4.3 1.5-.1-.1-4.3zM345.6 701.1l-.1 4.5 1.5 0 .1-4.5zM351.4 704.5l-.1 4.6 1.5 0 .1-4.6zM360.8 704.7l-.1 4.8 1.5 0 .2-4.8zM336.9 713.7l-.4 4.2 1.5 .2 .4-4.3zM328.4 716.1l-.4 4 1.5 .2 .4-4.1zM340.1 717.1l-.4 4.3 1.5 .2 .5-4.3zM347.2 717.7l-.5 4.5 1.6 .2 .4-4.5zM356.6 718.6l-.5 4.7 1.5 .1 .5-4.7zM345.7 720.9l-.5 4.5 1.5 .2 .5-4.5zM356.2 722.1l-.5 4.6 1.5 .2 .6-4.7zM343 723.9l-.6 4.4 1.5 .2 .6-4.4zM337.9 726.5l-.7 4.3 2.7 .4 .7-4.3zM347.2 727.8l-.7 4.5 1.5 .3 .7-4.5zM342.1 730.4l-.8 4.4 1.5 .2 .8-4.3zM177.9 704.8l-.1 .5 1.5 .3 .1-.5zM348.5 734.9l-.9 4.5 1.5 .3 .9-4.6zM356.6 736.3l-.9 4.7 1.5 .3 .9-4.7zM374 739.4l-.9 5.1 1.5 .3 .9-5.2zM342.1 737.1l-.9 4.3 1.5 .4 .9-4.4zM344.4 737.5l-.9 4.4 1.5 .4 .9-4.5zM343.7 740.8l-.9 4.4 1.4 .3 1-4.4zM343 744.1l-1 4.3 1.4 .4 1.1-4.4zM341.1 747l-1.1 4.3 1.4 .4 1.2-4.3zM352.5 749.9l-1.2 4.6 1.5 .4 1.2-4.7zM340.3 750.2l-1.2 4.3 1.4 .5 1.2-4.4zM349.4 752.7l-1.3 4.5 2.6 .7 1.3-4.5zM357.3 754.8l-1.3 4.7 1.5 .4 1.3-4.7zM343.9 754.7l-1.3 4.4 2.6 .8 1.3-4.4zM348.4 756l-1.3 4.5 1.5 .5 1.3-4.6zM355.2 758l-1.4 4.6 1.5 .5 1.4-4.7zM342.9 758l-1.3 4.3 1.4 .5 1.4-4.4zM346.3 759l-1.4 4.4 1.5 .5 1.4-4.5zM356.5 762.1l-1.5 4.7 1.4 .5 1.5-4.8zM346.4 762.7l-1.5 4.4 1.5 .5 1.5-4.5zM222.7 740.6l-1 1.5 1.3 .8 1-1.5zM262.2 774.8l-1.7 2.4 1.2 1 1.8-2.5z"/><path fill="#ff3a00" d="M354.8 651.8l1.1 4.7 1.5-.4-1.1-4.7zM343 658.2l1 4.4 1.5-.4-1-4.4zM329.9 670.6l.7 4.1 1.5-.2-.7-4.1zM169.8 699.3l.1 .3 1.5-.2-.1-.3zM351.9 673.7l.6 4.6 1.5-.2-.6-4.6zM357.7 672.9l.6 4.7 1.6-.1-.7-4.8zM359.8 679.8l.4 4.8 1.5-.1-.4-4.9zM341.3 685l.3 4.3 2.7-.1-.3-4.5zM357.7 683.5l.4 4.8 2.7-.2-.4-4.8zM341.6 688.2l.2 4.4 1.5-.1-.2-4.4zM353.3 687.4l.3 4.6 1.5-.1-.2-4.6zM167.6 700.6l0 .2 1.5 0 0-.3zM337.1 691.7l.1 4.2 1.6 0-.2-4.3zM342.9 691.4l.2 4.3 1.5 0-.1-4.4zM348.8 691.1l.2 4.5 2.7-.1-.2-4.6zM347.8 694.4l.1 4.5 2.7 0-.1-4.5zM351.3 694.3l.1 4.6 1.6 0-.1-4.6zM334.9 698l0 4.2 1.6 0 0-4.2zM350.2 697.7l.1 4.6 1.5 0 0-4.6zM352.6 697.7l0 4.6 1.6 0-.1-4.6zM342 704.3l-.1 4.4 1.5 .1 .1-4.4zM350.2 704.5l-.1 4.5 1.5 .1 .2-4.6zM356.1 704.6l-.1 4.7 1.5 0 .2-4.7zM362 704.7l-.1 4.8 1.5 .1 .2-4.9zM349 707.8l-.2 4.5 1.5 .1 .2-4.5zM361.9 708.3l-.2 4.8 1.5 .1 .3-4.9zM360.6 711.8l-.3 4.8 1.5 .1 .3-4.8zM356.8 715.1l-.3 4.7 1.5 .1 .4-4.7zM372.1 716.2l-.4 5 1.5 .2 .5-5.1zM339 717l-.5 4.3 1.6 .2 .4-4.3zM348 721.2l-.5 4.5 1.5 .2 .6-4.6zM338.3 723.4l-.6 4.2 1.5 .3 .6-4.3zM345.3 724.2l-.6 4.5 3.9 .5 .6-4.5zM341.4 727l-.7 4.4 1.5 .2 .7-4.4zM343.2 730.6l-.7 4.4 1.5 .3 .7-4.5zM350.8 735.3l-.8 4.5 1.5 .3 .8-4.5zM372.9 739.2l-1 5 1.5 .4 1-5.2zM349 738.4l-.9 4.6 1.5 .3 .9-4.6zM356 739.8l-1 4.7 1.5 .3 1-4.7zM341.4 740.3l-.9 4.3 2.6 .7 1-4.4zM348.3 741.8l-1 4.5 1.5 .3 1-4.5zM351.8 742.5l-1 4.6 1.5 .4 1-4.7zM339.6 743.3l-1.1 4.3 3.8 .9 1.1-4.4zM344.2 744.3l-1.1 4.4 1.5 .4 1.1-4.4zM355.6 747l-1.1 4.6 1.5 .4 1.1-4.7zM310.2 739.3l-.9 3.6 1.5 .4 .9-3.6zM349.1 749l-1.2 4.5 1.5 .4 1.2-4.5zM351.4 749.6l-1.2 4.5 1.5 .4 1.2-4.6zM353.7 750.1l-1.2 4.7 1.4 .4 1.3-4.7zM356 750.7l-1.3 4.7 1.5 .4 1.2-4.7zM342.5 750.8l-1.2 4.4 1.5 .4 1.2-4.4zM346 751.7l-1.3 4.5 1.5 .4 1.2-4.5zM358.5 755.1l-1.3 4.7 1.4 .5 1.4-4.8zM357.5 758.6l-1.4 4.7 1.5 .5 1.4-4.8zM363.2 760.2l-1.5 4.9 1.5 .4 1.4-4.8zM223.1 722.6l-.5 1.5 1.4 .6 .6-1.6zM300.1 767.8l-1.6 3.4 1.4 .7 1.6-3.4zM327.5 784.3l-2 4 1.4 .7 2-4zM331.8 806.1l-2.6 4.1 1.3 .8 2.6-4.1zM160.6 704.1l-.1 .1 1.2 1 .1-.1zM213.9 754.2l-1.3 1.3 1.1 1.1 1.3-1.4z"/><path fill="#ff2e00" d="M163.2 695.7l.1 .1 1.2-.9-.1-.2zM339.7 577.9l2.8 4.3 1.3-.8-2.8-4.4zM344.9 583.7l2.7 4.5 1.3-.8-2.7-4.5zM176.4 692.5l.2 .4 1.4-.5-.2-.5zM158.1 700.8l0 .1 1.5-.4 0 0zM362.8 649.8l1.2 4.9 1.5-.4-1.2-4.9zM358.9 665.5l.8 4.8 1.5-.3-.8-4.8zM172.2 699l0 .3 1.5-.1 0-.4zM359.4 676.3l.5 4.7 1.5-.1-.5-4.8zM342.2 681.6l.4 4.4 1.5-.1-.4-4.4zM164 700.5l0 .2 1.6-.1 0-.2zM343.9 688l.3 4.4 1.5 0-.3-4.5zM359.2 687l.3 4.7 1.5 0-.3-4.8zM338.2 691.6l.2 4.3 2.7-.1-.2-4.3zM346.5 691.2l.2 4.4 1.5 0-.2-4.5zM353.5 690.8l.2 4.6 1.6 0-.2-4.7zM359.4 690.5l.2 4.8 1.5-.1-.2-4.8zM339.5 694.7l.1 4.3 1.6 0-.1-4.3zM346.6 694.5l.1 4.5 1.6-.1-.2-4.5zM322 698.2l0 3.9 1.5 0 0-3.9zM345.5 697.8l0 4.5 1.6 0 0-4.5zM349.1 704.5l-.2 4.5 1.6 0 .1-4.5zM352.6 704.5l-.1 4.6 1.5 .1 .1-4.6zM373.8 704.9l-.1 5.1 1.5 .1 .1-5.2zM343.1 707.6l-.2 4.4 1.5 .1 .2-4.4zM360.7 708.2l-.2 4.8 1.6 .1 .2-4.8zM373.7 708.7l-.2 5.1 1.5 .1 .2-5.2zM334.7 710.4l-.3 4.2 1.6 .1 .2-4.2zM359.4 711.7l-.3 4.8 1.5 .1 .3-4.8zM373.5 712.5l-.3 5.1 1.5 .1 .4-5.2zM358 715.2l-.4 4.7 1.6 .1 .4-4.7zM177 702.9l-.1 .4 1.5 .2 .1-.5zM337.8 716.9l-.4 4.3 1.5 .2 .4-4.3zM348.4 717.9l-.5 4.5 2.7 .3 .5-4.6zM380.1 720.6l-.6 5.3 1.6 .1 .5-5.2zM346.9 721.1l-.6 4.4 1.6 .2 .5-4.5zM350.4 721.4l-.6 4.6 1.6 .2 .5-4.6zM357.4 722.2l-.5 4.7 1.5 .2 .5-4.8zM341.8 723.8l-.6 4.3 1.5 .3 .6-4.4zM348.8 724.7l-.6 4.5 1.5 .2 .6-4.5zM340.2 726.9l-.6 4.3 1.5 .2 .6-4.3zM342.6 727.2l-.7 4.4 1.5 .2 .7-4.4zM348.4 728l-.7 4.5 1.5 .3 .7-4.6zM350.2 731.7l-.8 4.6 1.5 .2 .8-4.5zM364.2 733.9l-.8 4.9 1.5 .3 .8-4.9zM370 734.8l-.9 5.1 2.7 .4 .9-5zM349.7 735.1l-.9 4.5 1.5 .3 .9-4.6zM363.6 737.5l-.9 4.9 1.5 .3 .9-4.9zM345.6 737.8l-1 4.4 1.5 .3 1-4.4zM353.7 739.3l-1 4.7 1.5 .3 1-4.7zM372.2 742.9l-1.1 5.1 1.5 .3 1.1-5.1zM344.9 741l-1 4.5 1.5 .3 1-4.4zM349.5 742l-1 4.6 1.5 .3 1-4.6zM349.9 745.6l-1.1 4.6 1.5 .4 1.1-4.6zM159.3 701.7l0 0 1.4 .4 .1 0zM350.2 749.3l-1.1 4.5 1.4 .4 1.2-4.5zM358.2 751.3l-1.2 4.7 1.5 .4 1.2-4.7zM342.8 754.4l-1.3 4.3 1.4 .5 1.4-4.4zM365.4 760.9l-1.4 4.9 1.4 .4 1.5-4.9zM357.6 762.4l-1.5 4.8 2.6 .8 1.5-4.8zM166 704l-.1 .2 1.4 .5 .1-.2zM303.2 772.4l-1.8 3.4 1.4 .7 1.7-3.4zM158 701.6l0 .1 1.4 .7 0-.1zM222.2 743.5l-1 1.5 1.3 .9 1-1.6zM330 813.4l-2.7 4.1 1.2 .8 2.7-4zM162.9 705.1l-.1 .1 1.2 .9 .1-.2zM217.6 742l-1 1.4 1.2 .9 1-1.5zM263.3 781.3l-1.9 2.4 1.2 1 2-2.5zM220.2 752.3l-1.2 1.5 1.1 1 1.3-1.6zM158.4 703l0 0 .9 1.2 .1 0z"/><path fill="#ff2200" d="M164.5 693.6l.2 .2 1.1-1.1-.2-.2zM345.9 583.1l2.7 4.5 1.3-.8-2.7-4.5zM333.4 653.8l1.1 4.2 1.5-.4-1.1-4.2zM364 649.5l1.1 4.9 1.5-.3-1.1-5zM358.6 679.9l.4 4.8 1.6-.1-.5-4.8zM356.6 683.6l.3 4.8 1.6-.1-.4-4.8zM360.1 683.3l.4 4.8 1.5-.1-.4-4.8zM319.2 689.8l.3 3.8 1.5-.1-.2-3.8zM358 687.1l.3 4.7 1.5-.1-.2-4.8zM340.6 691.5l.2 4.3 2.7-.1-.2-4.4zM352.4 690.9l.1 4.6 1.6-.1-.2-4.6zM358.2 690.6l.2 4.7 1.6 0-.2-4.8zM360.6 690.4l.2 4.8 1.5 0-.2-4.8zM340.7 694.7l.1 4.3 1.6 0-.1-4.4zM345.4 694.5l.1 4.5 1.6 0-.1-4.5zM352.5 694.3l.1 4.6 1.5 0-.1-4.7zM346.7 697.8l0 4.5 1.6 0-.1-4.5zM349.1 697.8l0 4.5 1.5 0 0-4.6zM351.4 697.7l0 4.6 1.6 0-.1-4.6zM344.4 701.1l-.1 4.4 1.6 .1 0-4.5zM347.9 701.1l0 4.5 1.5 0 0-4.5zM350.3 701.1l-.1 4.6 2.7 0 .1-4.6zM359.7 701.1l-.1 4.8 2.7 0 .1-4.8zM359.7 704.6l-.2 4.8 1.6 .1 .1-4.8zM351.3 707.9l-.2 4.6 1.5 .1 .3-4.7zM359.6 708.2l-.3 4.8 1.6 0 .2-4.8zM374.9 708.7l-.3 5.1 1.6 .1 .2-5.1zM351 714.7l-.4 4.5 1.5 .2 .4-4.6zM350.7 718.1l-.4 4.5 1.5 .2 .4-4.6zM354.2 718.4l-.4 4.6 1.5 .2 .5-4.7zM362.4 719.1l-.4 4.8 1.5 .2 .5-4.9zM370.7 719.8l-.5 5 1.5 .2 .5-5.1zM349.2 721.3l-.5 4.5 1.5 .2 .5-4.5zM351.6 721.6l-.6 4.5 1.5 .2 .6-4.6zM358.6 722.3l-.6 4.7 1.5 .2 .6-4.7zM363.3 722.8l-.6 4.8 1.5 .2 .6-4.8zM339.5 723.5l-.6 4.3 2.7 .4 .6-4.4zM354.7 725.4l-.7 4.6 1.6 .3 .6-4.7zM357 725.7l-.6 4.7 1.5 .2 .6-4.7zM158.2 701.3l0 0 1.5 .2 0 0zM343.7 727.4l-.7 4.3 1.6 .3 .6-4.4zM357.7 729.3l-.7 4.7 1.5 .3 .7-4.8zM375.2 731.8l-.8 5.1 2.7 .5 .8-5.2zM366.5 734.3l-.8 4.9 1.5 .3 .8-5zM368.8 734.7l-.8 4.9 1.5 .3 .9-5zM372.3 735.2l-.8 5.1 1.5 .3 .8-5.1zM355.5 736.1l-.9 4.7 1.5 .3 .9-4.7zM352.5 739.1l-1 4.6 1.5 .3 1-4.6zM357.1 740l-.9 4.7 1.5 .3 .9-4.7zM361.8 740.9l-1 4.8 2.6 .6 1-4.9zM371 742.7l-1 5 1.5 .4 1-5.1zM373.3 743.2l-1 5 1.5 .4 1-5.1zM350.7 742.3l-1.1 4.5 1.5 .4 1.1-4.6zM354.1 743l-1 4.6 3.8 .9 1-4.7zM371.4 746.7l-1.1 5 1.5 .4 1.1-5.1zM348.8 745.4l-1.1 4.5 1.4 .4 1.2-4.6zM354.5 746.7l-1.1 4.6 1.5 .4 1.1-4.6zM338.8 746.4l-1.1 4.3 1.5 .4 1.1-4.3zM343.7 751.1l-1.2 4.4 1.4 .4 1.3-4.4zM347.1 752l-1.3 4.5 1.5 .4 1.3-4.5zM351.6 753.3l-1.2 4.5 3.7 1.1 1.3-4.6zM349.6 756.3l-1.4 4.6 1.5 .4 1.3-4.5zM354.1 757.6l-1.4 4.7 1.5 .4 1.4-4.6zM359.8 759.3l-1.5 4.7 1.5 .5 1.4-4.8zM364.3 760.6l-1.5 4.8 1.5 .5 1.5-4.9zM347.5 759.3l-1.5 4.5 2.6 .9 1.4-4.6zM353.1 761.1l-1.5 4.6 1.5 .4 1.5-4.6zM158.1 701.6l0 0 1.4 .6 0 0zM341.4 779.4l-1.9 4.3 1.4 .6 1.9-4.3zM335.5 792.1l-2.2 4.1 1.4 .8 2.2-4.2zM328.9 808.5l-2.6 4 1.3 .9 2.6-4.1zM261 782.4l-1.9 2.4 1.1 1 2-2.5zM208.7 747.6l-1.1 1.2 1.1 1.1 1.1-1.2zM221.4 763.3l-1.5 1.5 1.1 1.1 1.5-1.5zM170.1 714.7l-.3 .3 1 1.1 .4-.3zM206 753.7l-1.2 1.1 1 1.2 1.3-1.2z"/><path fill="#ff1600" d="M157 701.1l0 0 1.3-.8-.1-.1zM163.2 697.8l.1 .1 1.4-.6-.1-.2zM170.5 693.9l.2 .3 1.4-.6-.2-.4zM334.2 656.9l1 4.2 1.5-.3-1-4.3zM369.7 648.1l1.2 5 1.5-.3-1.2-5.1zM323.6 668.7l.7 4 1.5-.3-.7-4zM165.1 699.8l.1 .2 1.5-.2 0-.2zM347.9 670.9l.6 4.5 1.6-.2-.7-4.6zM360.1 672.6l.6 4.8 2.7-.4-.7-4.8zM344.1 678.1l.5 4.4 1.6-.1-.5-4.5zM353.5 677l.5 4.6 1.5-.1-.5-4.7zM357 676.5l.5 4.8 2.7-.3-.5-4.8zM375.7 674.3l.6 5.1 1.5-.1-.6-5.2zM164 700.4l0 .1 1.6-.1-.1-.2zM332.8 682.6l.4 4.2 1.5-.1-.4-4.2zM343.3 681.5l.5 4.4 2.7-.2-.5-4.5zM353.9 680.4l.4 4.7 3.9-.4-.4-4.7zM360.9 679.7l.5 4.8 1.5-.1-.4-4.9zM162.9 700.6l0 .1 1.5-.1 0-.1zM343.7 684.8l.3 4.4 1.5-.1-.3-4.5zM354.2 683.9l.4 4.6 1.5-.1-.3-4.7zM361.3 683.2l.3 4.9 1.6-.1-.4-4.9zM375.4 682l.3 5.2 1.6-.1-.4-5.2zM320.4 689.7l.2 3.8 1.6 0-.3-3.9zM340.4 688.3l.2 4.3 1.6-.1-.3-4.3zM345.1 688l.3 4.4 2.7-.1-.3-4.5zM354.5 687.3l.3 4.7 1.5-.1-.3-4.7zM356.8 687.1l.3 4.7 1.6 0-.3-4.8zM360.4 686.9l.3 4.8 2.7-.1-.3-4.9zM327.6 692.2l.2 4 1.5-.1-.1-4zM344.1 691.3l.2 4.4 2.7-.1-.2-4.4zM351.2 690.9l.2 4.6 1.5 0-.2-4.6zM341.9 694.7l.1 4.3 1.5 0-.1-4.4zM353.7 694.2l.1 4.7 1.5 0-.1-4.7zM359.6 694l.1 4.8 1.5 0-.1-4.8zM339.6 697.9l.1 4.3 2.7 0-.1-4.3zM343.2 697.9l0 4.3 2.7 .1 0-4.5zM347.9 697.8l0 4.5 1.5 0 0-4.5zM343.2 701.1l-.1 4.4 1.6 0 0-4.4zM349.1 701.1l-.1 4.5 1.6 .1 0-4.6zM362.1 701.1l-.1 4.8 1.5 .1 .1-4.9zM364.4 701.1l0 4.9 1.5 0 0-4.9zM383.3 701.1l-.1 5.3 1.5 .1 .1-5.4zM357.3 704.6l-.1 4.7 1.5 .1 .1-4.8zM363.2 704.7l-.1 4.9 1.5 0 .1-4.9zM353.7 708l-.2 4.6 2.7 .2 .2-4.7zM363.1 708.3l-.2 4.9 1.5 .1 .2-4.9zM350 711.2l-.3 4.6 1.5 .1 .3-4.6zM358.2 711.7l-.3 4.7 1.6 .1 .3-4.8zM361.8 711.8l-.3 4.9 2.7 .2 .3-4.9zM372.4 712.4l-.4 5.1 1.6 .1 .3-5.1zM375.9 712.6l-.3 5.1 1.5 .2 .3-5.2zM355.7 715l-.4 4.7 1.5 .1 .4-4.7zM359.2 715.2l-.4 4.8 2.7 .3 .4-4.9zM371 716.1l-.5 5 1.6 .2 .4-5.1zM373.3 716.2l-.4 5.1 1.5 .2 .4-5.2zM351.9 718.2l-.5 4.5 1.5 .2 .5-4.6zM358.9 718.8l-.4 4.7 3.8 .5 .5-4.9zM337.5 720.1l-.5 4.2 2.7 .4 .5-4.3zM362.1 722.7l-.6 4.8 1.6 .2 .5-4.9zM364.4 722.9l-.5 4.9 1.5 .2 .6-4.9zM350 724.8l-.6 4.5 1.5 .3 .6-4.6zM355.8 725.5l-.6 4.7 1.5 .2 .7-4.7zM358.2 725.8l-.7 4.7 1.6 .3 .6-4.8zM375.7 728l-.7 5.1 1.6 .2 .6-5.1zM349.6 728.2l-.7 4.5 1.5 .3 .7-4.6zM364.7 730.3l-.7 4.9 1.5 .2 .7-4.9zM369.4 731l-.8 5 1.5 .2 .8-5zM374.1 731.6l-.8 5.1 1.5 .3 .8-5.2zM351.4 731.9l-.8 4.6 1.5 .2 .8-4.6zM357.2 732.8l-.8 4.7 1.5 .3 .8-4.7zM365.3 734.1l-.8 4.9 1.5 .3 .9-5zM367.7 734.5l-.9 4.9 1.5 .3 .9-5zM373.5 735.4l-.9 5.1 2.7 .5 .9-5.2zM165.1 702.5l0 .2 1.5 .3 0-.2zM354.3 735.9l-.9 4.6 1.5 .3 .9-4.6zM362.4 737.3l-.9 4.9 1.5 .3 .9-4.9zM364.7 737.7l-.9 4.9 1.5 .3 .9-4.9zM371.7 739l-.9 5 1.5 .3 .9-5.1zM347.9 738.2l-1 4.5 1.5 .3 1-4.5zM351.3 738.9l-.9 4.6 1.5 .3 .9-4.6zM354.8 739.6l-.9 4.6 1.4 .3 1-4.6zM367.5 742l-1 5 1.5 .3 1-5zM346 741.3l-1 4.4 1.5 .4 1-4.5zM370.3 746.4l-1.2 5.1 1.5 .3 1.1-5zM345.3 744.6l-1.1 4.4 1.5 .4 1.1-4.5zM352.2 746.2l-1.1 4.6 2.6 .6 1.1-4.6zM357.9 747.5l-1.1 4.7 1.5 .4 1.1-4.8zM366 749.4l-1.2 4.9 1.5 .3 1.2-4.9zM340 746.7l-1.2 4.3 1.5 .4 1.1-4.3zM346.8 748.4l-1.2 4.5 1.5 .4 1.2-4.5zM339.1 749.9l-1.2 4.3 1.5 .4 1.2-4.3zM344.8 751.4l-1.2 4.4 1.5 .5 1.2-4.5zM348.2 752.4l-1.2 4.4 1.4 .5 1.3-4.6zM359.6 755.4l-1.3 4.8 1.5 .4 1.3-4.8zM350.7 756.7l-1.4 4.5 1.5 .5 1.4-4.6zM353 757.3l-1.4 4.6 1.5 .5 1.3-4.7zM360.9 759.6l-1.4 4.8 1.4 .4 1.5-4.8zM347.5 763l-1.5 4.5 1.5 .5 1.5-4.5zM165.5 707.5l-.2 .2 1.2 .9 .2-.2zM256 790.2l-2.2 2.3 1.1 1.1 2.2-2.4zM227.7 767l-1.6 1.7 1.1 1 1.6-1.6zM202.6 753.6l-1.2 1 .9 1.2 1.3-1.1z"/><path fill="#ff0900" d="M167.2 693.1l.2 .3 1.2-.9-.2-.3zM157 701.1l0 0 1.4-.7-.1 0zM361.7 650.1l1.1 4.8 1.5-.3-1.1-4.9zM366.3 648.9l1.1 5 1.5-.4-1.2-4.9zM160.4 700.3l.1 .1 1.5-.3-.1-.1zM346 660.9l.9 4.5 1.5-.3-.9-4.5zM364.7 664.5l.8 4.9 1.6-.2-.9-5zM355.8 676.7l.6 4.7 1.5-.2-.5-4.7zM360.5 676.1l.6 4.8 1.5-.1-.6-4.9zM348 681l.5 4.5 1.5-.1-.4-4.5zM376.2 678.1l.4 5.1 1.6-.1-.5-5.2zM353.1 684l.3 4.6 1.5-.1-.3-4.7zM355.4 683.8l.4 4.6 1.5-.1-.4-4.7zM359.7 697.6l0 4.7 2.7 .1 0-4.9zM363.2 697.5l0 4.9 1.6 0-.1-4.9zM369.1 697.4l0 5 1.6 0-.1-5zM352.6 701.1l0 4.6 1.5 .1 .1-4.7zM356.2 701.1l-.1 4.7 2.7 .1 .1-4.8zM363.2 701.1l0 4.9 1.5 0 .1-4.9zM369.1 701.1l0 5 1.5 0 .1-5zM373.8 701.1l0 5.1 1.5 .1 .1-5.2zM323.1 704l-.1 3.9 1.6 .1 .1-4zM343.2 704.4l-.2 4.3 1.6 .1 .1-4.4zM353.8 704.5l-.2 4.7 1.6 0 .1-4.6zM358.5 704.6l-.2 4.8 1.6 0 .1-4.7zM375 704.9l-.2 5.1 2.7 .2 .2-5.2zM383.2 705.1l-.1 5.3 1.5 .1 .2-5.4zM350.1 707.9l-.2 4.5 1.6 .1 .2-4.6zM352.5 707.9l-.2 4.6 1.5 .1 .2-4.6zM356 708.1l-.2 4.6 3.9 .3 .2-4.8zM372.5 708.6l-.2 5.1 1.5 .1 .3-5.1zM376.1 708.8l-.3 5.1 2.7 .2 .3-5.2zM351.2 711.3l-.3 4.6 1.5 .1 .3-4.6zM357.1 711.6l-.3 4.7 1.5 .1 .3-4.7zM364.1 712l-.3 4.8 1.5 .2 .4-5zM377.1 712.6l-.4 5.2 2.7 .2 .4-5.2zM349.8 714.6l-.4 4.5 1.5 .2 .4-4.6zM353.3 714.8l-.4 4.7 1.6 .1 .4-4.7zM361.6 715.4l-.4 4.8 1.5 .2 .4-4.9zM363.9 715.6l-.4 4.8 1.5 .2 .4-4.9zM381.5 716.8l-.4 5.3 1.5 .1 .5-5.3zM353.1 718.3l-.5 4.6 1.5 .1 .5-4.6zM363.6 719.2l-.5 4.8 1.6 .2 .4-4.9zM371.8 719.9l-.5 5.1 2.7 .3 .5-5.2zM378.9 720.5l-.5 5.2 1.5 .2 .5-5.2zM352.7 721.7l-.5 4.6 2.7 .3 .5-4.6zM376.2 724.1l-.6 5.2 1.5 .2 .6-5.2zM350.7 728.3l-.7 4.6 2.7 .4 .7-4.6zM370.6 731.1l-.8 5 3.8 .7 .8-5.1zM356 732.6l-.8 4.7 1.5 .3 .8-4.7zM358.4 733l-.8 4.7 1.5 .3 .8-4.8zM363 733.7l-.8 4.9 1.5 .3 .8-4.9zM358.9 736.7l-.9 4.8 1.5 .3 .9-4.8zM370.5 738.8l-.9 5 1.5 .3 1-5.1zM346.7 738l-.9 4.4 1.5 .4 .9-4.5zM374.5 743.4l-1.1 5.1 1.5 .3 1.1-5.1zM347.2 741.5l-1 4.5 1.5 .4 1-4.5zM353 742.8l-1.1 4.6 1.5 .3 1.1-4.6zM359.9 744.2l-1.1 4.8 1.5 .4 1.1-4.8zM362.2 744.7l-1.1 4.8 1.5 .4 1.1-4.9zM364.5 745.2l-1.1 4.9 1.5 .3 1.1-4.9zM369.1 746.2l-1.1 5 1.5 .3 1.1-5zM347.6 745.1l-1.1 4.5 1.5 .4 1.1-4.5zM356.8 747.2l-1.1 4.7 1.4 .4 1.2-4.7zM369.4 750.2l-1.2 4.9 1.5 .4 1.2-5zM345.7 748.2l-1.2 4.4 1.5 .4 1.2-4.5zM348 748.7l-1.2 4.5 1.5 .4 1.1-4.5zM362.8 752.4l-1.2 4.9 1.4 .4 1.3-4.9zM365.3 756.9l-1.4 4.9 2.6 .8 1.4-5zM358.6 758.9l-1.4 4.8 1.5 .4 1.4-4.7zM362 759.9l-1.4 4.8 1.5 .5 1.4-4.9zM350.8 760.4l-1.4 4.5 2.6 .9 1.4-4.6zM350.8 787.4l-2.1 4.5 1.4 .7 2.1-4.6zM327.9 807.9l-2.6 4 1.3 .8 2.6-4zM268.1 784.8l-2 2.6 1.2 .9 2-2.6zM247.1 771.5l-1.7 2.1 1.2 1 1.7-2.2zM248.6 775.3l-1.8 2.1 1.2 1 1.8-2.2zM176 717l-.4 .5 1.1 1 .4-.5zM220.1 756l-1.3 1.5 1.2 1 1.3-1.5zM243 790.1l-2.2 2 1.1 1.1 2.1-2zM159.2 703.9l0 0 .9 1.2 .1-.1zM193.3 746l-1 .8 .9 1.2 1.1-.8z"/><path fill="#ff002e" d="M162.3 698.6l.1 .1 1.4-.6-.1-.1zM173 693.6l.2 .4 1.4-.6-.2-.4zM322.7 650.5l1.1 3.9 1.5-.4-1.2-4zM371.7 651.5l1.1 5.1 1.5-.3-1.1-5.1zM374 651l1.1 5.1 1.5-.3-1.1-5.1zM170.8 698.2l.1 .3 1.5-.3-.1-.3zM377.5 662.2l.9 5.2 1.5-.2-.9-5.2zM360.7 668.8l.7 4.9 1.5-.2-.7-4.9zM378.2 666.1l.7 5.2 1.5-.2-.7-5.3zM363.6 672.1l.6 4.9 1.5-.2-.6-4.9zM345.3 678l.5 4.4 1.5-.1-.5-4.5zM354.7 676.8l.5 4.7 1.5-.1-.5-4.7zM361.7 676l.5 4.8 1.6-.1-.6-4.9zM376.9 674.1l.6 5.2 1.5-.2-.6-5.2zM346.9 681.2l.4 4.4 1.5-.1-.4-4.5zM349.2 680.9l.4 4.5 1.6-.1-.5-4.6zM351.6 680.7l.4 4.5 2.7-.2-.5-4.6zM357.4 680l.5 4.8 1.5-.2-.5-4.7zM362.1 679.6l.5 4.8 1.5-.1-.5-4.9zM364.4 679.3l.5 4.9 1.5-.1-.4-5zM377.3 678l.5 5.1 1.5-.1-.4-5.2zM344.8 684.7l.4 4.4 1.5-.1-.3-4.5zM351.9 684.1l.3 4.6 1.6-.1-.4-4.7zM376.5 681.9l.4 5.2 2.7-.2-.4-5.2zM351 687.5l.2 4.6 2.7-.1-.2-4.6zM355.7 687.2l.2 4.7 1.6-.1-.3-4.7zM357.1 690.6l.2 4.7 1.5 0-.2-4.8zM362.9 690.3l.2 4.9 1.6-.1-.2-4.9zM380.6 689.4l.2 5.3 1.5-.1-.2-5.3zM344.3 694.6l.1 4.4 1.5 0-.1-4.5zM358.4 694.1l.1 4.7 1.5 0-.1-4.8zM360.7 694l.2 4.8 1.5 0-.1-4.9zM364.3 693.9l.1 4.9 1.5-.1-.1-4.9zM342 697.9l0 4.3 1.5 0 0-4.3zM364.4 697.5l0 4.9 1.5 0 0-4.9zM372.6 697.3l.1 5.1 1.5 0 0-5.1zM340.8 701.1l0 4.3 1.5 .1 .1-4.4zM353.8 701.1l-.1 4.6 1.6 .1 0-4.7zM358.5 701.1l0 4.8 1.5 0 0-4.8zM320.8 704l-.1 3.8 1.5 .1 .1-3.9zM372.6 704.9l-.1 5.1 1.5 0 .2-5.1zM377.3 705l-.1 5.1 1.5 .1 .2-5.2zM364.3 708.3l-.2 4.9 1.5 .1 .2-4.9zM378.4 708.8l-.2 5.3 1.5 0 .2-5.2zM354.7 711.5l-.3 4.6 1.5 .1 .3-4.6zM365.3 712l-.3 4.9 1.5 .1 .3-4.9zM370 712.3l-.3 5 1.5 .1 .3-5zM352.1 714.8l-.3 4.5 1.5 .2 .4-4.6zM354.5 714.9l-.4 4.7 1.5 .1 .4-4.7zM362.7 715.5l-.4 4.8 1.6 .2 .4-4.9zM369.8 716l-.4 5 1.5 .1 .4-5zM378 716.6l-.4 5.2 1.5 .1 .4-5.2zM382.7 716.9l-.4 5.3 1.5 .1 .4-5.3zM173.4 702.5l0 .4 1.5 .2 .1-.4zM368.3 719.6l-.5 5 1.5 .1 .5-5zM377.7 720.4l-.5 5.2 1.5 .2 .5-5.2zM381.2 720.7l-.5 5.3 2.7 .3 .5-5.3zM359.8 722.4l-.6 4.8 1.5 .2 .6-4.8zM370.3 723.5l-.6 5 1.5 .2 .6-5zM379.7 724.5l-.6 5.3 1.5 .2 .6-5.3zM351.2 725l-.7 4.5 1.6 .2 .6-4.6zM368.7 727.1l-.7 5 1.6 .2 .6-5zM374.6 727.8l-.7 5.1 1.5 .3 .7-5.2zM169.8 702.9l0 .3 1.5 .3 0-.4zM354.2 728.8l-.7 4.7 1.5 .2 .7-4.7zM356.6 729.2l-.8 4.6 1.6 .3 .7-4.7zM363.6 730.1l-.8 4.9 1.5 .2 .8-4.8zM365.9 730.5l-.8 4.9 1.6 .2 .7-4.9zM375.8 735.8l-.9 5.1 1.6 .3 .8-5.2zM317.2 729.4l-.8 3.7 1.5 .3 .8-3.8zM352 735.5l-.9 4.6 2.7 .5 .8-4.6zM357.8 736.5l-.9 4.7 1.5 .3 .9-4.7zM368.2 738.4l-.9 4.9 2.6 .6 1-5.1zM375.2 739.6l-1 5.1 1.5 .3 1-5.2zM364.1 741.4l-1 4.8 1.5 .4 1-4.9zM369.9 742.5l-1.1 5 1.5 .3 1.1-5zM357.6 743.7l-1.1 4.8 1.5 .3 1.1-4.7zM361 744.5l-1 4.8 1.4 .3 1.1-4.8zM363.3 745l-1.1 4.8 1.5 .4 1.1-4.9zM365.6 745.5l-1.1 4.9 3.8 .9 1.1-5zM372.6 746.9l-1.2 5.1 1.5 .3 1.2-5.1zM317.8 738.2l-1 3.8 1.5 .4 .9-3.8zM346.5 744.9l-1.1 4.4 1.5 .4 1.1-4.5zM360.2 748l-1.1 4.8 1.5 .4 1.1-4.8zM367.1 749.6l-1.2 5 1.5 .3 1.2-4.9zM371.7 750.7l-1.2 5 1.5 .4 1.2-5.1zM359.4 751.6l-1.3 4.7 1.5 .4 1.3-4.8zM366.3 753.3l-1.3 4.9 1.4 .4 1.3-4.9zM364.2 756.6l-1.4 4.9 1.5 .4 1.4-4.9zM157 701.1l0 0 1.5 .5 0-.1zM351.8 757l-1.3 4.6 1.4 .4 1.4-4.6zM170.5 705.2l-.1 .4 1.5 .4 .1-.3zM349.7 760l-1.4 4.6 1.4 .4 1.5-4.5zM348.7 763.4l-1.6 4.5 1.5 .5 1.5-4.5zM319.3 794.8l-2.3 3.8 1.3 .8 2.3-3.8zM221.5 744.6l-1.1 1.5 1.3 .9 1-1.5zM252.6 775.8l-1.7 2.3 1.1 .9 1.9-2.2zM212.9 746.4l-1.1 1.3 1.1 .9 1.2-1.3zM242.2 770.1l-1.7 2 1.2 1 1.7-2.1zM203.9 740.5l-.9 1.1 1.1 1 1-1.1zM217.5 753.7l-1.3 1.4 1.2 1 1.2-1.4zM157.9 701.9l-.1 0 1.1 1.1 .1 0zM164.1 709l-.2 .2 1 1.1 .2-.2zM196.4 744.9l-1 .9 1 1.2 1-1zM209 758.9l-1.3 1.2 1 1.2 1.4-1.2z"/><path fill="#ff005c" d="M165 694.2l.2 .1 1.1-.9-.1-.3zM157.9 700.4l0 0 1.2-1 0 0zM343.8 579.8l2.8 4.4 1.3-.8-2.8-4.4zM160.2 699.6l0 .1 1.4-.6 0-.1zM317.6 636.2l1.5 3.8 1.4-.5-1.5-3.9zM173.8 695.6l.1 .4 1.5-.4-.1-.4zM360.2 654.2l1.1 4.8 1.5-.3-1.1-4.9zM372.9 651.3l1.1 5.1 1.5-.3-1.1-5.2zM375.2 650.7l1.1 5.2 1.5-.3-1.1-5.2zM365.2 660.6l.9 5 1.5-.3-.9-5zM364.2 668.3l.7 4.9 1.5-.2-.7-4.9zM353.1 673.6l.5 4.6 1.6-.2-.6-4.7zM378.7 669.9l.7 5.3 1.5-.2-.7-5.3zM346.5 677.8l.5 4.5 3.9-.4-.6-4.5zM351.2 677.3l.5 4.5 1.5-.1-.5-4.6zM378.1 674l.5 5.2 1.6-.2-.6-5.2zM350.4 680.8l.4 4.5 1.5-.1-.4-4.6zM365.6 679.2l.5 4.9 1.5-.1-.5-5zM378.9 681.7l.4 5.2 1.5-.1-.4-5.2zM348.6 687.7l.3 4.5 2.7-.1-.3-4.6zM362.7 686.7l.3 4.9 1.5-.1-.2-4.9zM375.7 685.8l.3 5.2 1.5-.1-.3-5.2zM361.8 690.4l.2 4.8 1.5 0-.2-4.9zM364.1 690.3l.2 4.8 2.7 0-.2-5zM367.7 690.1l.2 4.9 1.5 0-.2-5zM377.1 689.6l.2 5.2 1.5-.1-.2-5.2zM343.1 694.6l.1 4.4 1.5 0-.1-4.4zM365.5 693.8l.1 4.9 1.5 0-.1-4.9zM367.8 693.7l.1 5 2.7 0-.1-5zM373.7 693.5l.1 5.1 1.6 0-.2-5.1zM379.6 693.3l.1 5.3 1.5 0-.1-5.3zM353.8 697.7l0 4.6 1.5 0 0-4.7zM358.5 697.6l0 4.7 1.5 0 0-4.7zM362 697.5l0 4.9 1.6 0 0-4.9zM380.9 697.2l0 5.3 1.5 0 0-5.3zM382.1 701.1l-.1 5.3 1.6 0 0-5.3zM365.5 708.4l-.3 4.9 1.6 .1 .2-5zM352.4 711.3l-.3 4.6 1.5 .2 .3-4.7zM368.8 712.2l-.3 5 1.5 .1 .4-5zM371.2 712.3l-.3 5.1 1.5 .1 .3-5.1zM374.7 712.5l-.3 5.1 1.5 .2 .3-5.2zM383 713l-.4 5.3 1.5 .1 .4-5.4zM368.6 715.9l-.4 5 1.5 .1 .4-5zM375.7 716.4l-.5 5.1 2.7 .3 .5-5.2zM379.2 716.6l-.4 5.3 1.5 .1 .4-5.2zM364.8 719.3l-.5 4.9 1.5 .1 .5-4.9zM374.2 720.1l-.5 5.1 2.7 .3 .5-5.2zM360.9 722.5l-.5 4.8 1.5 .2 .6-4.8zM365.6 723l-.6 4.9 1.6 .2 .5-4.9zM353.5 725.2l-.6 4.7 1.5 .2 .6-4.7zM364 726.5l-.6 4.9 5 .7 .7-5zM369.9 727.2l-.7 5.1 1.5 .2 .7-5.1zM355.4 729l-.7 4.7 1.5 .2 .7-4.7zM358.9 729.5l-.7 4.7 1.5 .3 .7-4.8zM362.4 730l-.7 4.8 1.5 .3 .7-4.9zM367.1 730.6l-.8 5 2.7 .4 .7-5zM354.9 732.5l-.8 4.6 1.5 .3 .8-4.7zM358.3 740.2l-1 4.8 1.5 .3 1-4.8zM366.4 741.8l-1 4.9 1.5 .4 1-5zM368.7 742.3l-1 4.9 1.5 .4 1-5zM358.7 744l-1 4.7 1.4 .4 1.1-4.8zM359.1 747.8l-1.2 4.7 1.5 .4 1.2-4.8zM362.5 748.6l-1.1 4.8 3.7 1 1.2-5zM370.6 750.4l-1.2 5 1.4 .4 1.3-5zM344.5 747.9l-1.1 4.4 1.4 .4 1.2-4.5zM360.5 751.9l-1.2 4.7 1.5 .4 1.2-4.8zM365.1 753l-1.3 4.9 1.5 .4 1.3-4.9zM367.4 753.6l-1.3 4.9 2.6 .7 1.3-5zM360.8 755.7l-1.4 4.8 2.6 .8 1.4-4.9zM367.6 757.5l-1.4 5 1.5 .4 1.4-5zM349.8 763.7l-1.6 4.6 1.5 .5 1.5-4.6zM333.8 776.2l-1.8 4.1 1.4 .6 1.8-4.1zM324 786.2l-2.1 3.9 1.3 .7 2.1-3.9zM334.6 803.6l-2.5 4.2 1.3 .8 2.5-4.2zM269.3 776.9l-1.8 2.6 1.3 .9 1.8-2.6zM260.3 773.4l-1.7 2.5 1.2 .9 1.7-2.5zM313.4 814.7l-2.8 3.7 1.3 .9 2.7-3.7zM254.1 779.7l-1.9 2.3 1.2 1 1.9-2.3z"/><path fill="#ff0089" d="M374.9 654.8l1 5.1 1.5-.2-1-5.2zM375.6 658.6l1 5.2 2.6-.5-.9-5.2zM354.9 669.8l.7 4.6 1.5-.2-.7-4.7zM350 677.4l.5 4.6 1.5-.2-.5-4.6zM352.3 677.1l.5 4.6 1.6-.1-.5-4.7zM362.9 675.8l.5 4.9 1.5-.2-.5-4.9zM379.2 673.8l.6 5.3 1.5-.2-.5-5.3zM326.9 683.2l.4 4.1 1.5-.2-.3-4zM363.3 679.4l.4 4.9 1.6-.1-.5-4.9zM350.7 684.2l.4 4.5 1.5-.1-.4-4.6zM362.4 683.1l.4 4.9 1.5-.1-.3-4.9zM182.9 699.3l0 .6 1.5-.1 0-.6zM347.4 687.8l.3 4.5 1.5-.1-.2-4.5zM374.5 685.9l.3 5.1 1.5 0-.3-5.2zM379.2 685.6l.3 5.2 2.7-.1-.3-5.3zM374.7 689.7l.2 5.1 1.6 0-.3-5.2zM379.4 689.5l.2 5.2 1.6 0-.2-5.3zM357.2 694.1l.1 4.7 1.6 0-.2-4.7zM361.9 694l.1 4.8 2.7 0-.1-4.9zM376.1 693.5l.1 5.1 1.5 0-.1-5.2zM380.8 693.3l.1 5.3 1.5 0-.1-5.4zM365.6 697.5l0 4.9 1.5 0 0-5zM367.9 697.4l0 5 1.6 0-.1-5zM370.3 697.4l0 5 1.5 0 0-5zM375 697.3l0 5.1 1.5 .1 0-5.2zM379.7 697.2l0 5.3 1.6 0-.1-5.3zM382.1 697.2l0 5.3 1.5 0 0-5.3zM355 701.1l-.1 4.7 1.6 0 0-4.7zM375 701.1l0 5.1 2.7 .1 0-5.2zM355 704.6l-.2 4.6 1.5 .1 .2-4.7zM364.4 704.7l-.2 4.9 2.7 .1 .2-4.9zM379.7 705l-.2 5.2 1.6 .1 .1-5.3zM165.2 701.4l0 .2 1.6 .1 0-.2zM173.5 701.7l0 .4 1.5 .1 0-.5zM181.7 702l0 .6 1.5 0 .1-.6zM331.3 707.2l-.2 4.1 1.5 .1 .2-4.1zM383.1 709l-.2 5.3 1.5 .1 .3-5.3zM353.5 711.4l-.3 4.6 1.6 .2 .3-4.7zM355.9 711.5l-.3 4.7 1.5 .1 .3-4.7zM379.4 712.8l-.3 5.2 1.5 .1 .4-5.3zM173.5 702.3l-.1 .3 1.5 .2 .1-.4zM365.1 715.7l-.4 4.9 1.5 .1 .4-4.9zM367.4 715.8l-.4 5 1.6 .1 .4-5zM380.4 716.7l-.5 5.3 1.6 .1 .4-5.3zM376.5 720.3l-.5 5.2 1.5 .2 .6-5.2zM375 724l-.6 5.2 1.5 .1 .6-5.1zM377.3 724.3l-.6 5.2 2.7 .3 .6-5.2zM380.9 724.6l-.7 5.3 1.6 .2 .6-5.3zM352.3 725.1l-.6 4.6 1.5 .2 .7-4.6zM359.4 726l-.7 4.7 1.5 .2 .7-4.8zM362.9 726.4l-.7 4.8 1.5 .3 .7-4.9zM379.2 728.4l-.7 5.2 1.5 .2 .8-5.2zM361.2 729.8l-.7 4.8 1.5 .3 .7-4.9zM377.6 732.1l-.8 5.2 2.6 .4 .8-5.2zM352.5 732.1l-.7 4.6 2.6 .5 .8-4.7zM359.5 733.2l-.8 4.8 1.5 .2 .8-4.8zM361.9 733.6l-.9 4.8 1.5 .2 .9-4.8zM365.9 737.9l-.9 5 1.5 .3 .9-5zM373.7 747.2l-1.1 5.1 1.5 .3 1.1-5.1zM368.3 749.9l-1.2 5 1.5 .3 1.2-5zM375.2 751.5l-1.3 5.1 1.5 .4 1.3-5.2zM361.7 752.1l-1.3 4.9 1.5 .4 1.3-4.9zM364 752.7l-1.3 4.9 1.5 .4 1.3-4.9zM369.7 754.1l-1.3 5 1.5 .4 1.3-5zM373.1 755l-1.3 5.1 1.5 .4 1.3-5.1zM363 756.3l-1.3 4.9 1.4 .4 1.4-4.9zM161.3 703l0 .1 1.3 .7 .1-.2zM330 781.8l-1.9 4 1.3 .7 2-4.1zM178.8 712.7l-.2 .5 1.3 .8 .3-.6zM166.2 706.4l-.1 .2 1.3 .8 .1-.2zM324 809.6l-2.6 3.9 1.3 .9 2.6-4zM269 785.5l-2 2.6 1.2 1 2-2.7zM258.2 780.2l-1.9 2.4 1.2 .9 1.9-2.4zM216.6 752.9l-1.3 1.4 1.2 1 1.2-1.4zM219.2 757.1l-1.4 1.4 1.2 1.1 1.3-1.5zM172.6 720.3l-.5 .4 .9 1.2 .5-.4z"/><path fill="#ff00b7" d="M175.5 690.8l.3 .5 1.3-.7-.2-.5zM166.2 699.1l.1 .3 1.5-.3-.1-.3zM376 654.6l1.1 5.1 1.5-.3-1.1-5.2zM352.5 670.1l.7 4.7 1.5-.3-.6-4.6zM365.9 671.8l.6 4.9 1.5-.2-.6-5zM379.9 669.8l.7 5.2 1.5-.1-.7-5.3zM380.4 673.7l.6 5.2 1.5-.1-.6-5.3zM345.7 681.3l.4 4.4 1.5-.1-.4-4.5zM346 684.6l.3 4.4 1.6-.1-.4-4.5zM348.4 684.4l.3 4.5 2.7-.2-.3-4.6zM374.2 682.1l.4 5.1 1.5-.1-.4-5.1zM373.3 686l.3 5.1 1.5-.1-.3-5.1zM376.8 685.7l.3 5.2 2.7-.1-.3-5.3zM354.7 690.7l.2 4.7 2.7-.1-.2-4.7zM366.5 690.1l.2 5 1.5-.1-.2-4.9zM372.4 689.8l.2 5.1 1.5 0-.2-5.2zM375.9 689.6l.2 5.2 1.5 0-.2-5.2zM378.2 689.5l.3 5.2 1.5 0-.2-5.3zM381.8 689.3l.2 5.3 1.5 0-.2-5.4zM354.9 694.2l.1 4.7 1.5-.1-.1-4.7zM366.6 693.8l.2 4.9 1.5 0-.1-5zM356.1 697.6l.1 4.7 1.5 0 0-4.7zM366.7 697.4l.1 5 1.5 0 0-5zM373.8 697.3l0 5.1 1.6 0-.1-5.1zM376.2 697.3l0 5.1 1.5 .1 0-5.2zM383.2 697.2l.1 5.3 1.5 0 0-5.4zM366.8 701.1l-.1 5 2.7 0 .1-5zM370.3 701.1l-.1 5 1.6 .1 0-5.1zM372.7 701.1l-.1 5.1 1.5 0 .1-5.1zM380.9 701.1l-.1 5.3 1.6 0 0-5.3zM378.5 705l-.1 5.2 1.5 .1 .1-5.3zM382.1 705l-.2 5.3 1.5 .1 .2-5.3zM366.6 708.4l-.2 5 1.5 .1 .3-5zM381.9 709l-.2 5.3 1.5 .1 .3-5.4zM366.5 712.1l-.3 4.9 2.7 .2 .3-5zM380.6 712.8l-.3 5.3 2.7 .2 .3-5.3zM374.5 716.3l-.4 5.1 1.5 .2 .4-5.2zM366 719.4l-.5 4.9 2.7 .3 .5-5zM369.5 719.7l-.5 5 1.5 .2 .5-5.1zM366.8 723.2l-.6 4.9 3.9 .5 .6-5zM371.5 723.7l-.6 5 3.8 .5 .6-5.1zM382 724.8l-.6 5.3 1.5 .2 .6-5.4zM360.5 726.1l-.6 4.8 2.7 .4 .6-4.9zM371.1 727.4l-.7 5 1.5 .3 .7-5.1zM373.4 727.7l-.7 5.1 1.5 .2 .7-5.1zM376.9 728.1l-.7 5.2 2.7 .4 .7-5.3zM353.1 728.7l-.8 4.6 1.6 .2 .7-4.6zM360.7 733.4l-.8 4.8 1.5 .2 .8-4.8zM377 736l-.9 5.1 1.5 .3 .9-5.2zM379.3 736.3l-.9 5.2 1.5 .3 .9-5.2zM361.3 737.1l-.9 4.8 1.5 .3 .9-4.8zM367.1 738.2l-1 4.9 1.5 .3 1-5zM378.7 740.2l-1 5.2 2.6 .5 1-5.2zM219.5 713.3l-.3 1.4 1.5 .3 .3-1.5zM360.6 740.7l-1 4.8 1.5 .3 1-4.8zM365.2 741.6l-1 4.9 1.5 .3 1-4.9zM379.1 744.3l-1.1 5.2 1.5 .3 1.1-5.2zM372.9 750.9l-1.3 5.1 1.5 .4 1.3-5.1zM370.8 754.4l-1.3 5 2.6 .8 1.4-5.1zM368.7 757.8l-1.4 5 1.5 .4 1.4-5zM347.9 782.2l-1.9 4.4 1.4 .7 1.9-4.5zM178.5 715.6l-.4 .5 1.3 .9 .4-.5zM262.5 772.3l-1.7 2.4 1.3 .9 1.7-2.5zM213.9 741l-.9 1.3 1.2 .9 1-1.3zM218.8 744.4l-1.1 1.4 1.3 .9 1-1.5zM259 775.2l-1.8 2.4 1.3 .9 1.7-2.4zM224.8 754.1l-1.3 1.6 1.2 .9 1.3-1.6zM251.3 777.5l-1.8 2.2 1.2 1 1.8-2.2zM227.3 762.2l-1.5 1.6 1.1 1.1 1.5-1.7zM196.4 736.6l-.8 .9 1.1 1.1 .8-1zM210.4 749.2l-1.1 1.3 1.1 1 1.2-1.3zM227.4 769.1l-1.7 1.6 1.1 1.1 1.7-1.7zM161.1 705.3l-.1 .1 1 1.2 .1-.1z"/><path fill="#ff00e5" d="M157.9 700.3l0 0 1.1-1 0 0zM164.4 697.5l.1 .2 1.4-.7-.1-.2zM377.2 654.3l1 5.2 1.5-.3-1-5.2zM363 668.5l.7 4.8 1.5-.2-.7-4.9zM332 676.5l.6 4.1 1.5-.1-.5-4.2zM349.6 674l.5 4.6 1.6-.2-.6-4.6zM381.6 673.5l.6 5.3 1.5-.1-.6-5.4zM378.5 677.8l.5 5.3 2.7-.3-.5-5.3zM363.6 683l.4 4.9 1.5-.1-.4-4.9zM381.5 685.4l.3 5.3 1.6-.1-.3-5.3zM325.3 692.3l.1 4 1.6-.1-.2-4zM368.8 690l.2 5 1.6 0-.2-5.1zM371.2 689.9l.2 5 1.5 0-.2-5.1zM373.5 689.8l.2 5.1 1.6-.1-.2-5.1zM370.2 693.7l.1 5 1.5 0-.1-5.1zM372.5 693.6l.1 5.1 1.6-.1-.1-5.1zM378.4 693.4l.1 5.2 1.6 0-.2-5.3zM357.3 697.6l0 4.7 1.6 0-.1-4.7zM371.4 697.4l.1 5 1.5 0 0-5.1zM377.3 697.3l.1 5.2 1.5 0 0-5.3zM365.6 701.1l-.1 4.9 1.6 .1 0-5zM378.6 701.1l-.1 5.2 2.7 .1 .1-5.3zM369.1 704.8l-.2 5 1.6 .1 .1-5.1zM380.9 705l-.2 5.3 1.5 .1 .2-5.4zM371.3 708.6l-.2 5 1.5 .1 .3-5.1zM379.6 708.9l-.3 5.2 2.8 .2 .2-5.3zM366.3 715.7l-.4 5 1.5 .1 .4-5zM166.4 702.3l-.1 .2 1.5 .2 .1-.3zM372.2 727.5l-.7 5.1 1.6 .2 .6-5.1zM380.4 728.5l-.7 5.3 1.5 .2 .7-5.3zM379.9 732.4l-.8 5.3 1.5 .2 .8-5.3zM380.5 736.5l-.9 5.3 1.5 .2 .9-5.3zM360.1 736.9l-.9 4.8 1.5 .3 .9-4.8zM376.3 739.8l-.9 5.1 1.5 .3 1-5.1zM359.4 740.5l-.9 4.7 1.5 .3 .9-4.7zM375.6 743.6l-1 5.1 1.5 .4 1-5.2zM378 744.1l-1.1 5.2 1.5 .3 1.1-5.2zM184.7 707l-.2 .6 1.5 .4 .2-.7zM374.9 747.4l-1.2 5.1 1.5 .4 1.2-5.2zM377.2 747.9l-1.2 5.2 1.5 .3 1.2-5.2zM361.4 748.3l-1.2 4.8 1.5 .4 1.2-4.9zM371 758.5l-1.4 5 1.5 .4 1.4-5.1zM350.9 764.1l-1.5 4.6 1.4 .5 1.6-4.6zM160.3 702.4l-.1 .1 1.4 .6 .1-.1zM337.1 777.5l-1.9 4.3 1.4 .6 1.9-4.3zM161 703.5l0 .1 1.3 .9 0-.2zM217 738.6l-.9 1.4 2.2 1.5 1-1.5zM169.8 709.5l-.2 .3 1.3 .8 .2-.3zM329 812.8l-2.7 4 1.3 .9 2.7-4.1zM253.9 774.2l-1.7 2.2 1.2 1 1.8-2.3zM208.5 744.3l-1.1 1.2 1.2 1 1-1.2zM220 757.9l-1.3 1.5 1.1 1 1.4-1.5zM214.3 760.5l-1.4 1.3 1 1.1 1.5-1.3zM198.7 749.1l-1.1 1 1 1.2 1.1-1zM204.9 756.3l-1.3 1.1 1 1.1 1.3-1.1zM208 759.8l-1.4 1.2 1 1.2 1.4-1.2zM231.2 786.5l-2 1.7 1 1.2 2-1.7zM191.8 742.6l-.9 .8 .9 1.2 1-.8z"/><path fill="#f505fd" d="M368.3 652.3l1.1 5 1.5-.3-1.1-5zM369.1 656l1 5 1.5-.2-1-5.1zM175.6 697.8l0 .5 1.5-.3 0-.4zM380.9 677.6l.4 5.3 1.6-.2-.5-5.3zM347.2 684.5l.3 4.5 1.6-.1-.4-4.6zM364.8 682.9l.4 4.9 1.5-.1-.4-4.9zM380.1 681.6l.4 5.3 2.7-.2-.4-5.3zM363.9 686.6l.3 4.9 1.5-.1-.3-4.9zM366.3 686.5l.2 4.9 3.9-.2-.3-5zM371.3 693.6l.2 5.1 1.5 0-.1-5.1zM374.9 693.5l.1 5.1 1.5 0-.1-5.2zM377.2 693.4l.2 5.2 1.5 0-.1-5.2zM381.9 693.3l.2 5.3 1.5-.1-.1-5.3zM179.4 700.7l0 .5 1.5 .1 0-.6zM355 697.7l0 4.6 1.5 0 0-4.7zM378.5 697.2l0 5.3 1.6 0-.1-5.3zM367.9 704.8l-.1 5 1.5 0 .1-5zM370.3 704.8l-.2 5.1 1.6 0 .1-5zM369 708.5l-.2 5 2.7 .2 .2-5.1zM164 701.6l0 .2 1.6 .1 0-.2zM360.1 729.6l-.8 4.8 1.5 .3 .8-4.8zM381.1 732.6l-.8 5.3 1.5 .2 .8-5.3zM378.2 736.1l-.9 5.2 1.5 .3 .9-5.2zM376.8 743.8l-1.1 5.2 1.5 .3 1.1-5.2zM376 747.7l-1.1 5.1 1.4 .4 1.2-5.2zM374 751.2l-1.2 5.1 1.5 .4 1.2-5.1zM180.7 711.7l-.3 .5 1.4 .7 .3-.6zM329.6 785.3l-2 4.1 1.4 .7 2-4.1zM162.1 704l0 .1 1.3 .8 .1-.2zM298.2 779.4l-1.9 3.3 1.3 .8 1.9-3.4zM158 701.7l0 0 1.3 .9 0-.1zM178 714.2l-.3 .5 1.2 .9 .4-.6zM249.5 768.3l-1.6 2.2 1.2 .9 1.6-2.2zM200.6 735.2l-.8 1 1.2 1 .8-1zM249.5 776l-1.8 2.2 1.2 1 1.8-2.2zM197.3 737.4l-.9 .9 1.1 1.1 .9-1zM194 740.8l-1 .8 1 1.2 1-.9zM205.9 755.4l-1.3 1.1 1 1.2 1.3-1.2zM191.9 744.2l-1.1 .8 1 1.2 1-.9z"/><path fill="#e30eff" d="M173 697.1l.1 .4 1.5-.3-.1-.5zM358.2 650.9l1.2 4.8 1.5-.3-1.2-4.8zM366 652.9l1.1 4.9 1.5-.3-1.1-5zM227.3 686.2l.3 1.6 1.5-.3-.3-1.7zM378.3 654.1l1.1 5.2 1.5-.3-1.1-5.3zM176.7 697.3l0 .5 1.6-.3-.1-.5zM378.7 662l.8 5.3 1.5-.3-.8-5.2zM382.4 681.4l.4 5.3 1.5-.1-.4-5.3zM365.1 686.6l.3 4.9 1.5-.1-.3-4.9zM382.7 685.3l.3 5.3 1.6 0-.4-5.4zM383 689.3l.2 5.3 1.5 0-.2-5.4zM171.1 700.6l0 .3 1.6 0 0-.3zM356 694.2l.1 4.7 1.6-.1-.1-4.7zM371.5 701.1l-.1 5.1 1.6 0 0-5.1zM377.4 701.1l-.1 5.2 1.5 0 .1-5.2zM174.7 701.4l0 .4 1.5 .1 0-.5zM366.7 704.8l-.1 4.9 1.5 .1 .2-5zM367.8 708.5l-.2 4.9 1.5 .1 .2-5zM377.5 740l-1 5.2 1.5 .3 1-5.2zM378.3 748.2l-1.2 5.2 1.5 .3 1.2-5.2zM369.9 758.1l-1.4 5 1.4 .5 1.4-5.1zM163.6 703.5l0 .2 1.4 .5 .1-.1zM331.8 794.1l-2.2 4.1 1.3 .7 2.3-4.1zM260.6 771l-1.7 2.4 1.2 .9 1.7-2.5zM157 701.1l0 0 1.1 1.1 0-.1zM157 701.1l0 0 1.1 1.1 0 0zM207 751.1l-1.2 1.2 1.1 1.1 1.2-1.2zM170.3 717.6l-.3 .3 .9 1.2 .4-.3z"/><path fill="#d117ff" d="M367.1 652.6l1.1 5 1.5-.3-1.1-5zM369.4 652.1l1.1 5 1.5-.3-1.1-5.1zM378 658.2l.9 5.2 1.5-.3-.9-5.2zM376.3 662.4l.9 5.2 1.5-.2-.8-5.2zM379.3 665.9l.8 5.2 1.5-.2-.8-5.2zM374.6 674.4l.5 5.1 1.6-.1-.6-5.2zM375 678.2l.5 5.1 1.5-.1-.5-5.2zM382 677.5l.5 5.3 1.5-.2-.5-5.3zM370 689.9l.2 5.1 1.5-.1-.2-5zM383.1 693.2l.1 5.3 1.6 0-.1-5.3zM371.4 704.9l-.1 5 1.5 .1 .2-5.1zM160.5 701.5l0 .1 1.5 .2 0-.2zM248.5 767.6l-1.6 2.1 1.2 1 1.7-2.2zM322.9 821.6l-2.9 3.9 1.2 .9 2.9-3.9zM260.5 779.1l-1.8 2.4 1.2 1 1.8-2.5zM202.8 750.2l-1.2 1.1 1.1 1.1 1.2-1zM229.7 784.7l-2 1.7 1 1.2 2-1.7z"/><path fill="#c020ff" d="M313.2 638l1.5 3.7 1.4-.6-1.4-3.7zM370.6 651.8l1.1 5 1.5-.3-1.1-5zM370.3 655.8l1 5 1.5-.3-1.1-5zM375.8 666.5l.8 5.1 1.5-.2-.8-5.2zM381.1 669.6l.6 5.3 1.6-.2-.7-5.3zM381.6 728.7l-.7 5.3 1.5 .2 .7-5.3z"/><path fill="#ae29ff" d="M314.3 637.5l1.5 3.8 1.4-.6-1.4-3.7zM374.5 658.8l.9 5.2 1.5-.3-.9-5.2zM377 666.3l.7 5.2 1.6-.2-.8-5.3zM377.6 670.1l.6 5.2 1.6-.2-.7-5.2z"/><path fill="#a135fd" d="M315.4 637.1l1.5 3.7 1.4-.5-1.4-3.8zM366.8 656.5l1 5 1.5-.3-1-5zM372.6 655.3l1 5.1 1.5-.3-1-5.1zM379.1 657.9l1 5.3 1.5-.3-1-5.3zM374 662.8l.9 5.2 2.6-.4-.8-5.2zM379.8 661.8l.9 5.3 1.5-.3-.9-5.2zM370 667.4l.7 5 1.6-.2-.8-5.1zM380.5 665.7l.8 5.3 1.5-.2-.8-5.3zM370.6 671.1l.6 5 1.5-.1-.6-5.1zM372.9 670.8l.6 5.1 1.6-.2-.7-5.1zM375.2 670.4l.7 5.2 2.7-.3-.7-5.2zM373.4 674.5l.6 5.1 1.5-.1-.6-5.1zM373.8 678.3l.5 5.1 1.5-.1-.5-5.1z"/><path fill="#b044fa" d="M367.9 656.3l1 5 1.5-.3-1-5zM371.4 655.5l1 5.1 1.5-.3-1-5.1zM368.7 660l.9 5 1.5-.3-.9-5zM371 659.5l.9 5.1 1.5-.3-.9-5.1zM374.1 670.6l.6 5.1 1.5-.2-.6-5.1zM364 675.7l.6 4.9 1.5-.2-.5-4.9zM366 682.8l.3 5 1.6-.1-.4-5zM368.3 682.6l.4 5 1.5-.1-.4-5z"/><path fill="#bf53f7" d="M369.9 659.7l.9 5.1 1.5-.3-.9-5.1zM370.5 663.5l.9 5 1.5-.2-.8-5.1zM368.8 667.6l.8 5 1.5-.2-.7-5.1zM371.2 667.2l.7 5 1.5-.2-.7-5.1zM374.7 666.6l.7 5.2 1.5-.2-.7-5.2zM369.4 671.3l.6 5 1.6-.2-.7-5.1zM371.7 670.9l.7 5.1 1.5-.2-.7-5.1zM365.2 675.5l.5 5 3.9-.4-.5-5zM368 678.9l.4 5 1.6-.1-.5-5zM371 686.1l.2 5.1 1.6-.1-.3-5.1z"/><path fill="#ce63f4" d="M373.7 655l1 5.2 1.5-.3-1-5.2zM367.5 660.2l.9 5 1.6-.3-1-5zM367.1 664.1l.8 4.9 1.5-.2-.8-5zM372.3 667l.8 5.1 2.7-.4-.8-5.1zM368.7 675.1l.6 5 1.5-.1-.6-5.1zM366.8 679.1l.4 4.9 1.6-.1-.5-5zM372.6 678.4l.5 5.1 1.5-.1-.4-5.1zM367.1 682.7l.4 5 1.5-.1-.3-5zM369.5 682.5l.4 5 5-.3-.4-5.1zM369.8 686.2l.3 5 1.5 0-.3-5.1zM372.1 686.1l.3 5 1.6 0-.3-5.1z"/><path fill="#de72f1" d="M366.4 660.4l.9 5 1.5-.3-.9-5zM372.2 659.3l.9 5.1 2.7-.5-1-5.1zM368.2 663.9l.8 5 2.7-.5-.8-5zM367.7 667.7l.7 5 1.5-.2-.7-5zM368.2 671.4l.7 5 1.5-.2-.7-5zM369.9 675l.5 5 1.6-.2-.6-5zM369.1 678.8l.5 5 3.9-.3-.5-5.1z"/><path fill="#ec81ee" d="M365.3 668.1l.8 4.9 2.7-.3-.8-5zM372.2 674.7l.6 5.1 1.5-.2-.6-5.1z"/><path fill="#ee8df0" d="M364.5 657l1 4.9 1.5-.3-1-4.9zM371.7 663.3l.8 5 2.7-.4-.8-5.1zM367.1 671.6l.6 4.9 1.5-.1-.6-5zM371.1 674.8l.5 5.1 1.5-.2-.5-5.1z"/><path fill="#ef99f1" d="M365.9 664.3l.8 4.9 1.5-.2-.8-5z"/></g></g><path d="M179.21 678.89A31.43 31.43 0 0 1 174.57 727.16M206.99 651.11A70.71 70.71 0 0 1 196.53 759.73M234.77 623.33A109.99 109.99 0 0 1 218.5 792.3M262.55 595.55A149.28 149.28 0 0 1 240.47 824.87M290.32 567.78A188.56 188.56 0 0 1 262.43 857.43M156.99 701.11L354.31 587.19M156.99 701.11L377.07 642.14M156.99 701.11L384.84 701.11M156.99 701.11L377.07 760.08M156.99 701.11L354.31 815.03M156.99 701.11L318.1 862.22" stroke="#b0b0b0" stroke-width="1.11" fill="none"/><path d="M156.99 701.11L318.1 540A227.84 227.84 0 0 1 284.4 890Z" stroke="#000" stroke-width="1.11" fill="none" stroke-linejoin="miter"/><g shape-rendering="crispEdges"><rect x="470.25" y="886.5" width="17.5" height="3.5" fill="#000080"/><rect x="470.25" y="883" width="17.5" height="3.5" fill="#001368"/><rect x="470.25" y="879.5" width="17.5" height="3.5" fill="#002650"/><rect x="470.25" y="876" width="17.5" height="3.5" fill="#003837"/><rect x="470.25" y="872.5" width="17.5" height="3.5" fill="#004b1f"/><rect x="470.25" y="869" width="17.5" height="3.5" fill="#005e07"/><rect x="470.25" y="865.5" width="17.5" height="3.5" fill="#004e2e"/><rect x="470.25" y="862" width="17.5" height="3.5" fill="#003d59"/><rect x="470.25" y="858.5" width="17.5" height="3.5" fill="#002b84"/><rect x="470.25" y="855" width="17.5" height="3.5" fill="#001aaf"/><rect x="470.25" y="851.5" width="17.5" height="3.5" fill="#0008da"/><rect x="470.25" y="848" width="17.5" height="3.5" fill="#0013ff"/><rect x="470.25" y="844.5" width="17.5" height="3.5" fill="#0037ff"/><rect x="470.25" y="841" width="17.5" height="3.5" fill="#005cff"/><rect x="470.25" y="837.5" width="17.5" height="3.5" fill="#0080ff"/><rect x="470.25" y="834" width="17.5" height="3.5" fill="#00a4ff"/><rect x="470.25" y="830.5" width="17.5" height="3.5" fill="#00c1ff"/><rect x="470.25" y="827" width="17.5" height="3.5" fill="#00ceff"/><rect x="470.25" y="823.5" width="17.5" height="3.5" fill="#00d9ff"/><rect x="470.25" y="820" width="17.5" height="3.5" fill="#00e4ff"/><rect x="470.25" y="816.5" width="17.5" height="3.5" fill="#00f0ff"/><rect x="470.25" y="813" width="17.5" height="3.5" fill="#00fbf1"/><rect x="470.25" y="809.5" width="17.5" height="3.5" fill="#00fee0"/><rect x="470.25" y="806" width="17.5" height="3.5" fill="#00fdcf"/><rect x="470.25" y="802.5" width="17.5" height="3.5" fill="#00fcbf"/><rect x="470.25" y="799" width="17.5" height="3.5" fill="#00fbae"/><rect x="470.25" y="795.5" width="17.5" height="3.5" fill="#00fa9d"/><rect x="470.25" y="792" width="17.5" height="3.5" fill="#00fa82"/><rect x="470.25" y="788.5" width="17.5" height="3.5" fill="#00fb67"/><rect x="470.25" y="785" width="17.5" height="3.5" fill="#00fc4c"/><rect x="470.25" y="781.5" width="17.5" height="3.5" fill="#00fd31"/><rect x="470.25" y="778" width="17.5" height="3.5" fill="#05ff17"/><rect x="470.25" y="774.5" width="17.5" height="3.5" fill="#16fa00"/><rect x="470.25" y="771" width="17.5" height="3.5" fill="#26f000"/><rect x="470.25" y="767.5" width="17.5" height="3.5" fill="#37e600"/><rect x="470.25" y="764" width="17.5" height="3.5" fill="#47dd00"/><rect x="470.25" y="760.5" width="17.5" height="3.5" fill="#57d300"/><rect x="470.25" y="757" width="17.5" height="3.5" fill="#66d200"/><rect x="470.25" y="753.5" width="17.5" height="3.5" fill="#6cdb00"/><rect x="470.25" y="750" width="17.5" height="3.5" fill="#71e300"/><rect x="470.25" y="746.5" width="17.5" height="3.5" fill="#76ec00"/><rect x="470.25" y="743" width="17.5" height="3.5" fill="#7bf400"/><rect x="470.25" y="739.5" width="17.5" height="3.5" fill="#80fc09"/><rect x="470.25" y="736" width="17.5" height="3.5" fill="#8cff13"/><rect x="470.25" y="732.5" width="17.5" height="3.5" fill="#98ff1d"/><rect x="470.25" y="729" width="17.5" height="3.5" fill="#a4ff27"/><rect x="470.25" y="725.5" width="17.5" height="3.5" fill="#afff32"/><rect x="470.25" y="722" width="17.5" height="3.5" fill="#bbff3b"/><rect x="470.25" y="718.5" width="17.5" height="3.5" fill="#c7ff31"/><rect x="470.25" y="715" width="17.5" height="3.5" fill="#d2ff27"/><rect x="470.25" y="711.5" width="17.5" height="3.5" fill="#deff1d"/><rect x="470.25" y="708" width="17.5" height="3.5" fill="#eaff12"/><rect x="470.25" y="704.5" width="17.5" height="3.5" fill="#f6fd08"/><rect x="470.25" y="701" width="17.5" height="3.5" fill="#fff600"/><rect x="470.25" y="697.5" width="17.5" height="3.5" fill="#fff000"/><rect x="470.25" y="694" width="17.5" height="3.5" fill="#ffea00"/><rect x="470.25" y="690.5" width="17.5" height="3.5" fill="#ffe300"/><rect x="470.25" y="687" width="17.5" height="3.5" fill="#ffdd00"/><rect x="470.25" y="683.5" width="17.5" height="3.5" fill="#ffd701"/><rect x="470.25" y="680" width="17.5" height="3.5" fill="#ffd004"/><rect x="470.25" y="676.5" width="17.5" height="3.5" fill="#ffca07"/><rect x="470.25" y="673" width="17.5" height="3.5" fill="#ffc40a"/><rect x="470.25" y="669.5" width="17.5" height="3.5" fill="#ffbd0d"/><rect x="470.25" y="666" width="17.5" height="3.5" fill="#ffb00d"/><rect x="470.25" y="662.5" width="17.5" height="3.5" fill="#ff9a0a"/><rect x="470.25" y="659" width="17.5" height="3.5" fill="#ff8508"/><rect x="470.25" y="655.5" width="17.5" height="3.5" fill="#ff7006"/><rect x="470.25" y="652" width="17.5" height="3.5" fill="#ff5b03"/><rect x="470.25" y="648.5" width="17.5" height="3.5" fill="#ff4701"/><rect x="470.25" y="645" width="17.5" height="3.5" fill="#ff3a00"/><rect x="470.25" y="641.5" width="17.5" height="3.5" fill="#ff2e00"/><rect x="470.25" y="638" width="17.5" height="3.5" fill="#ff2200"/><rect x="470.25" y="634.5" width="17.5" height="3.5" fill="#ff1600"/><rect x="470.25" y="631" width="17.5" height="3.5" fill="#ff0900"/><rect x="470.25" y="627.5" width="17.5" height="3.5" fill="#ff002e"/><rect x="470.25" y="624" width="17.5" height="3.5" fill="#ff005c"/><rect x="470.25" y="620.5" width="17.5" height="3.5" fill="#ff0089"/><rect x="470.25" y="617" width="17.5" height="3.5" fill="#ff00b7"/><rect x="470.25" y="613.5" width="17.5" height="3.5" fill="#ff00e5"/><rect x="470.25" y="610" width="17.5" height="3.5" fill="#f505fd"/><rect x="470.25" y="606.5" width="17.5" height="3.5" fill="#e30eff"/><rect x="470.25" y="603" width="17.5" height="3.5" fill="#d117ff"/><rect x="470.25" y="599.5" width="17.5" height="3.5" fill="#c020ff"/><rect x="470.25" y="596" width="17.5" height="3.5" fill="#ae29ff"/><rect x="470.25" y="592.5" width="17.5" height="3.5" fill="#a135fd"/><rect x="470.25" y="589" width="17.5" height="3.5" fill="#b044fa"/><rect x="470.25" y="585.5" width="17.5" height="3.5" fill="#bf53f7"/><rect x="470.25" y="582" width="17.5" height="3.5" fill="#ce63f4"/><rect x="470.25" y="578.5" width="17.5" height="3.5" fill="#de72f1"/><rect x="470.25" y="575" width="17.5" height="3.5" fill="#ec81ee"/><rect x="470.25" y="571.5" width="17.5" height="3.5" fill="#ee8df0"/><rect x="470.25" y="568" width="17.5" height="3.5" fill="#ef99f1"/><rect x="470.25" y="564.5" width="17.5" height="3.5" fill="#f1a4f3"/><rect x="470.25" y="561" width="17.5" height="3.5" fill="#f3b0f5"/><rect x="470.25" y="557.5" width="17.5" height="3.5" fill="#f5bcf6"/><rect x="470.25" y="554" width="17.5" height="3.5" fill="#f7c8f8"/><rect x="470.25" y="550.5" width="17.5" height="3.5" fill="#f9d4f9"/><rect x="470.25" y="547" width="17.5" height="3.5" fill="#fae0fb"/><rect x="470.25" y="543.5" width="17.5" height="3.5" fill="#fcecfc"/><rect x="470.25" y="540" width="17.5" height="3.5" fill="#fef8fe"/></g><rect x="470.5" y="540.5" width="18" height="350" fill="none" stroke="#000" stroke-width="1.11"/><path d="M488.5 890.5h4.86M488.5 846.5h4.86M488.5 802.5h4.86M488.5 758.5h4.86M488.5 715.5h4.86M488.5 671.5h4.86M488.5 627.5h4.86M488.5 583.5h4.86M488.5 540.5h4.86" stroke="#000" stroke-width="1.11" fill="none"/><text transform="translate(72.36 32.4) scale(0.932 1)" x="-0.01 11.89 22.12 33.93 43.16 54.89 66.67 73.24 86.51 99.75 105.43" y="0" font-size="17.33">SKYLER-HU  </text><text transform="translate(72.36 32.4) scale(0.997 1)" x="103.7 114.56 124.97 135.75 146.45 157.09 167.5 178.35 188.74 194.05" y="0" font-size="17.33">20250620  </text><text transform="translate(72.36 32.4) scale(0.996 1)" x="199.87 210.51 220.94 231.74 242.36 253.03 263.49 269.01 279.71 290.37 300.75" y="0" font-size="17.33">002515.963 </text><text transform="translate(72.36 32.4) scale(0.959 1)" x="317.6 330.23 339.52 352.29" y="0" font-size="17.33">UTC </text><text transform="translate(72.36 32.4) scale(0.992 1)" x="345.25 356.8 361.44 372.04 381.04 392.48 398.64 403.22 413.72 424.09" y="0" font-size="17.33">Elevation </text><text transform="translate(72.36 32.4) scale(1.011 1)" x="421.44 431.71 442.65" y="0" font-size="17.33">02°</text><text transform="translate(225.5 111.67) scale(1.055 1)" x="-0.53 10.34 20.56 25.82 30.02 39.48 49 54.82 59.28 68.56 73.32 79.21" y="0" font-size="17.33">Reflectivity</text><text transform="translate(137.34 248.01) scale(0.999 1)" x="0.35 9.24 18.08 26.93" y="0" font-size="14.44">5000</text><text transform="translate(156.24 221.24) scale(1.005 1)" x="0.3 9.17 17.96 26.75 35.54" y="0" font-size="14.44">10000</text><text transform="translate(184.02 193.46) scale(0.994 1)" x="0.36 9.27 18.21 27.11 36" y="0" font-size="14.44">15000</text><text transform="translate(211.92 165.68) scale(1.007 1)" x="0.19 9.15 17.93 26.71 35.49" y="0" font-size="14.44">20000</text><text transform="translate(239.7 137.9) scale(0.995 1)" x="0.24 9.25 18.18 27.06 35.94" y="0" font-size="14.44">25000</text><text transform="translate(358.84 161.47) scale(1.038 1)" x="0.24 8.75 17.48" y="0" font-size="14.44">60°</text><text transform="translate(383.6 221.11) scale(0.994 1)" x="0.4 9.26 18.38" y="0" font-size="14.44">75°</text><text transform="translate(391.97 285.11) scale(1.037 1)" x="0.2 8.76 17.5" y="0" font-size="14.44">90°</text><text transform="translate(379.17 349.11) scale(0.994 1)" x="0.35 9.32 18.16 27.29" y="0" font-size="14.44">105°</text><text transform="translate(354.46 408.75) scale(1.000 1)" x="0.33 9.05 18.08 27.1" y="0" font-size="14.44">120°</text><text transform="translate(315.16 459.97) scale(0.982 1)" x="0.41 9.49 18.42 27.64" y="0" font-size="14.44">135°</text><text transform="translate(239.38 531.67) scale(1.028 1)" x="-0.24 10.03 20.13 24.45 34.15 43.47 48.36 54.45" y="0" font-size="17.33">Velocity</text><text transform="translate(137.34 668.01) scale(0.999 1)" x="0.35 9.24 18.08 26.93" y="0" font-size="14.44">5000</text><text transform="translate(156.24 641.24) scale(1.005 1)" x="0.3 9.17 17.96 26.75 35.54" y="0" font-size="14.44">10000</text><text transform="translate(184.02 613.46) scale(0.994 1)" x="0.36 9.27 18.21 27.11 36" y="0" font-size="14.44">15000</text><text transform="translate(211.92 585.68) scale(1.007 1)" x="0.19 9.15 17.93 26.71 35.49" y="0" font-size="14.44">20000</text><text transform="translate(239.7 557.9) scale(0.995 1)" x="0.24 9.25 18.18 27.06 35.94" y="0" font-size="14.44">25000</text><text transform="translate(358.84 581.47) scale(1.038 1)" x="0.24 8.75 17.48" y="0" font-size="14.44">60°</text><text transform="translate(383.6 641.11) scale(0.994 1)" x="0.4 9.26 18.38" y="0" font-size="14.44">75°</text><text transform="translate(391.97 705.11) scale(1.037 1)" x="0.2 8.76 17.5" y="0" font-size="14.44">90°</text><text transform="translate(379.17 769.11) scale(0.994 1)" x="0.35 9.32 18.16 27.29" y="0" font-size="14.44">105°</text><text transform="translate(354.46 828.75) scale(1.000 1)" x="0.33 9.05 18.08 27.1" y="0" font-size="14.44">120°</text><text transform="translate(315.16 879.97) scale(0.982 1)" x="0.41 9.49 18.42 27.64" y="0" font-size="14.44">135°</text><text transform="translate(497.47 475.5) scale(1.014 1)" x="0.34" y="0" font-size="14.44">0</text><text transform="translate(497.47 440.5) scale(0.957 1)" x="0.54" y="0" font-size="14.44">5</text><text transform="translate(497.47 405.5) scale(0.992 1)" x="0.36 9.34" y="0" font-size="14.44">10</text><text transform="translate(497.47 370.5) scale(0.962 1)" x="0.51 9.7" y="0" font-size="14.44">15</text><text transform="translate(497.47 335.5) scale(0.996 1)" x="0.23 9.29" y="0" font-size="14.44">20</text><text transform="translate(497.47 300.5) scale(0.967 1)" x="0.36 9.64" y="0" font-size="14.44">25</text><text transform="translate(497.47 265.5) scale(0.994 1)" x="0.45 9.32" y="0" font-size="14.44">30</text><text transform="translate(497.47 230.5) scale(0.965 1)" x="0.58 9.66" y="0" font-size="14.44">35</text><text transform="translate(497.47 195.5) scale(1.014 1)" x="0.34 9.06" y="0" font-size="14.44">40</text><text transform="translate(497.47 160.5) scale(0.986 1)" x="0.46 9.37" y="0" font-size="14.44">45</text><text transform="translate(497.47 125.5) scale(0.985 1)" x="0.41 9.43" y="0" font-size="14.44">50</text><text transform="translate(531.65 349.91) rotate(-90) scale(1.055 1)" x="-0.44 8.62 17.13 21.52 25.01 32.9 40.83 45.69 49.4 57.14 61.1 66.01 73.61" y="0" font-size="14.44">Reflectivity </text><text transform="translate(531.65 349.91) rotate(-90) scale(1.006 1)" x="81.73 90.1 99.99" y="0" font-size="14.44">dBZ</text><text transform="translate(497.47 895.5) scale(1.079 1)" x="1.17 10.69 19.05" y="0" font-size="14.44">−20</text><text transform="translate(497.47 851.75) scale(1.059 1)" x="1.27 11.07 19.44" y="0" font-size="14.44">−15</text><text transform="translate(497.47 808) scale(1.078 1)" x="1.18 10.79 19.07" y="0" font-size="14.44">−10</text><text transform="translate(497.47 764.25) scale(1.099 1)" x="1.07 10.54" y="0" font-size="14.44">−5</text><text transform="translate(497.47 720.5) scale(1.014 1)" x="0.34" y="0" font-size="14.44">0</text><text transform="translate(497.47 676.75) scale(0.957 1)" x="0.54" y="0" font-size="14.44">5</text><text transform="translate(497.47 633) scale(0.992 1)" x="0.36 9.34" y="0" font-size="14.44">10</text><text transform="translate(497.47 589.25) scale(0.962 1)" x="0.51 9.7" y="0" font-size="14.44">15</text><text transform="translate(497.47 545.5) scale(0.996 1)" x="0.23 9.29" y="0" font-size="14.44">20</text><text transform="translate(543.28 762.59) rotate(-90) scale(1.028 1)" x="-0.2 8.36 16.77 20.37 28.46 36.22 40.3 45.38 53.13" y="0" font-size="14.44">Velocity </text><text transform="translate(543.28 762.59) rotate(-90) scale(0.990 1)" x="59.49 65.85 79.03 83.54 91.41" y="0" font-size="14.44">(m/s)</text><text transform="translate(163.55 168.91) rotate(-45) scale(1.041 1)" x="-0.26 11.62 20.29 25.06 33.73 38.59" y="0" font-size="14.44">Meters</text><text transform="translate(163.55 588.91) rotate(-45) scale(1.041 1)" x="-0.26 11.62 20.29 25.06 33.73 38.59" y="0" font-size="14.44">Meters</text></svg></body></html>
